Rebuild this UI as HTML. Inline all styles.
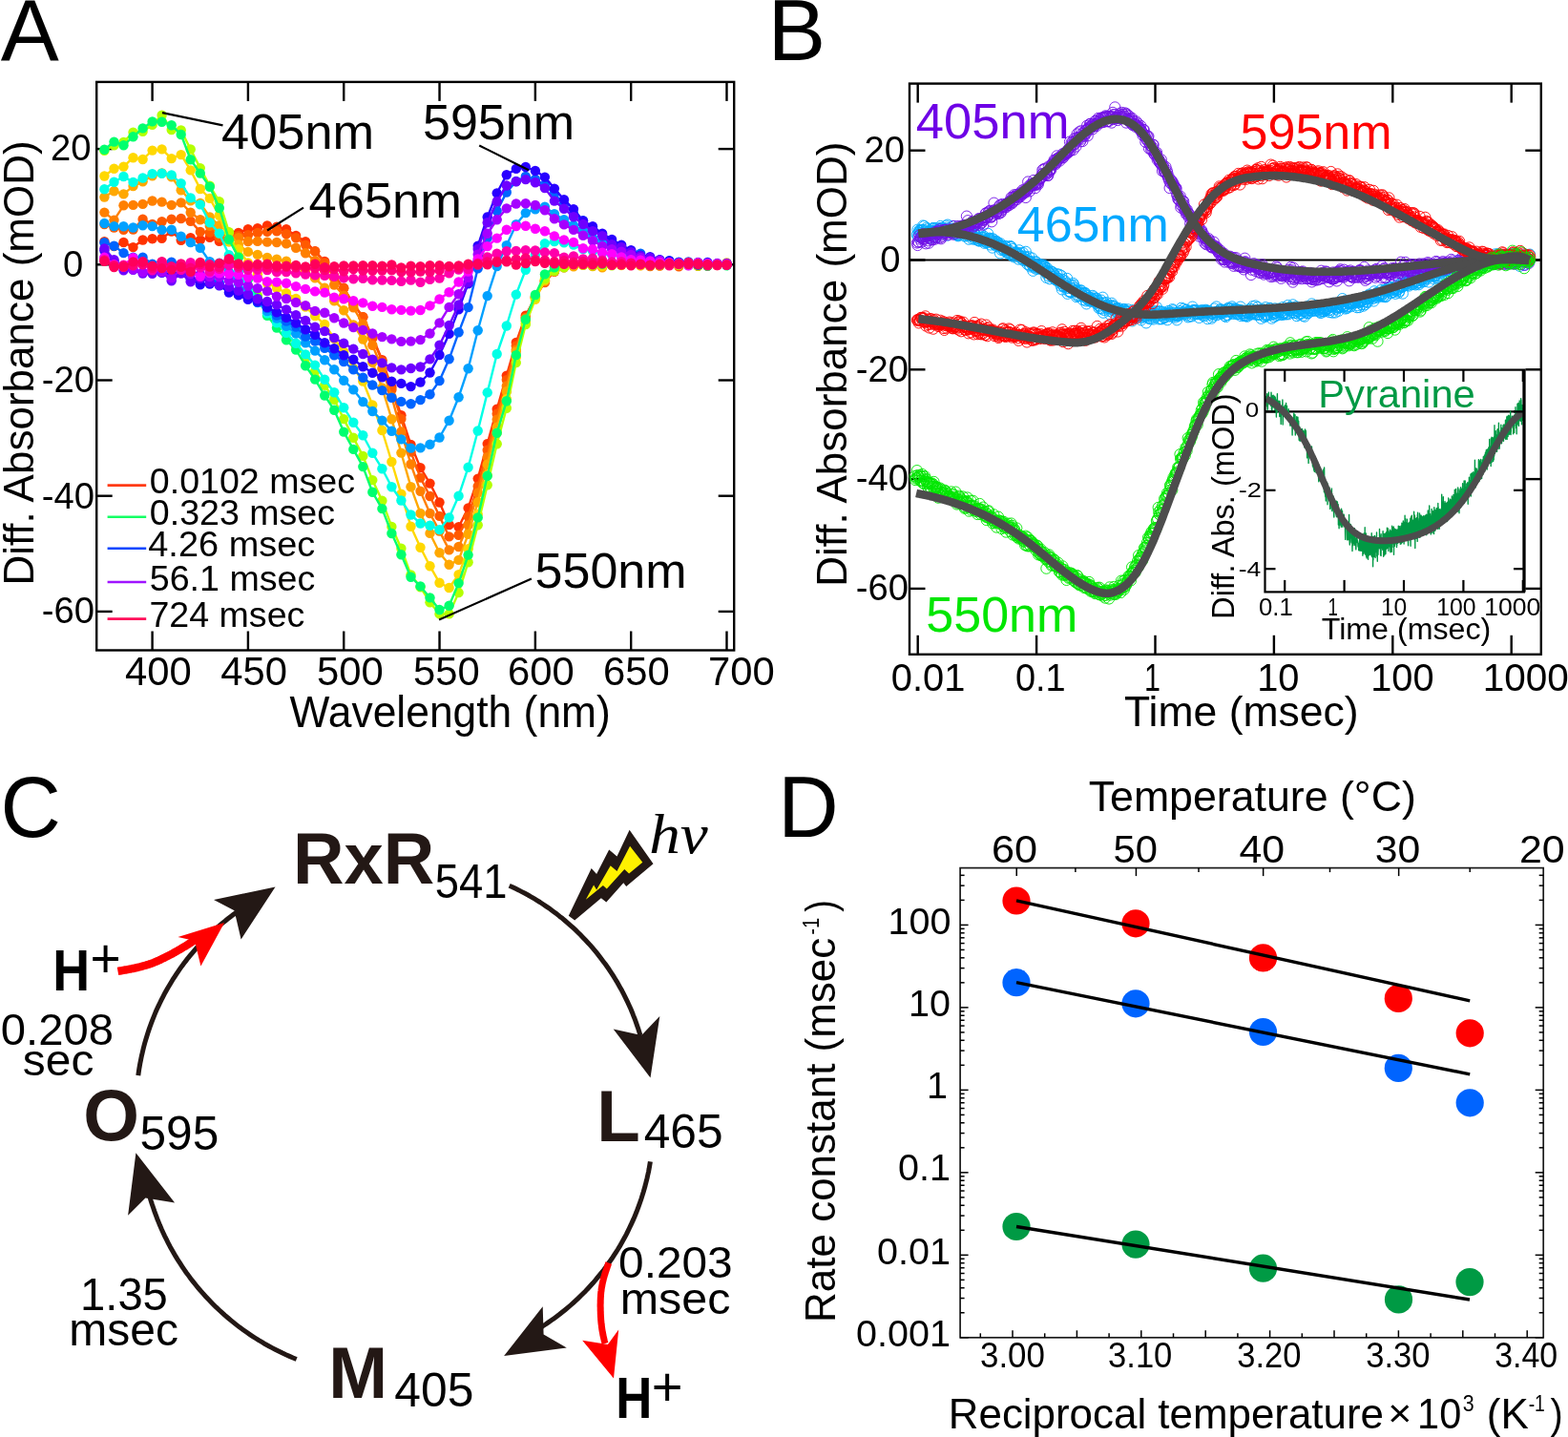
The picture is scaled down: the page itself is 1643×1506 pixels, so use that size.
<!DOCTYPE html>
<html><head><meta charset="utf-8"><title>Figure</title>
<style>html,body{margin:0;padding:0;background:#fff;} svg{display:block;}</style></head>
<body><svg width="1643" height="1506" viewBox="0 0 1643 1506">
<rect width="1643" height="1506" fill="#fff"/>
<rect x="101.2" y="85.9" width="668.0" height="595.6" fill="none" stroke="#000" stroke-width="2.4"/>
<line x1="159.60" y1="85.90" x2="159.60" y2="105.90" stroke="#000" stroke-width="2.4" stroke-linecap="butt"/>
<line x1="159.60" y1="681.50" x2="159.60" y2="661.50" stroke="#000" stroke-width="2.4" stroke-linecap="butt"/>
<line x1="259.91" y1="85.90" x2="259.91" y2="105.90" stroke="#000" stroke-width="2.4" stroke-linecap="butt"/>
<line x1="259.91" y1="681.50" x2="259.91" y2="661.50" stroke="#000" stroke-width="2.4" stroke-linecap="butt"/>
<line x1="360.23" y1="85.90" x2="360.23" y2="105.90" stroke="#000" stroke-width="2.4" stroke-linecap="butt"/>
<line x1="360.23" y1="681.50" x2="360.23" y2="661.50" stroke="#000" stroke-width="2.4" stroke-linecap="butt"/>
<line x1="460.54" y1="85.90" x2="460.54" y2="105.90" stroke="#000" stroke-width="2.4" stroke-linecap="butt"/>
<line x1="460.54" y1="681.50" x2="460.54" y2="661.50" stroke="#000" stroke-width="2.4" stroke-linecap="butt"/>
<line x1="560.86" y1="85.90" x2="560.86" y2="105.90" stroke="#000" stroke-width="2.4" stroke-linecap="butt"/>
<line x1="560.86" y1="681.50" x2="560.86" y2="661.50" stroke="#000" stroke-width="2.4" stroke-linecap="butt"/>
<line x1="661.17" y1="85.90" x2="661.17" y2="105.90" stroke="#000" stroke-width="2.4" stroke-linecap="butt"/>
<line x1="661.17" y1="681.50" x2="661.17" y2="661.50" stroke="#000" stroke-width="2.4" stroke-linecap="butt"/>
<line x1="761.49" y1="85.90" x2="761.49" y2="105.90" stroke="#000" stroke-width="2.4" stroke-linecap="butt"/>
<line x1="761.49" y1="681.50" x2="761.49" y2="661.50" stroke="#000" stroke-width="2.4" stroke-linecap="butt"/>
<line x1="101.20" y1="156.10" x2="117.70" y2="156.10" stroke="#000" stroke-width="2.4" stroke-linecap="butt"/>
<line x1="769.20" y1="156.10" x2="752.70" y2="156.10" stroke="#000" stroke-width="2.4" stroke-linecap="butt"/>
<line x1="101.20" y1="277.30" x2="117.70" y2="277.30" stroke="#000" stroke-width="2.4" stroke-linecap="butt"/>
<line x1="769.20" y1="277.30" x2="752.70" y2="277.30" stroke="#000" stroke-width="2.4" stroke-linecap="butt"/>
<line x1="101.20" y1="398.50" x2="117.70" y2="398.50" stroke="#000" stroke-width="2.4" stroke-linecap="butt"/>
<line x1="769.20" y1="398.50" x2="752.70" y2="398.50" stroke="#000" stroke-width="2.4" stroke-linecap="butt"/>
<line x1="101.20" y1="519.70" x2="117.70" y2="519.70" stroke="#000" stroke-width="2.4" stroke-linecap="butt"/>
<line x1="769.20" y1="519.70" x2="752.70" y2="519.70" stroke="#000" stroke-width="2.4" stroke-linecap="butt"/>
<line x1="101.20" y1="640.90" x2="117.70" y2="640.90" stroke="#000" stroke-width="2.4" stroke-linecap="butt"/>
<line x1="769.20" y1="640.90" x2="752.70" y2="640.90" stroke="#000" stroke-width="2.4" stroke-linecap="butt"/>
<g>
<polyline points="109.4,253.1 119.5,258.1 129.5,254.0 139.5,259.1 149.6,251.5 159.6,250.3 169.6,249.8 179.7,242.5 189.7,251.7 199.7,249.1 209.8,251.4 219.8,248.8 229.8,252.7 239.9,253.1 249.9,244.0 259.9,240.3 269.9,239.1 280.0,236.5 290.0,237.8 300.0,240.3 310.1,246.9 320.1,253.3 330.1,263.3 340.2,274.0 350.2,289.3 360.2,301.7 370.3,319.0 380.3,332.3 390.3,353.1 400.4,377.2 410.4,406.0 420.4,435.3 430.5,466.0 440.5,490.1 450.5,506.6 460.5,526.5 470.6,550.0 480.6,552.2 490.6,532.4 500.7,501.6 510.7,465.1 520.7,428.7 530.8,393.6 540.8,359.0 550.8,330.6 560.9,312.0 570.9,294.7 580.9,284.5 591.0,280.3 601.0,275.5 611.0,276.6 621.0,278.4 631.1,277.2 641.1,276.8 651.1,277.5 661.2,276.7 671.2,277.4 681.2,276.7 691.3,276.0 701.3,277.9 711.3,277.1 721.4,277.7 731.4,277.2 741.4,278.4 751.5,277.8 761.5,277.5" fill="none" stroke="#ff3300" stroke-width="2.4" stroke-linejoin="round" />
<g fill="#ff3300"><circle cx="109.4" cy="253.1" r="5.2"/><circle cx="119.5" cy="258.1" r="5.2"/><circle cx="129.5" cy="254.0" r="5.2"/><circle cx="139.5" cy="259.1" r="5.2"/><circle cx="149.6" cy="251.5" r="5.2"/><circle cx="159.6" cy="250.3" r="5.2"/><circle cx="169.6" cy="249.8" r="5.2"/><circle cx="179.7" cy="242.5" r="5.2"/><circle cx="189.7" cy="251.7" r="5.2"/><circle cx="199.7" cy="249.1" r="5.2"/><circle cx="209.8" cy="251.4" r="5.2"/><circle cx="219.8" cy="248.8" r="5.2"/><circle cx="229.8" cy="252.7" r="5.2"/><circle cx="239.9" cy="253.1" r="5.2"/><circle cx="249.9" cy="244.0" r="5.2"/><circle cx="259.9" cy="240.3" r="5.2"/><circle cx="269.9" cy="239.1" r="5.2"/><circle cx="280.0" cy="236.5" r="5.2"/><circle cx="290.0" cy="237.8" r="5.2"/><circle cx="300.0" cy="240.3" r="5.2"/><circle cx="310.1" cy="246.9" r="5.2"/><circle cx="320.1" cy="253.3" r="5.2"/><circle cx="330.1" cy="263.3" r="5.2"/><circle cx="340.2" cy="274.0" r="5.2"/><circle cx="350.2" cy="289.3" r="5.2"/><circle cx="360.2" cy="301.7" r="5.2"/><circle cx="370.3" cy="319.0" r="5.2"/><circle cx="380.3" cy="332.3" r="5.2"/><circle cx="390.3" cy="353.1" r="5.2"/><circle cx="400.4" cy="377.2" r="5.2"/><circle cx="410.4" cy="406.0" r="5.2"/><circle cx="420.4" cy="435.3" r="5.2"/><circle cx="430.5" cy="466.0" r="5.2"/><circle cx="440.5" cy="490.1" r="5.2"/><circle cx="450.5" cy="506.6" r="5.2"/><circle cx="460.5" cy="526.5" r="5.2"/><circle cx="470.6" cy="550.0" r="5.2"/><circle cx="480.6" cy="552.2" r="5.2"/><circle cx="490.6" cy="532.4" r="5.2"/><circle cx="500.7" cy="501.6" r="5.2"/><circle cx="510.7" cy="465.1" r="5.2"/><circle cx="520.7" cy="428.7" r="5.2"/><circle cx="530.8" cy="393.6" r="5.2"/><circle cx="540.8" cy="359.0" r="5.2"/><circle cx="550.8" cy="330.6" r="5.2"/><circle cx="560.9" cy="312.0" r="5.2"/><circle cx="570.9" cy="294.7" r="5.2"/><circle cx="580.9" cy="284.5" r="5.2"/><circle cx="591.0" cy="280.3" r="5.2"/><circle cx="601.0" cy="275.5" r="5.2"/><circle cx="611.0" cy="276.6" r="5.2"/><circle cx="621.0" cy="278.4" r="5.2"/><circle cx="631.1" cy="277.2" r="5.2"/><circle cx="641.1" cy="276.8" r="5.2"/><circle cx="651.1" cy="277.5" r="5.2"/><circle cx="661.2" cy="276.7" r="5.2"/><circle cx="671.2" cy="277.4" r="5.2"/><circle cx="681.2" cy="276.7" r="5.2"/><circle cx="691.3" cy="276.0" r="5.2"/><circle cx="701.3" cy="277.9" r="5.2"/><circle cx="711.3" cy="277.1" r="5.2"/><circle cx="721.4" cy="277.7" r="5.2"/><circle cx="731.4" cy="277.2" r="5.2"/><circle cx="741.4" cy="278.4" r="5.2"/><circle cx="751.5" cy="277.8" r="5.2"/><circle cx="761.5" cy="277.5" r="5.2"/></g>
<polyline points="109.4,235.1 119.5,238.5 129.5,240.7 139.5,240.6 149.6,229.7 159.6,235.0 169.6,232.2 179.7,229.7 189.7,229.0 199.7,231.8 209.8,242.9 219.8,243.6 229.8,249.0 239.9,244.0 249.9,247.2 259.9,246.3 269.9,244.0 280.0,242.9 290.0,242.3 300.0,245.2 310.1,249.2 320.1,256.6 330.1,263.5 340.2,275.5 350.2,290.9 360.2,302.2 370.3,318.2 380.3,332.1 390.3,354.4 400.4,378.6 410.4,408.6 420.4,439.0 430.5,473.6 440.5,500.6 450.5,520.0 460.5,540.9 470.6,562.4 480.6,560.8 490.6,541.4 500.7,509.7 510.7,471.7 520.7,433.8 530.8,398.1 540.8,362.5 550.8,332.6 560.9,310.6 570.9,296.0 580.9,284.5 591.0,279.6 601.0,278.3 611.0,277.1 621.0,278.1 631.1,276.4 641.1,277.1 651.1,277.2 661.2,277.8 671.2,277.4 681.2,279.1 691.3,278.3 701.3,277.0 711.3,279.2 721.4,276.5 731.4,278.9 741.4,276.6 751.5,278.1 761.5,276.6" fill="none" stroke="#ff5a00" stroke-width="2.4" stroke-linejoin="round" />
<g fill="#ff5a00"><circle cx="109.4" cy="235.1" r="5.2"/><circle cx="119.5" cy="238.5" r="5.2"/><circle cx="129.5" cy="240.7" r="5.2"/><circle cx="139.5" cy="240.6" r="5.2"/><circle cx="149.6" cy="229.7" r="5.2"/><circle cx="159.6" cy="235.0" r="5.2"/><circle cx="169.6" cy="232.2" r="5.2"/><circle cx="179.7" cy="229.7" r="5.2"/><circle cx="189.7" cy="229.0" r="5.2"/><circle cx="199.7" cy="231.8" r="5.2"/><circle cx="209.8" cy="242.9" r="5.2"/><circle cx="219.8" cy="243.6" r="5.2"/><circle cx="229.8" cy="249.0" r="5.2"/><circle cx="239.9" cy="244.0" r="5.2"/><circle cx="249.9" cy="247.2" r="5.2"/><circle cx="259.9" cy="246.3" r="5.2"/><circle cx="269.9" cy="244.0" r="5.2"/><circle cx="280.0" cy="242.9" r="5.2"/><circle cx="290.0" cy="242.3" r="5.2"/><circle cx="300.0" cy="245.2" r="5.2"/><circle cx="310.1" cy="249.2" r="5.2"/><circle cx="320.1" cy="256.6" r="5.2"/><circle cx="330.1" cy="263.5" r="5.2"/><circle cx="340.2" cy="275.5" r="5.2"/><circle cx="350.2" cy="290.9" r="5.2"/><circle cx="360.2" cy="302.2" r="5.2"/><circle cx="370.3" cy="318.2" r="5.2"/><circle cx="380.3" cy="332.1" r="5.2"/><circle cx="390.3" cy="354.4" r="5.2"/><circle cx="400.4" cy="378.6" r="5.2"/><circle cx="410.4" cy="408.6" r="5.2"/><circle cx="420.4" cy="439.0" r="5.2"/><circle cx="430.5" cy="473.6" r="5.2"/><circle cx="440.5" cy="500.6" r="5.2"/><circle cx="450.5" cy="520.0" r="5.2"/><circle cx="460.5" cy="540.9" r="5.2"/><circle cx="470.6" cy="562.4" r="5.2"/><circle cx="480.6" cy="560.8" r="5.2"/><circle cx="490.6" cy="541.4" r="5.2"/><circle cx="500.7" cy="509.7" r="5.2"/><circle cx="510.7" cy="471.7" r="5.2"/><circle cx="520.7" cy="433.8" r="5.2"/><circle cx="530.8" cy="398.1" r="5.2"/><circle cx="540.8" cy="362.5" r="5.2"/><circle cx="550.8" cy="332.6" r="5.2"/><circle cx="560.9" cy="310.6" r="5.2"/><circle cx="570.9" cy="296.0" r="5.2"/><circle cx="580.9" cy="284.5" r="5.2"/><circle cx="591.0" cy="279.6" r="5.2"/><circle cx="601.0" cy="278.3" r="5.2"/><circle cx="611.0" cy="277.1" r="5.2"/><circle cx="621.0" cy="278.1" r="5.2"/><circle cx="631.1" cy="276.4" r="5.2"/><circle cx="641.1" cy="277.1" r="5.2"/><circle cx="651.1" cy="277.2" r="5.2"/><circle cx="661.2" cy="277.8" r="5.2"/><circle cx="671.2" cy="277.4" r="5.2"/><circle cx="681.2" cy="279.1" r="5.2"/><circle cx="691.3" cy="278.3" r="5.2"/><circle cx="701.3" cy="277.0" r="5.2"/><circle cx="711.3" cy="279.2" r="5.2"/><circle cx="721.4" cy="276.5" r="5.2"/><circle cx="731.4" cy="278.9" r="5.2"/><circle cx="741.4" cy="276.6" r="5.2"/><circle cx="751.5" cy="278.1" r="5.2"/><circle cx="761.5" cy="276.6" r="5.2"/></g>
<polyline points="109.4,222.6 119.5,230.6 129.5,215.3 139.5,214.9 149.6,213.9 159.6,210.5 169.6,211.6 179.7,214.9 189.7,212.4 199.7,222.7 209.8,230.2 219.8,236.8 229.8,245.0 239.9,252.2 249.9,249.2 259.9,253.0 269.9,252.9 280.0,253.6 290.0,254.0 300.0,255.3 310.1,259.8 320.1,265.3 330.1,273.2 340.2,283.6 350.2,298.5 360.2,309.7 370.3,322.3 380.3,339.5 390.3,361.8 400.4,386.3 410.4,415.7 420.4,452.4 430.5,486.5 440.5,514.7 450.5,538.0 460.5,556.6 470.6,576.4 480.6,573.0 490.6,550.4 500.7,516.4 510.7,479.1 520.7,439.8 530.8,404.4 540.8,366.6 550.8,333.4 560.9,312.0 570.9,294.3 580.9,284.2 591.0,279.9 601.0,277.8 611.0,276.7 621.0,277.6 631.1,277.4 641.1,277.3 651.1,276.2 661.2,276.7 671.2,277.0 681.2,277.8 691.3,278.6 701.3,276.4 711.3,276.4 721.4,277.4 731.4,276.8 741.4,276.6 751.5,276.5 761.5,276.5" fill="none" stroke="#ff8000" stroke-width="2.4" stroke-linejoin="round" />
<g fill="#ff8000"><circle cx="109.4" cy="222.6" r="5.2"/><circle cx="119.5" cy="230.6" r="5.2"/><circle cx="129.5" cy="215.3" r="5.2"/><circle cx="139.5" cy="214.9" r="5.2"/><circle cx="149.6" cy="213.9" r="5.2"/><circle cx="159.6" cy="210.5" r="5.2"/><circle cx="169.6" cy="211.6" r="5.2"/><circle cx="179.7" cy="214.9" r="5.2"/><circle cx="189.7" cy="212.4" r="5.2"/><circle cx="199.7" cy="222.7" r="5.2"/><circle cx="209.8" cy="230.2" r="5.2"/><circle cx="219.8" cy="236.8" r="5.2"/><circle cx="229.8" cy="245.0" r="5.2"/><circle cx="239.9" cy="252.2" r="5.2"/><circle cx="249.9" cy="249.2" r="5.2"/><circle cx="259.9" cy="253.0" r="5.2"/><circle cx="269.9" cy="252.9" r="5.2"/><circle cx="280.0" cy="253.6" r="5.2"/><circle cx="290.0" cy="254.0" r="5.2"/><circle cx="300.0" cy="255.3" r="5.2"/><circle cx="310.1" cy="259.8" r="5.2"/><circle cx="320.1" cy="265.3" r="5.2"/><circle cx="330.1" cy="273.2" r="5.2"/><circle cx="340.2" cy="283.6" r="5.2"/><circle cx="350.2" cy="298.5" r="5.2"/><circle cx="360.2" cy="309.7" r="5.2"/><circle cx="370.3" cy="322.3" r="5.2"/><circle cx="380.3" cy="339.5" r="5.2"/><circle cx="390.3" cy="361.8" r="5.2"/><circle cx="400.4" cy="386.3" r="5.2"/><circle cx="410.4" cy="415.7" r="5.2"/><circle cx="420.4" cy="452.4" r="5.2"/><circle cx="430.5" cy="486.5" r="5.2"/><circle cx="440.5" cy="514.7" r="5.2"/><circle cx="450.5" cy="538.0" r="5.2"/><circle cx="460.5" cy="556.6" r="5.2"/><circle cx="470.6" cy="576.4" r="5.2"/><circle cx="480.6" cy="573.0" r="5.2"/><circle cx="490.6" cy="550.4" r="5.2"/><circle cx="500.7" cy="516.4" r="5.2"/><circle cx="510.7" cy="479.1" r="5.2"/><circle cx="520.7" cy="439.8" r="5.2"/><circle cx="530.8" cy="404.4" r="5.2"/><circle cx="540.8" cy="366.6" r="5.2"/><circle cx="550.8" cy="333.4" r="5.2"/><circle cx="560.9" cy="312.0" r="5.2"/><circle cx="570.9" cy="294.3" r="5.2"/><circle cx="580.9" cy="284.2" r="5.2"/><circle cx="591.0" cy="279.9" r="5.2"/><circle cx="601.0" cy="277.8" r="5.2"/><circle cx="611.0" cy="276.7" r="5.2"/><circle cx="621.0" cy="277.6" r="5.2"/><circle cx="631.1" cy="277.4" r="5.2"/><circle cx="641.1" cy="277.3" r="5.2"/><circle cx="651.1" cy="276.2" r="5.2"/><circle cx="661.2" cy="276.7" r="5.2"/><circle cx="671.2" cy="277.0" r="5.2"/><circle cx="681.2" cy="277.8" r="5.2"/><circle cx="691.3" cy="278.6" r="5.2"/><circle cx="701.3" cy="276.4" r="5.2"/><circle cx="711.3" cy="276.4" r="5.2"/><circle cx="721.4" cy="277.4" r="5.2"/><circle cx="731.4" cy="276.8" r="5.2"/><circle cx="741.4" cy="276.6" r="5.2"/><circle cx="751.5" cy="276.5" r="5.2"/><circle cx="761.5" cy="276.5" r="5.2"/></g>
<polyline points="109.4,206.6 119.5,200.3 129.5,203.4 139.5,195.1 149.6,190.3 159.6,184.3 169.6,181.4 179.7,185.3 189.7,199.3 199.7,210.4 209.8,213.0 219.8,227.5 229.8,236.2 239.9,243.7 249.9,256.4 259.9,263.9 269.9,266.9 280.0,269.9 290.0,271.7 300.0,273.7 310.1,279.0 320.1,285.4 330.1,291.4 340.2,301.7 350.2,315.3 360.2,325.2 370.3,340.5 380.3,355.6 390.3,379.8 400.4,406.4 410.4,439.2 420.4,474.6 430.5,510.2 440.5,537.9 450.5,558.9 460.5,579.2 470.6,591.8 480.6,586.9 490.6,559.8 500.7,526.2 510.7,486.7 520.7,447.6 530.8,410.3 540.8,368.6 550.8,336.3 560.9,312.0 570.9,294.3 580.9,282.9 591.0,279.5 601.0,279.3 611.0,277.9 621.0,279.1 631.1,280.3 641.1,277.8 651.1,276.1 661.2,277.3 671.2,278.4 681.2,278.2 691.3,276.3 701.3,277.2 711.3,277.3 721.4,277.3 731.4,277.3 741.4,276.6 751.5,276.8 761.5,277.1" fill="none" stroke="#ffa800" stroke-width="2.4" stroke-linejoin="round" />
<g fill="#ffa800"><circle cx="109.4" cy="206.6" r="5.2"/><circle cx="119.5" cy="200.3" r="5.2"/><circle cx="129.5" cy="203.4" r="5.2"/><circle cx="139.5" cy="195.1" r="5.2"/><circle cx="149.6" cy="190.3" r="5.2"/><circle cx="159.6" cy="184.3" r="5.2"/><circle cx="169.6" cy="181.4" r="5.2"/><circle cx="179.7" cy="185.3" r="5.2"/><circle cx="189.7" cy="199.3" r="5.2"/><circle cx="199.7" cy="210.4" r="5.2"/><circle cx="209.8" cy="213.0" r="5.2"/><circle cx="219.8" cy="227.5" r="5.2"/><circle cx="229.8" cy="236.2" r="5.2"/><circle cx="239.9" cy="243.7" r="5.2"/><circle cx="249.9" cy="256.4" r="5.2"/><circle cx="259.9" cy="263.9" r="5.2"/><circle cx="269.9" cy="266.9" r="5.2"/><circle cx="280.0" cy="269.9" r="5.2"/><circle cx="290.0" cy="271.7" r="5.2"/><circle cx="300.0" cy="273.7" r="5.2"/><circle cx="310.1" cy="279.0" r="5.2"/><circle cx="320.1" cy="285.4" r="5.2"/><circle cx="330.1" cy="291.4" r="5.2"/><circle cx="340.2" cy="301.7" r="5.2"/><circle cx="350.2" cy="315.3" r="5.2"/><circle cx="360.2" cy="325.2" r="5.2"/><circle cx="370.3" cy="340.5" r="5.2"/><circle cx="380.3" cy="355.6" r="5.2"/><circle cx="390.3" cy="379.8" r="5.2"/><circle cx="400.4" cy="406.4" r="5.2"/><circle cx="410.4" cy="439.2" r="5.2"/><circle cx="420.4" cy="474.6" r="5.2"/><circle cx="430.5" cy="510.2" r="5.2"/><circle cx="440.5" cy="537.9" r="5.2"/><circle cx="450.5" cy="558.9" r="5.2"/><circle cx="460.5" cy="579.2" r="5.2"/><circle cx="470.6" cy="591.8" r="5.2"/><circle cx="480.6" cy="586.9" r="5.2"/><circle cx="490.6" cy="559.8" r="5.2"/><circle cx="500.7" cy="526.2" r="5.2"/><circle cx="510.7" cy="486.7" r="5.2"/><circle cx="520.7" cy="447.6" r="5.2"/><circle cx="530.8" cy="410.3" r="5.2"/><circle cx="540.8" cy="368.6" r="5.2"/><circle cx="550.8" cy="336.3" r="5.2"/><circle cx="560.9" cy="312.0" r="5.2"/><circle cx="570.9" cy="294.3" r="5.2"/><circle cx="580.9" cy="282.9" r="5.2"/><circle cx="591.0" cy="279.5" r="5.2"/><circle cx="601.0" cy="279.3" r="5.2"/><circle cx="611.0" cy="277.9" r="5.2"/><circle cx="621.0" cy="279.1" r="5.2"/><circle cx="631.1" cy="280.3" r="5.2"/><circle cx="641.1" cy="277.8" r="5.2"/><circle cx="651.1" cy="276.1" r="5.2"/><circle cx="661.2" cy="277.3" r="5.2"/><circle cx="671.2" cy="278.4" r="5.2"/><circle cx="681.2" cy="278.2" r="5.2"/><circle cx="691.3" cy="276.3" r="5.2"/><circle cx="701.3" cy="277.2" r="5.2"/><circle cx="711.3" cy="277.3" r="5.2"/><circle cx="721.4" cy="277.3" r="5.2"/><circle cx="731.4" cy="277.3" r="5.2"/><circle cx="741.4" cy="276.6" r="5.2"/><circle cx="751.5" cy="276.8" r="5.2"/><circle cx="761.5" cy="277.1" r="5.2"/></g>
<polyline points="109.4,184.5 119.5,176.7 129.5,174.6 139.5,165.2 149.6,167.0 159.6,157.6 169.6,156.4 179.7,166.1 189.7,162.1 199.7,178.4 209.8,198.0 219.8,207.9 229.8,225.8 239.9,253.3 249.9,261.2 259.9,275.5 269.9,287.3 280.0,296.8 290.0,301.8 300.0,307.1 310.1,313.0 320.1,321.6 330.1,331.1 340.2,339.9 350.2,354.7 360.2,368.8 370.3,385.9 380.3,399.5 390.3,424.5 400.4,451.0 410.4,484.0 420.4,517.6 430.5,551.7 440.5,573.8 450.5,593.2 460.5,610.8 470.6,616.0 480.6,602.1 490.6,575.3 500.7,539.1 510.7,498.0 520.7,453.5 530.8,418.2 540.8,374.3 550.8,338.7 560.9,313.8 570.9,293.4 580.9,282.9 591.0,279.6 601.0,277.5 611.0,277.5 621.0,277.2 631.1,278.7 641.1,277.5 651.1,278.1 661.2,276.5 671.2,278.0 681.2,276.8 691.3,275.9 701.3,277.6 711.3,277.8 721.4,277.1 731.4,277.3 741.4,278.2 751.5,276.9 761.5,275.5" fill="none" stroke="#ffd800" stroke-width="2.4" stroke-linejoin="round" />
<g fill="#ffd800"><circle cx="109.4" cy="184.5" r="5.2"/><circle cx="119.5" cy="176.7" r="5.2"/><circle cx="129.5" cy="174.6" r="5.2"/><circle cx="139.5" cy="165.2" r="5.2"/><circle cx="149.6" cy="167.0" r="5.2"/><circle cx="159.6" cy="157.6" r="5.2"/><circle cx="169.6" cy="156.4" r="5.2"/><circle cx="179.7" cy="166.1" r="5.2"/><circle cx="189.7" cy="162.1" r="5.2"/><circle cx="199.7" cy="178.4" r="5.2"/><circle cx="209.8" cy="198.0" r="5.2"/><circle cx="219.8" cy="207.9" r="5.2"/><circle cx="229.8" cy="225.8" r="5.2"/><circle cx="239.9" cy="253.3" r="5.2"/><circle cx="249.9" cy="261.2" r="5.2"/><circle cx="259.9" cy="275.5" r="5.2"/><circle cx="269.9" cy="287.3" r="5.2"/><circle cx="280.0" cy="296.8" r="5.2"/><circle cx="290.0" cy="301.8" r="5.2"/><circle cx="300.0" cy="307.1" r="5.2"/><circle cx="310.1" cy="313.0" r="5.2"/><circle cx="320.1" cy="321.6" r="5.2"/><circle cx="330.1" cy="331.1" r="5.2"/><circle cx="340.2" cy="339.9" r="5.2"/><circle cx="350.2" cy="354.7" r="5.2"/><circle cx="360.2" cy="368.8" r="5.2"/><circle cx="370.3" cy="385.9" r="5.2"/><circle cx="380.3" cy="399.5" r="5.2"/><circle cx="390.3" cy="424.5" r="5.2"/><circle cx="400.4" cy="451.0" r="5.2"/><circle cx="410.4" cy="484.0" r="5.2"/><circle cx="420.4" cy="517.6" r="5.2"/><circle cx="430.5" cy="551.7" r="5.2"/><circle cx="440.5" cy="573.8" r="5.2"/><circle cx="450.5" cy="593.2" r="5.2"/><circle cx="460.5" cy="610.8" r="5.2"/><circle cx="470.6" cy="616.0" r="5.2"/><circle cx="480.6" cy="602.1" r="5.2"/><circle cx="490.6" cy="575.3" r="5.2"/><circle cx="500.7" cy="539.1" r="5.2"/><circle cx="510.7" cy="498.0" r="5.2"/><circle cx="520.7" cy="453.5" r="5.2"/><circle cx="530.8" cy="418.2" r="5.2"/><circle cx="540.8" cy="374.3" r="5.2"/><circle cx="550.8" cy="338.7" r="5.2"/><circle cx="560.9" cy="313.8" r="5.2"/><circle cx="570.9" cy="293.4" r="5.2"/><circle cx="580.9" cy="282.9" r="5.2"/><circle cx="591.0" cy="279.6" r="5.2"/><circle cx="601.0" cy="277.5" r="5.2"/><circle cx="611.0" cy="277.5" r="5.2"/><circle cx="621.0" cy="277.2" r="5.2"/><circle cx="631.1" cy="278.7" r="5.2"/><circle cx="641.1" cy="277.5" r="5.2"/><circle cx="651.1" cy="278.1" r="5.2"/><circle cx="661.2" cy="276.5" r="5.2"/><circle cx="671.2" cy="278.0" r="5.2"/><circle cx="681.2" cy="276.8" r="5.2"/><circle cx="691.3" cy="275.9" r="5.2"/><circle cx="701.3" cy="277.6" r="5.2"/><circle cx="711.3" cy="277.8" r="5.2"/><circle cx="721.4" cy="277.1" r="5.2"/><circle cx="731.4" cy="277.3" r="5.2"/><circle cx="741.4" cy="278.2" r="5.2"/><circle cx="751.5" cy="276.9" r="5.2"/><circle cx="761.5" cy="275.5" r="5.2"/></g>
<polyline points="109.4,157.9 119.5,152.2 129.5,148.9 139.5,138.7 149.6,137.8 159.6,130.9 169.6,120.7 179.7,136.0 189.7,136.5 199.7,156.5 209.8,176.1 219.8,194.8 229.8,211.2 239.9,243.2 249.9,268.8 259.9,291.2 269.9,309.7 280.0,324.0 290.0,336.6 300.0,349.3 310.1,361.9 320.1,374.9 330.1,389.1 340.2,403.7 350.2,418.8 360.2,439.1 370.3,458.8 380.3,477.9 390.3,503.1 400.4,524.8 410.4,551.9 420.4,574.7 430.5,602.5 440.5,615.3 450.5,631.2 460.5,643.4 470.6,643.4 480.6,621.1 490.6,589.2 500.7,550.3 510.7,508.3 520.7,465.3 530.8,427.7 540.8,380.1 550.8,340.0 560.9,311.5 570.9,292.4 580.9,284.1 591.0,280.2 601.0,277.4 611.0,277.5 621.0,278.3 631.1,277.2 641.1,278.3 651.1,276.3 661.2,276.3 671.2,276.3 681.2,277.7 691.3,276.8 701.3,277.4 711.3,277.7 721.4,277.6 731.4,278.5 741.4,278.6 751.5,276.6 761.5,277.5" fill="none" stroke="#b4ff00" stroke-width="2.4" stroke-linejoin="round" />
<g fill="#b4ff00"><circle cx="109.4" cy="157.9" r="5.2"/><circle cx="119.5" cy="152.2" r="5.2"/><circle cx="129.5" cy="148.9" r="5.2"/><circle cx="139.5" cy="138.7" r="5.2"/><circle cx="149.6" cy="137.8" r="5.2"/><circle cx="159.6" cy="130.9" r="5.2"/><circle cx="169.6" cy="120.7" r="5.2"/><circle cx="179.7" cy="136.0" r="5.2"/><circle cx="189.7" cy="136.5" r="5.2"/><circle cx="199.7" cy="156.5" r="5.2"/><circle cx="209.8" cy="176.1" r="5.2"/><circle cx="219.8" cy="194.8" r="5.2"/><circle cx="229.8" cy="211.2" r="5.2"/><circle cx="239.9" cy="243.2" r="5.2"/><circle cx="249.9" cy="268.8" r="5.2"/><circle cx="259.9" cy="291.2" r="5.2"/><circle cx="269.9" cy="309.7" r="5.2"/><circle cx="280.0" cy="324.0" r="5.2"/><circle cx="290.0" cy="336.6" r="5.2"/><circle cx="300.0" cy="349.3" r="5.2"/><circle cx="310.1" cy="361.9" r="5.2"/><circle cx="320.1" cy="374.9" r="5.2"/><circle cx="330.1" cy="389.1" r="5.2"/><circle cx="340.2" cy="403.7" r="5.2"/><circle cx="350.2" cy="418.8" r="5.2"/><circle cx="360.2" cy="439.1" r="5.2"/><circle cx="370.3" cy="458.8" r="5.2"/><circle cx="380.3" cy="477.9" r="5.2"/><circle cx="390.3" cy="503.1" r="5.2"/><circle cx="400.4" cy="524.8" r="5.2"/><circle cx="410.4" cy="551.9" r="5.2"/><circle cx="420.4" cy="574.7" r="5.2"/><circle cx="430.5" cy="602.5" r="5.2"/><circle cx="440.5" cy="615.3" r="5.2"/><circle cx="450.5" cy="631.2" r="5.2"/><circle cx="460.5" cy="643.4" r="5.2"/><circle cx="470.6" cy="643.4" r="5.2"/><circle cx="480.6" cy="621.1" r="5.2"/><circle cx="490.6" cy="589.2" r="5.2"/><circle cx="500.7" cy="550.3" r="5.2"/><circle cx="510.7" cy="508.3" r="5.2"/><circle cx="520.7" cy="465.3" r="5.2"/><circle cx="530.8" cy="427.7" r="5.2"/><circle cx="540.8" cy="380.1" r="5.2"/><circle cx="550.8" cy="340.0" r="5.2"/><circle cx="560.9" cy="311.5" r="5.2"/><circle cx="570.9" cy="292.4" r="5.2"/><circle cx="580.9" cy="284.1" r="5.2"/><circle cx="591.0" cy="280.2" r="5.2"/><circle cx="601.0" cy="277.4" r="5.2"/><circle cx="611.0" cy="277.5" r="5.2"/><circle cx="621.0" cy="278.3" r="5.2"/><circle cx="631.1" cy="277.2" r="5.2"/><circle cx="641.1" cy="278.3" r="5.2"/><circle cx="651.1" cy="276.3" r="5.2"/><circle cx="661.2" cy="276.3" r="5.2"/><circle cx="671.2" cy="276.3" r="5.2"/><circle cx="681.2" cy="277.7" r="5.2"/><circle cx="691.3" cy="276.8" r="5.2"/><circle cx="701.3" cy="277.4" r="5.2"/><circle cx="711.3" cy="277.7" r="5.2"/><circle cx="721.4" cy="277.6" r="5.2"/><circle cx="731.4" cy="278.5" r="5.2"/><circle cx="741.4" cy="278.6" r="5.2"/><circle cx="751.5" cy="276.6" r="5.2"/><circle cx="761.5" cy="277.5" r="5.2"/></g>
<polyline points="109.4,156.8 119.5,148.6 129.5,152.2 139.5,143.3 149.6,134.4 159.6,127.4 169.6,127.7 179.7,131.2 189.7,141.0 199.7,167.3 209.8,181.6 219.8,195.8 229.8,218.0 239.9,251.0 249.9,269.8 259.9,292.8 269.9,312.6 280.0,330.7 290.0,343.6 300.0,356.3 310.1,366.5 320.1,383.2 330.1,397.6 340.2,414.5 350.2,429.7 360.2,452.6 370.3,470.9 380.3,489.1 390.3,515.8 400.4,533.1 410.4,559.0 420.4,581.3 430.5,604.7 440.5,614.4 450.5,626.4 460.5,639.0 470.6,634.8 480.6,611.1 490.6,581.6 500.7,542.4 510.7,498.7 520.7,453.7 530.8,420.3 540.8,372.1 550.8,334.8 560.9,309.0 570.9,287.4 580.9,280.4 591.0,274.9 601.0,275.6 611.0,275.0 621.0,275.9 631.1,276.6 641.1,275.7 651.1,276.6 661.2,276.1 671.2,276.9 681.2,278.0 691.3,277.2 701.3,277.1 711.3,276.3 721.4,278.0 731.4,277.3 741.4,278.8 751.5,276.7 761.5,278.3" fill="none" stroke="#00ff6e" stroke-width="2.4" stroke-linejoin="round" />
<g fill="#00ff6e"><circle cx="109.4" cy="156.8" r="5.2"/><circle cx="119.5" cy="148.6" r="5.2"/><circle cx="129.5" cy="152.2" r="5.2"/><circle cx="139.5" cy="143.3" r="5.2"/><circle cx="149.6" cy="134.4" r="5.2"/><circle cx="159.6" cy="127.4" r="5.2"/><circle cx="169.6" cy="127.7" r="5.2"/><circle cx="179.7" cy="131.2" r="5.2"/><circle cx="189.7" cy="141.0" r="5.2"/><circle cx="199.7" cy="167.3" r="5.2"/><circle cx="209.8" cy="181.6" r="5.2"/><circle cx="219.8" cy="195.8" r="5.2"/><circle cx="229.8" cy="218.0" r="5.2"/><circle cx="239.9" cy="251.0" r="5.2"/><circle cx="249.9" cy="269.8" r="5.2"/><circle cx="259.9" cy="292.8" r="5.2"/><circle cx="269.9" cy="312.6" r="5.2"/><circle cx="280.0" cy="330.7" r="5.2"/><circle cx="290.0" cy="343.6" r="5.2"/><circle cx="300.0" cy="356.3" r="5.2"/><circle cx="310.1" cy="366.5" r="5.2"/><circle cx="320.1" cy="383.2" r="5.2"/><circle cx="330.1" cy="397.6" r="5.2"/><circle cx="340.2" cy="414.5" r="5.2"/><circle cx="350.2" cy="429.7" r="5.2"/><circle cx="360.2" cy="452.6" r="5.2"/><circle cx="370.3" cy="470.9" r="5.2"/><circle cx="380.3" cy="489.1" r="5.2"/><circle cx="390.3" cy="515.8" r="5.2"/><circle cx="400.4" cy="533.1" r="5.2"/><circle cx="410.4" cy="559.0" r="5.2"/><circle cx="420.4" cy="581.3" r="5.2"/><circle cx="430.5" cy="604.7" r="5.2"/><circle cx="440.5" cy="614.4" r="5.2"/><circle cx="450.5" cy="626.4" r="5.2"/><circle cx="460.5" cy="639.0" r="5.2"/><circle cx="470.6" cy="634.8" r="5.2"/><circle cx="480.6" cy="611.1" r="5.2"/><circle cx="490.6" cy="581.6" r="5.2"/><circle cx="500.7" cy="542.4" r="5.2"/><circle cx="510.7" cy="498.7" r="5.2"/><circle cx="520.7" cy="453.7" r="5.2"/><circle cx="530.8" cy="420.3" r="5.2"/><circle cx="540.8" cy="372.1" r="5.2"/><circle cx="550.8" cy="334.8" r="5.2"/><circle cx="560.9" cy="309.0" r="5.2"/><circle cx="570.9" cy="287.4" r="5.2"/><circle cx="580.9" cy="280.4" r="5.2"/><circle cx="591.0" cy="274.9" r="5.2"/><circle cx="601.0" cy="275.6" r="5.2"/><circle cx="611.0" cy="275.0" r="5.2"/><circle cx="621.0" cy="275.9" r="5.2"/><circle cx="631.1" cy="276.6" r="5.2"/><circle cx="641.1" cy="275.7" r="5.2"/><circle cx="651.1" cy="276.6" r="5.2"/><circle cx="661.2" cy="276.1" r="5.2"/><circle cx="671.2" cy="276.9" r="5.2"/><circle cx="681.2" cy="278.0" r="5.2"/><circle cx="691.3" cy="277.2" r="5.2"/><circle cx="701.3" cy="277.1" r="5.2"/><circle cx="711.3" cy="276.3" r="5.2"/><circle cx="721.4" cy="278.0" r="5.2"/><circle cx="731.4" cy="277.3" r="5.2"/><circle cx="741.4" cy="278.8" r="5.2"/><circle cx="751.5" cy="276.7" r="5.2"/><circle cx="761.5" cy="278.3" r="5.2"/></g>
<polyline points="109.4,198.3 119.5,190.7 129.5,185.0 139.5,190.9 149.6,186.5 159.6,182.1 169.6,181.8 179.7,183.4 189.7,192.1 199.7,207.4 209.8,214.4 219.8,233.3 229.8,244.6 239.9,267.2 249.9,284.3 259.9,301.5 269.9,313.5 280.0,328.2 290.0,338.4 300.0,348.7 310.1,359.7 320.1,371.4 330.1,382.6 340.2,397.7 350.2,411.2 360.2,427.2 370.3,442.8 380.3,456.2 390.3,474.8 400.4,491.2 410.4,510.2 420.4,524.5 430.5,539.5 440.5,548.5 450.5,550.7 460.5,555.1 470.6,542.4 480.6,519.8 490.6,489.8 500.7,451.5 510.7,411.4 520.7,371.0 530.8,341.5 540.8,308.6 550.8,282.8 560.9,267.0 570.9,255.1 580.9,253.1 591.0,254.2 601.0,256.6 611.0,261.1 621.0,263.1 631.1,265.5 641.1,266.8 651.1,268.4 661.2,271.9 671.2,274.0 681.2,274.6 691.3,275.7 701.3,276.5 711.3,276.3 721.4,277.4 731.4,276.1 741.4,277.0 751.5,276.9 761.5,277.5" fill="none" stroke="#00ffe6" stroke-width="2.4" stroke-linejoin="round" />
<g fill="#00ffe6"><circle cx="109.4" cy="198.3" r="5.2"/><circle cx="119.5" cy="190.7" r="5.2"/><circle cx="129.5" cy="185.0" r="5.2"/><circle cx="139.5" cy="190.9" r="5.2"/><circle cx="149.6" cy="186.5" r="5.2"/><circle cx="159.6" cy="182.1" r="5.2"/><circle cx="169.6" cy="181.8" r="5.2"/><circle cx="179.7" cy="183.4" r="5.2"/><circle cx="189.7" cy="192.1" r="5.2"/><circle cx="199.7" cy="207.4" r="5.2"/><circle cx="209.8" cy="214.4" r="5.2"/><circle cx="219.8" cy="233.3" r="5.2"/><circle cx="229.8" cy="244.6" r="5.2"/><circle cx="239.9" cy="267.2" r="5.2"/><circle cx="249.9" cy="284.3" r="5.2"/><circle cx="259.9" cy="301.5" r="5.2"/><circle cx="269.9" cy="313.5" r="5.2"/><circle cx="280.0" cy="328.2" r="5.2"/><circle cx="290.0" cy="338.4" r="5.2"/><circle cx="300.0" cy="348.7" r="5.2"/><circle cx="310.1" cy="359.7" r="5.2"/><circle cx="320.1" cy="371.4" r="5.2"/><circle cx="330.1" cy="382.6" r="5.2"/><circle cx="340.2" cy="397.7" r="5.2"/><circle cx="350.2" cy="411.2" r="5.2"/><circle cx="360.2" cy="427.2" r="5.2"/><circle cx="370.3" cy="442.8" r="5.2"/><circle cx="380.3" cy="456.2" r="5.2"/><circle cx="390.3" cy="474.8" r="5.2"/><circle cx="400.4" cy="491.2" r="5.2"/><circle cx="410.4" cy="510.2" r="5.2"/><circle cx="420.4" cy="524.5" r="5.2"/><circle cx="430.5" cy="539.5" r="5.2"/><circle cx="440.5" cy="548.5" r="5.2"/><circle cx="450.5" cy="550.7" r="5.2"/><circle cx="460.5" cy="555.1" r="5.2"/><circle cx="470.6" cy="542.4" r="5.2"/><circle cx="480.6" cy="519.8" r="5.2"/><circle cx="490.6" cy="489.8" r="5.2"/><circle cx="500.7" cy="451.5" r="5.2"/><circle cx="510.7" cy="411.4" r="5.2"/><circle cx="520.7" cy="371.0" r="5.2"/><circle cx="530.8" cy="341.5" r="5.2"/><circle cx="540.8" cy="308.6" r="5.2"/><circle cx="550.8" cy="282.8" r="5.2"/><circle cx="560.9" cy="267.0" r="5.2"/><circle cx="570.9" cy="255.1" r="5.2"/><circle cx="580.9" cy="253.1" r="5.2"/><circle cx="591.0" cy="254.2" r="5.2"/><circle cx="601.0" cy="256.6" r="5.2"/><circle cx="611.0" cy="261.1" r="5.2"/><circle cx="621.0" cy="263.1" r="5.2"/><circle cx="631.1" cy="265.5" r="5.2"/><circle cx="641.1" cy="266.8" r="5.2"/><circle cx="651.1" cy="268.4" r="5.2"/><circle cx="661.2" cy="271.9" r="5.2"/><circle cx="671.2" cy="274.0" r="5.2"/><circle cx="681.2" cy="274.6" r="5.2"/><circle cx="691.3" cy="275.7" r="5.2"/><circle cx="701.3" cy="276.5" r="5.2"/><circle cx="711.3" cy="276.3" r="5.2"/><circle cx="721.4" cy="277.4" r="5.2"/><circle cx="731.4" cy="276.1" r="5.2"/><circle cx="741.4" cy="277.0" r="5.2"/><circle cx="751.5" cy="276.9" r="5.2"/><circle cx="761.5" cy="277.5" r="5.2"/></g>
<polyline points="109.4,234.0 119.5,237.1 129.5,237.2 139.5,238.5 149.6,236.2 159.6,237.1 169.6,240.9 179.7,240.8 189.7,247.7 199.7,254.1 209.8,259.9 219.8,274.2 229.8,275.6 239.9,285.3 249.9,297.1 259.9,307.7 269.9,317.0 280.0,326.0 290.0,333.6 300.0,341.7 310.1,349.6 320.1,359.4 330.1,367.6 340.2,377.3 350.2,387.2 360.2,398.7 370.3,408.4 380.3,421.1 390.3,431.0 400.4,440.6 410.4,451.8 420.4,460.4 430.5,469.6 440.5,469.4 450.5,465.8 460.5,458.5 470.6,440.7 480.6,416.2 490.6,386.2 500.7,346.2 510.7,310.1 520.7,279.1 530.8,257.1 540.8,235.2 550.8,223.1 560.9,219.2 570.9,216.6 580.9,224.1 591.0,230.2 601.0,236.3 611.0,241.8 621.0,249.2 631.1,253.3 641.1,257.0 651.1,261.4 661.2,266.4 671.2,269.5 681.2,272.9 691.3,273.7 701.3,273.9 711.3,274.8 721.4,275.5 731.4,275.1 741.4,277.2 751.5,276.9 761.5,276.6" fill="none" stroke="#00a0ff" stroke-width="2.4" stroke-linejoin="round" />
<g fill="#00a0ff"><circle cx="109.4" cy="234.0" r="5.2"/><circle cx="119.5" cy="237.1" r="5.2"/><circle cx="129.5" cy="237.2" r="5.2"/><circle cx="139.5" cy="238.5" r="5.2"/><circle cx="149.6" cy="236.2" r="5.2"/><circle cx="159.6" cy="237.1" r="5.2"/><circle cx="169.6" cy="240.9" r="5.2"/><circle cx="179.7" cy="240.8" r="5.2"/><circle cx="189.7" cy="247.7" r="5.2"/><circle cx="199.7" cy="254.1" r="5.2"/><circle cx="209.8" cy="259.9" r="5.2"/><circle cx="219.8" cy="274.2" r="5.2"/><circle cx="229.8" cy="275.6" r="5.2"/><circle cx="239.9" cy="285.3" r="5.2"/><circle cx="249.9" cy="297.1" r="5.2"/><circle cx="259.9" cy="307.7" r="5.2"/><circle cx="269.9" cy="317.0" r="5.2"/><circle cx="280.0" cy="326.0" r="5.2"/><circle cx="290.0" cy="333.6" r="5.2"/><circle cx="300.0" cy="341.7" r="5.2"/><circle cx="310.1" cy="349.6" r="5.2"/><circle cx="320.1" cy="359.4" r="5.2"/><circle cx="330.1" cy="367.6" r="5.2"/><circle cx="340.2" cy="377.3" r="5.2"/><circle cx="350.2" cy="387.2" r="5.2"/><circle cx="360.2" cy="398.7" r="5.2"/><circle cx="370.3" cy="408.4" r="5.2"/><circle cx="380.3" cy="421.1" r="5.2"/><circle cx="390.3" cy="431.0" r="5.2"/><circle cx="400.4" cy="440.6" r="5.2"/><circle cx="410.4" cy="451.8" r="5.2"/><circle cx="420.4" cy="460.4" r="5.2"/><circle cx="430.5" cy="469.6" r="5.2"/><circle cx="440.5" cy="469.4" r="5.2"/><circle cx="450.5" cy="465.8" r="5.2"/><circle cx="460.5" cy="458.5" r="5.2"/><circle cx="470.6" cy="440.7" r="5.2"/><circle cx="480.6" cy="416.2" r="5.2"/><circle cx="490.6" cy="386.2" r="5.2"/><circle cx="500.7" cy="346.2" r="5.2"/><circle cx="510.7" cy="310.1" r="5.2"/><circle cx="520.7" cy="279.1" r="5.2"/><circle cx="530.8" cy="257.1" r="5.2"/><circle cx="540.8" cy="235.2" r="5.2"/><circle cx="550.8" cy="223.1" r="5.2"/><circle cx="560.9" cy="219.2" r="5.2"/><circle cx="570.9" cy="216.6" r="5.2"/><circle cx="580.9" cy="224.1" r="5.2"/><circle cx="591.0" cy="230.2" r="5.2"/><circle cx="601.0" cy="236.3" r="5.2"/><circle cx="611.0" cy="241.8" r="5.2"/><circle cx="621.0" cy="249.2" r="5.2"/><circle cx="631.1" cy="253.3" r="5.2"/><circle cx="641.1" cy="257.0" r="5.2"/><circle cx="651.1" cy="261.4" r="5.2"/><circle cx="661.2" cy="266.4" r="5.2"/><circle cx="671.2" cy="269.5" r="5.2"/><circle cx="681.2" cy="272.9" r="5.2"/><circle cx="691.3" cy="273.7" r="5.2"/><circle cx="701.3" cy="273.9" r="5.2"/><circle cx="711.3" cy="274.8" r="5.2"/><circle cx="721.4" cy="275.5" r="5.2"/><circle cx="731.4" cy="275.1" r="5.2"/><circle cx="741.4" cy="277.2" r="5.2"/><circle cx="751.5" cy="276.9" r="5.2"/><circle cx="761.5" cy="276.6" r="5.2"/></g>
<polyline points="109.4,254.3 119.5,257.7 129.5,265.1 139.5,269.7 149.6,269.8 159.6,276.6 169.6,278.5 179.7,274.6 189.7,277.3 199.7,280.7 209.8,291.4 219.8,291.4 229.8,296.7 239.9,302.5 249.9,307.7 259.9,312.3 269.9,316.7 280.0,323.0 290.0,330.6 300.0,336.6 310.1,342.6 320.1,352.5 330.1,357.6 340.2,364.8 350.2,372.2 360.2,379.1 370.3,387.4 380.3,395.8 390.3,403.5 400.4,409.1 410.4,416.8 420.4,420.9 430.5,423.2 440.5,419.1 450.5,413.2 460.5,399.1 470.6,376.3 480.6,348.3 490.6,322.1 500.7,281.3 510.7,249.4 520.7,221.1 530.8,201.5 540.8,190.0 550.8,185.0 560.9,187.9 570.9,194.0 580.9,203.3 591.0,213.9 601.0,224.0 611.0,231.2 621.0,239.5 631.1,245.6 641.1,253.2 651.1,257.4 661.2,263.0 671.2,265.7 681.2,270.9 691.3,272.5 701.3,273.2 711.3,275.2 721.4,274.5 731.4,275.4 741.4,277.0 751.5,276.7 761.5,277.6" fill="none" stroke="#0064ff" stroke-width="2.4" stroke-linejoin="round" />
<g fill="#0064ff"><circle cx="109.4" cy="254.3" r="5.2"/><circle cx="119.5" cy="257.7" r="5.2"/><circle cx="129.5" cy="265.1" r="5.2"/><circle cx="139.5" cy="269.7" r="5.2"/><circle cx="149.6" cy="269.8" r="5.2"/><circle cx="159.6" cy="276.6" r="5.2"/><circle cx="169.6" cy="278.5" r="5.2"/><circle cx="179.7" cy="274.6" r="5.2"/><circle cx="189.7" cy="277.3" r="5.2"/><circle cx="199.7" cy="280.7" r="5.2"/><circle cx="209.8" cy="291.4" r="5.2"/><circle cx="219.8" cy="291.4" r="5.2"/><circle cx="229.8" cy="296.7" r="5.2"/><circle cx="239.9" cy="302.5" r="5.2"/><circle cx="249.9" cy="307.7" r="5.2"/><circle cx="259.9" cy="312.3" r="5.2"/><circle cx="269.9" cy="316.7" r="5.2"/><circle cx="280.0" cy="323.0" r="5.2"/><circle cx="290.0" cy="330.6" r="5.2"/><circle cx="300.0" cy="336.6" r="5.2"/><circle cx="310.1" cy="342.6" r="5.2"/><circle cx="320.1" cy="352.5" r="5.2"/><circle cx="330.1" cy="357.6" r="5.2"/><circle cx="340.2" cy="364.8" r="5.2"/><circle cx="350.2" cy="372.2" r="5.2"/><circle cx="360.2" cy="379.1" r="5.2"/><circle cx="370.3" cy="387.4" r="5.2"/><circle cx="380.3" cy="395.8" r="5.2"/><circle cx="390.3" cy="403.5" r="5.2"/><circle cx="400.4" cy="409.1" r="5.2"/><circle cx="410.4" cy="416.8" r="5.2"/><circle cx="420.4" cy="420.9" r="5.2"/><circle cx="430.5" cy="423.2" r="5.2"/><circle cx="440.5" cy="419.1" r="5.2"/><circle cx="450.5" cy="413.2" r="5.2"/><circle cx="460.5" cy="399.1" r="5.2"/><circle cx="470.6" cy="376.3" r="5.2"/><circle cx="480.6" cy="348.3" r="5.2"/><circle cx="490.6" cy="322.1" r="5.2"/><circle cx="500.7" cy="281.3" r="5.2"/><circle cx="510.7" cy="249.4" r="5.2"/><circle cx="520.7" cy="221.1" r="5.2"/><circle cx="530.8" cy="201.5" r="5.2"/><circle cx="540.8" cy="190.0" r="5.2"/><circle cx="550.8" cy="185.0" r="5.2"/><circle cx="560.9" cy="187.9" r="5.2"/><circle cx="570.9" cy="194.0" r="5.2"/><circle cx="580.9" cy="203.3" r="5.2"/><circle cx="591.0" cy="213.9" r="5.2"/><circle cx="601.0" cy="224.0" r="5.2"/><circle cx="611.0" cy="231.2" r="5.2"/><circle cx="621.0" cy="239.5" r="5.2"/><circle cx="631.1" cy="245.6" r="5.2"/><circle cx="641.1" cy="253.2" r="5.2"/><circle cx="651.1" cy="257.4" r="5.2"/><circle cx="661.2" cy="263.0" r="5.2"/><circle cx="671.2" cy="265.7" r="5.2"/><circle cx="681.2" cy="270.9" r="5.2"/><circle cx="691.3" cy="272.5" r="5.2"/><circle cx="701.3" cy="273.2" r="5.2"/><circle cx="711.3" cy="275.2" r="5.2"/><circle cx="721.4" cy="274.5" r="5.2"/><circle cx="731.4" cy="275.4" r="5.2"/><circle cx="741.4" cy="277.0" r="5.2"/><circle cx="751.5" cy="276.7" r="5.2"/><circle cx="761.5" cy="277.6" r="5.2"/></g>
<polyline points="109.4,262.5 119.5,273.5 129.5,278.8 139.5,276.2 149.6,275.7 159.6,279.5 169.6,285.9 179.7,288.3 189.7,283.9 199.7,292.4 209.8,298.2 219.8,297.5 229.8,299.3 239.9,306.5 249.9,309.4 259.9,313.9 269.9,316.1 280.0,322.1 290.0,327.4 300.0,332.9 310.1,338.5 320.1,345.2 330.1,350.9 340.2,359.2 350.2,365.2 360.2,372.3 370.3,376.8 380.3,384.3 390.3,390.8 400.4,395.2 410.4,399.8 420.4,401.9 430.5,405.1 440.5,400.5 450.5,390.5 460.5,372.0 470.6,349.9 480.6,324.4 490.6,297.2 500.7,257.8 510.7,227.5 520.7,202.4 530.8,183.3 540.8,176.9 550.8,175.0 560.9,179.0 570.9,185.6 580.9,197.6 591.0,209.2 601.0,219.1 611.0,231.5 621.0,237.3 631.1,244.6 641.1,251.0 651.1,256.7 661.2,262.3 671.2,267.7 681.2,269.3 691.3,272.1 701.3,273.5 711.3,274.9 721.4,275.3 731.4,277.6 741.4,275.0 751.5,276.5 761.5,276.3" fill="none" stroke="#2800ff" stroke-width="2.4" stroke-linejoin="round" />
<g fill="#2800ff"><circle cx="109.4" cy="262.5" r="5.2"/><circle cx="119.5" cy="273.5" r="5.2"/><circle cx="129.5" cy="278.8" r="5.2"/><circle cx="139.5" cy="276.2" r="5.2"/><circle cx="149.6" cy="275.7" r="5.2"/><circle cx="159.6" cy="279.5" r="5.2"/><circle cx="169.6" cy="285.9" r="5.2"/><circle cx="179.7" cy="288.3" r="5.2"/><circle cx="189.7" cy="283.9" r="5.2"/><circle cx="199.7" cy="292.4" r="5.2"/><circle cx="209.8" cy="298.2" r="5.2"/><circle cx="219.8" cy="297.5" r="5.2"/><circle cx="229.8" cy="299.3" r="5.2"/><circle cx="239.9" cy="306.5" r="5.2"/><circle cx="249.9" cy="309.4" r="5.2"/><circle cx="259.9" cy="313.9" r="5.2"/><circle cx="269.9" cy="316.1" r="5.2"/><circle cx="280.0" cy="322.1" r="5.2"/><circle cx="290.0" cy="327.4" r="5.2"/><circle cx="300.0" cy="332.9" r="5.2"/><circle cx="310.1" cy="338.5" r="5.2"/><circle cx="320.1" cy="345.2" r="5.2"/><circle cx="330.1" cy="350.9" r="5.2"/><circle cx="340.2" cy="359.2" r="5.2"/><circle cx="350.2" cy="365.2" r="5.2"/><circle cx="360.2" cy="372.3" r="5.2"/><circle cx="370.3" cy="376.8" r="5.2"/><circle cx="380.3" cy="384.3" r="5.2"/><circle cx="390.3" cy="390.8" r="5.2"/><circle cx="400.4" cy="395.2" r="5.2"/><circle cx="410.4" cy="399.8" r="5.2"/><circle cx="420.4" cy="401.9" r="5.2"/><circle cx="430.5" cy="405.1" r="5.2"/><circle cx="440.5" cy="400.5" r="5.2"/><circle cx="450.5" cy="390.5" r="5.2"/><circle cx="460.5" cy="372.0" r="5.2"/><circle cx="470.6" cy="349.9" r="5.2"/><circle cx="480.6" cy="324.4" r="5.2"/><circle cx="490.6" cy="297.2" r="5.2"/><circle cx="500.7" cy="257.8" r="5.2"/><circle cx="510.7" cy="227.5" r="5.2"/><circle cx="520.7" cy="202.4" r="5.2"/><circle cx="530.8" cy="183.3" r="5.2"/><circle cx="540.8" cy="176.9" r="5.2"/><circle cx="550.8" cy="175.0" r="5.2"/><circle cx="560.9" cy="179.0" r="5.2"/><circle cx="570.9" cy="185.6" r="5.2"/><circle cx="580.9" cy="197.6" r="5.2"/><circle cx="591.0" cy="209.2" r="5.2"/><circle cx="601.0" cy="219.1" r="5.2"/><circle cx="611.0" cy="231.5" r="5.2"/><circle cx="621.0" cy="237.3" r="5.2"/><circle cx="631.1" cy="244.6" r="5.2"/><circle cx="641.1" cy="251.0" r="5.2"/><circle cx="651.1" cy="256.7" r="5.2"/><circle cx="661.2" cy="262.3" r="5.2"/><circle cx="671.2" cy="267.7" r="5.2"/><circle cx="681.2" cy="269.3" r="5.2"/><circle cx="691.3" cy="272.1" r="5.2"/><circle cx="701.3" cy="273.5" r="5.2"/><circle cx="711.3" cy="274.9" r="5.2"/><circle cx="721.4" cy="275.3" r="5.2"/><circle cx="731.4" cy="277.6" r="5.2"/><circle cx="741.4" cy="275.0" r="5.2"/><circle cx="751.5" cy="276.5" r="5.2"/><circle cx="761.5" cy="276.3" r="5.2"/></g>
<polyline points="109.4,260.4 119.5,272.1 129.5,283.3 139.5,282.9 149.6,286.5 159.6,286.7 169.6,284.8 179.7,294.3 189.7,286.5 199.7,295.2 209.8,291.8 219.8,295.7 229.8,298.9 239.9,300.7 249.9,304.6 259.9,308.8 269.9,313.3 280.0,316.0 290.0,319.4 300.0,324.4 310.1,330.2 320.1,335.9 330.1,342.8 340.2,347.1 350.2,354.1 360.2,359.8 370.3,365.6 380.3,371.0 390.3,376.6 400.4,380.4 410.4,385.4 420.4,387.4 430.5,386.0 440.5,384.5 450.5,376.4 460.5,361.8 470.6,341.0 480.6,319.5 490.6,295.5 500.7,261.0 510.7,233.3 520.7,211.3 530.8,194.5 540.8,190.3 550.8,188.1 560.9,191.2 570.9,197.1 580.9,210.6 591.0,218.7 601.0,227.3 611.0,235.0 621.0,242.2 631.1,247.2 641.1,256.1 651.1,259.1 661.2,264.2 671.2,268.1 681.2,270.1 691.3,273.0 701.3,275.6 711.3,275.1 721.4,276.6 731.4,276.3 741.4,275.9 751.5,276.5 761.5,275.9" fill="none" stroke="#6e00ff" stroke-width="2.4" stroke-linejoin="round" />
<g fill="#6e00ff"><circle cx="109.4" cy="260.4" r="5.2"/><circle cx="119.5" cy="272.1" r="5.2"/><circle cx="129.5" cy="283.3" r="5.2"/><circle cx="139.5" cy="282.9" r="5.2"/><circle cx="149.6" cy="286.5" r="5.2"/><circle cx="159.6" cy="286.7" r="5.2"/><circle cx="169.6" cy="284.8" r="5.2"/><circle cx="179.7" cy="294.3" r="5.2"/><circle cx="189.7" cy="286.5" r="5.2"/><circle cx="199.7" cy="295.2" r="5.2"/><circle cx="209.8" cy="291.8" r="5.2"/><circle cx="219.8" cy="295.7" r="5.2"/><circle cx="229.8" cy="298.9" r="5.2"/><circle cx="239.9" cy="300.7" r="5.2"/><circle cx="249.9" cy="304.6" r="5.2"/><circle cx="259.9" cy="308.8" r="5.2"/><circle cx="269.9" cy="313.3" r="5.2"/><circle cx="280.0" cy="316.0" r="5.2"/><circle cx="290.0" cy="319.4" r="5.2"/><circle cx="300.0" cy="324.4" r="5.2"/><circle cx="310.1" cy="330.2" r="5.2"/><circle cx="320.1" cy="335.9" r="5.2"/><circle cx="330.1" cy="342.8" r="5.2"/><circle cx="340.2" cy="347.1" r="5.2"/><circle cx="350.2" cy="354.1" r="5.2"/><circle cx="360.2" cy="359.8" r="5.2"/><circle cx="370.3" cy="365.6" r="5.2"/><circle cx="380.3" cy="371.0" r="5.2"/><circle cx="390.3" cy="376.6" r="5.2"/><circle cx="400.4" cy="380.4" r="5.2"/><circle cx="410.4" cy="385.4" r="5.2"/><circle cx="420.4" cy="387.4" r="5.2"/><circle cx="430.5" cy="386.0" r="5.2"/><circle cx="440.5" cy="384.5" r="5.2"/><circle cx="450.5" cy="376.4" r="5.2"/><circle cx="460.5" cy="361.8" r="5.2"/><circle cx="470.6" cy="341.0" r="5.2"/><circle cx="480.6" cy="319.5" r="5.2"/><circle cx="490.6" cy="295.5" r="5.2"/><circle cx="500.7" cy="261.0" r="5.2"/><circle cx="510.7" cy="233.3" r="5.2"/><circle cx="520.7" cy="211.3" r="5.2"/><circle cx="530.8" cy="194.5" r="5.2"/><circle cx="540.8" cy="190.3" r="5.2"/><circle cx="550.8" cy="188.1" r="5.2"/><circle cx="560.9" cy="191.2" r="5.2"/><circle cx="570.9" cy="197.1" r="5.2"/><circle cx="580.9" cy="210.6" r="5.2"/><circle cx="591.0" cy="218.7" r="5.2"/><circle cx="601.0" cy="227.3" r="5.2"/><circle cx="611.0" cy="235.0" r="5.2"/><circle cx="621.0" cy="242.2" r="5.2"/><circle cx="631.1" cy="247.2" r="5.2"/><circle cx="641.1" cy="256.1" r="5.2"/><circle cx="651.1" cy="259.1" r="5.2"/><circle cx="661.2" cy="264.2" r="5.2"/><circle cx="671.2" cy="268.1" r="5.2"/><circle cx="681.2" cy="270.1" r="5.2"/><circle cx="691.3" cy="273.0" r="5.2"/><circle cx="701.3" cy="275.6" r="5.2"/><circle cx="711.3" cy="275.1" r="5.2"/><circle cx="721.4" cy="276.6" r="5.2"/><circle cx="731.4" cy="276.3" r="5.2"/><circle cx="741.4" cy="275.9" r="5.2"/><circle cx="751.5" cy="276.5" r="5.2"/><circle cx="761.5" cy="275.9" r="5.2"/></g>
<polyline points="109.4,270.5 119.5,278.7 129.5,279.8 139.5,282.2 149.6,285.1 159.6,281.5 169.6,285.1 179.7,291.4 189.7,282.5 199.7,287.1 209.8,287.4 219.8,290.1 229.8,290.2 239.9,294.1 249.9,295.7 259.9,299.5 269.9,302.1 280.0,305.1 290.0,310.6 300.0,313.1 310.1,317.0 320.1,320.3 330.1,325.9 340.2,327.7 350.2,333.2 360.2,338.5 370.3,343.1 380.3,345.9 390.3,349.5 400.4,353.1 410.4,355.4 420.4,357.9 430.5,357.6 440.5,356.1 450.5,349.5 460.5,338.4 470.6,321.9 480.6,308.3 490.6,290.9 500.7,266.8 510.7,244.7 520.7,230.3 530.8,218.4 540.8,213.5 550.8,213.2 560.9,215.0 570.9,220.2 580.9,229.2 591.0,235.4 601.0,240.9 611.0,246.7 621.0,252.3 631.1,257.9 641.1,261.2 651.1,263.8 661.2,267.0 671.2,270.2 681.2,273.2 691.3,273.0 701.3,275.2 711.3,276.5 721.4,276.5 731.4,274.9 741.4,276.3 751.5,275.9 761.5,277.7" fill="none" stroke="#a500ff" stroke-width="2.4" stroke-linejoin="round" />
<g fill="#a500ff"><circle cx="109.4" cy="270.5" r="5.2"/><circle cx="119.5" cy="278.7" r="5.2"/><circle cx="129.5" cy="279.8" r="5.2"/><circle cx="139.5" cy="282.2" r="5.2"/><circle cx="149.6" cy="285.1" r="5.2"/><circle cx="159.6" cy="281.5" r="5.2"/><circle cx="169.6" cy="285.1" r="5.2"/><circle cx="179.7" cy="291.4" r="5.2"/><circle cx="189.7" cy="282.5" r="5.2"/><circle cx="199.7" cy="287.1" r="5.2"/><circle cx="209.8" cy="287.4" r="5.2"/><circle cx="219.8" cy="290.1" r="5.2"/><circle cx="229.8" cy="290.2" r="5.2"/><circle cx="239.9" cy="294.1" r="5.2"/><circle cx="249.9" cy="295.7" r="5.2"/><circle cx="259.9" cy="299.5" r="5.2"/><circle cx="269.9" cy="302.1" r="5.2"/><circle cx="280.0" cy="305.1" r="5.2"/><circle cx="290.0" cy="310.6" r="5.2"/><circle cx="300.0" cy="313.1" r="5.2"/><circle cx="310.1" cy="317.0" r="5.2"/><circle cx="320.1" cy="320.3" r="5.2"/><circle cx="330.1" cy="325.9" r="5.2"/><circle cx="340.2" cy="327.7" r="5.2"/><circle cx="350.2" cy="333.2" r="5.2"/><circle cx="360.2" cy="338.5" r="5.2"/><circle cx="370.3" cy="343.1" r="5.2"/><circle cx="380.3" cy="345.9" r="5.2"/><circle cx="390.3" cy="349.5" r="5.2"/><circle cx="400.4" cy="353.1" r="5.2"/><circle cx="410.4" cy="355.4" r="5.2"/><circle cx="420.4" cy="357.9" r="5.2"/><circle cx="430.5" cy="357.6" r="5.2"/><circle cx="440.5" cy="356.1" r="5.2"/><circle cx="450.5" cy="349.5" r="5.2"/><circle cx="460.5" cy="338.4" r="5.2"/><circle cx="470.6" cy="321.9" r="5.2"/><circle cx="480.6" cy="308.3" r="5.2"/><circle cx="490.6" cy="290.9" r="5.2"/><circle cx="500.7" cy="266.8" r="5.2"/><circle cx="510.7" cy="244.7" r="5.2"/><circle cx="520.7" cy="230.3" r="5.2"/><circle cx="530.8" cy="218.4" r="5.2"/><circle cx="540.8" cy="213.5" r="5.2"/><circle cx="550.8" cy="213.2" r="5.2"/><circle cx="560.9" cy="215.0" r="5.2"/><circle cx="570.9" cy="220.2" r="5.2"/><circle cx="580.9" cy="229.2" r="5.2"/><circle cx="591.0" cy="235.4" r="5.2"/><circle cx="601.0" cy="240.9" r="5.2"/><circle cx="611.0" cy="246.7" r="5.2"/><circle cx="621.0" cy="252.3" r="5.2"/><circle cx="631.1" cy="257.9" r="5.2"/><circle cx="641.1" cy="261.2" r="5.2"/><circle cx="651.1" cy="263.8" r="5.2"/><circle cx="661.2" cy="267.0" r="5.2"/><circle cx="671.2" cy="270.2" r="5.2"/><circle cx="681.2" cy="273.2" r="5.2"/><circle cx="691.3" cy="273.0" r="5.2"/><circle cx="701.3" cy="275.2" r="5.2"/><circle cx="711.3" cy="276.5" r="5.2"/><circle cx="721.4" cy="276.5" r="5.2"/><circle cx="731.4" cy="274.9" r="5.2"/><circle cx="741.4" cy="276.3" r="5.2"/><circle cx="751.5" cy="275.9" r="5.2"/><circle cx="761.5" cy="277.7" r="5.2"/></g>
<polyline points="109.4,269.7 119.5,277.1 129.5,277.8 139.5,270.1 149.6,277.0 159.6,282.3 169.6,280.9 179.7,280.7 189.7,277.7 199.7,284.5 209.8,289.8 219.8,286.1 229.8,286.2 239.9,287.0 249.9,287.8 259.9,290.5 269.9,291.6 280.0,295.1 290.0,295.6 300.0,296.7 310.1,300.1 320.1,302.9 330.1,305.4 340.2,306.6 350.2,311.6 360.2,313.3 370.3,315.2 380.3,317.4 390.3,320.7 400.4,321.9 410.4,324.2 420.4,324.9 430.5,325.6 440.5,325.0 450.5,320.4 460.5,313.5 470.6,306.2 480.6,295.5 490.6,284.5 500.7,271.5 510.7,258.1 520.7,249.6 530.8,240.8 540.8,237.1 550.8,236.7 560.9,239.8 570.9,242.3 580.9,247.4 591.0,251.4 601.0,253.9 611.0,260.3 621.0,261.3 631.1,264.8 641.1,266.2 651.1,269.5 661.2,272.1 671.2,272.8 681.2,273.7 691.3,275.0 701.3,275.3 711.3,276.7 721.4,278.3 731.4,275.8 741.4,276.2 751.5,276.9 761.5,277.2" fill="none" stroke="#ff00ff" stroke-width="2.4" stroke-linejoin="round" />
<g fill="#ff00ff"><circle cx="109.4" cy="269.7" r="5.2"/><circle cx="119.5" cy="277.1" r="5.2"/><circle cx="129.5" cy="277.8" r="5.2"/><circle cx="139.5" cy="270.1" r="5.2"/><circle cx="149.6" cy="277.0" r="5.2"/><circle cx="159.6" cy="282.3" r="5.2"/><circle cx="169.6" cy="280.9" r="5.2"/><circle cx="179.7" cy="280.7" r="5.2"/><circle cx="189.7" cy="277.7" r="5.2"/><circle cx="199.7" cy="284.5" r="5.2"/><circle cx="209.8" cy="289.8" r="5.2"/><circle cx="219.8" cy="286.1" r="5.2"/><circle cx="229.8" cy="286.2" r="5.2"/><circle cx="239.9" cy="287.0" r="5.2"/><circle cx="249.9" cy="287.8" r="5.2"/><circle cx="259.9" cy="290.5" r="5.2"/><circle cx="269.9" cy="291.6" r="5.2"/><circle cx="280.0" cy="295.1" r="5.2"/><circle cx="290.0" cy="295.6" r="5.2"/><circle cx="300.0" cy="296.7" r="5.2"/><circle cx="310.1" cy="300.1" r="5.2"/><circle cx="320.1" cy="302.9" r="5.2"/><circle cx="330.1" cy="305.4" r="5.2"/><circle cx="340.2" cy="306.6" r="5.2"/><circle cx="350.2" cy="311.6" r="5.2"/><circle cx="360.2" cy="313.3" r="5.2"/><circle cx="370.3" cy="315.2" r="5.2"/><circle cx="380.3" cy="317.4" r="5.2"/><circle cx="390.3" cy="320.7" r="5.2"/><circle cx="400.4" cy="321.9" r="5.2"/><circle cx="410.4" cy="324.2" r="5.2"/><circle cx="420.4" cy="324.9" r="5.2"/><circle cx="430.5" cy="325.6" r="5.2"/><circle cx="440.5" cy="325.0" r="5.2"/><circle cx="450.5" cy="320.4" r="5.2"/><circle cx="460.5" cy="313.5" r="5.2"/><circle cx="470.6" cy="306.2" r="5.2"/><circle cx="480.6" cy="295.5" r="5.2"/><circle cx="490.6" cy="284.5" r="5.2"/><circle cx="500.7" cy="271.5" r="5.2"/><circle cx="510.7" cy="258.1" r="5.2"/><circle cx="520.7" cy="249.6" r="5.2"/><circle cx="530.8" cy="240.8" r="5.2"/><circle cx="540.8" cy="237.1" r="5.2"/><circle cx="550.8" cy="236.7" r="5.2"/><circle cx="560.9" cy="239.8" r="5.2"/><circle cx="570.9" cy="242.3" r="5.2"/><circle cx="580.9" cy="247.4" r="5.2"/><circle cx="591.0" cy="251.4" r="5.2"/><circle cx="601.0" cy="253.9" r="5.2"/><circle cx="611.0" cy="260.3" r="5.2"/><circle cx="621.0" cy="261.3" r="5.2"/><circle cx="631.1" cy="264.8" r="5.2"/><circle cx="641.1" cy="266.2" r="5.2"/><circle cx="651.1" cy="269.5" r="5.2"/><circle cx="661.2" cy="272.1" r="5.2"/><circle cx="671.2" cy="272.8" r="5.2"/><circle cx="681.2" cy="273.7" r="5.2"/><circle cx="691.3" cy="275.0" r="5.2"/><circle cx="701.3" cy="275.3" r="5.2"/><circle cx="711.3" cy="276.7" r="5.2"/><circle cx="721.4" cy="278.3" r="5.2"/><circle cx="731.4" cy="275.8" r="5.2"/><circle cx="741.4" cy="276.2" r="5.2"/><circle cx="751.5" cy="276.9" r="5.2"/><circle cx="761.5" cy="277.2" r="5.2"/></g>
<polyline points="109.4,272.1 119.5,278.0 129.5,279.7 139.5,278.4 149.6,274.2 159.6,283.2 169.6,274.6 179.7,281.1 189.7,282.7 199.7,275.2 209.8,280.2 219.8,284.6 229.8,281.9 239.9,278.0 249.9,280.6 259.9,282.8 269.9,282.6 280.0,283.0 290.0,285.1 300.0,285.0 310.1,286.2 320.1,287.5 330.1,288.4 340.2,288.9 350.2,289.9 360.2,291.4 370.3,292.2 380.3,291.7 390.3,293.4 400.4,293.5 410.4,293.9 420.4,294.8 430.5,293.5 440.5,295.7 450.5,292.9 460.5,291.6 470.6,286.2 480.6,282.5 490.6,282.0 500.7,275.6 510.7,269.5 520.7,265.7 530.8,263.2 540.8,262.9 550.8,262.2 560.9,262.5 570.9,264.4 580.9,265.1 591.0,269.6 601.0,268.4 611.0,271.4 621.0,270.7 631.1,272.8 641.1,274.4 651.1,274.1 661.2,275.9 671.2,276.5 681.2,277.6 691.3,276.5 701.3,276.3 711.3,275.9 721.4,277.1 731.4,276.1 741.4,277.1 751.5,277.3 761.5,276.8" fill="none" stroke="#ff00aa" stroke-width="2.4" stroke-linejoin="round" />
<g fill="#ff00aa"><circle cx="109.4" cy="272.1" r="5.2"/><circle cx="119.5" cy="278.0" r="5.2"/><circle cx="129.5" cy="279.7" r="5.2"/><circle cx="139.5" cy="278.4" r="5.2"/><circle cx="149.6" cy="274.2" r="5.2"/><circle cx="159.6" cy="283.2" r="5.2"/><circle cx="169.6" cy="274.6" r="5.2"/><circle cx="179.7" cy="281.1" r="5.2"/><circle cx="189.7" cy="282.7" r="5.2"/><circle cx="199.7" cy="275.2" r="5.2"/><circle cx="209.8" cy="280.2" r="5.2"/><circle cx="219.8" cy="284.6" r="5.2"/><circle cx="229.8" cy="281.9" r="5.2"/><circle cx="239.9" cy="278.0" r="5.2"/><circle cx="249.9" cy="280.6" r="5.2"/><circle cx="259.9" cy="282.8" r="5.2"/><circle cx="269.9" cy="282.6" r="5.2"/><circle cx="280.0" cy="283.0" r="5.2"/><circle cx="290.0" cy="285.1" r="5.2"/><circle cx="300.0" cy="285.0" r="5.2"/><circle cx="310.1" cy="286.2" r="5.2"/><circle cx="320.1" cy="287.5" r="5.2"/><circle cx="330.1" cy="288.4" r="5.2"/><circle cx="340.2" cy="288.9" r="5.2"/><circle cx="350.2" cy="289.9" r="5.2"/><circle cx="360.2" cy="291.4" r="5.2"/><circle cx="370.3" cy="292.2" r="5.2"/><circle cx="380.3" cy="291.7" r="5.2"/><circle cx="390.3" cy="293.4" r="5.2"/><circle cx="400.4" cy="293.5" r="5.2"/><circle cx="410.4" cy="293.9" r="5.2"/><circle cx="420.4" cy="294.8" r="5.2"/><circle cx="430.5" cy="293.5" r="5.2"/><circle cx="440.5" cy="295.7" r="5.2"/><circle cx="450.5" cy="292.9" r="5.2"/><circle cx="460.5" cy="291.6" r="5.2"/><circle cx="470.6" cy="286.2" r="5.2"/><circle cx="480.6" cy="282.5" r="5.2"/><circle cx="490.6" cy="282.0" r="5.2"/><circle cx="500.7" cy="275.6" r="5.2"/><circle cx="510.7" cy="269.5" r="5.2"/><circle cx="520.7" cy="265.7" r="5.2"/><circle cx="530.8" cy="263.2" r="5.2"/><circle cx="540.8" cy="262.9" r="5.2"/><circle cx="550.8" cy="262.2" r="5.2"/><circle cx="560.9" cy="262.5" r="5.2"/><circle cx="570.9" cy="264.4" r="5.2"/><circle cx="580.9" cy="265.1" r="5.2"/><circle cx="591.0" cy="269.6" r="5.2"/><circle cx="601.0" cy="268.4" r="5.2"/><circle cx="611.0" cy="271.4" r="5.2"/><circle cx="621.0" cy="270.7" r="5.2"/><circle cx="631.1" cy="272.8" r="5.2"/><circle cx="641.1" cy="274.4" r="5.2"/><circle cx="651.1" cy="274.1" r="5.2"/><circle cx="661.2" cy="275.9" r="5.2"/><circle cx="671.2" cy="276.5" r="5.2"/><circle cx="681.2" cy="277.6" r="5.2"/><circle cx="691.3" cy="276.5" r="5.2"/><circle cx="701.3" cy="276.3" r="5.2"/><circle cx="711.3" cy="275.9" r="5.2"/><circle cx="721.4" cy="277.1" r="5.2"/><circle cx="731.4" cy="276.1" r="5.2"/><circle cx="741.4" cy="277.1" r="5.2"/><circle cx="751.5" cy="277.3" r="5.2"/><circle cx="761.5" cy="276.8" r="5.2"/></g>
<polyline points="109.4,273.2 119.5,278.1 129.5,278.1 139.5,278.0 149.6,277.3 159.6,280.8 169.6,274.3 179.7,279.2 189.7,276.4 199.7,280.8 209.8,277.0 219.8,277.1 229.8,279.9 239.9,271.9 249.9,278.5 259.9,277.5 269.9,278.5 280.0,280.2 290.0,280.2 300.0,279.8 310.1,280.4 320.1,280.7 330.1,281.4 340.2,283.1 350.2,282.0 360.2,284.2 370.3,282.1 380.3,283.5 390.3,283.8 400.4,283.6 410.4,283.4 420.4,285.1 430.5,285.4 440.5,284.6 450.5,285.0 460.5,283.2 470.6,279.6 480.6,280.7 490.6,277.8 500.7,277.6 510.7,274.5 520.7,273.7 530.8,272.6 540.8,271.6 550.8,270.5 560.9,272.0 570.9,272.6 580.9,274.2 591.0,273.3 601.0,274.6 611.0,274.1 621.0,275.3 631.1,274.0 641.1,277.8 651.1,276.5 661.2,275.7 671.2,277.0 681.2,277.6 691.3,277.2 701.3,278.3 711.3,277.0 721.4,275.0 731.4,276.2 741.4,278.2 751.5,278.1 761.5,277.7" fill="none" stroke="#ff0078" stroke-width="2.4" stroke-linejoin="round" />
<g fill="#ff0078"><circle cx="109.4" cy="273.2" r="5.2"/><circle cx="119.5" cy="278.1" r="5.2"/><circle cx="129.5" cy="278.1" r="5.2"/><circle cx="139.5" cy="278.0" r="5.2"/><circle cx="149.6" cy="277.3" r="5.2"/><circle cx="159.6" cy="280.8" r="5.2"/><circle cx="169.6" cy="274.3" r="5.2"/><circle cx="179.7" cy="279.2" r="5.2"/><circle cx="189.7" cy="276.4" r="5.2"/><circle cx="199.7" cy="280.8" r="5.2"/><circle cx="209.8" cy="277.0" r="5.2"/><circle cx="219.8" cy="277.1" r="5.2"/><circle cx="229.8" cy="279.9" r="5.2"/><circle cx="239.9" cy="271.9" r="5.2"/><circle cx="249.9" cy="278.5" r="5.2"/><circle cx="259.9" cy="277.5" r="5.2"/><circle cx="269.9" cy="278.5" r="5.2"/><circle cx="280.0" cy="280.2" r="5.2"/><circle cx="290.0" cy="280.2" r="5.2"/><circle cx="300.0" cy="279.8" r="5.2"/><circle cx="310.1" cy="280.4" r="5.2"/><circle cx="320.1" cy="280.7" r="5.2"/><circle cx="330.1" cy="281.4" r="5.2"/><circle cx="340.2" cy="283.1" r="5.2"/><circle cx="350.2" cy="282.0" r="5.2"/><circle cx="360.2" cy="284.2" r="5.2"/><circle cx="370.3" cy="282.1" r="5.2"/><circle cx="380.3" cy="283.5" r="5.2"/><circle cx="390.3" cy="283.8" r="5.2"/><circle cx="400.4" cy="283.6" r="5.2"/><circle cx="410.4" cy="283.4" r="5.2"/><circle cx="420.4" cy="285.1" r="5.2"/><circle cx="430.5" cy="285.4" r="5.2"/><circle cx="440.5" cy="284.6" r="5.2"/><circle cx="450.5" cy="285.0" r="5.2"/><circle cx="460.5" cy="283.2" r="5.2"/><circle cx="470.6" cy="279.6" r="5.2"/><circle cx="480.6" cy="280.7" r="5.2"/><circle cx="490.6" cy="277.8" r="5.2"/><circle cx="500.7" cy="277.6" r="5.2"/><circle cx="510.7" cy="274.5" r="5.2"/><circle cx="520.7" cy="273.7" r="5.2"/><circle cx="530.8" cy="272.6" r="5.2"/><circle cx="540.8" cy="271.6" r="5.2"/><circle cx="550.8" cy="270.5" r="5.2"/><circle cx="560.9" cy="272.0" r="5.2"/><circle cx="570.9" cy="272.6" r="5.2"/><circle cx="580.9" cy="274.2" r="5.2"/><circle cx="591.0" cy="273.3" r="5.2"/><circle cx="601.0" cy="274.6" r="5.2"/><circle cx="611.0" cy="274.1" r="5.2"/><circle cx="621.0" cy="275.3" r="5.2"/><circle cx="631.1" cy="274.0" r="5.2"/><circle cx="641.1" cy="277.8" r="5.2"/><circle cx="651.1" cy="276.5" r="5.2"/><circle cx="661.2" cy="275.7" r="5.2"/><circle cx="671.2" cy="277.0" r="5.2"/><circle cx="681.2" cy="277.6" r="5.2"/><circle cx="691.3" cy="277.2" r="5.2"/><circle cx="701.3" cy="278.3" r="5.2"/><circle cx="711.3" cy="277.0" r="5.2"/><circle cx="721.4" cy="275.0" r="5.2"/><circle cx="731.4" cy="276.2" r="5.2"/><circle cx="741.4" cy="278.2" r="5.2"/><circle cx="751.5" cy="278.1" r="5.2"/><circle cx="761.5" cy="277.7" r="5.2"/></g>
<polyline points="109.4,273.8 119.5,280.0 129.5,279.6 139.5,274.4 149.6,274.5 159.6,278.6 169.6,281.1 179.7,282.6 189.7,279.8 199.7,284.9 209.8,275.0 219.8,279.6 229.8,275.9 239.9,271.3 249.9,276.5 259.9,278.7 269.9,276.9 280.0,276.7 290.0,278.5 300.0,278.7 310.1,278.0 320.1,279.5 330.1,276.7 340.2,280.3 350.2,279.2 360.2,278.5 370.3,278.5 380.3,278.3 390.3,278.2 400.4,278.7 410.4,277.5 420.4,280.5 430.5,278.6 440.5,279.2 450.5,278.3 460.5,278.1 470.6,278.9 480.6,278.4 490.6,276.8 500.7,276.8 510.7,277.4 520.7,274.7 530.8,274.2 540.8,277.6 550.8,276.0 560.9,274.0 570.9,275.7 580.9,276.3 591.0,276.8 601.0,277.2 611.0,277.0 621.0,277.4 631.1,276.3 641.1,277.4 651.1,277.5 661.2,278.2 671.2,277.2 681.2,278.0 691.3,277.4 701.3,276.3 711.3,276.9 721.4,276.8 731.4,277.0 741.4,277.2 751.5,277.4 761.5,277.6" fill="none" stroke="#ff005a" stroke-width="2.4" stroke-linejoin="round" />
<g fill="#ff005a"><circle cx="109.4" cy="273.8" r="5.2"/><circle cx="119.5" cy="280.0" r="5.2"/><circle cx="129.5" cy="279.6" r="5.2"/><circle cx="139.5" cy="274.4" r="5.2"/><circle cx="149.6" cy="274.5" r="5.2"/><circle cx="159.6" cy="278.6" r="5.2"/><circle cx="169.6" cy="281.1" r="5.2"/><circle cx="179.7" cy="282.6" r="5.2"/><circle cx="189.7" cy="279.8" r="5.2"/><circle cx="199.7" cy="284.9" r="5.2"/><circle cx="209.8" cy="275.0" r="5.2"/><circle cx="219.8" cy="279.6" r="5.2"/><circle cx="229.8" cy="275.9" r="5.2"/><circle cx="239.9" cy="271.3" r="5.2"/><circle cx="249.9" cy="276.5" r="5.2"/><circle cx="259.9" cy="278.7" r="5.2"/><circle cx="269.9" cy="276.9" r="5.2"/><circle cx="280.0" cy="276.7" r="5.2"/><circle cx="290.0" cy="278.5" r="5.2"/><circle cx="300.0" cy="278.7" r="5.2"/><circle cx="310.1" cy="278.0" r="5.2"/><circle cx="320.1" cy="279.5" r="5.2"/><circle cx="330.1" cy="276.7" r="5.2"/><circle cx="340.2" cy="280.3" r="5.2"/><circle cx="350.2" cy="279.2" r="5.2"/><circle cx="360.2" cy="278.5" r="5.2"/><circle cx="370.3" cy="278.5" r="5.2"/><circle cx="380.3" cy="278.3" r="5.2"/><circle cx="390.3" cy="278.2" r="5.2"/><circle cx="400.4" cy="278.7" r="5.2"/><circle cx="410.4" cy="277.5" r="5.2"/><circle cx="420.4" cy="280.5" r="5.2"/><circle cx="430.5" cy="278.6" r="5.2"/><circle cx="440.5" cy="279.2" r="5.2"/><circle cx="450.5" cy="278.3" r="5.2"/><circle cx="460.5" cy="278.1" r="5.2"/><circle cx="470.6" cy="278.9" r="5.2"/><circle cx="480.6" cy="278.4" r="5.2"/><circle cx="490.6" cy="276.8" r="5.2"/><circle cx="500.7" cy="276.8" r="5.2"/><circle cx="510.7" cy="277.4" r="5.2"/><circle cx="520.7" cy="274.7" r="5.2"/><circle cx="530.8" cy="274.2" r="5.2"/><circle cx="540.8" cy="277.6" r="5.2"/><circle cx="550.8" cy="276.0" r="5.2"/><circle cx="560.9" cy="274.0" r="5.2"/><circle cx="570.9" cy="275.7" r="5.2"/><circle cx="580.9" cy="276.3" r="5.2"/><circle cx="591.0" cy="276.8" r="5.2"/><circle cx="601.0" cy="277.2" r="5.2"/><circle cx="611.0" cy="277.0" r="5.2"/><circle cx="621.0" cy="277.4" r="5.2"/><circle cx="631.1" cy="276.3" r="5.2"/><circle cx="641.1" cy="277.4" r="5.2"/><circle cx="651.1" cy="277.5" r="5.2"/><circle cx="661.2" cy="278.2" r="5.2"/><circle cx="671.2" cy="277.2" r="5.2"/><circle cx="681.2" cy="278.0" r="5.2"/><circle cx="691.3" cy="277.4" r="5.2"/><circle cx="701.3" cy="276.3" r="5.2"/><circle cx="711.3" cy="276.9" r="5.2"/><circle cx="721.4" cy="276.8" r="5.2"/><circle cx="731.4" cy="277.0" r="5.2"/><circle cx="741.4" cy="277.2" r="5.2"/><circle cx="751.5" cy="277.4" r="5.2"/><circle cx="761.5" cy="277.6" r="5.2"/></g>
</g>
<text x="0.77" y="63.00" font-size="91.50" font-family='"Liberation Sans", Arial, Helvetica, sans-serif'>A</text>
<text x="130.96" y="718.00" font-size="41.80" font-family='"Liberation Sans", Arial, Helvetica, sans-serif'>400</text>
<text x="231.36" y="718.00" font-size="41.80" font-family='"Liberation Sans", Arial, Helvetica, sans-serif'>450</text>
<text x="331.93" y="718.00" font-size="41.80" font-family='"Liberation Sans", Arial, Helvetica, sans-serif'>500</text>
<text x="432.93" y="718.00" font-size="41.80" font-family='"Liberation Sans", Arial, Helvetica, sans-serif'>550</text>
<text x="532.11" y="718.00" font-size="41.80" font-family='"Liberation Sans", Arial, Helvetica, sans-serif'>600</text>
<text x="632.01" y="718.00" font-size="41.80" font-family='"Liberation Sans", Arial, Helvetica, sans-serif'>650</text>
<text x="742.11" y="718.00" font-size="41.80" font-family='"Liberation Sans", Arial, Helvetica, sans-serif'>700</text>
<text x="303.58" y="761.60" font-size="45.50" textLength="336.26" lengthAdjust="spacingAndGlyphs" font-family='"Liberation Sans", Arial, Helvetica, sans-serif'>Wavelength (nm)</text>
<text x="53.03" y="168.00" font-size="38.20" font-family='"Liberation Sans", Arial, Helvetica, sans-serif'>20</text>
<text x="65.93" y="289.50" font-size="38.20" font-family='"Liberation Sans", Arial, Helvetica, sans-serif'>0</text>
<text x="43.83" y="410.70" font-size="38.20" font-family='"Liberation Sans", Arial, Helvetica, sans-serif'>-20</text>
<text x="43.83" y="532.50" font-size="38.20" font-family='"Liberation Sans", Arial, Helvetica, sans-serif'>-40</text>
<text x="43.83" y="653.30" font-size="38.20" font-family='"Liberation Sans", Arial, Helvetica, sans-serif'>-60</text>
<text x="-613.62" y="34.80" font-size="44.00" font-family='"Liberation Sans", Arial, Helvetica, sans-serif' transform="rotate(-90)">Diff. Absorbance (mOD)</text>
<text x="232.12" y="155.90" font-size="52.00" textLength="159.99" lengthAdjust="spacingAndGlyphs" font-family='"Liberation Sans", Arial, Helvetica, sans-serif'>405nm</text>
<text x="323.62" y="227.80" font-size="52.00" textLength="160.19" lengthAdjust="spacingAndGlyphs" font-family='"Liberation Sans", Arial, Helvetica, sans-serif'>465nm</text>
<text x="443.01" y="146.30" font-size="52.00" font-family='"Liberation Sans", Arial, Helvetica, sans-serif'>595nm</text>
<text x="560.61" y="615.70" font-size="52.00" font-family='"Liberation Sans", Arial, Helvetica, sans-serif'>550nm</text>
<line x1="170.00" y1="118.20" x2="233.50" y2="131.30" stroke="#000" stroke-width="2.2" stroke-linecap="butt"/>
<line x1="280.00" y1="241.50" x2="318.00" y2="217.60" stroke="#000" stroke-width="2.2" stroke-linecap="butt"/>
<line x1="502.20" y1="152.50" x2="554.00" y2="178.20" stroke="#000" stroke-width="2.2" stroke-linecap="butt"/>
<line x1="460.10" y1="649.50" x2="556.90" y2="606.60" stroke="#000" stroke-width="2.2" stroke-linecap="butt"/>
<line x1="112.60" y1="508.60" x2="153.20" y2="508.60" stroke="#ff3a14" stroke-width="2.6" stroke-linecap="butt"/>
<text x="156.80" y="517.30" font-size="36.50" textLength="215.16" lengthAdjust="spacingAndGlyphs" font-family='"Liberation Sans", Arial, Helvetica, sans-serif'>0.0102 msec</text>
<line x1="112.60" y1="541.70" x2="153.20" y2="541.70" stroke="#14ff64" stroke-width="2.6" stroke-linecap="butt"/>
<text x="156.80" y="550.40" font-size="36.50" textLength="194.22" lengthAdjust="spacingAndGlyphs" font-family='"Liberation Sans", Arial, Helvetica, sans-serif'>0.323 msec</text>
<line x1="112.60" y1="574.80" x2="153.20" y2="574.80" stroke="#0a46ff" stroke-width="2.6" stroke-linecap="butt"/>
<text x="155.25" y="583.00" font-size="36.50" textLength="175.03" lengthAdjust="spacingAndGlyphs" font-family='"Liberation Sans", Arial, Helvetica, sans-serif'>4.26 msec</text>
<line x1="112.60" y1="610.00" x2="153.20" y2="610.00" stroke="#a014ff" stroke-width="2.6" stroke-linecap="butt"/>
<text x="156.80" y="619.00" font-size="36.50" textLength="173.47" lengthAdjust="spacingAndGlyphs" font-family='"Liberation Sans", Arial, Helvetica, sans-serif'>56.1 msec</text>
<line x1="112.60" y1="648.60" x2="153.20" y2="648.60" stroke="#ff0a5a" stroke-width="2.6" stroke-linecap="butt"/>
<text x="156.42" y="657.30" font-size="36.50" textLength="162.93" lengthAdjust="spacingAndGlyphs" font-family='"Liberation Sans", Arial, Helvetica, sans-serif'>724 msec</text>
<rect x="953.0" y="87.6" width="661.8" height="598.1999999999999" fill="none" stroke="#000" stroke-width="2.4"/>
<line x1="961.70" y1="87.60" x2="961.70" y2="107.60" stroke="#000" stroke-width="2.4" stroke-linecap="butt"/>
<line x1="961.70" y1="685.80" x2="961.70" y2="665.80" stroke="#000" stroke-width="2.4" stroke-linecap="butt"/>
<line x1="1086.10" y1="87.60" x2="1086.10" y2="107.60" stroke="#000" stroke-width="2.4" stroke-linecap="butt"/>
<line x1="1086.10" y1="685.80" x2="1086.10" y2="665.80" stroke="#000" stroke-width="2.4" stroke-linecap="butt"/>
<line x1="1210.50" y1="87.60" x2="1210.50" y2="107.60" stroke="#000" stroke-width="2.4" stroke-linecap="butt"/>
<line x1="1210.50" y1="685.80" x2="1210.50" y2="665.80" stroke="#000" stroke-width="2.4" stroke-linecap="butt"/>
<line x1="1334.90" y1="87.60" x2="1334.90" y2="107.60" stroke="#000" stroke-width="2.4" stroke-linecap="butt"/>
<line x1="1334.90" y1="685.80" x2="1334.90" y2="665.80" stroke="#000" stroke-width="2.4" stroke-linecap="butt"/>
<line x1="1459.30" y1="87.60" x2="1459.30" y2="107.60" stroke="#000" stroke-width="2.4" stroke-linecap="butt"/>
<line x1="1459.30" y1="685.80" x2="1459.30" y2="665.80" stroke="#000" stroke-width="2.4" stroke-linecap="butt"/>
<line x1="1583.70" y1="87.60" x2="1583.70" y2="107.60" stroke="#000" stroke-width="2.4" stroke-linecap="butt"/>
<line x1="1583.70" y1="685.80" x2="1583.70" y2="665.80" stroke="#000" stroke-width="2.4" stroke-linecap="butt"/>
<line x1="953.00" y1="157.70" x2="969.50" y2="157.70" stroke="#000" stroke-width="2.4" stroke-linecap="butt"/>
<line x1="1614.80" y1="157.70" x2="1598.30" y2="157.70" stroke="#000" stroke-width="2.4" stroke-linecap="butt"/>
<line x1="953.00" y1="272.50" x2="969.50" y2="272.50" stroke="#000" stroke-width="2.4" stroke-linecap="butt"/>
<line x1="1614.80" y1="272.50" x2="1598.30" y2="272.50" stroke="#000" stroke-width="2.4" stroke-linecap="butt"/>
<line x1="953.00" y1="387.30" x2="969.50" y2="387.30" stroke="#000" stroke-width="2.4" stroke-linecap="butt"/>
<line x1="1614.80" y1="387.30" x2="1598.30" y2="387.30" stroke="#000" stroke-width="2.4" stroke-linecap="butt"/>
<line x1="953.00" y1="502.10" x2="969.50" y2="502.10" stroke="#000" stroke-width="2.4" stroke-linecap="butt"/>
<line x1="1614.80" y1="502.10" x2="1598.30" y2="502.10" stroke="#000" stroke-width="2.4" stroke-linecap="butt"/>
<line x1="953.00" y1="616.90" x2="969.50" y2="616.90" stroke="#000" stroke-width="2.4" stroke-linecap="butt"/>
<line x1="1614.80" y1="616.90" x2="1598.30" y2="616.90" stroke="#000" stroke-width="2.4" stroke-linecap="butt"/>
<line x1="953.00" y1="272.50" x2="1614.80" y2="272.50" stroke="#000" stroke-width="2.2" stroke-linecap="butt"/>
<g fill="none" stroke="#00aaff" stroke-width="0.9"><circle cx="960.9" cy="246.1" r="5.6"/><circle cx="961.5" cy="240.7" r="5.6"/><circle cx="962.1" cy="247.8" r="5.6"/><circle cx="962.7" cy="243.9" r="5.6"/><circle cx="963.2" cy="241.5" r="5.6"/><circle cx="963.8" cy="242.2" r="5.6"/><circle cx="964.4" cy="241.5" r="5.6"/><circle cx="965.0" cy="243.9" r="5.6"/><circle cx="965.6" cy="241.2" r="5.6"/><circle cx="966.2" cy="246.5" r="5.6"/><circle cx="966.7" cy="240.9" r="5.6"/><circle cx="967.3" cy="236.5" r="5.6"/><circle cx="967.9" cy="240.9" r="5.6"/><circle cx="968.5" cy="237.1" r="5.6"/><circle cx="969.1" cy="242.7" r="5.6"/><circle cx="969.7" cy="245.8" r="5.6"/><circle cx="970.2" cy="244.5" r="5.6"/><circle cx="970.8" cy="238.7" r="5.6"/><circle cx="971.4" cy="240.3" r="5.6"/><circle cx="972.0" cy="247.6" r="5.6"/><circle cx="972.6" cy="243.3" r="5.6"/><circle cx="973.2" cy="242.3" r="5.6"/><circle cx="973.8" cy="245.3" r="5.6"/><circle cx="974.3" cy="249.3" r="5.6"/><circle cx="974.9" cy="245.9" r="5.6"/><circle cx="975.5" cy="242.5" r="5.6"/><circle cx="976.1" cy="243.1" r="5.6"/><circle cx="976.7" cy="243.8" r="5.6"/><circle cx="977.3" cy="240.2" r="5.6"/><circle cx="977.8" cy="238.9" r="5.6"/><circle cx="978.4" cy="242.1" r="5.6"/><circle cx="979.0" cy="239.1" r="5.6"/><circle cx="979.6" cy="241.7" r="5.6"/><circle cx="980.2" cy="242.1" r="5.6"/><circle cx="980.8" cy="248.6" r="5.6"/><circle cx="981.3" cy="239.3" r="5.6"/><circle cx="981.9" cy="241.4" r="5.6"/><circle cx="982.5" cy="241.3" r="5.6"/><circle cx="983.1" cy="243.0" r="5.6"/><circle cx="983.7" cy="244.8" r="5.6"/><circle cx="984.3" cy="240.3" r="5.6"/><circle cx="984.9" cy="239.4" r="5.6"/><circle cx="985.4" cy="237.0" r="5.6"/><circle cx="986.0" cy="239.0" r="5.6"/><circle cx="986.6" cy="243.3" r="5.6"/><circle cx="987.2" cy="241.9" r="5.6"/><circle cx="987.8" cy="238.8" r="5.6"/><circle cx="988.4" cy="240.7" r="5.6"/><circle cx="988.9" cy="241.9" r="5.6"/><circle cx="989.5" cy="243.3" r="5.6"/><circle cx="990.1" cy="240.1" r="5.6"/><circle cx="990.7" cy="241.1" r="5.6"/><circle cx="991.3" cy="236.6" r="5.6"/><circle cx="991.9" cy="238.6" r="5.6"/><circle cx="992.4" cy="246.6" r="5.6"/><circle cx="993.0" cy="235.6" r="5.6"/><circle cx="993.6" cy="241.1" r="5.6"/><circle cx="994.2" cy="242.7" r="5.6"/><circle cx="994.8" cy="241.0" r="5.6"/><circle cx="995.4" cy="239.8" r="5.6"/><circle cx="996.0" cy="242.1" r="5.6"/><circle cx="996.5" cy="242.3" r="5.6"/><circle cx="997.1" cy="242.1" r="5.6"/><circle cx="997.7" cy="237.0" r="5.6"/><circle cx="998.3" cy="242.0" r="5.6"/><circle cx="998.9" cy="240.1" r="5.6"/><circle cx="999.5" cy="241.0" r="5.6"/><circle cx="1000.0" cy="243.3" r="5.6"/><circle cx="1000.6" cy="244.6" r="5.6"/><circle cx="1001.2" cy="245.4" r="5.6"/><circle cx="1001.8" cy="241.5" r="5.6"/><circle cx="1002.4" cy="245.7" r="5.6"/><circle cx="1003.0" cy="246.5" r="5.6"/><circle cx="1003.6" cy="246.5" r="5.6"/><circle cx="1004.1" cy="247.3" r="5.6"/><circle cx="1004.7" cy="242.9" r="5.6"/><circle cx="1005.3" cy="243.0" r="5.6"/><circle cx="1005.9" cy="246.0" r="5.6"/><circle cx="1006.5" cy="239.7" r="5.6"/><circle cx="1007.1" cy="244.4" r="5.6"/><circle cx="1007.6" cy="242.4" r="5.6"/><circle cx="1008.2" cy="242.9" r="5.6"/><circle cx="1008.8" cy="239.1" r="5.6"/><circle cx="1009.4" cy="241.7" r="5.6"/><circle cx="1010.0" cy="244.3" r="5.6"/><circle cx="1010.6" cy="247.1" r="5.6"/><circle cx="1011.1" cy="247.5" r="5.6"/><circle cx="1011.7" cy="244.5" r="5.6"/><circle cx="1012.3" cy="244.3" r="5.6"/><circle cx="1012.9" cy="242.6" r="5.6"/><circle cx="1013.5" cy="246.3" r="5.6"/><circle cx="1014.1" cy="244.6" r="5.6"/><circle cx="1014.7" cy="247.2" r="5.6"/><circle cx="1015.2" cy="250.7" r="5.6"/><circle cx="1015.8" cy="245.6" r="5.6"/><circle cx="1016.4" cy="241.5" r="5.6"/><circle cx="1017.0" cy="243.5" r="5.6"/><circle cx="1017.6" cy="241.9" r="5.6"/><circle cx="1018.2" cy="242.9" r="5.6"/><circle cx="1018.7" cy="250.3" r="5.6"/><circle cx="1019.3" cy="247.3" r="5.6"/><circle cx="1019.9" cy="242.4" r="5.6"/><circle cx="1020.5" cy="248.9" r="5.6"/><circle cx="1021.1" cy="250.8" r="5.6"/><circle cx="1021.7" cy="246.3" r="5.6"/><circle cx="1022.2" cy="245.5" r="5.6"/><circle cx="1022.8" cy="246.7" r="5.6"/><circle cx="1023.4" cy="248.7" r="5.6"/><circle cx="1024.0" cy="249.9" r="5.6"/><circle cx="1024.6" cy="251.7" r="5.6"/><circle cx="1025.2" cy="251.9" r="5.6"/><circle cx="1025.8" cy="252.0" r="5.6"/><circle cx="1026.3" cy="252.7" r="5.6"/><circle cx="1026.9" cy="250.9" r="5.6"/><circle cx="1027.5" cy="244.7" r="5.6"/><circle cx="1028.1" cy="249.0" r="5.6"/><circle cx="1028.7" cy="250.5" r="5.6"/><circle cx="1029.3" cy="248.7" r="5.6"/><circle cx="1029.8" cy="252.6" r="5.6"/><circle cx="1030.4" cy="249.1" r="5.6"/><circle cx="1031.0" cy="247.7" r="5.6"/><circle cx="1031.6" cy="254.8" r="5.6"/><circle cx="1032.2" cy="252.7" r="5.6"/><circle cx="1032.8" cy="251.7" r="5.6"/><circle cx="1033.3" cy="253.9" r="5.6"/><circle cx="1033.9" cy="254.5" r="5.6"/><circle cx="1034.5" cy="252.7" r="5.6"/><circle cx="1035.1" cy="244.8" r="5.6"/><circle cx="1035.7" cy="250.2" r="5.6"/><circle cx="1036.3" cy="251.0" r="5.6"/><circle cx="1036.9" cy="249.7" r="5.6"/><circle cx="1037.4" cy="253.4" r="5.6"/><circle cx="1038.0" cy="256.5" r="5.6"/><circle cx="1038.6" cy="251.9" r="5.6"/><circle cx="1039.2" cy="250.2" r="5.6"/><circle cx="1039.8" cy="259.6" r="5.6"/><circle cx="1040.4" cy="252.7" r="5.6"/><circle cx="1040.9" cy="250.6" r="5.6"/><circle cx="1041.5" cy="255.1" r="5.6"/><circle cx="1042.1" cy="255.9" r="5.6"/><circle cx="1042.7" cy="252.9" r="5.6"/><circle cx="1043.3" cy="257.5" r="5.6"/><circle cx="1043.9" cy="254.0" r="5.6"/><circle cx="1044.4" cy="253.0" r="5.6"/><circle cx="1045.0" cy="256.5" r="5.6"/><circle cx="1045.6" cy="258.4" r="5.6"/><circle cx="1046.2" cy="254.6" r="5.6"/><circle cx="1046.8" cy="257.7" r="5.6"/><circle cx="1047.4" cy="256.7" r="5.6"/><circle cx="1048.0" cy="265.4" r="5.6"/><circle cx="1048.5" cy="255.4" r="5.6"/><circle cx="1049.1" cy="261.8" r="5.6"/><circle cx="1049.7" cy="257.9" r="5.6"/><circle cx="1050.3" cy="257.9" r="5.6"/><circle cx="1050.9" cy="260.7" r="5.6"/><circle cx="1051.5" cy="261.4" r="5.6"/><circle cx="1052.0" cy="262.8" r="5.6"/><circle cx="1052.6" cy="260.4" r="5.6"/><circle cx="1053.2" cy="257.9" r="5.6"/><circle cx="1053.8" cy="258.4" r="5.6"/><circle cx="1054.4" cy="261.7" r="5.6"/><circle cx="1055.0" cy="262.2" r="5.6"/><circle cx="1055.5" cy="264.9" r="5.6"/><circle cx="1056.1" cy="262.3" r="5.6"/><circle cx="1056.7" cy="264.5" r="5.6"/><circle cx="1057.3" cy="266.1" r="5.6"/><circle cx="1057.9" cy="262.5" r="5.6"/><circle cx="1058.5" cy="258.0" r="5.6"/><circle cx="1059.1" cy="259.1" r="5.6"/><circle cx="1059.6" cy="258.7" r="5.6"/><circle cx="1060.2" cy="267.8" r="5.6"/><circle cx="1060.8" cy="261.0" r="5.6"/><circle cx="1061.4" cy="267.3" r="5.6"/><circle cx="1062.0" cy="265.8" r="5.6"/><circle cx="1062.6" cy="269.4" r="5.6"/><circle cx="1063.1" cy="267.6" r="5.6"/><circle cx="1063.7" cy="264.7" r="5.6"/><circle cx="1064.3" cy="264.7" r="5.6"/><circle cx="1064.9" cy="265.9" r="5.6"/><circle cx="1065.5" cy="266.5" r="5.6"/><circle cx="1066.1" cy="264.7" r="5.6"/><circle cx="1066.7" cy="266.5" r="5.6"/><circle cx="1067.2" cy="271.6" r="5.6"/><circle cx="1067.8" cy="262.3" r="5.6"/><circle cx="1068.4" cy="268.3" r="5.6"/><circle cx="1069.0" cy="265.3" r="5.6"/><circle cx="1069.6" cy="268.8" r="5.6"/><circle cx="1070.2" cy="271.0" r="5.6"/><circle cx="1070.7" cy="268.7" r="5.6"/><circle cx="1071.3" cy="271.5" r="5.6"/><circle cx="1071.9" cy="265.0" r="5.6"/><circle cx="1072.5" cy="273.1" r="5.6"/><circle cx="1073.1" cy="268.5" r="5.6"/><circle cx="1073.7" cy="272.4" r="5.6"/><circle cx="1074.2" cy="271.5" r="5.6"/><circle cx="1074.8" cy="263.8" r="5.6"/><circle cx="1075.4" cy="269.5" r="5.6"/><circle cx="1076.0" cy="272.6" r="5.6"/><circle cx="1076.6" cy="276.9" r="5.6"/><circle cx="1077.2" cy="273.5" r="5.6"/><circle cx="1077.8" cy="273.8" r="5.6"/><circle cx="1078.3" cy="269.3" r="5.6"/><circle cx="1078.9" cy="277.9" r="5.6"/><circle cx="1079.5" cy="279.4" r="5.6"/><circle cx="1080.1" cy="274.6" r="5.6"/><circle cx="1080.7" cy="274.2" r="5.6"/><circle cx="1081.3" cy="270.5" r="5.6"/><circle cx="1081.8" cy="278.1" r="5.6"/><circle cx="1082.4" cy="283.8" r="5.6"/><circle cx="1083.0" cy="278.4" r="5.6"/><circle cx="1083.6" cy="280.3" r="5.6"/><circle cx="1084.2" cy="278.6" r="5.6"/><circle cx="1084.8" cy="274.5" r="5.6"/><circle cx="1085.3" cy="281.7" r="5.6"/><circle cx="1085.9" cy="274.6" r="5.6"/><circle cx="1086.5" cy="277.9" r="5.6"/><circle cx="1087.1" cy="279.7" r="5.6"/><circle cx="1087.7" cy="281.8" r="5.6"/><circle cx="1088.3" cy="280.8" r="5.6"/><circle cx="1088.9" cy="281.1" r="5.6"/><circle cx="1089.4" cy="278.2" r="5.6"/><circle cx="1090.0" cy="277.0" r="5.6"/><circle cx="1090.6" cy="281.3" r="5.6"/><circle cx="1091.2" cy="279.5" r="5.6"/><circle cx="1091.8" cy="278.1" r="5.6"/><circle cx="1092.4" cy="278.6" r="5.6"/><circle cx="1092.9" cy="281.3" r="5.6"/><circle cx="1093.5" cy="277.7" r="5.6"/><circle cx="1094.1" cy="279.5" r="5.6"/><circle cx="1094.7" cy="279.1" r="5.6"/><circle cx="1095.3" cy="284.7" r="5.6"/><circle cx="1095.9" cy="285.8" r="5.6"/><circle cx="1096.4" cy="290.8" r="5.6"/><circle cx="1097.0" cy="281.0" r="5.6"/><circle cx="1097.6" cy="283.8" r="5.6"/><circle cx="1098.2" cy="288.8" r="5.6"/><circle cx="1098.8" cy="285.9" r="5.6"/><circle cx="1099.4" cy="286.0" r="5.6"/><circle cx="1100.0" cy="292.3" r="5.6"/><circle cx="1100.5" cy="286.7" r="5.6"/><circle cx="1101.1" cy="284.7" r="5.6"/><circle cx="1101.7" cy="284.6" r="5.6"/><circle cx="1102.3" cy="289.8" r="5.6"/><circle cx="1102.9" cy="290.1" r="5.6"/><circle cx="1103.5" cy="285.6" r="5.6"/><circle cx="1104.0" cy="287.2" r="5.6"/><circle cx="1104.6" cy="292.0" r="5.6"/><circle cx="1105.2" cy="292.5" r="5.6"/><circle cx="1105.8" cy="289.3" r="5.6"/><circle cx="1106.4" cy="293.4" r="5.6"/><circle cx="1107.0" cy="293.6" r="5.6"/><circle cx="1107.5" cy="287.2" r="5.6"/><circle cx="1108.1" cy="291.8" r="5.6"/><circle cx="1108.7" cy="294.3" r="5.6"/><circle cx="1109.3" cy="291.8" r="5.6"/><circle cx="1109.9" cy="287.7" r="5.6"/><circle cx="1110.5" cy="293.5" r="5.6"/><circle cx="1111.1" cy="296.8" r="5.6"/><circle cx="1111.6" cy="299.6" r="5.6"/><circle cx="1112.2" cy="289.1" r="5.6"/><circle cx="1112.8" cy="303.4" r="5.6"/><circle cx="1113.4" cy="292.9" r="5.6"/><circle cx="1114.0" cy="299.4" r="5.6"/><circle cx="1114.6" cy="300.5" r="5.6"/><circle cx="1115.1" cy="300.2" r="5.6"/><circle cx="1115.7" cy="298.2" r="5.6"/><circle cx="1116.3" cy="294.7" r="5.6"/><circle cx="1116.9" cy="300.3" r="5.6"/><circle cx="1117.5" cy="296.8" r="5.6"/><circle cx="1118.1" cy="291.9" r="5.6"/><circle cx="1118.6" cy="307.8" r="5.6"/><circle cx="1119.2" cy="302.0" r="5.6"/><circle cx="1119.8" cy="305.6" r="5.6"/><circle cx="1120.4" cy="298.1" r="5.6"/><circle cx="1121.0" cy="305.4" r="5.6"/><circle cx="1121.6" cy="306.1" r="5.6"/><circle cx="1122.2" cy="306.4" r="5.6"/><circle cx="1122.7" cy="302.2" r="5.6"/><circle cx="1123.3" cy="299.1" r="5.6"/><circle cx="1123.9" cy="302.4" r="5.6"/><circle cx="1124.5" cy="296.9" r="5.6"/><circle cx="1125.1" cy="298.7" r="5.6"/><circle cx="1125.7" cy="304.3" r="5.6"/><circle cx="1126.2" cy="301.5" r="5.6"/><circle cx="1126.8" cy="304.3" r="5.6"/><circle cx="1127.4" cy="304.8" r="5.6"/><circle cx="1128.0" cy="311.1" r="5.6"/><circle cx="1128.6" cy="309.6" r="5.6"/><circle cx="1129.2" cy="306.0" r="5.6"/><circle cx="1129.8" cy="310.0" r="5.6"/><circle cx="1130.3" cy="304.6" r="5.6"/><circle cx="1130.9" cy="306.2" r="5.6"/><circle cx="1131.5" cy="310.2" r="5.6"/><circle cx="1132.1" cy="304.3" r="5.6"/><circle cx="1132.7" cy="307.4" r="5.6"/><circle cx="1133.3" cy="304.7" r="5.6"/><circle cx="1133.8" cy="309.3" r="5.6"/><circle cx="1134.4" cy="314.0" r="5.6"/><circle cx="1135.0" cy="307.4" r="5.6"/><circle cx="1135.6" cy="310.6" r="5.6"/><circle cx="1136.2" cy="307.6" r="5.6"/><circle cx="1136.8" cy="307.2" r="5.6"/><circle cx="1137.3" cy="307.3" r="5.6"/><circle cx="1137.9" cy="315.4" r="5.6"/><circle cx="1138.5" cy="318.4" r="5.6"/><circle cx="1139.1" cy="313.2" r="5.6"/><circle cx="1139.7" cy="310.1" r="5.6"/><circle cx="1140.3" cy="314.5" r="5.6"/><circle cx="1140.9" cy="311.8" r="5.6"/><circle cx="1141.4" cy="315.4" r="5.6"/><circle cx="1142.0" cy="314.3" r="5.6"/><circle cx="1142.6" cy="314.5" r="5.6"/><circle cx="1143.2" cy="315.8" r="5.6"/><circle cx="1143.8" cy="312.6" r="5.6"/><circle cx="1144.4" cy="313.4" r="5.6"/><circle cx="1144.9" cy="309.9" r="5.6"/><circle cx="1145.5" cy="313.9" r="5.6"/><circle cx="1146.1" cy="311.4" r="5.6"/><circle cx="1146.7" cy="315.4" r="5.6"/><circle cx="1147.3" cy="313.3" r="5.6"/><circle cx="1147.9" cy="316.6" r="5.6"/><circle cx="1148.4" cy="317.9" r="5.6"/><circle cx="1149.0" cy="312.8" r="5.6"/><circle cx="1149.6" cy="314.8" r="5.6"/><circle cx="1150.2" cy="314.7" r="5.6"/><circle cx="1150.8" cy="319.9" r="5.6"/><circle cx="1151.4" cy="322.9" r="5.6"/><circle cx="1152.0" cy="320.7" r="5.6"/><circle cx="1152.5" cy="317.5" r="5.6"/><circle cx="1153.1" cy="323.0" r="5.6"/><circle cx="1153.7" cy="314.6" r="5.6"/><circle cx="1154.3" cy="323.6" r="5.6"/><circle cx="1154.9" cy="317.6" r="5.6"/><circle cx="1155.5" cy="311.7" r="5.6"/><circle cx="1156.0" cy="327.7" r="5.6"/><circle cx="1156.6" cy="324.9" r="5.6"/><circle cx="1157.2" cy="317.5" r="5.6"/><circle cx="1157.8" cy="321.3" r="5.6"/><circle cx="1158.4" cy="320.4" r="5.6"/><circle cx="1159.0" cy="321.5" r="5.6"/><circle cx="1159.5" cy="317.2" r="5.6"/><circle cx="1160.1" cy="319.7" r="5.6"/><circle cx="1160.7" cy="323.3" r="5.6"/><circle cx="1161.3" cy="322.8" r="5.6"/><circle cx="1161.9" cy="325.8" r="5.6"/><circle cx="1162.5" cy="322.8" r="5.6"/><circle cx="1163.1" cy="329.6" r="5.6"/><circle cx="1163.6" cy="320.9" r="5.6"/><circle cx="1164.2" cy="323.9" r="5.6"/><circle cx="1164.8" cy="317.8" r="5.6"/><circle cx="1165.4" cy="320.0" r="5.6"/><circle cx="1166.0" cy="327.6" r="5.6"/><circle cx="1166.6" cy="321.2" r="5.6"/><circle cx="1167.1" cy="325.7" r="5.6"/><circle cx="1167.7" cy="324.2" r="5.6"/><circle cx="1168.3" cy="321.5" r="5.6"/><circle cx="1168.9" cy="323.7" r="5.6"/><circle cx="1169.5" cy="323.4" r="5.6"/><circle cx="1170.1" cy="323.6" r="5.6"/><circle cx="1170.6" cy="327.4" r="5.6"/><circle cx="1171.2" cy="327.3" r="5.6"/><circle cx="1171.8" cy="323.9" r="5.6"/><circle cx="1172.4" cy="323.1" r="5.6"/><circle cx="1173.0" cy="326.7" r="5.6"/><circle cx="1173.6" cy="325.7" r="5.6"/><circle cx="1174.2" cy="329.2" r="5.6"/><circle cx="1174.7" cy="334.0" r="5.6"/><circle cx="1175.3" cy="328.9" r="5.6"/><circle cx="1175.9" cy="326.5" r="5.6"/><circle cx="1176.5" cy="326.3" r="5.6"/><circle cx="1177.1" cy="324.4" r="5.6"/><circle cx="1177.7" cy="324.4" r="5.6"/><circle cx="1178.2" cy="324.2" r="5.6"/><circle cx="1178.8" cy="326.1" r="5.6"/><circle cx="1179.4" cy="326.1" r="5.6"/><circle cx="1180.0" cy="329.7" r="5.6"/><circle cx="1180.6" cy="326.5" r="5.6"/><circle cx="1181.2" cy="327.1" r="5.6"/><circle cx="1181.7" cy="324.3" r="5.6"/><circle cx="1182.3" cy="332.7" r="5.6"/><circle cx="1182.9" cy="329.5" r="5.6"/><circle cx="1183.5" cy="333.3" r="5.6"/><circle cx="1184.1" cy="330.5" r="5.6"/><circle cx="1184.7" cy="332.6" r="5.6"/><circle cx="1185.3" cy="327.7" r="5.6"/><circle cx="1185.8" cy="330.6" r="5.6"/><circle cx="1186.4" cy="336.4" r="5.6"/><circle cx="1187.0" cy="325.1" r="5.6"/><circle cx="1187.6" cy="332.1" r="5.6"/><circle cx="1188.2" cy="333.7" r="5.6"/><circle cx="1188.8" cy="330.1" r="5.6"/><circle cx="1189.3" cy="331.1" r="5.6"/><circle cx="1189.9" cy="332.7" r="5.6"/><circle cx="1190.5" cy="327.1" r="5.6"/><circle cx="1191.1" cy="330.3" r="5.6"/><circle cx="1191.7" cy="326.6" r="5.6"/><circle cx="1192.3" cy="327.2" r="5.6"/><circle cx="1192.9" cy="327.4" r="5.6"/><circle cx="1193.4" cy="328.9" r="5.6"/><circle cx="1194.0" cy="329.8" r="5.6"/><circle cx="1194.6" cy="330.8" r="5.6"/><circle cx="1195.2" cy="325.3" r="5.6"/><circle cx="1195.8" cy="335.4" r="5.6"/><circle cx="1196.4" cy="333.0" r="5.6"/><circle cx="1196.9" cy="331.7" r="5.6"/><circle cx="1197.5" cy="328.5" r="5.6"/><circle cx="1198.1" cy="329.4" r="5.6"/><circle cx="1198.7" cy="331.3" r="5.6"/><circle cx="1199.3" cy="330.9" r="5.6"/><circle cx="1199.9" cy="324.7" r="5.6"/><circle cx="1200.4" cy="331.9" r="5.6"/><circle cx="1201.0" cy="338.4" r="5.6"/><circle cx="1201.6" cy="324.3" r="5.6"/><circle cx="1202.2" cy="332.8" r="5.6"/><circle cx="1202.8" cy="330.9" r="5.6"/><circle cx="1203.4" cy="329.5" r="5.6"/><circle cx="1204.0" cy="333.9" r="5.6"/><circle cx="1204.5" cy="326.3" r="5.6"/><circle cx="1205.1" cy="330.3" r="5.6"/><circle cx="1205.7" cy="334.2" r="5.6"/><circle cx="1206.3" cy="329.3" r="5.6"/><circle cx="1206.9" cy="328.6" r="5.6"/><circle cx="1207.5" cy="330.2" r="5.6"/><circle cx="1208.0" cy="328.5" r="5.6"/><circle cx="1208.6" cy="334.5" r="5.6"/><circle cx="1209.2" cy="327.2" r="5.6"/><circle cx="1209.8" cy="332.5" r="5.6"/><circle cx="1210.4" cy="326.1" r="5.6"/><circle cx="1211.0" cy="331.8" r="5.6"/><circle cx="1211.5" cy="329.5" r="5.6"/><circle cx="1212.1" cy="322.1" r="5.6"/><circle cx="1212.7" cy="329.8" r="5.6"/><circle cx="1213.3" cy="326.6" r="5.6"/><circle cx="1213.9" cy="328.5" r="5.6"/><circle cx="1214.5" cy="334.4" r="5.6"/><circle cx="1215.1" cy="326.4" r="5.6"/><circle cx="1215.6" cy="326.6" r="5.6"/><circle cx="1216.2" cy="334.0" r="5.6"/><circle cx="1216.8" cy="330.1" r="5.6"/><circle cx="1217.4" cy="334.3" r="5.6"/><circle cx="1218.0" cy="330.6" r="5.6"/><circle cx="1218.6" cy="327.0" r="5.6"/><circle cx="1219.1" cy="329.4" r="5.6"/><circle cx="1219.7" cy="333.3" r="5.6"/><circle cx="1220.3" cy="332.4" r="5.6"/><circle cx="1220.9" cy="329.6" r="5.6"/><circle cx="1221.5" cy="329.7" r="5.6"/><circle cx="1222.1" cy="329.2" r="5.6"/><circle cx="1222.6" cy="327.7" r="5.6"/><circle cx="1223.2" cy="335.2" r="5.6"/><circle cx="1223.8" cy="329.4" r="5.6"/><circle cx="1224.4" cy="326.0" r="5.6"/><circle cx="1225.0" cy="327.9" r="5.6"/><circle cx="1225.6" cy="331.5" r="5.6"/><circle cx="1226.2" cy="331.2" r="5.6"/><circle cx="1226.7" cy="328.9" r="5.6"/><circle cx="1227.3" cy="327.3" r="5.6"/><circle cx="1227.9" cy="329.3" r="5.6"/><circle cx="1228.5" cy="324.2" r="5.6"/><circle cx="1229.1" cy="325.3" r="5.6"/><circle cx="1229.7" cy="331.5" r="5.6"/><circle cx="1230.2" cy="327.7" r="5.6"/><circle cx="1230.8" cy="330.2" r="5.6"/><circle cx="1231.4" cy="332.7" r="5.6"/><circle cx="1232.0" cy="330.9" r="5.6"/><circle cx="1232.6" cy="329.0" r="5.6"/><circle cx="1233.2" cy="335.3" r="5.6"/><circle cx="1233.7" cy="330.9" r="5.6"/><circle cx="1234.3" cy="327.8" r="5.6"/><circle cx="1234.9" cy="331.0" r="5.6"/><circle cx="1235.5" cy="330.0" r="5.6"/><circle cx="1236.1" cy="326.2" r="5.6"/><circle cx="1236.7" cy="329.0" r="5.6"/><circle cx="1237.3" cy="328.2" r="5.6"/><circle cx="1237.8" cy="322.8" r="5.6"/><circle cx="1238.4" cy="328.2" r="5.6"/><circle cx="1239.0" cy="327.8" r="5.6"/><circle cx="1239.6" cy="327.3" r="5.6"/><circle cx="1240.2" cy="323.7" r="5.6"/><circle cx="1240.8" cy="327.5" r="5.6"/><circle cx="1241.3" cy="328.4" r="5.6"/><circle cx="1241.9" cy="328.8" r="5.6"/><circle cx="1242.5" cy="325.1" r="5.6"/><circle cx="1243.1" cy="330.3" r="5.6"/><circle cx="1243.7" cy="324.8" r="5.6"/><circle cx="1244.3" cy="327.7" r="5.6"/><circle cx="1244.8" cy="332.3" r="5.6"/><circle cx="1245.4" cy="326.3" r="5.6"/><circle cx="1246.0" cy="326.8" r="5.6"/><circle cx="1246.6" cy="331.5" r="5.6"/><circle cx="1247.2" cy="327.1" r="5.6"/><circle cx="1247.8" cy="327.4" r="5.6"/><circle cx="1248.4" cy="328.9" r="5.6"/><circle cx="1248.9" cy="331.4" r="5.6"/><circle cx="1249.5" cy="321.6" r="5.6"/><circle cx="1250.1" cy="325.7" r="5.6"/><circle cx="1250.7" cy="325.2" r="5.6"/><circle cx="1251.3" cy="324.9" r="5.6"/><circle cx="1251.9" cy="325.6" r="5.6"/><circle cx="1252.4" cy="325.6" r="5.6"/><circle cx="1253.0" cy="329.0" r="5.6"/><circle cx="1253.6" cy="325.4" r="5.6"/><circle cx="1254.2" cy="328.4" r="5.6"/><circle cx="1254.8" cy="329.2" r="5.6"/><circle cx="1255.4" cy="325.9" r="5.6"/><circle cx="1256.0" cy="328.4" r="5.6"/><circle cx="1256.5" cy="332.9" r="5.6"/><circle cx="1257.1" cy="328.9" r="5.6"/><circle cx="1257.7" cy="326.1" r="5.6"/><circle cx="1258.3" cy="327.8" r="5.6"/><circle cx="1258.9" cy="325.2" r="5.6"/><circle cx="1259.5" cy="328.7" r="5.6"/><circle cx="1260.0" cy="330.5" r="5.6"/><circle cx="1260.6" cy="325.5" r="5.6"/><circle cx="1261.2" cy="327.3" r="5.6"/><circle cx="1261.8" cy="331.2" r="5.6"/><circle cx="1262.4" cy="326.4" r="5.6"/><circle cx="1263.0" cy="328.4" r="5.6"/><circle cx="1263.5" cy="324.8" r="5.6"/><circle cx="1264.1" cy="325.4" r="5.6"/><circle cx="1264.7" cy="326.3" r="5.6"/><circle cx="1265.3" cy="334.1" r="5.6"/><circle cx="1265.9" cy="326.6" r="5.6"/><circle cx="1266.5" cy="326.3" r="5.6"/><circle cx="1267.1" cy="326.2" r="5.6"/><circle cx="1267.6" cy="327.3" r="5.6"/><circle cx="1268.2" cy="329.7" r="5.6"/><circle cx="1268.8" cy="328.3" r="5.6"/><circle cx="1269.4" cy="333.7" r="5.6"/><circle cx="1270.0" cy="328.4" r="5.6"/><circle cx="1270.6" cy="331.9" r="5.6"/><circle cx="1271.1" cy="328.5" r="5.6"/><circle cx="1271.7" cy="329.5" r="5.6"/><circle cx="1272.3" cy="323.5" r="5.6"/><circle cx="1272.9" cy="327.3" r="5.6"/><circle cx="1273.5" cy="327.5" r="5.6"/><circle cx="1274.1" cy="327.0" r="5.6"/><circle cx="1274.6" cy="321.5" r="5.6"/><circle cx="1275.2" cy="330.2" r="5.6"/><circle cx="1275.8" cy="326.6" r="5.6"/><circle cx="1276.4" cy="326.4" r="5.6"/><circle cx="1277.0" cy="326.9" r="5.6"/><circle cx="1277.6" cy="327.0" r="5.6"/><circle cx="1278.2" cy="328.8" r="5.6"/><circle cx="1278.7" cy="324.0" r="5.6"/><circle cx="1279.3" cy="325.0" r="5.6"/><circle cx="1279.9" cy="328.5" r="5.6"/><circle cx="1280.5" cy="328.1" r="5.6"/><circle cx="1281.1" cy="326.6" r="5.6"/><circle cx="1281.7" cy="326.0" r="5.6"/><circle cx="1282.2" cy="325.2" r="5.6"/><circle cx="1282.8" cy="327.5" r="5.6"/><circle cx="1283.4" cy="331.1" r="5.6"/><circle cx="1284.0" cy="324.6" r="5.6"/><circle cx="1284.6" cy="332.0" r="5.6"/><circle cx="1285.2" cy="330.1" r="5.6"/><circle cx="1285.7" cy="326.3" r="5.6"/><circle cx="1286.3" cy="329.9" r="5.6"/><circle cx="1286.9" cy="323.4" r="5.6"/><circle cx="1287.5" cy="322.6" r="5.6"/><circle cx="1288.1" cy="323.9" r="5.6"/><circle cx="1288.7" cy="326.4" r="5.6"/><circle cx="1289.3" cy="326.7" r="5.6"/><circle cx="1289.8" cy="326.1" r="5.6"/><circle cx="1290.4" cy="327.9" r="5.6"/><circle cx="1291.0" cy="321.4" r="5.6"/><circle cx="1291.6" cy="329.0" r="5.6"/><circle cx="1292.2" cy="323.5" r="5.6"/><circle cx="1292.8" cy="325.7" r="5.6"/><circle cx="1293.3" cy="326.4" r="5.6"/><circle cx="1293.9" cy="324.2" r="5.6"/><circle cx="1294.5" cy="323.6" r="5.6"/><circle cx="1295.1" cy="324.7" r="5.6"/><circle cx="1295.7" cy="327.5" r="5.6"/><circle cx="1296.3" cy="329.3" r="5.6"/><circle cx="1296.8" cy="329.2" r="5.6"/><circle cx="1297.4" cy="324.7" r="5.6"/><circle cx="1298.0" cy="325.3" r="5.6"/><circle cx="1298.6" cy="324.9" r="5.6"/><circle cx="1299.2" cy="328.9" r="5.6"/><circle cx="1299.8" cy="321.6" r="5.6"/><circle cx="1300.4" cy="331.1" r="5.6"/><circle cx="1300.9" cy="326.1" r="5.6"/><circle cx="1301.5" cy="325.3" r="5.6"/><circle cx="1302.1" cy="328.5" r="5.6"/><circle cx="1302.7" cy="330.5" r="5.6"/><circle cx="1303.3" cy="328.5" r="5.6"/><circle cx="1303.9" cy="330.6" r="5.6"/><circle cx="1304.4" cy="327.9" r="5.6"/><circle cx="1305.0" cy="331.1" r="5.6"/><circle cx="1305.6" cy="331.1" r="5.6"/><circle cx="1306.2" cy="327.2" r="5.6"/><circle cx="1306.8" cy="331.7" r="5.6"/><circle cx="1307.4" cy="328.0" r="5.6"/><circle cx="1307.9" cy="327.8" r="5.6"/><circle cx="1308.5" cy="324.8" r="5.6"/><circle cx="1309.1" cy="326.7" r="5.6"/><circle cx="1309.7" cy="329.7" r="5.6"/><circle cx="1310.3" cy="323.7" r="5.6"/><circle cx="1310.9" cy="329.4" r="5.6"/><circle cx="1311.5" cy="328.5" r="5.6"/><circle cx="1312.0" cy="328.3" r="5.6"/><circle cx="1312.6" cy="321.1" r="5.6"/><circle cx="1313.2" cy="327.1" r="5.6"/><circle cx="1313.8" cy="329.3" r="5.6"/><circle cx="1314.4" cy="325.2" r="5.6"/><circle cx="1315.0" cy="327.7" r="5.6"/><circle cx="1315.5" cy="320.5" r="5.6"/><circle cx="1316.1" cy="329.4" r="5.6"/><circle cx="1316.7" cy="325.5" r="5.6"/><circle cx="1317.3" cy="329.9" r="5.6"/><circle cx="1317.9" cy="322.0" r="5.6"/><circle cx="1318.5" cy="329.4" r="5.6"/><circle cx="1319.1" cy="326.7" r="5.6"/><circle cx="1319.6" cy="329.7" r="5.6"/><circle cx="1320.2" cy="324.7" r="5.6"/><circle cx="1320.8" cy="325.5" r="5.6"/><circle cx="1321.4" cy="333.8" r="5.6"/><circle cx="1322.0" cy="324.9" r="5.6"/><circle cx="1322.6" cy="325.2" r="5.6"/><circle cx="1323.1" cy="326.5" r="5.6"/><circle cx="1323.7" cy="324.3" r="5.6"/><circle cx="1324.3" cy="330.7" r="5.6"/><circle cx="1324.9" cy="332.2" r="5.6"/><circle cx="1325.5" cy="325.2" r="5.6"/><circle cx="1326.1" cy="322.2" r="5.6"/><circle cx="1326.6" cy="330.6" r="5.6"/><circle cx="1327.2" cy="330.4" r="5.6"/><circle cx="1327.8" cy="329.6" r="5.6"/><circle cx="1328.4" cy="330.5" r="5.6"/><circle cx="1329.0" cy="324.6" r="5.6"/><circle cx="1329.6" cy="326.6" r="5.6"/><circle cx="1330.2" cy="323.1" r="5.6"/><circle cx="1330.7" cy="323.0" r="5.6"/><circle cx="1331.3" cy="329.9" r="5.6"/><circle cx="1331.9" cy="325.1" r="5.6"/><circle cx="1332.5" cy="333.7" r="5.6"/><circle cx="1333.1" cy="327.2" r="5.6"/><circle cx="1333.7" cy="325.1" r="5.6"/><circle cx="1334.2" cy="329.3" r="5.6"/><circle cx="1334.8" cy="332.2" r="5.6"/><circle cx="1335.4" cy="328.4" r="5.6"/><circle cx="1336.0" cy="323.4" r="5.6"/><circle cx="1336.6" cy="328.0" r="5.6"/><circle cx="1337.2" cy="330.9" r="5.6"/><circle cx="1337.7" cy="325.4" r="5.6"/><circle cx="1338.3" cy="324.6" r="5.6"/><circle cx="1338.9" cy="329.8" r="5.6"/><circle cx="1339.5" cy="327.2" r="5.6"/><circle cx="1340.1" cy="323.6" r="5.6"/><circle cx="1340.7" cy="325.6" r="5.6"/><circle cx="1341.3" cy="324.5" r="5.6"/><circle cx="1341.8" cy="327.6" r="5.6"/><circle cx="1342.4" cy="327.0" r="5.6"/><circle cx="1343.0" cy="330.0" r="5.6"/><circle cx="1343.6" cy="328.7" r="5.6"/><circle cx="1344.2" cy="322.1" r="5.6"/><circle cx="1344.8" cy="327.7" r="5.6"/><circle cx="1345.3" cy="329.1" r="5.6"/><circle cx="1345.9" cy="327.8" r="5.6"/><circle cx="1346.5" cy="329.5" r="5.6"/><circle cx="1347.1" cy="324.9" r="5.6"/><circle cx="1347.7" cy="323.7" r="5.6"/><circle cx="1348.3" cy="329.1" r="5.6"/><circle cx="1348.8" cy="323.3" r="5.6"/><circle cx="1349.4" cy="320.1" r="5.6"/><circle cx="1350.0" cy="329.3" r="5.6"/><circle cx="1350.6" cy="324.2" r="5.6"/><circle cx="1351.2" cy="325.4" r="5.6"/><circle cx="1351.8" cy="322.2" r="5.6"/><circle cx="1352.4" cy="322.3" r="5.6"/><circle cx="1352.9" cy="322.8" r="5.6"/><circle cx="1353.5" cy="325.1" r="5.6"/><circle cx="1354.1" cy="327.1" r="5.6"/><circle cx="1354.7" cy="319.4" r="5.6"/><circle cx="1355.3" cy="328.2" r="5.6"/><circle cx="1355.9" cy="322.5" r="5.6"/><circle cx="1356.4" cy="322.8" r="5.6"/><circle cx="1357.0" cy="327.9" r="5.6"/><circle cx="1357.6" cy="325.6" r="5.6"/><circle cx="1358.2" cy="321.4" r="5.6"/><circle cx="1358.8" cy="331.1" r="5.6"/><circle cx="1359.4" cy="323.2" r="5.6"/><circle cx="1359.9" cy="326.4" r="5.6"/><circle cx="1360.5" cy="326.2" r="5.6"/><circle cx="1361.1" cy="329.7" r="5.6"/><circle cx="1361.7" cy="324.2" r="5.6"/><circle cx="1362.3" cy="328.4" r="5.6"/><circle cx="1362.9" cy="323.3" r="5.6"/><circle cx="1363.5" cy="328.7" r="5.6"/><circle cx="1364.0" cy="323.2" r="5.6"/><circle cx="1364.6" cy="324.3" r="5.6"/><circle cx="1365.2" cy="330.8" r="5.6"/><circle cx="1365.8" cy="326.2" r="5.6"/><circle cx="1366.4" cy="325.5" r="5.6"/><circle cx="1367.0" cy="331.7" r="5.6"/><circle cx="1367.5" cy="326.2" r="5.6"/><circle cx="1368.1" cy="322.7" r="5.6"/><circle cx="1368.7" cy="327.1" r="5.6"/><circle cx="1369.3" cy="321.5" r="5.6"/><circle cx="1369.9" cy="328.2" r="5.6"/><circle cx="1370.5" cy="328.4" r="5.6"/><circle cx="1371.0" cy="323.1" r="5.6"/><circle cx="1371.6" cy="322.9" r="5.6"/><circle cx="1372.2" cy="325.2" r="5.6"/><circle cx="1372.8" cy="324.7" r="5.6"/><circle cx="1373.4" cy="321.7" r="5.6"/><circle cx="1374.0" cy="326.2" r="5.6"/><circle cx="1374.6" cy="318.5" r="5.6"/><circle cx="1375.1" cy="323.2" r="5.6"/><circle cx="1375.7" cy="323.2" r="5.6"/><circle cx="1376.3" cy="323.5" r="5.6"/><circle cx="1376.9" cy="325.1" r="5.6"/><circle cx="1377.5" cy="320.6" r="5.6"/><circle cx="1378.1" cy="325.8" r="5.6"/><circle cx="1378.6" cy="323.5" r="5.6"/><circle cx="1379.2" cy="322.1" r="5.6"/><circle cx="1379.8" cy="320.0" r="5.6"/><circle cx="1380.4" cy="320.4" r="5.6"/><circle cx="1381.0" cy="324.8" r="5.6"/><circle cx="1381.6" cy="320.9" r="5.6"/><circle cx="1382.2" cy="323.8" r="5.6"/><circle cx="1382.7" cy="326.7" r="5.6"/><circle cx="1383.3" cy="326.5" r="5.6"/><circle cx="1383.9" cy="328.0" r="5.6"/><circle cx="1384.5" cy="322.5" r="5.6"/><circle cx="1385.1" cy="320.2" r="5.6"/><circle cx="1385.7" cy="326.2" r="5.6"/><circle cx="1386.2" cy="324.0" r="5.6"/><circle cx="1386.8" cy="326.3" r="5.6"/><circle cx="1387.4" cy="323.0" r="5.6"/><circle cx="1388.0" cy="326.4" r="5.6"/><circle cx="1388.6" cy="325.3" r="5.6"/><circle cx="1389.2" cy="324.8" r="5.6"/><circle cx="1389.7" cy="324.1" r="5.6"/><circle cx="1390.3" cy="323.8" r="5.6"/><circle cx="1390.9" cy="323.2" r="5.6"/><circle cx="1391.5" cy="323.1" r="5.6"/><circle cx="1392.1" cy="325.2" r="5.6"/><circle cx="1392.7" cy="320.8" r="5.6"/><circle cx="1393.3" cy="327.2" r="5.6"/><circle cx="1393.8" cy="321.8" r="5.6"/><circle cx="1394.4" cy="324.9" r="5.6"/><circle cx="1395.0" cy="321.6" r="5.6"/><circle cx="1395.6" cy="321.1" r="5.6"/><circle cx="1396.2" cy="327.6" r="5.6"/><circle cx="1396.8" cy="320.7" r="5.6"/><circle cx="1397.3" cy="317.8" r="5.6"/><circle cx="1397.9" cy="319.4" r="5.6"/><circle cx="1398.5" cy="320.4" r="5.6"/><circle cx="1399.1" cy="327.5" r="5.6"/><circle cx="1399.7" cy="321.7" r="5.6"/><circle cx="1400.3" cy="323.8" r="5.6"/><circle cx="1400.8" cy="318.0" r="5.6"/><circle cx="1401.4" cy="321.9" r="5.6"/><circle cx="1402.0" cy="322.7" r="5.6"/><circle cx="1402.6" cy="325.8" r="5.6"/><circle cx="1403.2" cy="318.5" r="5.6"/><circle cx="1403.8" cy="322.2" r="5.6"/><circle cx="1404.4" cy="321.2" r="5.6"/><circle cx="1404.9" cy="317.2" r="5.6"/><circle cx="1405.5" cy="320.0" r="5.6"/><circle cx="1406.1" cy="319.2" r="5.6"/><circle cx="1406.7" cy="313.1" r="5.6"/><circle cx="1407.3" cy="321.5" r="5.6"/><circle cx="1407.9" cy="321.2" r="5.6"/><circle cx="1408.4" cy="318.2" r="5.6"/><circle cx="1409.0" cy="315.5" r="5.6"/><circle cx="1409.6" cy="323.5" r="5.6"/><circle cx="1410.2" cy="319.9" r="5.6"/><circle cx="1410.8" cy="321.9" r="5.6"/><circle cx="1411.4" cy="323.0" r="5.6"/><circle cx="1411.9" cy="317.2" r="5.6"/><circle cx="1412.5" cy="321.0" r="5.6"/><circle cx="1413.1" cy="317.8" r="5.6"/><circle cx="1413.7" cy="318.2" r="5.6"/><circle cx="1414.3" cy="318.0" r="5.6"/><circle cx="1414.9" cy="318.1" r="5.6"/><circle cx="1415.5" cy="321.2" r="5.6"/><circle cx="1416.0" cy="318.2" r="5.6"/><circle cx="1416.6" cy="317.2" r="5.6"/><circle cx="1417.2" cy="316.7" r="5.6"/><circle cx="1417.8" cy="318.4" r="5.6"/><circle cx="1418.4" cy="314.6" r="5.6"/><circle cx="1419.0" cy="315.6" r="5.6"/><circle cx="1419.5" cy="316.8" r="5.6"/><circle cx="1420.1" cy="315.2" r="5.6"/><circle cx="1420.7" cy="316.3" r="5.6"/><circle cx="1421.3" cy="314.7" r="5.6"/><circle cx="1421.9" cy="322.2" r="5.6"/><circle cx="1422.5" cy="320.0" r="5.6"/><circle cx="1423.0" cy="317.3" r="5.6"/><circle cx="1423.6" cy="315.7" r="5.6"/><circle cx="1424.2" cy="322.1" r="5.6"/><circle cx="1424.8" cy="316.5" r="5.6"/><circle cx="1425.4" cy="315.1" r="5.6"/><circle cx="1426.0" cy="316.1" r="5.6"/><circle cx="1426.6" cy="316.0" r="5.6"/><circle cx="1427.1" cy="319.0" r="5.6"/><circle cx="1427.7" cy="314.7" r="5.6"/><circle cx="1428.3" cy="320.7" r="5.6"/><circle cx="1428.9" cy="311.8" r="5.6"/><circle cx="1429.5" cy="316.2" r="5.6"/><circle cx="1430.1" cy="311.1" r="5.6"/><circle cx="1430.6" cy="319.1" r="5.6"/><circle cx="1431.2" cy="312.7" r="5.6"/><circle cx="1431.8" cy="313.4" r="5.6"/><circle cx="1432.4" cy="316.0" r="5.6"/><circle cx="1433.0" cy="316.8" r="5.6"/><circle cx="1433.6" cy="309.8" r="5.6"/><circle cx="1434.1" cy="311.8" r="5.6"/><circle cx="1434.7" cy="308.6" r="5.6"/><circle cx="1435.3" cy="312.8" r="5.6"/><circle cx="1435.9" cy="312.0" r="5.6"/><circle cx="1436.5" cy="311.0" r="5.6"/><circle cx="1437.1" cy="309.9" r="5.6"/><circle cx="1437.7" cy="310.6" r="5.6"/><circle cx="1438.2" cy="309.3" r="5.6"/><circle cx="1438.8" cy="312.8" r="5.6"/><circle cx="1439.4" cy="315.5" r="5.6"/><circle cx="1440.0" cy="305.3" r="5.6"/><circle cx="1440.6" cy="310.4" r="5.6"/><circle cx="1441.2" cy="309.3" r="5.6"/><circle cx="1441.7" cy="311.7" r="5.6"/><circle cx="1442.3" cy="307.3" r="5.6"/><circle cx="1442.9" cy="309.5" r="5.6"/><circle cx="1443.5" cy="306.7" r="5.6"/><circle cx="1444.1" cy="311.5" r="5.6"/><circle cx="1444.7" cy="309.6" r="5.6"/><circle cx="1445.3" cy="308.6" r="5.6"/><circle cx="1445.8" cy="310.0" r="5.6"/><circle cx="1446.4" cy="308.0" r="5.6"/><circle cx="1447.0" cy="304.0" r="5.6"/><circle cx="1447.6" cy="310.0" r="5.6"/><circle cx="1448.2" cy="308.9" r="5.6"/><circle cx="1448.8" cy="307.4" r="5.6"/><circle cx="1449.3" cy="310.5" r="5.6"/><circle cx="1449.9" cy="310.9" r="5.6"/><circle cx="1450.5" cy="304.0" r="5.6"/><circle cx="1451.1" cy="304.7" r="5.6"/><circle cx="1451.7" cy="311.2" r="5.6"/><circle cx="1452.3" cy="310.6" r="5.6"/><circle cx="1452.8" cy="304.2" r="5.6"/><circle cx="1453.4" cy="302.7" r="5.6"/><circle cx="1454.0" cy="304.0" r="5.6"/><circle cx="1454.6" cy="304.2" r="5.6"/><circle cx="1455.2" cy="300.8" r="5.6"/><circle cx="1455.8" cy="305.3" r="5.6"/><circle cx="1456.4" cy="301.3" r="5.6"/><circle cx="1456.9" cy="301.3" r="5.6"/><circle cx="1457.5" cy="307.2" r="5.6"/><circle cx="1458.1" cy="302.3" r="5.6"/><circle cx="1458.7" cy="303.9" r="5.6"/><circle cx="1459.3" cy="305.7" r="5.6"/><circle cx="1459.9" cy="306.0" r="5.6"/><circle cx="1460.4" cy="302.4" r="5.6"/><circle cx="1461.0" cy="303.3" r="5.6"/><circle cx="1461.6" cy="300.6" r="5.6"/><circle cx="1462.2" cy="307.8" r="5.6"/><circle cx="1462.8" cy="304.4" r="5.6"/><circle cx="1463.4" cy="299.1" r="5.6"/><circle cx="1463.9" cy="302.1" r="5.6"/><circle cx="1464.5" cy="303.9" r="5.6"/><circle cx="1465.1" cy="303.0" r="5.6"/><circle cx="1465.7" cy="306.7" r="5.6"/><circle cx="1466.3" cy="305.1" r="5.6"/><circle cx="1466.9" cy="299.4" r="5.6"/><circle cx="1467.5" cy="300.4" r="5.6"/><circle cx="1468.0" cy="296.8" r="5.6"/><circle cx="1468.6" cy="301.0" r="5.6"/><circle cx="1469.2" cy="300.5" r="5.6"/><circle cx="1469.8" cy="307.6" r="5.6"/><circle cx="1470.4" cy="299.8" r="5.6"/><circle cx="1471.0" cy="293.3" r="5.6"/><circle cx="1471.5" cy="297.2" r="5.6"/><circle cx="1472.1" cy="299.2" r="5.6"/><circle cx="1472.7" cy="295.0" r="5.6"/><circle cx="1473.3" cy="295.9" r="5.6"/><circle cx="1473.9" cy="297.1" r="5.6"/><circle cx="1474.5" cy="299.0" r="5.6"/><circle cx="1475.0" cy="297.3" r="5.6"/><circle cx="1475.6" cy="294.9" r="5.6"/><circle cx="1476.2" cy="299.6" r="5.6"/><circle cx="1476.8" cy="295.5" r="5.6"/><circle cx="1477.4" cy="295.4" r="5.6"/><circle cx="1478.0" cy="292.6" r="5.6"/><circle cx="1478.6" cy="294.1" r="5.6"/><circle cx="1479.1" cy="298.0" r="5.6"/><circle cx="1479.7" cy="291.2" r="5.6"/><circle cx="1480.3" cy="295.5" r="5.6"/><circle cx="1480.9" cy="297.5" r="5.6"/><circle cx="1481.5" cy="294.1" r="5.6"/><circle cx="1482.1" cy="295.7" r="5.6"/><circle cx="1482.6" cy="291.6" r="5.6"/><circle cx="1483.2" cy="298.4" r="5.6"/><circle cx="1483.8" cy="297.5" r="5.6"/><circle cx="1484.4" cy="294.8" r="5.6"/><circle cx="1485.0" cy="288.8" r="5.6"/><circle cx="1485.6" cy="290.6" r="5.6"/><circle cx="1486.1" cy="296.3" r="5.6"/><circle cx="1486.7" cy="298.2" r="5.6"/><circle cx="1487.3" cy="293.9" r="5.6"/><circle cx="1487.9" cy="296.4" r="5.6"/><circle cx="1488.5" cy="290.8" r="5.6"/><circle cx="1489.1" cy="291.8" r="5.6"/><circle cx="1489.7" cy="292.1" r="5.6"/><circle cx="1490.2" cy="293.1" r="5.6"/><circle cx="1490.8" cy="287.3" r="5.6"/><circle cx="1491.4" cy="294.2" r="5.6"/><circle cx="1492.0" cy="295.1" r="5.6"/><circle cx="1492.6" cy="287.7" r="5.6"/><circle cx="1493.2" cy="286.9" r="5.6"/><circle cx="1493.7" cy="291.6" r="5.6"/><circle cx="1494.3" cy="288.5" r="5.6"/><circle cx="1494.9" cy="283.3" r="5.6"/><circle cx="1495.5" cy="292.3" r="5.6"/><circle cx="1496.1" cy="290.2" r="5.6"/><circle cx="1496.7" cy="288.2" r="5.6"/><circle cx="1497.2" cy="295.5" r="5.6"/><circle cx="1497.8" cy="289.5" r="5.6"/><circle cx="1498.4" cy="286.7" r="5.6"/><circle cx="1499.0" cy="289.0" r="5.6"/><circle cx="1499.6" cy="285.5" r="5.6"/><circle cx="1500.2" cy="286.1" r="5.6"/><circle cx="1500.8" cy="289.2" r="5.6"/><circle cx="1501.3" cy="286.3" r="5.6"/><circle cx="1501.9" cy="286.4" r="5.6"/><circle cx="1502.5" cy="292.3" r="5.6"/><circle cx="1503.1" cy="289.8" r="5.6"/><circle cx="1503.7" cy="289.4" r="5.6"/><circle cx="1504.3" cy="288.4" r="5.6"/><circle cx="1504.8" cy="288.1" r="5.6"/><circle cx="1505.4" cy="290.7" r="5.6"/><circle cx="1506.0" cy="286.2" r="5.6"/><circle cx="1506.6" cy="291.4" r="5.6"/><circle cx="1507.2" cy="283.1" r="5.6"/><circle cx="1507.8" cy="284.9" r="5.6"/><circle cx="1508.4" cy="281.5" r="5.6"/><circle cx="1508.9" cy="284.3" r="5.6"/><circle cx="1509.5" cy="286.6" r="5.6"/><circle cx="1510.1" cy="289.1" r="5.6"/><circle cx="1510.7" cy="282.8" r="5.6"/><circle cx="1511.3" cy="284.5" r="5.6"/><circle cx="1511.9" cy="283.3" r="5.6"/><circle cx="1512.4" cy="282.0" r="5.6"/><circle cx="1513.0" cy="280.5" r="5.6"/><circle cx="1513.6" cy="283.9" r="5.6"/><circle cx="1514.2" cy="278.5" r="5.6"/><circle cx="1514.8" cy="283.7" r="5.6"/><circle cx="1515.4" cy="283.3" r="5.6"/><circle cx="1515.9" cy="281.1" r="5.6"/><circle cx="1516.5" cy="279.9" r="5.6"/><circle cx="1517.1" cy="278.6" r="5.6"/><circle cx="1517.7" cy="287.9" r="5.6"/><circle cx="1518.3" cy="278.4" r="5.6"/><circle cx="1518.9" cy="286.6" r="5.6"/><circle cx="1519.5" cy="283.7" r="5.6"/><circle cx="1520.0" cy="280.7" r="5.6"/><circle cx="1520.6" cy="278.2" r="5.6"/><circle cx="1521.2" cy="284.4" r="5.6"/><circle cx="1521.8" cy="286.2" r="5.6"/><circle cx="1522.4" cy="278.3" r="5.6"/><circle cx="1523.0" cy="280.0" r="5.6"/><circle cx="1523.5" cy="283.8" r="5.6"/><circle cx="1524.1" cy="281.5" r="5.6"/><circle cx="1524.7" cy="286.2" r="5.6"/><circle cx="1525.3" cy="278.5" r="5.6"/><circle cx="1525.9" cy="281.6" r="5.6"/><circle cx="1526.5" cy="276.2" r="5.6"/><circle cx="1527.0" cy="285.8" r="5.6"/><circle cx="1527.6" cy="277.4" r="5.6"/><circle cx="1528.2" cy="273.0" r="5.6"/><circle cx="1528.8" cy="278.9" r="5.6"/><circle cx="1529.4" cy="278.7" r="5.6"/><circle cx="1530.0" cy="284.5" r="5.6"/><circle cx="1530.6" cy="277.8" r="5.6"/><circle cx="1531.1" cy="278.6" r="5.6"/><circle cx="1531.7" cy="280.2" r="5.6"/><circle cx="1532.3" cy="282.9" r="5.6"/><circle cx="1532.9" cy="277.9" r="5.6"/><circle cx="1533.5" cy="281.0" r="5.6"/><circle cx="1534.1" cy="279.3" r="5.6"/><circle cx="1534.6" cy="276.8" r="5.6"/><circle cx="1535.2" cy="277.8" r="5.6"/><circle cx="1535.8" cy="277.5" r="5.6"/><circle cx="1536.4" cy="274.6" r="5.6"/><circle cx="1537.0" cy="280.6" r="5.6"/><circle cx="1537.6" cy="272.9" r="5.6"/><circle cx="1538.1" cy="280.2" r="5.6"/><circle cx="1538.7" cy="279.5" r="5.6"/><circle cx="1539.3" cy="276.3" r="5.6"/><circle cx="1539.9" cy="274.2" r="5.6"/><circle cx="1540.5" cy="275.6" r="5.6"/><circle cx="1541.1" cy="277.5" r="5.6"/><circle cx="1541.7" cy="278.2" r="5.6"/><circle cx="1542.2" cy="276.7" r="5.6"/><circle cx="1542.8" cy="278.6" r="5.6"/><circle cx="1543.4" cy="274.0" r="5.6"/><circle cx="1544.0" cy="276.2" r="5.6"/><circle cx="1544.6" cy="270.8" r="5.6"/><circle cx="1545.2" cy="277.5" r="5.6"/><circle cx="1545.7" cy="275.6" r="5.6"/><circle cx="1546.3" cy="273.8" r="5.6"/><circle cx="1546.9" cy="278.3" r="5.6"/><circle cx="1547.5" cy="276.8" r="5.6"/><circle cx="1548.1" cy="266.5" r="5.6"/><circle cx="1548.7" cy="274.7" r="5.6"/><circle cx="1549.2" cy="270.2" r="5.6"/><circle cx="1549.8" cy="277.4" r="5.6"/><circle cx="1550.4" cy="281.4" r="5.6"/><circle cx="1551.0" cy="272.6" r="5.6"/><circle cx="1551.6" cy="274.2" r="5.6"/><circle cx="1552.2" cy="273.2" r="5.6"/><circle cx="1552.8" cy="274.8" r="5.6"/><circle cx="1553.3" cy="275.6" r="5.6"/><circle cx="1553.9" cy="277.3" r="5.6"/><circle cx="1554.5" cy="270.6" r="5.6"/><circle cx="1555.1" cy="278.0" r="5.6"/><circle cx="1555.7" cy="270.6" r="5.6"/><circle cx="1556.3" cy="274.0" r="5.6"/><circle cx="1556.8" cy="276.5" r="5.6"/><circle cx="1557.4" cy="275.1" r="5.6"/><circle cx="1558.0" cy="270.2" r="5.6"/><circle cx="1558.6" cy="270.8" r="5.6"/><circle cx="1559.2" cy="271.4" r="5.6"/><circle cx="1559.8" cy="272.6" r="5.6"/><circle cx="1560.3" cy="276.0" r="5.6"/><circle cx="1560.9" cy="268.8" r="5.6"/><circle cx="1561.5" cy="273.8" r="5.6"/><circle cx="1562.1" cy="274.2" r="5.6"/><circle cx="1562.7" cy="273.9" r="5.6"/><circle cx="1563.3" cy="273.6" r="5.6"/><circle cx="1563.9" cy="276.6" r="5.6"/><circle cx="1564.4" cy="273.5" r="5.6"/><circle cx="1565.0" cy="274.5" r="5.6"/><circle cx="1565.6" cy="273.6" r="5.6"/><circle cx="1566.2" cy="277.1" r="5.6"/><circle cx="1566.8" cy="266.4" r="5.6"/><circle cx="1567.4" cy="275.5" r="5.6"/><circle cx="1567.9" cy="271.0" r="5.6"/><circle cx="1568.5" cy="270.9" r="5.6"/><circle cx="1569.1" cy="268.8" r="5.6"/><circle cx="1569.7" cy="266.2" r="5.6"/><circle cx="1570.3" cy="270.5" r="5.6"/><circle cx="1570.9" cy="269.5" r="5.6"/><circle cx="1571.5" cy="272.9" r="5.6"/><circle cx="1572.0" cy="267.2" r="5.6"/><circle cx="1572.6" cy="275.6" r="5.6"/><circle cx="1573.2" cy="272.2" r="5.6"/><circle cx="1573.8" cy="270.6" r="5.6"/><circle cx="1574.4" cy="269.2" r="5.6"/><circle cx="1575.0" cy="269.0" r="5.6"/><circle cx="1575.5" cy="268.0" r="5.6"/><circle cx="1576.1" cy="269.6" r="5.6"/><circle cx="1576.7" cy="271.2" r="5.6"/><circle cx="1577.3" cy="270.7" r="5.6"/><circle cx="1577.9" cy="267.0" r="5.6"/><circle cx="1578.5" cy="270.4" r="5.6"/><circle cx="1579.0" cy="268.5" r="5.6"/><circle cx="1579.6" cy="271.6" r="5.6"/><circle cx="1580.2" cy="276.5" r="5.6"/><circle cx="1580.8" cy="272.9" r="5.6"/><circle cx="1581.4" cy="270.2" r="5.6"/><circle cx="1582.0" cy="266.4" r="5.6"/><circle cx="1582.6" cy="267.0" r="5.6"/><circle cx="1583.1" cy="266.2" r="5.6"/><circle cx="1583.7" cy="273.2" r="5.6"/><circle cx="1584.3" cy="268.9" r="5.6"/><circle cx="1584.9" cy="271.3" r="5.6"/><circle cx="1585.5" cy="269.3" r="5.6"/><circle cx="1586.1" cy="271.4" r="5.6"/><circle cx="1586.6" cy="275.2" r="5.6"/><circle cx="1587.2" cy="269.2" r="5.6"/><circle cx="1587.8" cy="270.2" r="5.6"/><circle cx="1588.4" cy="268.9" r="5.6"/><circle cx="1589.0" cy="273.8" r="5.6"/><circle cx="1589.6" cy="268.3" r="5.6"/><circle cx="1590.1" cy="268.0" r="5.6"/><circle cx="1590.7" cy="267.3" r="5.6"/><circle cx="1591.3" cy="267.3" r="5.6"/><circle cx="1591.9" cy="272.8" r="5.6"/><circle cx="1592.5" cy="278.9" r="5.6"/><circle cx="1593.1" cy="268.6" r="5.6"/><circle cx="1593.7" cy="274.3" r="5.6"/><circle cx="1594.2" cy="272.3" r="5.6"/><circle cx="1594.8" cy="268.4" r="5.6"/><circle cx="1595.4" cy="270.9" r="5.6"/><circle cx="1596.0" cy="271.1" r="5.6"/><circle cx="1596.6" cy="269.8" r="5.6"/><circle cx="1597.2" cy="277.5" r="5.6"/><circle cx="1597.7" cy="266.4" r="5.6"/><circle cx="1598.3" cy="273.1" r="5.6"/><circle cx="1598.9" cy="273.0" r="5.6"/><circle cx="1599.5" cy="270.4" r="5.6"/><circle cx="1600.1" cy="272.6" r="5.6"/><circle cx="1600.7" cy="274.8" r="5.6"/><circle cx="1601.2" cy="272.8" r="5.6"/><circle cx="1601.8" cy="273.7" r="5.6"/><circle cx="1602.4" cy="274.5" r="5.6"/><circle cx="1603.0" cy="266.6" r="5.6"/></g>
<g fill="none" stroke="#7010e6" stroke-width="0.9"><circle cx="960.9" cy="254.5" r="5.6"/><circle cx="961.5" cy="257.0" r="5.6"/><circle cx="962.1" cy="253.4" r="5.6"/><circle cx="962.7" cy="253.6" r="5.6"/><circle cx="963.2" cy="246.7" r="5.6"/><circle cx="963.8" cy="250.5" r="5.6"/><circle cx="964.4" cy="248.5" r="5.6"/><circle cx="965.0" cy="249.2" r="5.6"/><circle cx="965.6" cy="253.7" r="5.6"/><circle cx="966.2" cy="248.5" r="5.6"/><circle cx="966.7" cy="250.3" r="5.6"/><circle cx="967.3" cy="245.1" r="5.6"/><circle cx="967.9" cy="250.0" r="5.6"/><circle cx="968.5" cy="250.6" r="5.6"/><circle cx="969.1" cy="248.1" r="5.6"/><circle cx="969.7" cy="247.9" r="5.6"/><circle cx="970.2" cy="255.3" r="5.6"/><circle cx="970.8" cy="246.1" r="5.6"/><circle cx="971.4" cy="246.3" r="5.6"/><circle cx="972.0" cy="246.8" r="5.6"/><circle cx="972.6" cy="252.3" r="5.6"/><circle cx="973.2" cy="254.7" r="5.6"/><circle cx="973.8" cy="249.3" r="5.6"/><circle cx="974.3" cy="246.0" r="5.6"/><circle cx="974.9" cy="246.6" r="5.6"/><circle cx="975.5" cy="250.7" r="5.6"/><circle cx="976.1" cy="244.7" r="5.6"/><circle cx="976.7" cy="251.4" r="5.6"/><circle cx="977.3" cy="251.0" r="5.6"/><circle cx="977.8" cy="246.9" r="5.6"/><circle cx="978.4" cy="248.4" r="5.6"/><circle cx="979.0" cy="248.5" r="5.6"/><circle cx="979.6" cy="250.7" r="5.6"/><circle cx="980.2" cy="242.9" r="5.6"/><circle cx="980.8" cy="249.2" r="5.6"/><circle cx="981.3" cy="244.6" r="5.6"/><circle cx="981.9" cy="243.3" r="5.6"/><circle cx="982.5" cy="245.7" r="5.6"/><circle cx="983.1" cy="244.6" r="5.6"/><circle cx="983.7" cy="242.3" r="5.6"/><circle cx="984.3" cy="240.4" r="5.6"/><circle cx="984.9" cy="242.1" r="5.6"/><circle cx="985.4" cy="249.0" r="5.6"/><circle cx="986.0" cy="250.3" r="5.6"/><circle cx="986.6" cy="246.4" r="5.6"/><circle cx="987.2" cy="247.9" r="5.6"/><circle cx="987.8" cy="242.8" r="5.6"/><circle cx="988.4" cy="244.0" r="5.6"/><circle cx="988.9" cy="244.9" r="5.6"/><circle cx="989.5" cy="240.9" r="5.6"/><circle cx="990.1" cy="241.0" r="5.6"/><circle cx="990.7" cy="244.1" r="5.6"/><circle cx="991.3" cy="242.7" r="5.6"/><circle cx="991.9" cy="240.5" r="5.6"/><circle cx="992.4" cy="244.6" r="5.6"/><circle cx="993.0" cy="242.6" r="5.6"/><circle cx="993.6" cy="246.2" r="5.6"/><circle cx="994.2" cy="243.1" r="5.6"/><circle cx="994.8" cy="242.1" r="5.6"/><circle cx="995.4" cy="243.2" r="5.6"/><circle cx="996.0" cy="242.2" r="5.6"/><circle cx="996.5" cy="240.6" r="5.6"/><circle cx="997.1" cy="241.2" r="5.6"/><circle cx="997.7" cy="244.4" r="5.6"/><circle cx="998.3" cy="244.0" r="5.6"/><circle cx="998.9" cy="245.7" r="5.6"/><circle cx="999.5" cy="236.9" r="5.6"/><circle cx="1000.0" cy="240.5" r="5.6"/><circle cx="1000.6" cy="240.3" r="5.6"/><circle cx="1001.2" cy="241.8" r="5.6"/><circle cx="1001.8" cy="239.8" r="5.6"/><circle cx="1002.4" cy="239.5" r="5.6"/><circle cx="1003.0" cy="243.1" r="5.6"/><circle cx="1003.6" cy="241.1" r="5.6"/><circle cx="1004.1" cy="237.0" r="5.6"/><circle cx="1004.7" cy="244.1" r="5.6"/><circle cx="1005.3" cy="242.9" r="5.6"/><circle cx="1005.9" cy="238.2" r="5.6"/><circle cx="1006.5" cy="242.1" r="5.6"/><circle cx="1007.1" cy="237.3" r="5.6"/><circle cx="1007.6" cy="242.5" r="5.6"/><circle cx="1008.2" cy="238.4" r="5.6"/><circle cx="1008.8" cy="236.5" r="5.6"/><circle cx="1009.4" cy="237.5" r="5.6"/><circle cx="1010.0" cy="236.2" r="5.6"/><circle cx="1010.6" cy="238.7" r="5.6"/><circle cx="1011.1" cy="238.4" r="5.6"/><circle cx="1011.7" cy="237.8" r="5.6"/><circle cx="1012.3" cy="235.8" r="5.6"/><circle cx="1012.9" cy="226.6" r="5.6"/><circle cx="1013.5" cy="237.3" r="5.6"/><circle cx="1014.1" cy="231.2" r="5.6"/><circle cx="1014.7" cy="237.2" r="5.6"/><circle cx="1015.2" cy="239.5" r="5.6"/><circle cx="1015.8" cy="236.8" r="5.6"/><circle cx="1016.4" cy="234.6" r="5.6"/><circle cx="1017.0" cy="235.0" r="5.6"/><circle cx="1017.6" cy="234.8" r="5.6"/><circle cx="1018.2" cy="233.4" r="5.6"/><circle cx="1018.7" cy="233.0" r="5.6"/><circle cx="1019.3" cy="231.8" r="5.6"/><circle cx="1019.9" cy="237.6" r="5.6"/><circle cx="1020.5" cy="233.8" r="5.6"/><circle cx="1021.1" cy="236.4" r="5.6"/><circle cx="1021.7" cy="232.6" r="5.6"/><circle cx="1022.2" cy="233.3" r="5.6"/><circle cx="1022.8" cy="232.3" r="5.6"/><circle cx="1023.4" cy="233.8" r="5.6"/><circle cx="1024.0" cy="234.6" r="5.6"/><circle cx="1024.6" cy="232.6" r="5.6"/><circle cx="1025.2" cy="229.7" r="5.6"/><circle cx="1025.8" cy="229.1" r="5.6"/><circle cx="1026.3" cy="235.8" r="5.6"/><circle cx="1026.9" cy="229.9" r="5.6"/><circle cx="1027.5" cy="229.6" r="5.6"/><circle cx="1028.1" cy="234.4" r="5.6"/><circle cx="1028.7" cy="233.0" r="5.6"/><circle cx="1029.3" cy="231.1" r="5.6"/><circle cx="1029.8" cy="228.1" r="5.6"/><circle cx="1030.4" cy="235.7" r="5.6"/><circle cx="1031.0" cy="229.7" r="5.6"/><circle cx="1031.6" cy="229.9" r="5.6"/><circle cx="1032.2" cy="227.5" r="5.6"/><circle cx="1032.8" cy="223.6" r="5.6"/><circle cx="1033.3" cy="223.5" r="5.6"/><circle cx="1033.9" cy="228.2" r="5.6"/><circle cx="1034.5" cy="227.8" r="5.6"/><circle cx="1035.1" cy="225.7" r="5.6"/><circle cx="1035.7" cy="222.6" r="5.6"/><circle cx="1036.3" cy="221.5" r="5.6"/><circle cx="1036.9" cy="224.4" r="5.6"/><circle cx="1037.4" cy="220.8" r="5.6"/><circle cx="1038.0" cy="227.3" r="5.6"/><circle cx="1038.6" cy="227.7" r="5.6"/><circle cx="1039.2" cy="232.3" r="5.6"/><circle cx="1039.8" cy="226.3" r="5.6"/><circle cx="1040.4" cy="221.7" r="5.6"/><circle cx="1040.9" cy="220.5" r="5.6"/><circle cx="1041.5" cy="212.7" r="5.6"/><circle cx="1042.1" cy="220.6" r="5.6"/><circle cx="1042.7" cy="221.5" r="5.6"/><circle cx="1043.3" cy="224.5" r="5.6"/><circle cx="1043.9" cy="223.1" r="5.6"/><circle cx="1044.4" cy="222.7" r="5.6"/><circle cx="1045.0" cy="221.2" r="5.6"/><circle cx="1045.6" cy="222.2" r="5.6"/><circle cx="1046.2" cy="224.1" r="5.6"/><circle cx="1046.8" cy="216.4" r="5.6"/><circle cx="1047.4" cy="217.9" r="5.6"/><circle cx="1048.0" cy="214.8" r="5.6"/><circle cx="1048.5" cy="223.1" r="5.6"/><circle cx="1049.1" cy="221.8" r="5.6"/><circle cx="1049.7" cy="219.9" r="5.6"/><circle cx="1050.3" cy="213.9" r="5.6"/><circle cx="1050.9" cy="217.5" r="5.6"/><circle cx="1051.5" cy="215.9" r="5.6"/><circle cx="1052.0" cy="216.5" r="5.6"/><circle cx="1052.6" cy="215.3" r="5.6"/><circle cx="1053.2" cy="217.0" r="5.6"/><circle cx="1053.8" cy="213.9" r="5.6"/><circle cx="1054.4" cy="217.2" r="5.6"/><circle cx="1055.0" cy="215.0" r="5.6"/><circle cx="1055.5" cy="213.1" r="5.6"/><circle cx="1056.1" cy="213.2" r="5.6"/><circle cx="1056.7" cy="211.9" r="5.6"/><circle cx="1057.3" cy="215.1" r="5.6"/><circle cx="1057.9" cy="211.6" r="5.6"/><circle cx="1058.5" cy="212.8" r="5.6"/><circle cx="1059.1" cy="210.4" r="5.6"/><circle cx="1059.6" cy="206.9" r="5.6"/><circle cx="1060.2" cy="213.4" r="5.6"/><circle cx="1060.8" cy="207.3" r="5.6"/><circle cx="1061.4" cy="211.9" r="5.6"/><circle cx="1062.0" cy="210.7" r="5.6"/><circle cx="1062.6" cy="204.3" r="5.6"/><circle cx="1063.1" cy="206.0" r="5.6"/><circle cx="1063.7" cy="206.8" r="5.6"/><circle cx="1064.3" cy="205.5" r="5.6"/><circle cx="1064.9" cy="204.0" r="5.6"/><circle cx="1065.5" cy="209.1" r="5.6"/><circle cx="1066.1" cy="205.9" r="5.6"/><circle cx="1066.7" cy="207.3" r="5.6"/><circle cx="1067.2" cy="204.5" r="5.6"/><circle cx="1067.8" cy="206.2" r="5.6"/><circle cx="1068.4" cy="202.6" r="5.6"/><circle cx="1069.0" cy="204.3" r="5.6"/><circle cx="1069.6" cy="205.6" r="5.6"/><circle cx="1070.2" cy="203.6" r="5.6"/><circle cx="1070.7" cy="201.7" r="5.6"/><circle cx="1071.3" cy="199.4" r="5.6"/><circle cx="1071.9" cy="202.6" r="5.6"/><circle cx="1072.5" cy="202.7" r="5.6"/><circle cx="1073.1" cy="200.5" r="5.6"/><circle cx="1073.7" cy="198.5" r="5.6"/><circle cx="1074.2" cy="201.8" r="5.6"/><circle cx="1074.8" cy="207.0" r="5.6"/><circle cx="1075.4" cy="198.5" r="5.6"/><circle cx="1076.0" cy="199.8" r="5.6"/><circle cx="1076.6" cy="199.5" r="5.6"/><circle cx="1077.2" cy="190.5" r="5.6"/><circle cx="1077.8" cy="197.8" r="5.6"/><circle cx="1078.3" cy="194.9" r="5.6"/><circle cx="1078.9" cy="200.4" r="5.6"/><circle cx="1079.5" cy="195.2" r="5.6"/><circle cx="1080.1" cy="193.2" r="5.6"/><circle cx="1080.7" cy="194.3" r="5.6"/><circle cx="1081.3" cy="194.9" r="5.6"/><circle cx="1081.8" cy="192.3" r="5.6"/><circle cx="1082.4" cy="193.3" r="5.6"/><circle cx="1083.0" cy="189.0" r="5.6"/><circle cx="1083.6" cy="191.7" r="5.6"/><circle cx="1084.2" cy="194.1" r="5.6"/><circle cx="1084.8" cy="197.1" r="5.6"/><circle cx="1085.3" cy="192.9" r="5.6"/><circle cx="1085.9" cy="191.1" r="5.6"/><circle cx="1086.5" cy="193.2" r="5.6"/><circle cx="1087.1" cy="192.2" r="5.6"/><circle cx="1087.7" cy="193.5" r="5.6"/><circle cx="1088.3" cy="191.3" r="5.6"/><circle cx="1088.9" cy="187.3" r="5.6"/><circle cx="1089.4" cy="187.8" r="5.6"/><circle cx="1090.0" cy="187.1" r="5.6"/><circle cx="1090.6" cy="186.9" r="5.6"/><circle cx="1091.2" cy="186.0" r="5.6"/><circle cx="1091.8" cy="182.6" r="5.6"/><circle cx="1092.4" cy="178.2" r="5.6"/><circle cx="1092.9" cy="181.8" r="5.6"/><circle cx="1093.5" cy="177.3" r="5.6"/><circle cx="1094.1" cy="182.8" r="5.6"/><circle cx="1094.7" cy="182.1" r="5.6"/><circle cx="1095.3" cy="176.6" r="5.6"/><circle cx="1095.9" cy="182.9" r="5.6"/><circle cx="1096.4" cy="182.8" r="5.6"/><circle cx="1097.0" cy="180.0" r="5.6"/><circle cx="1097.6" cy="184.0" r="5.6"/><circle cx="1098.2" cy="184.0" r="5.6"/><circle cx="1098.8" cy="174.5" r="5.6"/><circle cx="1099.4" cy="180.4" r="5.6"/><circle cx="1100.0" cy="178.0" r="5.6"/><circle cx="1100.5" cy="177.4" r="5.6"/><circle cx="1101.1" cy="178.3" r="5.6"/><circle cx="1101.7" cy="172.9" r="5.6"/><circle cx="1102.3" cy="172.6" r="5.6"/><circle cx="1102.9" cy="171.4" r="5.6"/><circle cx="1103.5" cy="171.0" r="5.6"/><circle cx="1104.0" cy="172.2" r="5.6"/><circle cx="1104.6" cy="167.7" r="5.6"/><circle cx="1105.2" cy="168.3" r="5.6"/><circle cx="1105.8" cy="172.4" r="5.6"/><circle cx="1106.4" cy="169.9" r="5.6"/><circle cx="1107.0" cy="170.6" r="5.6"/><circle cx="1107.5" cy="163.4" r="5.6"/><circle cx="1108.1" cy="166.0" r="5.6"/><circle cx="1108.7" cy="166.0" r="5.6"/><circle cx="1109.3" cy="167.1" r="5.6"/><circle cx="1109.9" cy="164.7" r="5.6"/><circle cx="1110.5" cy="168.5" r="5.6"/><circle cx="1111.1" cy="165.0" r="5.6"/><circle cx="1111.6" cy="164.6" r="5.6"/><circle cx="1112.2" cy="163.9" r="5.6"/><circle cx="1112.8" cy="165.3" r="5.6"/><circle cx="1113.4" cy="161.3" r="5.6"/><circle cx="1114.0" cy="165.3" r="5.6"/><circle cx="1114.6" cy="162.7" r="5.6"/><circle cx="1115.1" cy="161.2" r="5.6"/><circle cx="1115.7" cy="160.3" r="5.6"/><circle cx="1116.3" cy="161.1" r="5.6"/><circle cx="1116.9" cy="161.9" r="5.6"/><circle cx="1117.5" cy="161.1" r="5.6"/><circle cx="1118.1" cy="158.8" r="5.6"/><circle cx="1118.6" cy="159.6" r="5.6"/><circle cx="1119.2" cy="156.8" r="5.6"/><circle cx="1119.8" cy="159.5" r="5.6"/><circle cx="1120.4" cy="155.2" r="5.6"/><circle cx="1121.0" cy="148.6" r="5.6"/><circle cx="1121.6" cy="157.9" r="5.6"/><circle cx="1122.2" cy="153.7" r="5.6"/><circle cx="1122.7" cy="149.4" r="5.6"/><circle cx="1123.3" cy="151.6" r="5.6"/><circle cx="1123.9" cy="149.1" r="5.6"/><circle cx="1124.5" cy="157.1" r="5.6"/><circle cx="1125.1" cy="151.9" r="5.6"/><circle cx="1125.7" cy="145.3" r="5.6"/><circle cx="1126.2" cy="150.8" r="5.6"/><circle cx="1126.8" cy="147.5" r="5.6"/><circle cx="1127.4" cy="153.6" r="5.6"/><circle cx="1128.0" cy="144.4" r="5.6"/><circle cx="1128.6" cy="140.4" r="5.6"/><circle cx="1129.2" cy="146.5" r="5.6"/><circle cx="1129.8" cy="144.7" r="5.6"/><circle cx="1130.3" cy="143.9" r="5.6"/><circle cx="1130.9" cy="138.3" r="5.6"/><circle cx="1131.5" cy="145.2" r="5.6"/><circle cx="1132.1" cy="148.3" r="5.6"/><circle cx="1132.7" cy="137.3" r="5.6"/><circle cx="1133.3" cy="145.7" r="5.6"/><circle cx="1133.8" cy="140.1" r="5.6"/><circle cx="1134.4" cy="148.0" r="5.6"/><circle cx="1135.0" cy="141.9" r="5.6"/><circle cx="1135.6" cy="139.5" r="5.6"/><circle cx="1136.2" cy="142.8" r="5.6"/><circle cx="1136.8" cy="140.5" r="5.6"/><circle cx="1137.3" cy="136.8" r="5.6"/><circle cx="1137.9" cy="140.0" r="5.6"/><circle cx="1138.5" cy="135.9" r="5.6"/><circle cx="1139.1" cy="131.7" r="5.6"/><circle cx="1139.7" cy="142.3" r="5.6"/><circle cx="1140.3" cy="134.9" r="5.6"/><circle cx="1140.9" cy="133.6" r="5.6"/><circle cx="1141.4" cy="135.9" r="5.6"/><circle cx="1142.0" cy="129.9" r="5.6"/><circle cx="1142.6" cy="130.0" r="5.6"/><circle cx="1143.2" cy="132.0" r="5.6"/><circle cx="1143.8" cy="131.4" r="5.6"/><circle cx="1144.4" cy="132.7" r="5.6"/><circle cx="1144.9" cy="135.3" r="5.6"/><circle cx="1145.5" cy="130.2" r="5.6"/><circle cx="1146.1" cy="132.5" r="5.6"/><circle cx="1146.7" cy="132.4" r="5.6"/><circle cx="1147.3" cy="127.1" r="5.6"/><circle cx="1147.9" cy="130.5" r="5.6"/><circle cx="1148.4" cy="126.6" r="5.6"/><circle cx="1149.0" cy="132.0" r="5.6"/><circle cx="1149.6" cy="129.9" r="5.6"/><circle cx="1150.2" cy="128.2" r="5.6"/><circle cx="1150.8" cy="123.9" r="5.6"/><circle cx="1151.4" cy="127.7" r="5.6"/><circle cx="1152.0" cy="124.8" r="5.6"/><circle cx="1152.5" cy="128.7" r="5.6"/><circle cx="1153.1" cy="126.0" r="5.6"/><circle cx="1153.7" cy="123.6" r="5.6"/><circle cx="1154.3" cy="128.3" r="5.6"/><circle cx="1154.9" cy="127.4" r="5.6"/><circle cx="1155.5" cy="123.3" r="5.6"/><circle cx="1156.0" cy="128.1" r="5.6"/><circle cx="1156.6" cy="123.5" r="5.6"/><circle cx="1157.2" cy="123.2" r="5.6"/><circle cx="1157.8" cy="124.2" r="5.6"/><circle cx="1158.4" cy="121.4" r="5.6"/><circle cx="1159.0" cy="122.1" r="5.6"/><circle cx="1159.5" cy="122.7" r="5.6"/><circle cx="1160.1" cy="127.3" r="5.6"/><circle cx="1160.7" cy="127.0" r="5.6"/><circle cx="1161.3" cy="121.7" r="5.6"/><circle cx="1161.9" cy="127.0" r="5.6"/><circle cx="1162.5" cy="122.0" r="5.6"/><circle cx="1163.1" cy="123.1" r="5.6"/><circle cx="1163.6" cy="124.4" r="5.6"/><circle cx="1164.2" cy="122.5" r="5.6"/><circle cx="1164.8" cy="128.6" r="5.6"/><circle cx="1165.4" cy="122.2" r="5.6"/><circle cx="1166.0" cy="117.9" r="5.6"/><circle cx="1166.6" cy="125.1" r="5.6"/><circle cx="1167.1" cy="120.0" r="5.6"/><circle cx="1167.7" cy="120.3" r="5.6"/><circle cx="1168.3" cy="112.4" r="5.6"/><circle cx="1168.9" cy="124.0" r="5.6"/><circle cx="1169.5" cy="123.5" r="5.6"/><circle cx="1170.1" cy="123.4" r="5.6"/><circle cx="1170.6" cy="123.9" r="5.6"/><circle cx="1171.2" cy="126.0" r="5.6"/><circle cx="1171.8" cy="121.1" r="5.6"/><circle cx="1172.4" cy="124.0" r="5.6"/><circle cx="1173.0" cy="119.2" r="5.6"/><circle cx="1173.6" cy="120.4" r="5.6"/><circle cx="1174.2" cy="124.6" r="5.6"/><circle cx="1174.7" cy="122.8" r="5.6"/><circle cx="1175.3" cy="117.9" r="5.6"/><circle cx="1175.9" cy="123.0" r="5.6"/><circle cx="1176.5" cy="121.6" r="5.6"/><circle cx="1177.1" cy="119.9" r="5.6"/><circle cx="1177.7" cy="123.8" r="5.6"/><circle cx="1178.2" cy="121.6" r="5.6"/><circle cx="1178.8" cy="118.4" r="5.6"/><circle cx="1179.4" cy="120.0" r="5.6"/><circle cx="1180.0" cy="128.6" r="5.6"/><circle cx="1180.6" cy="119.4" r="5.6"/><circle cx="1181.2" cy="124.7" r="5.6"/><circle cx="1181.7" cy="126.1" r="5.6"/><circle cx="1182.3" cy="126.6" r="5.6"/><circle cx="1182.9" cy="121.5" r="5.6"/><circle cx="1183.5" cy="124.5" r="5.6"/><circle cx="1184.1" cy="126.2" r="5.6"/><circle cx="1184.7" cy="128.5" r="5.6"/><circle cx="1185.3" cy="124.7" r="5.6"/><circle cx="1185.8" cy="123.6" r="5.6"/><circle cx="1186.4" cy="130.3" r="5.6"/><circle cx="1187.0" cy="131.1" r="5.6"/><circle cx="1187.6" cy="129.4" r="5.6"/><circle cx="1188.2" cy="127.1" r="5.6"/><circle cx="1188.8" cy="130.5" r="5.6"/><circle cx="1189.3" cy="130.2" r="5.6"/><circle cx="1189.9" cy="132.8" r="5.6"/><circle cx="1190.5" cy="127.3" r="5.6"/><circle cx="1191.1" cy="131.9" r="5.6"/><circle cx="1191.7" cy="131.6" r="5.6"/><circle cx="1192.3" cy="129.5" r="5.6"/><circle cx="1192.9" cy="133.9" r="5.6"/><circle cx="1193.4" cy="134.1" r="5.6"/><circle cx="1194.0" cy="133.4" r="5.6"/><circle cx="1194.6" cy="136.4" r="5.6"/><circle cx="1195.2" cy="131.8" r="5.6"/><circle cx="1195.8" cy="136.5" r="5.6"/><circle cx="1196.4" cy="138.6" r="5.6"/><circle cx="1196.9" cy="138.9" r="5.6"/><circle cx="1197.5" cy="141.9" r="5.6"/><circle cx="1198.1" cy="136.1" r="5.6"/><circle cx="1198.7" cy="136.0" r="5.6"/><circle cx="1199.3" cy="141.8" r="5.6"/><circle cx="1199.9" cy="143.3" r="5.6"/><circle cx="1200.4" cy="148.9" r="5.6"/><circle cx="1201.0" cy="145.4" r="5.6"/><circle cx="1201.6" cy="141.9" r="5.6"/><circle cx="1202.2" cy="147.7" r="5.6"/><circle cx="1202.8" cy="143.8" r="5.6"/><circle cx="1203.4" cy="142.8" r="5.6"/><circle cx="1204.0" cy="155.6" r="5.6"/><circle cx="1204.5" cy="149.9" r="5.6"/><circle cx="1205.1" cy="152.0" r="5.6"/><circle cx="1205.7" cy="152.5" r="5.6"/><circle cx="1206.3" cy="157.0" r="5.6"/><circle cx="1206.9" cy="153.6" r="5.6"/><circle cx="1207.5" cy="157.3" r="5.6"/><circle cx="1208.0" cy="151.8" r="5.6"/><circle cx="1208.6" cy="151.7" r="5.6"/><circle cx="1209.2" cy="160.9" r="5.6"/><circle cx="1209.8" cy="162.0" r="5.6"/><circle cx="1210.4" cy="160.3" r="5.6"/><circle cx="1211.0" cy="160.5" r="5.6"/><circle cx="1211.5" cy="161.4" r="5.6"/><circle cx="1212.1" cy="159.9" r="5.6"/><circle cx="1212.7" cy="167.5" r="5.6"/><circle cx="1213.3" cy="166.0" r="5.6"/><circle cx="1213.9" cy="166.6" r="5.6"/><circle cx="1214.5" cy="167.3" r="5.6"/><circle cx="1215.1" cy="170.4" r="5.6"/><circle cx="1215.6" cy="169.9" r="5.6"/><circle cx="1216.2" cy="171.7" r="5.6"/><circle cx="1216.8" cy="167.3" r="5.6"/><circle cx="1217.4" cy="173.3" r="5.6"/><circle cx="1218.0" cy="179.2" r="5.6"/><circle cx="1218.6" cy="172.5" r="5.6"/><circle cx="1219.1" cy="174.8" r="5.6"/><circle cx="1219.7" cy="178.9" r="5.6"/><circle cx="1220.3" cy="180.2" r="5.6"/><circle cx="1220.9" cy="180.4" r="5.6"/><circle cx="1221.5" cy="175.0" r="5.6"/><circle cx="1222.1" cy="182.3" r="5.6"/><circle cx="1222.6" cy="178.6" r="5.6"/><circle cx="1223.2" cy="180.8" r="5.6"/><circle cx="1223.8" cy="185.9" r="5.6"/><circle cx="1224.4" cy="184.6" r="5.6"/><circle cx="1225.0" cy="189.0" r="5.6"/><circle cx="1225.6" cy="197.0" r="5.6"/><circle cx="1226.2" cy="191.2" r="5.6"/><circle cx="1226.7" cy="192.3" r="5.6"/><circle cx="1227.3" cy="188.7" r="5.6"/><circle cx="1227.9" cy="190.6" r="5.6"/><circle cx="1228.5" cy="190.6" r="5.6"/><circle cx="1229.1" cy="193.3" r="5.6"/><circle cx="1229.7" cy="192.8" r="5.6"/><circle cx="1230.2" cy="195.2" r="5.6"/><circle cx="1230.8" cy="197.7" r="5.6"/><circle cx="1231.4" cy="196.6" r="5.6"/><circle cx="1232.0" cy="196.5" r="5.6"/><circle cx="1232.6" cy="197.8" r="5.6"/><circle cx="1233.2" cy="204.2" r="5.6"/><circle cx="1233.7" cy="204.2" r="5.6"/><circle cx="1234.3" cy="208.2" r="5.6"/><circle cx="1234.9" cy="209.4" r="5.6"/><circle cx="1235.5" cy="206.5" r="5.6"/><circle cx="1236.1" cy="210.6" r="5.6"/><circle cx="1236.7" cy="205.6" r="5.6"/><circle cx="1237.3" cy="217.5" r="5.6"/><circle cx="1237.8" cy="215.4" r="5.6"/><circle cx="1238.4" cy="212.5" r="5.6"/><circle cx="1239.0" cy="210.8" r="5.6"/><circle cx="1239.6" cy="216.4" r="5.6"/><circle cx="1240.2" cy="211.0" r="5.6"/><circle cx="1240.8" cy="215.2" r="5.6"/><circle cx="1241.3" cy="220.7" r="5.6"/><circle cx="1241.9" cy="219.8" r="5.6"/><circle cx="1242.5" cy="219.2" r="5.6"/><circle cx="1243.1" cy="224.5" r="5.6"/><circle cx="1243.7" cy="219.7" r="5.6"/><circle cx="1244.3" cy="224.6" r="5.6"/><circle cx="1244.8" cy="223.4" r="5.6"/><circle cx="1245.4" cy="223.4" r="5.6"/><circle cx="1246.0" cy="228.2" r="5.6"/><circle cx="1246.6" cy="225.0" r="5.6"/><circle cx="1247.2" cy="234.3" r="5.6"/><circle cx="1247.8" cy="228.1" r="5.6"/><circle cx="1248.4" cy="236.5" r="5.6"/><circle cx="1248.9" cy="228.5" r="5.6"/><circle cx="1249.5" cy="234.4" r="5.6"/><circle cx="1250.1" cy="230.1" r="5.6"/><circle cx="1250.7" cy="230.6" r="5.6"/><circle cx="1251.3" cy="235.8" r="5.6"/><circle cx="1251.9" cy="238.2" r="5.6"/><circle cx="1252.4" cy="233.5" r="5.6"/><circle cx="1253.0" cy="241.4" r="5.6"/><circle cx="1253.6" cy="236.6" r="5.6"/><circle cx="1254.2" cy="240.1" r="5.6"/><circle cx="1254.8" cy="241.6" r="5.6"/><circle cx="1255.4" cy="243.1" r="5.6"/><circle cx="1256.0" cy="236.9" r="5.6"/><circle cx="1256.5" cy="247.6" r="5.6"/><circle cx="1257.1" cy="245.4" r="5.6"/><circle cx="1257.7" cy="243.3" r="5.6"/><circle cx="1258.3" cy="242.3" r="5.6"/><circle cx="1258.9" cy="241.1" r="5.6"/><circle cx="1259.5" cy="242.8" r="5.6"/><circle cx="1260.0" cy="249.0" r="5.6"/><circle cx="1260.6" cy="247.2" r="5.6"/><circle cx="1261.2" cy="245.6" r="5.6"/><circle cx="1261.8" cy="248.0" r="5.6"/><circle cx="1262.4" cy="254.8" r="5.6"/><circle cx="1263.0" cy="250.0" r="5.6"/><circle cx="1263.5" cy="249.9" r="5.6"/><circle cx="1264.1" cy="256.2" r="5.6"/><circle cx="1264.7" cy="254.2" r="5.6"/><circle cx="1265.3" cy="253.6" r="5.6"/><circle cx="1265.9" cy="252.4" r="5.6"/><circle cx="1266.5" cy="250.2" r="5.6"/><circle cx="1267.1" cy="251.9" r="5.6"/><circle cx="1267.6" cy="254.5" r="5.6"/><circle cx="1268.2" cy="255.9" r="5.6"/><circle cx="1268.8" cy="258.1" r="5.6"/><circle cx="1269.4" cy="259.3" r="5.6"/><circle cx="1270.0" cy="258.9" r="5.6"/><circle cx="1270.6" cy="259.4" r="5.6"/><circle cx="1271.1" cy="256.4" r="5.6"/><circle cx="1271.7" cy="253.6" r="5.6"/><circle cx="1272.3" cy="258.8" r="5.6"/><circle cx="1272.9" cy="258.1" r="5.6"/><circle cx="1273.5" cy="259.4" r="5.6"/><circle cx="1274.1" cy="261.0" r="5.6"/><circle cx="1274.6" cy="258.7" r="5.6"/><circle cx="1275.2" cy="259.6" r="5.6"/><circle cx="1275.8" cy="263.0" r="5.6"/><circle cx="1276.4" cy="264.1" r="5.6"/><circle cx="1277.0" cy="262.3" r="5.6"/><circle cx="1277.6" cy="266.1" r="5.6"/><circle cx="1278.2" cy="264.4" r="5.6"/><circle cx="1278.7" cy="262.5" r="5.6"/><circle cx="1279.3" cy="266.0" r="5.6"/><circle cx="1279.9" cy="271.8" r="5.6"/><circle cx="1280.5" cy="264.8" r="5.6"/><circle cx="1281.1" cy="270.5" r="5.6"/><circle cx="1281.7" cy="271.5" r="5.6"/><circle cx="1282.2" cy="272.2" r="5.6"/><circle cx="1282.8" cy="265.9" r="5.6"/><circle cx="1283.4" cy="274.5" r="5.6"/><circle cx="1284.0" cy="269.3" r="5.6"/><circle cx="1284.6" cy="268.6" r="5.6"/><circle cx="1285.2" cy="269.0" r="5.6"/><circle cx="1285.7" cy="271.8" r="5.6"/><circle cx="1286.3" cy="270.5" r="5.6"/><circle cx="1286.9" cy="270.2" r="5.6"/><circle cx="1287.5" cy="274.8" r="5.6"/><circle cx="1288.1" cy="269.3" r="5.6"/><circle cx="1288.7" cy="268.7" r="5.6"/><circle cx="1289.3" cy="274.3" r="5.6"/><circle cx="1289.8" cy="274.3" r="5.6"/><circle cx="1290.4" cy="275.8" r="5.6"/><circle cx="1291.0" cy="269.8" r="5.6"/><circle cx="1291.6" cy="276.3" r="5.6"/><circle cx="1292.2" cy="274.8" r="5.6"/><circle cx="1292.8" cy="278.8" r="5.6"/><circle cx="1293.3" cy="270.4" r="5.6"/><circle cx="1293.9" cy="274.9" r="5.6"/><circle cx="1294.5" cy="273.7" r="5.6"/><circle cx="1295.1" cy="270.2" r="5.6"/><circle cx="1295.7" cy="272.9" r="5.6"/><circle cx="1296.3" cy="278.5" r="5.6"/><circle cx="1296.8" cy="274.1" r="5.6"/><circle cx="1297.4" cy="273.6" r="5.6"/><circle cx="1298.0" cy="278.5" r="5.6"/><circle cx="1298.6" cy="279.1" r="5.6"/><circle cx="1299.2" cy="279.3" r="5.6"/><circle cx="1299.8" cy="274.3" r="5.6"/><circle cx="1300.4" cy="276.7" r="5.6"/><circle cx="1300.9" cy="280.1" r="5.6"/><circle cx="1301.5" cy="275.4" r="5.6"/><circle cx="1302.1" cy="275.3" r="5.6"/><circle cx="1302.7" cy="280.1" r="5.6"/><circle cx="1303.3" cy="282.4" r="5.6"/><circle cx="1303.9" cy="274.7" r="5.6"/><circle cx="1304.4" cy="270.7" r="5.6"/><circle cx="1305.0" cy="274.3" r="5.6"/><circle cx="1305.6" cy="275.7" r="5.6"/><circle cx="1306.2" cy="278.4" r="5.6"/><circle cx="1306.8" cy="280.8" r="5.6"/><circle cx="1307.4" cy="278.8" r="5.6"/><circle cx="1307.9" cy="277.3" r="5.6"/><circle cx="1308.5" cy="280.0" r="5.6"/><circle cx="1309.1" cy="276.9" r="5.6"/><circle cx="1309.7" cy="279.7" r="5.6"/><circle cx="1310.3" cy="278.2" r="5.6"/><circle cx="1310.9" cy="288.0" r="5.6"/><circle cx="1311.5" cy="282.7" r="5.6"/><circle cx="1312.0" cy="278.1" r="5.6"/><circle cx="1312.6" cy="277.8" r="5.6"/><circle cx="1313.2" cy="279.6" r="5.6"/><circle cx="1313.8" cy="276.2" r="5.6"/><circle cx="1314.4" cy="279.0" r="5.6"/><circle cx="1315.0" cy="279.2" r="5.6"/><circle cx="1315.5" cy="284.0" r="5.6"/><circle cx="1316.1" cy="280.4" r="5.6"/><circle cx="1316.7" cy="279.4" r="5.6"/><circle cx="1317.3" cy="278.0" r="5.6"/><circle cx="1317.9" cy="278.6" r="5.6"/><circle cx="1318.5" cy="282.0" r="5.6"/><circle cx="1319.1" cy="281.7" r="5.6"/><circle cx="1319.6" cy="285.7" r="5.6"/><circle cx="1320.2" cy="280.8" r="5.6"/><circle cx="1320.8" cy="285.8" r="5.6"/><circle cx="1321.4" cy="283.6" r="5.6"/><circle cx="1322.0" cy="283.0" r="5.6"/><circle cx="1322.6" cy="277.3" r="5.6"/><circle cx="1323.1" cy="279.5" r="5.6"/><circle cx="1323.7" cy="285.5" r="5.6"/><circle cx="1324.3" cy="287.6" r="5.6"/><circle cx="1324.9" cy="284.2" r="5.6"/><circle cx="1325.5" cy="286.0" r="5.6"/><circle cx="1326.1" cy="282.7" r="5.6"/><circle cx="1326.6" cy="282.9" r="5.6"/><circle cx="1327.2" cy="282.2" r="5.6"/><circle cx="1327.8" cy="287.1" r="5.6"/><circle cx="1328.4" cy="285.3" r="5.6"/><circle cx="1329.0" cy="283.8" r="5.6"/><circle cx="1329.6" cy="283.6" r="5.6"/><circle cx="1330.2" cy="286.3" r="5.6"/><circle cx="1330.7" cy="285.7" r="5.6"/><circle cx="1331.3" cy="282.5" r="5.6"/><circle cx="1331.9" cy="290.0" r="5.6"/><circle cx="1332.5" cy="285.9" r="5.6"/><circle cx="1333.1" cy="285.3" r="5.6"/><circle cx="1333.7" cy="289.6" r="5.6"/><circle cx="1334.2" cy="288.4" r="5.6"/><circle cx="1334.8" cy="285.3" r="5.6"/><circle cx="1335.4" cy="287.2" r="5.6"/><circle cx="1336.0" cy="282.6" r="5.6"/><circle cx="1336.6" cy="284.0" r="5.6"/><circle cx="1337.2" cy="279.4" r="5.6"/><circle cx="1337.7" cy="289.5" r="5.6"/><circle cx="1338.3" cy="280.6" r="5.6"/><circle cx="1338.9" cy="288.2" r="5.6"/><circle cx="1339.5" cy="283.9" r="5.6"/><circle cx="1340.1" cy="283.5" r="5.6"/><circle cx="1340.7" cy="285.9" r="5.6"/><circle cx="1341.3" cy="287.3" r="5.6"/><circle cx="1341.8" cy="288.4" r="5.6"/><circle cx="1342.4" cy="291.8" r="5.6"/><circle cx="1343.0" cy="287.8" r="5.6"/><circle cx="1343.6" cy="289.4" r="5.6"/><circle cx="1344.2" cy="285.2" r="5.6"/><circle cx="1344.8" cy="289.1" r="5.6"/><circle cx="1345.3" cy="287.5" r="5.6"/><circle cx="1345.9" cy="285.8" r="5.6"/><circle cx="1346.5" cy="287.0" r="5.6"/><circle cx="1347.1" cy="287.1" r="5.6"/><circle cx="1347.7" cy="287.9" r="5.6"/><circle cx="1348.3" cy="288.6" r="5.6"/><circle cx="1348.8" cy="286.0" r="5.6"/><circle cx="1349.4" cy="285.4" r="5.6"/><circle cx="1350.0" cy="289.8" r="5.6"/><circle cx="1350.6" cy="282.8" r="5.6"/><circle cx="1351.2" cy="286.0" r="5.6"/><circle cx="1351.8" cy="292.3" r="5.6"/><circle cx="1352.4" cy="280.0" r="5.6"/><circle cx="1352.9" cy="285.9" r="5.6"/><circle cx="1353.5" cy="290.0" r="5.6"/><circle cx="1354.1" cy="283.3" r="5.6"/><circle cx="1354.7" cy="295.6" r="5.6"/><circle cx="1355.3" cy="280.7" r="5.6"/><circle cx="1355.9" cy="292.4" r="5.6"/><circle cx="1356.4" cy="292.8" r="5.6"/><circle cx="1357.0" cy="291.0" r="5.6"/><circle cx="1357.6" cy="287.7" r="5.6"/><circle cx="1358.2" cy="289.4" r="5.6"/><circle cx="1358.8" cy="285.9" r="5.6"/><circle cx="1359.4" cy="290.8" r="5.6"/><circle cx="1359.9" cy="285.3" r="5.6"/><circle cx="1360.5" cy="287.8" r="5.6"/><circle cx="1361.1" cy="291.5" r="5.6"/><circle cx="1361.7" cy="285.4" r="5.6"/><circle cx="1362.3" cy="287.6" r="5.6"/><circle cx="1362.9" cy="289.2" r="5.6"/><circle cx="1363.5" cy="284.9" r="5.6"/><circle cx="1364.0" cy="292.2" r="5.6"/><circle cx="1364.6" cy="289.8" r="5.6"/><circle cx="1365.2" cy="284.5" r="5.6"/><circle cx="1365.8" cy="288.8" r="5.6"/><circle cx="1366.4" cy="286.7" r="5.6"/><circle cx="1367.0" cy="287.1" r="5.6"/><circle cx="1367.5" cy="289.2" r="5.6"/><circle cx="1368.1" cy="287.0" r="5.6"/><circle cx="1368.7" cy="291.9" r="5.6"/><circle cx="1369.3" cy="287.0" r="5.6"/><circle cx="1369.9" cy="292.0" r="5.6"/><circle cx="1370.5" cy="289.0" r="5.6"/><circle cx="1371.0" cy="291.6" r="5.6"/><circle cx="1371.6" cy="287.6" r="5.6"/><circle cx="1372.2" cy="287.7" r="5.6"/><circle cx="1372.8" cy="285.9" r="5.6"/><circle cx="1373.4" cy="290.9" r="5.6"/><circle cx="1374.0" cy="292.0" r="5.6"/><circle cx="1374.6" cy="295.4" r="5.6"/><circle cx="1375.1" cy="293.0" r="5.6"/><circle cx="1375.7" cy="290.0" r="5.6"/><circle cx="1376.3" cy="288.7" r="5.6"/><circle cx="1376.9" cy="290.5" r="5.6"/><circle cx="1377.5" cy="289.3" r="5.6"/><circle cx="1378.1" cy="293.6" r="5.6"/><circle cx="1378.6" cy="292.1" r="5.6"/><circle cx="1379.2" cy="286.9" r="5.6"/><circle cx="1379.8" cy="287.4" r="5.6"/><circle cx="1380.4" cy="293.4" r="5.6"/><circle cx="1381.0" cy="290.3" r="5.6"/><circle cx="1381.6" cy="288.7" r="5.6"/><circle cx="1382.2" cy="292.8" r="5.6"/><circle cx="1382.7" cy="288.3" r="5.6"/><circle cx="1383.3" cy="288.6" r="5.6"/><circle cx="1383.9" cy="288.1" r="5.6"/><circle cx="1384.5" cy="283.7" r="5.6"/><circle cx="1385.1" cy="291.9" r="5.6"/><circle cx="1385.7" cy="285.9" r="5.6"/><circle cx="1386.2" cy="287.8" r="5.6"/><circle cx="1386.8" cy="287.3" r="5.6"/><circle cx="1387.4" cy="291.5" r="5.6"/><circle cx="1388.0" cy="289.2" r="5.6"/><circle cx="1388.6" cy="289.4" r="5.6"/><circle cx="1389.2" cy="284.5" r="5.6"/><circle cx="1389.7" cy="289.1" r="5.6"/><circle cx="1390.3" cy="285.1" r="5.6"/><circle cx="1390.9" cy="290.3" r="5.6"/><circle cx="1391.5" cy="290.4" r="5.6"/><circle cx="1392.1" cy="289.3" r="5.6"/><circle cx="1392.7" cy="295.3" r="5.6"/><circle cx="1393.3" cy="290.9" r="5.6"/><circle cx="1393.8" cy="291.1" r="5.6"/><circle cx="1394.4" cy="289.7" r="5.6"/><circle cx="1395.0" cy="288.7" r="5.6"/><circle cx="1395.6" cy="292.1" r="5.6"/><circle cx="1396.2" cy="292.5" r="5.6"/><circle cx="1396.8" cy="285.5" r="5.6"/><circle cx="1397.3" cy="292.3" r="5.6"/><circle cx="1397.9" cy="290.7" r="5.6"/><circle cx="1398.5" cy="292.0" r="5.6"/><circle cx="1399.1" cy="290.5" r="5.6"/><circle cx="1399.7" cy="285.6" r="5.6"/><circle cx="1400.3" cy="285.7" r="5.6"/><circle cx="1400.8" cy="294.4" r="5.6"/><circle cx="1401.4" cy="289.8" r="5.6"/><circle cx="1402.0" cy="285.0" r="5.6"/><circle cx="1402.6" cy="290.1" r="5.6"/><circle cx="1403.2" cy="288.0" r="5.6"/><circle cx="1403.8" cy="283.7" r="5.6"/><circle cx="1404.4" cy="282.3" r="5.6"/><circle cx="1404.9" cy="284.3" r="5.6"/><circle cx="1405.5" cy="289.7" r="5.6"/><circle cx="1406.1" cy="288.8" r="5.6"/><circle cx="1406.7" cy="288.1" r="5.6"/><circle cx="1407.3" cy="289.7" r="5.6"/><circle cx="1407.9" cy="290.6" r="5.6"/><circle cx="1408.4" cy="282.7" r="5.6"/><circle cx="1409.0" cy="287.9" r="5.6"/><circle cx="1409.6" cy="286.3" r="5.6"/><circle cx="1410.2" cy="285.1" r="5.6"/><circle cx="1410.8" cy="287.1" r="5.6"/><circle cx="1411.4" cy="288.3" r="5.6"/><circle cx="1411.9" cy="287.8" r="5.6"/><circle cx="1412.5" cy="284.3" r="5.6"/><circle cx="1413.1" cy="287.1" r="5.6"/><circle cx="1413.7" cy="294.3" r="5.6"/><circle cx="1414.3" cy="285.4" r="5.6"/><circle cx="1414.9" cy="283.5" r="5.6"/><circle cx="1415.5" cy="289.2" r="5.6"/><circle cx="1416.0" cy="290.1" r="5.6"/><circle cx="1416.6" cy="289.6" r="5.6"/><circle cx="1417.2" cy="285.0" r="5.6"/><circle cx="1417.8" cy="291.1" r="5.6"/><circle cx="1418.4" cy="285.9" r="5.6"/><circle cx="1419.0" cy="284.8" r="5.6"/><circle cx="1419.5" cy="286.3" r="5.6"/><circle cx="1420.1" cy="287.7" r="5.6"/><circle cx="1420.7" cy="290.1" r="5.6"/><circle cx="1421.3" cy="289.8" r="5.6"/><circle cx="1421.9" cy="287.9" r="5.6"/><circle cx="1422.5" cy="290.6" r="5.6"/><circle cx="1423.0" cy="288.1" r="5.6"/><circle cx="1423.6" cy="290.4" r="5.6"/><circle cx="1424.2" cy="283.7" r="5.6"/><circle cx="1424.8" cy="283.1" r="5.6"/><circle cx="1425.4" cy="289.9" r="5.6"/><circle cx="1426.0" cy="283.6" r="5.6"/><circle cx="1426.6" cy="286.7" r="5.6"/><circle cx="1427.1" cy="287.2" r="5.6"/><circle cx="1427.7" cy="286.0" r="5.6"/><circle cx="1428.3" cy="286.1" r="5.6"/><circle cx="1428.9" cy="291.4" r="5.6"/><circle cx="1429.5" cy="280.0" r="5.6"/><circle cx="1430.1" cy="289.8" r="5.6"/><circle cx="1430.6" cy="293.8" r="5.6"/><circle cx="1431.2" cy="287.2" r="5.6"/><circle cx="1431.8" cy="287.0" r="5.6"/><circle cx="1432.4" cy="289.1" r="5.6"/><circle cx="1433.0" cy="292.3" r="5.6"/><circle cx="1433.6" cy="283.5" r="5.6"/><circle cx="1434.1" cy="287.1" r="5.6"/><circle cx="1434.7" cy="286.3" r="5.6"/><circle cx="1435.3" cy="288.4" r="5.6"/><circle cx="1435.9" cy="287.2" r="5.6"/><circle cx="1436.5" cy="288.5" r="5.6"/><circle cx="1437.1" cy="285.4" r="5.6"/><circle cx="1437.7" cy="286.7" r="5.6"/><circle cx="1438.2" cy="284.5" r="5.6"/><circle cx="1438.8" cy="284.5" r="5.6"/><circle cx="1439.4" cy="285.9" r="5.6"/><circle cx="1440.0" cy="285.9" r="5.6"/><circle cx="1440.6" cy="282.8" r="5.6"/><circle cx="1441.2" cy="290.7" r="5.6"/><circle cx="1441.7" cy="285.7" r="5.6"/><circle cx="1442.3" cy="282.0" r="5.6"/><circle cx="1442.9" cy="289.2" r="5.6"/><circle cx="1443.5" cy="283.7" r="5.6"/><circle cx="1444.1" cy="287.3" r="5.6"/><circle cx="1444.7" cy="285.7" r="5.6"/><circle cx="1445.3" cy="286.4" r="5.6"/><circle cx="1445.8" cy="286.1" r="5.6"/><circle cx="1446.4" cy="283.9" r="5.6"/><circle cx="1447.0" cy="285.6" r="5.6"/><circle cx="1447.6" cy="291.3" r="5.6"/><circle cx="1448.2" cy="278.9" r="5.6"/><circle cx="1448.8" cy="285.5" r="5.6"/><circle cx="1449.3" cy="286.5" r="5.6"/><circle cx="1449.9" cy="282.1" r="5.6"/><circle cx="1450.5" cy="281.1" r="5.6"/><circle cx="1451.1" cy="291.3" r="5.6"/><circle cx="1451.7" cy="283.9" r="5.6"/><circle cx="1452.3" cy="290.9" r="5.6"/><circle cx="1452.8" cy="286.4" r="5.6"/><circle cx="1453.4" cy="285.0" r="5.6"/><circle cx="1454.0" cy="286.1" r="5.6"/><circle cx="1454.6" cy="286.5" r="5.6"/><circle cx="1455.2" cy="288.0" r="5.6"/><circle cx="1455.8" cy="285.7" r="5.6"/><circle cx="1456.4" cy="284.8" r="5.6"/><circle cx="1456.9" cy="284.9" r="5.6"/><circle cx="1457.5" cy="288.2" r="5.6"/><circle cx="1458.1" cy="286.6" r="5.6"/><circle cx="1458.7" cy="281.2" r="5.6"/><circle cx="1459.3" cy="282.2" r="5.6"/><circle cx="1459.9" cy="284.9" r="5.6"/><circle cx="1460.4" cy="282.1" r="5.6"/><circle cx="1461.0" cy="282.7" r="5.6"/><circle cx="1461.6" cy="281.0" r="5.6"/><circle cx="1462.2" cy="282.9" r="5.6"/><circle cx="1462.8" cy="284.8" r="5.6"/><circle cx="1463.4" cy="286.4" r="5.6"/><circle cx="1463.9" cy="283.5" r="5.6"/><circle cx="1464.5" cy="289.4" r="5.6"/><circle cx="1465.1" cy="283.1" r="5.6"/><circle cx="1465.7" cy="292.5" r="5.6"/><circle cx="1466.3" cy="286.1" r="5.6"/><circle cx="1466.9" cy="284.5" r="5.6"/><circle cx="1467.5" cy="281.5" r="5.6"/><circle cx="1468.0" cy="274.7" r="5.6"/><circle cx="1468.6" cy="282.4" r="5.6"/><circle cx="1469.2" cy="283.3" r="5.6"/><circle cx="1469.8" cy="288.3" r="5.6"/><circle cx="1470.4" cy="278.6" r="5.6"/><circle cx="1471.0" cy="288.1" r="5.6"/><circle cx="1471.5" cy="281.7" r="5.6"/><circle cx="1472.1" cy="284.5" r="5.6"/><circle cx="1472.7" cy="274.9" r="5.6"/><circle cx="1473.3" cy="282.6" r="5.6"/><circle cx="1473.9" cy="281.1" r="5.6"/><circle cx="1474.5" cy="284.0" r="5.6"/><circle cx="1475.0" cy="282.2" r="5.6"/><circle cx="1475.6" cy="278.6" r="5.6"/><circle cx="1476.2" cy="284.6" r="5.6"/><circle cx="1476.8" cy="283.8" r="5.6"/><circle cx="1477.4" cy="283.4" r="5.6"/><circle cx="1478.0" cy="284.5" r="5.6"/><circle cx="1478.6" cy="284.7" r="5.6"/><circle cx="1479.1" cy="281.4" r="5.6"/><circle cx="1479.7" cy="277.4" r="5.6"/><circle cx="1480.3" cy="277.2" r="5.6"/><circle cx="1480.9" cy="285.1" r="5.6"/><circle cx="1481.5" cy="283.2" r="5.6"/><circle cx="1482.1" cy="281.3" r="5.6"/><circle cx="1482.6" cy="279.7" r="5.6"/><circle cx="1483.2" cy="281.0" r="5.6"/><circle cx="1483.8" cy="280.9" r="5.6"/><circle cx="1484.4" cy="279.7" r="5.6"/><circle cx="1485.0" cy="278.6" r="5.6"/><circle cx="1485.6" cy="286.8" r="5.6"/><circle cx="1486.1" cy="281.1" r="5.6"/><circle cx="1486.7" cy="278.6" r="5.6"/><circle cx="1487.3" cy="276.5" r="5.6"/><circle cx="1487.9" cy="278.1" r="5.6"/><circle cx="1488.5" cy="282.2" r="5.6"/><circle cx="1489.1" cy="282.3" r="5.6"/><circle cx="1489.7" cy="279.4" r="5.6"/><circle cx="1490.2" cy="280.1" r="5.6"/><circle cx="1490.8" cy="278.9" r="5.6"/><circle cx="1491.4" cy="276.5" r="5.6"/><circle cx="1492.0" cy="283.4" r="5.6"/><circle cx="1492.6" cy="280.7" r="5.6"/><circle cx="1493.2" cy="286.7" r="5.6"/><circle cx="1493.7" cy="277.2" r="5.6"/><circle cx="1494.3" cy="279.0" r="5.6"/><circle cx="1494.9" cy="281.8" r="5.6"/><circle cx="1495.5" cy="278.5" r="5.6"/><circle cx="1496.1" cy="275.1" r="5.6"/><circle cx="1496.7" cy="276.3" r="5.6"/><circle cx="1497.2" cy="279.3" r="5.6"/><circle cx="1497.8" cy="279.9" r="5.6"/><circle cx="1498.4" cy="278.5" r="5.6"/><circle cx="1499.0" cy="281.6" r="5.6"/><circle cx="1499.6" cy="281.5" r="5.6"/><circle cx="1500.2" cy="279.5" r="5.6"/><circle cx="1500.8" cy="278.6" r="5.6"/><circle cx="1501.3" cy="277.7" r="5.6"/><circle cx="1501.9" cy="279.9" r="5.6"/><circle cx="1502.5" cy="280.9" r="5.6"/><circle cx="1503.1" cy="278.4" r="5.6"/><circle cx="1503.7" cy="279.4" r="5.6"/><circle cx="1504.3" cy="277.1" r="5.6"/><circle cx="1504.8" cy="273.9" r="5.6"/><circle cx="1505.4" cy="275.0" r="5.6"/><circle cx="1506.0" cy="280.0" r="5.6"/><circle cx="1506.6" cy="279.0" r="5.6"/><circle cx="1507.2" cy="282.3" r="5.6"/><circle cx="1507.8" cy="277.7" r="5.6"/><circle cx="1508.4" cy="280.0" r="5.6"/><circle cx="1508.9" cy="281.3" r="5.6"/><circle cx="1509.5" cy="280.2" r="5.6"/><circle cx="1510.1" cy="275.5" r="5.6"/><circle cx="1510.7" cy="276.7" r="5.6"/><circle cx="1511.3" cy="277.5" r="5.6"/><circle cx="1511.9" cy="274.2" r="5.6"/><circle cx="1512.4" cy="278.4" r="5.6"/><circle cx="1513.0" cy="279.9" r="5.6"/><circle cx="1513.6" cy="275.5" r="5.6"/><circle cx="1514.2" cy="282.5" r="5.6"/><circle cx="1514.8" cy="275.9" r="5.6"/><circle cx="1515.4" cy="276.1" r="5.6"/><circle cx="1515.9" cy="275.9" r="5.6"/><circle cx="1516.5" cy="274.5" r="5.6"/><circle cx="1517.1" cy="277.6" r="5.6"/><circle cx="1517.7" cy="276.4" r="5.6"/><circle cx="1518.3" cy="281.1" r="5.6"/><circle cx="1518.9" cy="278.0" r="5.6"/><circle cx="1519.5" cy="277.7" r="5.6"/><circle cx="1520.0" cy="275.5" r="5.6"/><circle cx="1520.6" cy="271.9" r="5.6"/><circle cx="1521.2" cy="275.7" r="5.6"/><circle cx="1521.8" cy="273.4" r="5.6"/><circle cx="1522.4" cy="278.6" r="5.6"/><circle cx="1523.0" cy="275.7" r="5.6"/><circle cx="1523.5" cy="280.5" r="5.6"/><circle cx="1524.1" cy="277.8" r="5.6"/><circle cx="1524.7" cy="278.0" r="5.6"/><circle cx="1525.3" cy="276.2" r="5.6"/><circle cx="1525.9" cy="276.1" r="5.6"/><circle cx="1526.5" cy="277.3" r="5.6"/><circle cx="1527.0" cy="278.0" r="5.6"/><circle cx="1527.6" cy="273.2" r="5.6"/><circle cx="1528.2" cy="276.6" r="5.6"/><circle cx="1528.8" cy="282.7" r="5.6"/><circle cx="1529.4" cy="274.8" r="5.6"/><circle cx="1530.0" cy="274.3" r="5.6"/><circle cx="1530.6" cy="273.0" r="5.6"/><circle cx="1531.1" cy="270.7" r="5.6"/><circle cx="1531.7" cy="278.3" r="5.6"/><circle cx="1532.3" cy="275.0" r="5.6"/><circle cx="1532.9" cy="275.6" r="5.6"/><circle cx="1533.5" cy="280.0" r="5.6"/><circle cx="1534.1" cy="281.9" r="5.6"/><circle cx="1534.6" cy="272.0" r="5.6"/><circle cx="1535.2" cy="277.6" r="5.6"/><circle cx="1535.8" cy="276.3" r="5.6"/><circle cx="1536.4" cy="275.6" r="5.6"/><circle cx="1537.0" cy="275.7" r="5.6"/><circle cx="1537.6" cy="274.2" r="5.6"/><circle cx="1538.1" cy="278.9" r="5.6"/><circle cx="1538.7" cy="276.0" r="5.6"/><circle cx="1539.3" cy="275.2" r="5.6"/><circle cx="1539.9" cy="277.7" r="5.6"/><circle cx="1540.5" cy="276.7" r="5.6"/><circle cx="1541.1" cy="275.3" r="5.6"/><circle cx="1541.7" cy="274.9" r="5.6"/><circle cx="1542.2" cy="279.0" r="5.6"/><circle cx="1542.8" cy="275.3" r="5.6"/><circle cx="1543.4" cy="273.6" r="5.6"/><circle cx="1544.0" cy="271.3" r="5.6"/><circle cx="1544.6" cy="272.7" r="5.6"/><circle cx="1545.2" cy="270.6" r="5.6"/><circle cx="1545.7" cy="274.0" r="5.6"/><circle cx="1546.3" cy="274.4" r="5.6"/><circle cx="1546.9" cy="267.6" r="5.6"/><circle cx="1547.5" cy="273.6" r="5.6"/><circle cx="1548.1" cy="275.4" r="5.6"/><circle cx="1548.7" cy="273.9" r="5.6"/><circle cx="1549.2" cy="270.6" r="5.6"/><circle cx="1549.8" cy="277.0" r="5.6"/><circle cx="1550.4" cy="271.3" r="5.6"/><circle cx="1551.0" cy="269.7" r="5.6"/><circle cx="1551.6" cy="270.1" r="5.6"/><circle cx="1552.2" cy="273.2" r="5.6"/><circle cx="1552.8" cy="276.0" r="5.6"/><circle cx="1553.3" cy="276.5" r="5.6"/><circle cx="1553.9" cy="273.7" r="5.6"/><circle cx="1554.5" cy="269.6" r="5.6"/><circle cx="1555.1" cy="271.1" r="5.6"/><circle cx="1555.7" cy="270.4" r="5.6"/><circle cx="1556.3" cy="272.5" r="5.6"/><circle cx="1556.8" cy="267.8" r="5.6"/><circle cx="1557.4" cy="273.2" r="5.6"/><circle cx="1558.0" cy="274.8" r="5.6"/><circle cx="1558.6" cy="272.4" r="5.6"/><circle cx="1559.2" cy="274.2" r="5.6"/><circle cx="1559.8" cy="270.1" r="5.6"/><circle cx="1560.3" cy="268.6" r="5.6"/><circle cx="1560.9" cy="270.9" r="5.6"/><circle cx="1561.5" cy="276.1" r="5.6"/><circle cx="1562.1" cy="275.7" r="5.6"/><circle cx="1562.7" cy="271.4" r="5.6"/><circle cx="1563.3" cy="276.2" r="5.6"/><circle cx="1563.9" cy="271.7" r="5.6"/><circle cx="1564.4" cy="277.0" r="5.6"/><circle cx="1565.0" cy="274.0" r="5.6"/><circle cx="1565.6" cy="271.3" r="5.6"/><circle cx="1566.2" cy="274.9" r="5.6"/><circle cx="1566.8" cy="270.3" r="5.6"/><circle cx="1567.4" cy="269.8" r="5.6"/><circle cx="1567.9" cy="268.3" r="5.6"/><circle cx="1568.5" cy="273.2" r="5.6"/><circle cx="1569.1" cy="272.3" r="5.6"/><circle cx="1569.7" cy="272.2" r="5.6"/><circle cx="1570.3" cy="271.3" r="5.6"/><circle cx="1570.9" cy="276.6" r="5.6"/><circle cx="1571.5" cy="271.2" r="5.6"/><circle cx="1572.0" cy="270.3" r="5.6"/><circle cx="1572.6" cy="276.0" r="5.6"/><circle cx="1573.2" cy="276.5" r="5.6"/><circle cx="1573.8" cy="273.4" r="5.6"/><circle cx="1574.4" cy="267.3" r="5.6"/><circle cx="1575.0" cy="270.6" r="5.6"/><circle cx="1575.5" cy="274.2" r="5.6"/><circle cx="1576.1" cy="272.4" r="5.6"/><circle cx="1576.7" cy="276.9" r="5.6"/><circle cx="1577.3" cy="268.4" r="5.6"/><circle cx="1577.9" cy="274.3" r="5.6"/><circle cx="1578.5" cy="270.5" r="5.6"/><circle cx="1579.0" cy="276.2" r="5.6"/><circle cx="1579.6" cy="272.1" r="5.6"/><circle cx="1580.2" cy="275.4" r="5.6"/><circle cx="1580.8" cy="270.5" r="5.6"/><circle cx="1581.4" cy="268.3" r="5.6"/><circle cx="1582.0" cy="269.2" r="5.6"/><circle cx="1582.6" cy="270.6" r="5.6"/><circle cx="1583.1" cy="269.4" r="5.6"/><circle cx="1583.7" cy="275.9" r="5.6"/><circle cx="1584.3" cy="276.3" r="5.6"/><circle cx="1584.9" cy="273.2" r="5.6"/><circle cx="1585.5" cy="269.4" r="5.6"/><circle cx="1586.1" cy="272.1" r="5.6"/><circle cx="1586.6" cy="270.5" r="5.6"/><circle cx="1587.2" cy="276.7" r="5.6"/><circle cx="1587.8" cy="273.4" r="5.6"/><circle cx="1588.4" cy="273.9" r="5.6"/><circle cx="1589.0" cy="271.3" r="5.6"/><circle cx="1589.6" cy="266.7" r="5.6"/><circle cx="1590.1" cy="270.3" r="5.6"/><circle cx="1590.7" cy="269.3" r="5.6"/><circle cx="1591.3" cy="273.6" r="5.6"/><circle cx="1591.9" cy="272.9" r="5.6"/><circle cx="1592.5" cy="270.3" r="5.6"/><circle cx="1593.1" cy="271.5" r="5.6"/><circle cx="1593.7" cy="277.2" r="5.6"/><circle cx="1594.2" cy="269.9" r="5.6"/><circle cx="1594.8" cy="270.0" r="5.6"/><circle cx="1595.4" cy="272.1" r="5.6"/><circle cx="1596.0" cy="270.7" r="5.6"/><circle cx="1596.6" cy="271.5" r="5.6"/><circle cx="1597.2" cy="274.4" r="5.6"/><circle cx="1597.7" cy="277.9" r="5.6"/><circle cx="1598.3" cy="267.7" r="5.6"/><circle cx="1598.9" cy="272.9" r="5.6"/><circle cx="1599.5" cy="273.1" r="5.6"/><circle cx="1600.1" cy="272.7" r="5.6"/><circle cx="1600.7" cy="272.5" r="5.6"/><circle cx="1601.2" cy="272.1" r="5.6"/><circle cx="1601.8" cy="276.0" r="5.6"/><circle cx="1602.4" cy="271.7" r="5.6"/><circle cx="1603.0" cy="272.7" r="5.6"/></g>
<g fill="none" stroke="#ff0000" stroke-width="0.9"><circle cx="960.9" cy="335.4" r="5.6"/><circle cx="961.5" cy="335.8" r="5.6"/><circle cx="962.1" cy="335.0" r="5.6"/><circle cx="962.7" cy="338.4" r="5.6"/><circle cx="963.2" cy="335.6" r="5.6"/><circle cx="963.8" cy="336.2" r="5.6"/><circle cx="964.4" cy="335.6" r="5.6"/><circle cx="965.0" cy="332.9" r="5.6"/><circle cx="965.6" cy="333.5" r="5.6"/><circle cx="966.2" cy="333.0" r="5.6"/><circle cx="966.7" cy="336.6" r="5.6"/><circle cx="967.3" cy="334.1" r="5.6"/><circle cx="967.9" cy="333.2" r="5.6"/><circle cx="968.5" cy="337.0" r="5.6"/><circle cx="969.1" cy="337.9" r="5.6"/><circle cx="969.7" cy="331.4" r="5.6"/><circle cx="970.3" cy="341.5" r="5.6"/><circle cx="970.8" cy="336.8" r="5.6"/><circle cx="971.4" cy="336.5" r="5.6"/><circle cx="972.0" cy="339.9" r="5.6"/><circle cx="972.6" cy="337.1" r="5.6"/><circle cx="973.2" cy="335.3" r="5.6"/><circle cx="973.8" cy="343.5" r="5.6"/><circle cx="974.3" cy="334.1" r="5.6"/><circle cx="974.9" cy="337.0" r="5.6"/><circle cx="975.5" cy="339.8" r="5.6"/><circle cx="976.1" cy="334.4" r="5.6"/><circle cx="976.7" cy="337.3" r="5.6"/><circle cx="977.3" cy="338.8" r="5.6"/><circle cx="977.9" cy="344.7" r="5.6"/><circle cx="978.4" cy="335.3" r="5.6"/><circle cx="979.0" cy="337.8" r="5.6"/><circle cx="979.6" cy="339.9" r="5.6"/><circle cx="980.2" cy="338.4" r="5.6"/><circle cx="980.8" cy="334.7" r="5.6"/><circle cx="981.4" cy="339.5" r="5.6"/><circle cx="981.9" cy="338.7" r="5.6"/><circle cx="982.5" cy="339.8" r="5.6"/><circle cx="983.1" cy="341.9" r="5.6"/><circle cx="983.7" cy="341.6" r="5.6"/><circle cx="984.3" cy="340.0" r="5.6"/><circle cx="984.9" cy="339.8" r="5.6"/><circle cx="985.5" cy="335.8" r="5.6"/><circle cx="986.0" cy="338.7" r="5.6"/><circle cx="986.6" cy="339.8" r="5.6"/><circle cx="987.2" cy="338.1" r="5.6"/><circle cx="987.8" cy="339.6" r="5.6"/><circle cx="988.4" cy="337.1" r="5.6"/><circle cx="989.0" cy="344.0" r="5.6"/><circle cx="989.5" cy="345.9" r="5.6"/><circle cx="990.1" cy="338.6" r="5.6"/><circle cx="990.7" cy="341.0" r="5.6"/><circle cx="991.3" cy="339.3" r="5.6"/><circle cx="991.9" cy="343.7" r="5.6"/><circle cx="992.5" cy="341.4" r="5.6"/><circle cx="993.0" cy="340.5" r="5.6"/><circle cx="993.6" cy="339.7" r="5.6"/><circle cx="994.2" cy="340.8" r="5.6"/><circle cx="994.8" cy="337.6" r="5.6"/><circle cx="995.4" cy="342.6" r="5.6"/><circle cx="996.0" cy="338.6" r="5.6"/><circle cx="996.6" cy="342.4" r="5.6"/><circle cx="997.1" cy="341.3" r="5.6"/><circle cx="997.7" cy="344.2" r="5.6"/><circle cx="998.3" cy="341.1" r="5.6"/><circle cx="998.9" cy="344.2" r="5.6"/><circle cx="999.5" cy="338.6" r="5.6"/><circle cx="1000.1" cy="343.2" r="5.6"/><circle cx="1000.6" cy="340.8" r="5.6"/><circle cx="1001.2" cy="342.2" r="5.6"/><circle cx="1001.8" cy="341.9" r="5.6"/><circle cx="1002.4" cy="344.5" r="5.6"/><circle cx="1003.0" cy="336.0" r="5.6"/><circle cx="1003.6" cy="342.9" r="5.6"/><circle cx="1004.2" cy="337.7" r="5.6"/><circle cx="1004.7" cy="345.7" r="5.6"/><circle cx="1005.3" cy="336.6" r="5.6"/><circle cx="1005.9" cy="339.5" r="5.6"/><circle cx="1006.5" cy="337.6" r="5.6"/><circle cx="1007.1" cy="347.3" r="5.6"/><circle cx="1007.7" cy="338.9" r="5.6"/><circle cx="1008.2" cy="343.1" r="5.6"/><circle cx="1008.8" cy="341.3" r="5.6"/><circle cx="1009.4" cy="337.7" r="5.6"/><circle cx="1010.0" cy="342.1" r="5.6"/><circle cx="1010.6" cy="345.1" r="5.6"/><circle cx="1011.2" cy="342.7" r="5.6"/><circle cx="1011.8" cy="346.1" r="5.6"/><circle cx="1012.3" cy="342.4" r="5.6"/><circle cx="1012.9" cy="343.5" r="5.6"/><circle cx="1013.5" cy="342.5" r="5.6"/><circle cx="1014.1" cy="344.7" r="5.6"/><circle cx="1014.7" cy="349.3" r="5.6"/><circle cx="1015.3" cy="345.0" r="5.6"/><circle cx="1015.8" cy="344.6" r="5.6"/><circle cx="1016.4" cy="342.3" r="5.6"/><circle cx="1017.0" cy="342.0" r="5.6"/><circle cx="1017.6" cy="348.5" r="5.6"/><circle cx="1018.2" cy="341.2" r="5.6"/><circle cx="1018.8" cy="341.8" r="5.6"/><circle cx="1019.4" cy="344.3" r="5.6"/><circle cx="1019.9" cy="343.4" r="5.6"/><circle cx="1020.5" cy="350.4" r="5.6"/><circle cx="1021.1" cy="338.0" r="5.6"/><circle cx="1021.7" cy="346.0" r="5.6"/><circle cx="1022.3" cy="347.1" r="5.6"/><circle cx="1022.9" cy="341.9" r="5.6"/><circle cx="1023.4" cy="343.4" r="5.6"/><circle cx="1024.0" cy="346.6" r="5.6"/><circle cx="1024.6" cy="350.2" r="5.6"/><circle cx="1025.2" cy="342.8" r="5.6"/><circle cx="1025.8" cy="341.0" r="5.6"/><circle cx="1026.4" cy="348.5" r="5.6"/><circle cx="1027.0" cy="350.2" r="5.6"/><circle cx="1027.5" cy="344.9" r="5.6"/><circle cx="1028.1" cy="339.6" r="5.6"/><circle cx="1028.7" cy="350.3" r="5.6"/><circle cx="1029.3" cy="345.6" r="5.6"/><circle cx="1029.9" cy="349.5" r="5.6"/><circle cx="1030.5" cy="346.2" r="5.6"/><circle cx="1031.0" cy="345.4" r="5.6"/><circle cx="1031.6" cy="345.2" r="5.6"/><circle cx="1032.2" cy="350.9" r="5.6"/><circle cx="1032.8" cy="350.9" r="5.6"/><circle cx="1033.4" cy="340.6" r="5.6"/><circle cx="1034.0" cy="344.2" r="5.6"/><circle cx="1034.6" cy="352.2" r="5.6"/><circle cx="1035.1" cy="346.0" r="5.6"/><circle cx="1035.7" cy="343.2" r="5.6"/><circle cx="1036.3" cy="347.3" r="5.6"/><circle cx="1036.9" cy="347.1" r="5.6"/><circle cx="1037.5" cy="347.2" r="5.6"/><circle cx="1038.1" cy="346.2" r="5.6"/><circle cx="1038.6" cy="346.8" r="5.6"/><circle cx="1039.2" cy="346.4" r="5.6"/><circle cx="1039.8" cy="348.8" r="5.6"/><circle cx="1040.4" cy="345.6" r="5.6"/><circle cx="1041.0" cy="347.2" r="5.6"/><circle cx="1041.6" cy="347.7" r="5.6"/><circle cx="1042.1" cy="352.0" r="5.6"/><circle cx="1042.7" cy="349.4" r="5.6"/><circle cx="1043.3" cy="348.1" r="5.6"/><circle cx="1043.9" cy="350.0" r="5.6"/><circle cx="1044.5" cy="349.8" r="5.6"/><circle cx="1045.1" cy="351.8" r="5.6"/><circle cx="1045.7" cy="350.2" r="5.6"/><circle cx="1046.2" cy="354.0" r="5.6"/><circle cx="1046.8" cy="352.8" r="5.6"/><circle cx="1047.4" cy="348.9" r="5.6"/><circle cx="1048.0" cy="347.9" r="5.6"/><circle cx="1048.6" cy="351.8" r="5.6"/><circle cx="1049.2" cy="350.8" r="5.6"/><circle cx="1049.7" cy="349.1" r="5.6"/><circle cx="1050.3" cy="345.2" r="5.6"/><circle cx="1050.9" cy="344.3" r="5.6"/><circle cx="1051.5" cy="350.7" r="5.6"/><circle cx="1052.1" cy="352.0" r="5.6"/><circle cx="1052.7" cy="352.2" r="5.6"/><circle cx="1053.3" cy="346.2" r="5.6"/><circle cx="1053.8" cy="353.0" r="5.6"/><circle cx="1054.4" cy="348.6" r="5.6"/><circle cx="1055.0" cy="351.3" r="5.6"/><circle cx="1055.6" cy="351.5" r="5.6"/><circle cx="1056.2" cy="348.0" r="5.6"/><circle cx="1056.8" cy="348.7" r="5.6"/><circle cx="1057.3" cy="344.5" r="5.6"/><circle cx="1057.9" cy="348.0" r="5.6"/><circle cx="1058.5" cy="345.5" r="5.6"/><circle cx="1059.1" cy="352.1" r="5.6"/><circle cx="1059.7" cy="351.1" r="5.6"/><circle cx="1060.3" cy="353.6" r="5.6"/><circle cx="1060.9" cy="352.1" r="5.6"/><circle cx="1061.4" cy="349.3" r="5.6"/><circle cx="1062.0" cy="352.2" r="5.6"/><circle cx="1062.6" cy="350.2" r="5.6"/><circle cx="1063.2" cy="353.1" r="5.6"/><circle cx="1063.8" cy="352.4" r="5.6"/><circle cx="1064.4" cy="348.7" r="5.6"/><circle cx="1064.9" cy="351.6" r="5.6"/><circle cx="1065.5" cy="351.8" r="5.6"/><circle cx="1066.1" cy="350.9" r="5.6"/><circle cx="1066.7" cy="354.4" r="5.6"/><circle cx="1067.3" cy="356.9" r="5.6"/><circle cx="1067.9" cy="350.9" r="5.6"/><circle cx="1068.5" cy="351.0" r="5.6"/><circle cx="1069.0" cy="345.6" r="5.6"/><circle cx="1069.6" cy="351.8" r="5.6"/><circle cx="1070.2" cy="351.0" r="5.6"/><circle cx="1070.8" cy="346.0" r="5.6"/><circle cx="1071.4" cy="353.2" r="5.6"/><circle cx="1072.0" cy="354.1" r="5.6"/><circle cx="1072.5" cy="350.4" r="5.6"/><circle cx="1073.1" cy="351.5" r="5.6"/><circle cx="1073.7" cy="349.8" r="5.6"/><circle cx="1074.3" cy="354.9" r="5.6"/><circle cx="1074.9" cy="348.3" r="5.6"/><circle cx="1075.5" cy="351.9" r="5.6"/><circle cx="1076.1" cy="358.5" r="5.6"/><circle cx="1076.6" cy="353.0" r="5.6"/><circle cx="1077.2" cy="354.3" r="5.6"/><circle cx="1077.8" cy="352.5" r="5.6"/><circle cx="1078.4" cy="349.6" r="5.6"/><circle cx="1079.0" cy="352.9" r="5.6"/><circle cx="1079.6" cy="354.2" r="5.6"/><circle cx="1080.1" cy="350.1" r="5.6"/><circle cx="1080.7" cy="354.1" r="5.6"/><circle cx="1081.3" cy="356.8" r="5.6"/><circle cx="1081.9" cy="356.3" r="5.6"/><circle cx="1082.5" cy="348.6" r="5.6"/><circle cx="1083.1" cy="350.4" r="5.6"/><circle cx="1083.7" cy="348.6" r="5.6"/><circle cx="1084.2" cy="356.4" r="5.6"/><circle cx="1084.8" cy="355.0" r="5.6"/><circle cx="1085.4" cy="355.3" r="5.6"/><circle cx="1086.0" cy="350.7" r="5.6"/><circle cx="1086.6" cy="349.9" r="5.6"/><circle cx="1087.2" cy="353.5" r="5.6"/><circle cx="1087.7" cy="353.6" r="5.6"/><circle cx="1088.3" cy="350.8" r="5.6"/><circle cx="1088.9" cy="353.7" r="5.6"/><circle cx="1089.5" cy="355.1" r="5.6"/><circle cx="1090.1" cy="353.9" r="5.6"/><circle cx="1090.7" cy="350.2" r="5.6"/><circle cx="1091.3" cy="347.1" r="5.6"/><circle cx="1091.8" cy="352.4" r="5.6"/><circle cx="1092.4" cy="353.6" r="5.6"/><circle cx="1093.0" cy="352.4" r="5.6"/><circle cx="1093.6" cy="351.9" r="5.6"/><circle cx="1094.2" cy="351.1" r="5.6"/><circle cx="1094.8" cy="355.1" r="5.6"/><circle cx="1095.3" cy="352.8" r="5.6"/><circle cx="1095.9" cy="353.3" r="5.6"/><circle cx="1096.5" cy="350.1" r="5.6"/><circle cx="1097.1" cy="351.1" r="5.6"/><circle cx="1097.7" cy="353.3" r="5.6"/><circle cx="1098.3" cy="349.9" r="5.6"/><circle cx="1098.8" cy="349.1" r="5.6"/><circle cx="1099.4" cy="351.7" r="5.6"/><circle cx="1100.0" cy="356.1" r="5.6"/><circle cx="1100.6" cy="353.1" r="5.6"/><circle cx="1101.2" cy="356.7" r="5.6"/><circle cx="1101.8" cy="352.1" r="5.6"/><circle cx="1102.4" cy="351.5" r="5.6"/><circle cx="1102.9" cy="348.3" r="5.6"/><circle cx="1103.5" cy="350.6" r="5.6"/><circle cx="1104.1" cy="356.4" r="5.6"/><circle cx="1104.7" cy="353.1" r="5.6"/><circle cx="1105.3" cy="354.2" r="5.6"/><circle cx="1105.9" cy="354.1" r="5.6"/><circle cx="1106.4" cy="351.9" r="5.6"/><circle cx="1107.0" cy="351.3" r="5.6"/><circle cx="1107.6" cy="352.2" r="5.6"/><circle cx="1108.2" cy="353.7" r="5.6"/><circle cx="1108.8" cy="353.0" r="5.6"/><circle cx="1109.4" cy="353.1" r="5.6"/><circle cx="1110.0" cy="352.1" r="5.6"/><circle cx="1110.5" cy="349.3" r="5.6"/><circle cx="1111.1" cy="350.7" r="5.6"/><circle cx="1111.7" cy="348.7" r="5.6"/><circle cx="1112.3" cy="354.3" r="5.6"/><circle cx="1112.9" cy="345.3" r="5.6"/><circle cx="1113.5" cy="350.7" r="5.6"/><circle cx="1114.0" cy="358.2" r="5.6"/><circle cx="1114.6" cy="350.3" r="5.6"/><circle cx="1115.2" cy="347.9" r="5.6"/><circle cx="1115.8" cy="351.1" r="5.6"/><circle cx="1116.4" cy="354.9" r="5.6"/><circle cx="1117.0" cy="350.7" r="5.6"/><circle cx="1117.6" cy="352.9" r="5.6"/><circle cx="1118.1" cy="351.4" r="5.6"/><circle cx="1118.7" cy="350.0" r="5.6"/><circle cx="1119.3" cy="360.2" r="5.6"/><circle cx="1119.9" cy="351.3" r="5.6"/><circle cx="1120.5" cy="349.5" r="5.6"/><circle cx="1121.1" cy="349.6" r="5.6"/><circle cx="1121.6" cy="352.2" r="5.6"/><circle cx="1122.2" cy="352.3" r="5.6"/><circle cx="1122.8" cy="353.3" r="5.6"/><circle cx="1123.4" cy="351.5" r="5.6"/><circle cx="1124.0" cy="346.9" r="5.6"/><circle cx="1124.6" cy="352.6" r="5.6"/><circle cx="1125.2" cy="350.2" r="5.6"/><circle cx="1125.7" cy="350.3" r="5.6"/><circle cx="1126.3" cy="346.8" r="5.6"/><circle cx="1126.9" cy="349.5" r="5.6"/><circle cx="1127.5" cy="349.1" r="5.6"/><circle cx="1128.1" cy="351.1" r="5.6"/><circle cx="1128.7" cy="347.0" r="5.6"/><circle cx="1129.2" cy="351.4" r="5.6"/><circle cx="1129.8" cy="351.6" r="5.6"/><circle cx="1130.4" cy="348.0" r="5.6"/><circle cx="1131.0" cy="349.4" r="5.6"/><circle cx="1131.6" cy="348.8" r="5.6"/><circle cx="1132.2" cy="353.9" r="5.6"/><circle cx="1132.8" cy="343.9" r="5.6"/><circle cx="1133.3" cy="350.3" r="5.6"/><circle cx="1133.9" cy="346.5" r="5.6"/><circle cx="1134.5" cy="350.0" r="5.6"/><circle cx="1135.1" cy="353.7" r="5.6"/><circle cx="1135.7" cy="349.4" r="5.6"/><circle cx="1136.3" cy="351.6" r="5.6"/><circle cx="1136.8" cy="348.8" r="5.6"/><circle cx="1137.4" cy="356.8" r="5.6"/><circle cx="1138.0" cy="353.8" r="5.6"/><circle cx="1138.6" cy="354.4" r="5.6"/><circle cx="1139.2" cy="347.3" r="5.6"/><circle cx="1139.8" cy="347.9" r="5.6"/><circle cx="1140.4" cy="354.2" r="5.6"/><circle cx="1140.9" cy="350.5" r="5.6"/><circle cx="1141.5" cy="350.2" r="5.6"/><circle cx="1142.1" cy="351.9" r="5.6"/><circle cx="1142.7" cy="347.2" r="5.6"/><circle cx="1143.3" cy="353.0" r="5.6"/><circle cx="1143.9" cy="350.8" r="5.6"/><circle cx="1144.4" cy="352.0" r="5.6"/><circle cx="1145.0" cy="348.6" r="5.6"/><circle cx="1145.6" cy="352.0" r="5.6"/><circle cx="1146.2" cy="348.4" r="5.6"/><circle cx="1146.8" cy="353.1" r="5.6"/><circle cx="1147.4" cy="353.5" r="5.6"/><circle cx="1148.0" cy="352.7" r="5.6"/><circle cx="1148.5" cy="351.5" r="5.6"/><circle cx="1149.1" cy="351.7" r="5.6"/><circle cx="1149.7" cy="341.9" r="5.6"/><circle cx="1150.3" cy="352.0" r="5.6"/><circle cx="1150.9" cy="348.7" r="5.6"/><circle cx="1151.5" cy="349.6" r="5.6"/><circle cx="1152.0" cy="348.3" r="5.6"/><circle cx="1152.6" cy="344.9" r="5.6"/><circle cx="1153.2" cy="347.2" r="5.6"/><circle cx="1153.8" cy="350.5" r="5.6"/><circle cx="1154.4" cy="352.5" r="5.6"/><circle cx="1155.0" cy="346.4" r="5.6"/><circle cx="1155.5" cy="345.4" r="5.6"/><circle cx="1156.1" cy="352.0" r="5.6"/><circle cx="1156.7" cy="345.1" r="5.6"/><circle cx="1157.3" cy="353.4" r="5.6"/><circle cx="1157.9" cy="347.3" r="5.6"/><circle cx="1158.5" cy="344.4" r="5.6"/><circle cx="1159.1" cy="349.5" r="5.6"/><circle cx="1159.6" cy="351.3" r="5.6"/><circle cx="1160.2" cy="342.0" r="5.6"/><circle cx="1160.8" cy="350.4" r="5.6"/><circle cx="1161.4" cy="344.8" r="5.6"/><circle cx="1162.0" cy="349.6" r="5.6"/><circle cx="1162.6" cy="343.9" r="5.6"/><circle cx="1163.1" cy="340.2" r="5.6"/><circle cx="1163.7" cy="345.9" r="5.6"/><circle cx="1164.3" cy="346.8" r="5.6"/><circle cx="1164.9" cy="349.9" r="5.6"/><circle cx="1165.5" cy="348.5" r="5.6"/><circle cx="1166.1" cy="345.2" r="5.6"/><circle cx="1166.7" cy="342.2" r="5.6"/><circle cx="1167.2" cy="341.0" r="5.6"/><circle cx="1167.8" cy="341.3" r="5.6"/><circle cx="1168.4" cy="339.4" r="5.6"/><circle cx="1169.0" cy="340.7" r="5.6"/><circle cx="1169.6" cy="333.8" r="5.6"/><circle cx="1170.2" cy="341.3" r="5.6"/><circle cx="1170.7" cy="340.4" r="5.6"/><circle cx="1171.3" cy="347.5" r="5.6"/><circle cx="1171.9" cy="341.9" r="5.6"/><circle cx="1172.5" cy="338.0" r="5.6"/><circle cx="1173.1" cy="340.6" r="5.6"/><circle cx="1173.7" cy="335.1" r="5.6"/><circle cx="1174.3" cy="336.5" r="5.6"/><circle cx="1174.8" cy="332.4" r="5.6"/><circle cx="1175.4" cy="341.6" r="5.6"/><circle cx="1176.0" cy="338.8" r="5.6"/><circle cx="1176.6" cy="333.3" r="5.6"/><circle cx="1177.2" cy="336.1" r="5.6"/><circle cx="1177.8" cy="338.7" r="5.6"/><circle cx="1178.3" cy="337.0" r="5.6"/><circle cx="1178.9" cy="336.2" r="5.6"/><circle cx="1179.5" cy="332.3" r="5.6"/><circle cx="1180.1" cy="332.5" r="5.6"/><circle cx="1180.7" cy="334.2" r="5.6"/><circle cx="1181.3" cy="336.2" r="5.6"/><circle cx="1181.9" cy="330.7" r="5.6"/><circle cx="1182.4" cy="329.5" r="5.6"/><circle cx="1183.0" cy="335.6" r="5.6"/><circle cx="1183.6" cy="329.2" r="5.6"/><circle cx="1184.2" cy="334.6" r="5.6"/><circle cx="1184.8" cy="331.7" r="5.6"/><circle cx="1185.4" cy="333.2" r="5.6"/><circle cx="1185.9" cy="335.2" r="5.6"/><circle cx="1186.5" cy="331.8" r="5.6"/><circle cx="1187.1" cy="331.6" r="5.6"/><circle cx="1187.7" cy="326.2" r="5.6"/><circle cx="1188.3" cy="326.4" r="5.6"/><circle cx="1188.9" cy="329.9" r="5.6"/><circle cx="1189.5" cy="332.0" r="5.6"/><circle cx="1190.0" cy="331.2" r="5.6"/><circle cx="1190.6" cy="333.4" r="5.6"/><circle cx="1191.2" cy="327.1" r="5.6"/><circle cx="1191.8" cy="326.3" r="5.6"/><circle cx="1192.4" cy="328.2" r="5.6"/><circle cx="1193.0" cy="324.9" r="5.6"/><circle cx="1193.5" cy="324.2" r="5.6"/><circle cx="1194.1" cy="320.8" r="5.6"/><circle cx="1194.7" cy="326.3" r="5.6"/><circle cx="1195.3" cy="319.8" r="5.6"/><circle cx="1195.9" cy="323.9" r="5.6"/><circle cx="1196.5" cy="317.8" r="5.6"/><circle cx="1197.1" cy="324.6" r="5.6"/><circle cx="1197.6" cy="317.9" r="5.6"/><circle cx="1198.2" cy="322.9" r="5.6"/><circle cx="1198.8" cy="315.3" r="5.6"/><circle cx="1199.4" cy="318.1" r="5.6"/><circle cx="1200.0" cy="322.3" r="5.6"/><circle cx="1200.6" cy="316.0" r="5.6"/><circle cx="1201.1" cy="318.0" r="5.6"/><circle cx="1201.7" cy="315.9" r="5.6"/><circle cx="1202.3" cy="310.0" r="5.6"/><circle cx="1202.9" cy="317.0" r="5.6"/><circle cx="1203.5" cy="316.8" r="5.6"/><circle cx="1204.1" cy="311.8" r="5.6"/><circle cx="1204.6" cy="316.1" r="5.6"/><circle cx="1205.2" cy="311.5" r="5.6"/><circle cx="1205.8" cy="310.3" r="5.6"/><circle cx="1206.4" cy="312.6" r="5.6"/><circle cx="1207.0" cy="310.0" r="5.6"/><circle cx="1207.6" cy="318.0" r="5.6"/><circle cx="1208.2" cy="306.2" r="5.6"/><circle cx="1208.7" cy="312.2" r="5.6"/><circle cx="1209.3" cy="312.2" r="5.6"/><circle cx="1209.9" cy="302.9" r="5.6"/><circle cx="1210.5" cy="303.0" r="5.6"/><circle cx="1211.1" cy="308.9" r="5.6"/><circle cx="1211.7" cy="305.2" r="5.6"/><circle cx="1212.2" cy="307.0" r="5.6"/><circle cx="1212.8" cy="308.4" r="5.6"/><circle cx="1213.4" cy="303.3" r="5.6"/><circle cx="1214.0" cy="300.5" r="5.6"/><circle cx="1214.6" cy="294.9" r="5.6"/><circle cx="1215.2" cy="302.6" r="5.6"/><circle cx="1215.8" cy="298.5" r="5.6"/><circle cx="1216.3" cy="301.3" r="5.6"/><circle cx="1216.9" cy="300.2" r="5.6"/><circle cx="1217.5" cy="294.7" r="5.6"/><circle cx="1218.1" cy="302.8" r="5.6"/><circle cx="1218.7" cy="300.1" r="5.6"/><circle cx="1219.3" cy="298.5" r="5.6"/><circle cx="1219.8" cy="291.7" r="5.6"/><circle cx="1220.4" cy="293.1" r="5.6"/><circle cx="1221.0" cy="291.8" r="5.6"/><circle cx="1221.6" cy="291.2" r="5.6"/><circle cx="1222.2" cy="288.2" r="5.6"/><circle cx="1222.8" cy="291.8" r="5.6"/><circle cx="1223.4" cy="290.2" r="5.6"/><circle cx="1223.9" cy="289.7" r="5.6"/><circle cx="1224.5" cy="286.2" r="5.6"/><circle cx="1225.1" cy="290.4" r="5.6"/><circle cx="1225.7" cy="286.2" r="5.6"/><circle cx="1226.3" cy="276.7" r="5.6"/><circle cx="1226.9" cy="281.8" r="5.6"/><circle cx="1227.4" cy="282.5" r="5.6"/><circle cx="1228.0" cy="284.5" r="5.6"/><circle cx="1228.6" cy="279.8" r="5.6"/><circle cx="1229.2" cy="278.9" r="5.6"/><circle cx="1229.8" cy="276.6" r="5.6"/><circle cx="1230.4" cy="279.4" r="5.6"/><circle cx="1231.0" cy="275.2" r="5.6"/><circle cx="1231.5" cy="273.7" r="5.6"/><circle cx="1232.1" cy="272.2" r="5.6"/><circle cx="1232.7" cy="274.9" r="5.6"/><circle cx="1233.3" cy="270.6" r="5.6"/><circle cx="1233.9" cy="266.2" r="5.6"/><circle cx="1234.5" cy="271.8" r="5.6"/><circle cx="1235.0" cy="266.9" r="5.6"/><circle cx="1235.6" cy="268.8" r="5.6"/><circle cx="1236.2" cy="267.8" r="5.6"/><circle cx="1236.8" cy="269.1" r="5.6"/><circle cx="1237.4" cy="267.5" r="5.6"/><circle cx="1238.0" cy="261.7" r="5.6"/><circle cx="1238.6" cy="261.7" r="5.6"/><circle cx="1239.1" cy="257.4" r="5.6"/><circle cx="1239.7" cy="264.8" r="5.6"/><circle cx="1240.3" cy="260.1" r="5.6"/><circle cx="1240.9" cy="261.7" r="5.6"/><circle cx="1241.5" cy="255.6" r="5.6"/><circle cx="1242.1" cy="249.5" r="5.6"/><circle cx="1242.6" cy="258.7" r="5.6"/><circle cx="1243.2" cy="253.4" r="5.6"/><circle cx="1243.8" cy="252.4" r="5.6"/><circle cx="1244.4" cy="251.0" r="5.6"/><circle cx="1245.0" cy="251.6" r="5.6"/><circle cx="1245.6" cy="250.1" r="5.6"/><circle cx="1246.2" cy="242.9" r="5.6"/><circle cx="1246.7" cy="249.5" r="5.6"/><circle cx="1247.3" cy="243.7" r="5.6"/><circle cx="1247.9" cy="242.7" r="5.6"/><circle cx="1248.5" cy="248.0" r="5.6"/><circle cx="1249.1" cy="244.5" r="5.6"/><circle cx="1249.7" cy="239.8" r="5.6"/><circle cx="1250.2" cy="234.3" r="5.6"/><circle cx="1250.8" cy="239.0" r="5.6"/><circle cx="1251.4" cy="239.0" r="5.6"/><circle cx="1252.0" cy="236.1" r="5.6"/><circle cx="1252.6" cy="231.7" r="5.6"/><circle cx="1253.2" cy="231.9" r="5.6"/><circle cx="1253.8" cy="229.5" r="5.6"/><circle cx="1254.3" cy="232.7" r="5.6"/><circle cx="1254.9" cy="233.4" r="5.6"/><circle cx="1255.5" cy="233.0" r="5.6"/><circle cx="1256.1" cy="226.9" r="5.6"/><circle cx="1256.7" cy="228.7" r="5.6"/><circle cx="1257.3" cy="228.6" r="5.6"/><circle cx="1257.8" cy="224.5" r="5.6"/><circle cx="1258.4" cy="224.6" r="5.6"/><circle cx="1259.0" cy="230.2" r="5.6"/><circle cx="1259.6" cy="223.7" r="5.6"/><circle cx="1260.2" cy="224.7" r="5.6"/><circle cx="1260.8" cy="219.9" r="5.6"/><circle cx="1261.3" cy="220.4" r="5.6"/><circle cx="1261.9" cy="214.4" r="5.6"/><circle cx="1262.5" cy="218.4" r="5.6"/><circle cx="1263.1" cy="221.0" r="5.6"/><circle cx="1263.7" cy="222.8" r="5.6"/><circle cx="1264.3" cy="219.3" r="5.6"/><circle cx="1264.9" cy="217.0" r="5.6"/><circle cx="1265.4" cy="214.3" r="5.6"/><circle cx="1266.0" cy="211.6" r="5.6"/><circle cx="1266.6" cy="212.0" r="5.6"/><circle cx="1267.2" cy="213.5" r="5.6"/><circle cx="1267.8" cy="208.6" r="5.6"/><circle cx="1268.4" cy="212.9" r="5.6"/><circle cx="1268.9" cy="206.5" r="5.6"/><circle cx="1269.5" cy="203.5" r="5.6"/><circle cx="1270.1" cy="205.0" r="5.6"/><circle cx="1270.7" cy="202.4" r="5.6"/><circle cx="1271.3" cy="202.5" r="5.6"/><circle cx="1271.9" cy="209.1" r="5.6"/><circle cx="1272.5" cy="204.5" r="5.6"/><circle cx="1273.0" cy="205.1" r="5.6"/><circle cx="1273.6" cy="207.1" r="5.6"/><circle cx="1274.2" cy="206.8" r="5.6"/><circle cx="1274.8" cy="201.0" r="5.6"/><circle cx="1275.4" cy="205.7" r="5.6"/><circle cx="1276.0" cy="202.4" r="5.6"/><circle cx="1276.5" cy="200.7" r="5.6"/><circle cx="1277.1" cy="201.4" r="5.6"/><circle cx="1277.7" cy="195.4" r="5.6"/><circle cx="1278.3" cy="196.7" r="5.6"/><circle cx="1278.9" cy="198.1" r="5.6"/><circle cx="1279.5" cy="199.6" r="5.6"/><circle cx="1280.1" cy="196.3" r="5.6"/><circle cx="1280.6" cy="196.5" r="5.6"/><circle cx="1281.2" cy="199.1" r="5.6"/><circle cx="1281.8" cy="199.9" r="5.6"/><circle cx="1282.4" cy="197.6" r="5.6"/><circle cx="1283.0" cy="198.6" r="5.6"/><circle cx="1283.6" cy="193.3" r="5.6"/><circle cx="1284.1" cy="193.1" r="5.6"/><circle cx="1284.7" cy="194.5" r="5.6"/><circle cx="1285.3" cy="192.3" r="5.6"/><circle cx="1285.9" cy="191.3" r="5.6"/><circle cx="1286.5" cy="197.2" r="5.6"/><circle cx="1287.1" cy="191.4" r="5.6"/><circle cx="1287.7" cy="188.8" r="5.6"/><circle cx="1288.2" cy="192.7" r="5.6"/><circle cx="1288.8" cy="196.2" r="5.6"/><circle cx="1289.4" cy="190.8" r="5.6"/><circle cx="1290.0" cy="193.8" r="5.6"/><circle cx="1290.6" cy="188.6" r="5.6"/><circle cx="1291.2" cy="188.2" r="5.6"/><circle cx="1291.7" cy="187.3" r="5.6"/><circle cx="1292.3" cy="188.6" r="5.6"/><circle cx="1292.9" cy="194.0" r="5.6"/><circle cx="1293.5" cy="185.1" r="5.6"/><circle cx="1294.1" cy="192.9" r="5.6"/><circle cx="1294.7" cy="185.0" r="5.6"/><circle cx="1295.3" cy="186.9" r="5.6"/><circle cx="1295.8" cy="189.8" r="5.6"/><circle cx="1296.4" cy="189.0" r="5.6"/><circle cx="1297.0" cy="187.7" r="5.6"/><circle cx="1297.6" cy="181.9" r="5.6"/><circle cx="1298.2" cy="187.5" r="5.6"/><circle cx="1298.8" cy="183.3" r="5.6"/><circle cx="1299.3" cy="193.5" r="5.6"/><circle cx="1299.9" cy="185.2" r="5.6"/><circle cx="1300.5" cy="186.2" r="5.6"/><circle cx="1301.1" cy="182.1" r="5.6"/><circle cx="1301.7" cy="183.9" r="5.6"/><circle cx="1302.3" cy="181.3" r="5.6"/><circle cx="1302.9" cy="187.8" r="5.6"/><circle cx="1303.4" cy="184.0" r="5.6"/><circle cx="1304.0" cy="186.2" r="5.6"/><circle cx="1304.6" cy="182.4" r="5.6"/><circle cx="1305.2" cy="182.8" r="5.6"/><circle cx="1305.8" cy="187.8" r="5.6"/><circle cx="1306.4" cy="181.1" r="5.6"/><circle cx="1306.9" cy="178.6" r="5.6"/><circle cx="1307.5" cy="184.8" r="5.6"/><circle cx="1308.1" cy="180.2" r="5.6"/><circle cx="1308.7" cy="182.1" r="5.6"/><circle cx="1309.3" cy="185.9" r="5.6"/><circle cx="1309.9" cy="180.8" r="5.6"/><circle cx="1310.4" cy="185.5" r="5.6"/><circle cx="1311.0" cy="180.9" r="5.6"/><circle cx="1311.6" cy="187.1" r="5.6"/><circle cx="1312.2" cy="186.5" r="5.6"/><circle cx="1312.8" cy="181.1" r="5.6"/><circle cx="1313.4" cy="181.8" r="5.6"/><circle cx="1314.0" cy="179.9" r="5.6"/><circle cx="1314.5" cy="182.8" r="5.6"/><circle cx="1315.1" cy="185.4" r="5.6"/><circle cx="1315.7" cy="177.8" r="5.6"/><circle cx="1316.3" cy="184.5" r="5.6"/><circle cx="1316.9" cy="177.9" r="5.6"/><circle cx="1317.5" cy="179.1" r="5.6"/><circle cx="1318.0" cy="176.3" r="5.6"/><circle cx="1318.6" cy="187.5" r="5.6"/><circle cx="1319.2" cy="181.5" r="5.6"/><circle cx="1319.8" cy="181.9" r="5.6"/><circle cx="1320.4" cy="179.2" r="5.6"/><circle cx="1321.0" cy="184.1" r="5.6"/><circle cx="1321.6" cy="174.9" r="5.6"/><circle cx="1322.1" cy="180.9" r="5.6"/><circle cx="1322.7" cy="187.2" r="5.6"/><circle cx="1323.3" cy="179.6" r="5.6"/><circle cx="1323.9" cy="180.7" r="5.6"/><circle cx="1324.5" cy="182.5" r="5.6"/><circle cx="1325.1" cy="178.1" r="5.6"/><circle cx="1325.6" cy="180.4" r="5.6"/><circle cx="1326.2" cy="183.1" r="5.6"/><circle cx="1326.8" cy="180.8" r="5.6"/><circle cx="1327.4" cy="181.2" r="5.6"/><circle cx="1328.0" cy="179.0" r="5.6"/><circle cx="1328.6" cy="180.9" r="5.6"/><circle cx="1329.2" cy="180.1" r="5.6"/><circle cx="1329.7" cy="184.1" r="5.6"/><circle cx="1330.3" cy="181.9" r="5.6"/><circle cx="1330.9" cy="179.0" r="5.6"/><circle cx="1331.5" cy="172.6" r="5.6"/><circle cx="1332.1" cy="181.7" r="5.6"/><circle cx="1332.7" cy="181.7" r="5.6"/><circle cx="1333.2" cy="176.8" r="5.6"/><circle cx="1333.8" cy="173.6" r="5.6"/><circle cx="1334.4" cy="176.1" r="5.6"/><circle cx="1335.0" cy="182.0" r="5.6"/><circle cx="1335.6" cy="176.2" r="5.6"/><circle cx="1336.2" cy="177.9" r="5.6"/><circle cx="1336.8" cy="179.8" r="5.6"/><circle cx="1337.3" cy="182.7" r="5.6"/><circle cx="1337.9" cy="179.1" r="5.6"/><circle cx="1338.5" cy="178.8" r="5.6"/><circle cx="1339.1" cy="177.5" r="5.6"/><circle cx="1339.7" cy="183.7" r="5.6"/><circle cx="1340.3" cy="182.1" r="5.6"/><circle cx="1340.8" cy="178.7" r="5.6"/><circle cx="1341.4" cy="174.9" r="5.6"/><circle cx="1342.0" cy="176.6" r="5.6"/><circle cx="1342.6" cy="180.6" r="5.6"/><circle cx="1343.2" cy="176.8" r="5.6"/><circle cx="1343.8" cy="181.4" r="5.6"/><circle cx="1344.4" cy="179.9" r="5.6"/><circle cx="1344.9" cy="179.7" r="5.6"/><circle cx="1345.5" cy="180.7" r="5.6"/><circle cx="1346.1" cy="180.2" r="5.6"/><circle cx="1346.7" cy="176.3" r="5.6"/><circle cx="1347.3" cy="177.8" r="5.6"/><circle cx="1347.9" cy="185.5" r="5.6"/><circle cx="1348.4" cy="175.3" r="5.6"/><circle cx="1349.0" cy="177.4" r="5.6"/><circle cx="1349.6" cy="181.8" r="5.6"/><circle cx="1350.2" cy="178.3" r="5.6"/><circle cx="1350.8" cy="176.4" r="5.6"/><circle cx="1351.4" cy="174.9" r="5.6"/><circle cx="1352.0" cy="180.3" r="5.6"/><circle cx="1352.5" cy="181.8" r="5.6"/><circle cx="1353.1" cy="182.9" r="5.6"/><circle cx="1353.7" cy="179.0" r="5.6"/><circle cx="1354.3" cy="181.9" r="5.6"/><circle cx="1354.9" cy="175.9" r="5.6"/><circle cx="1355.5" cy="179.4" r="5.6"/><circle cx="1356.0" cy="177.0" r="5.6"/><circle cx="1356.6" cy="179.5" r="5.6"/><circle cx="1357.2" cy="181.2" r="5.6"/><circle cx="1357.8" cy="182.1" r="5.6"/><circle cx="1358.4" cy="176.2" r="5.6"/><circle cx="1359.0" cy="182.8" r="5.6"/><circle cx="1359.6" cy="177.8" r="5.6"/><circle cx="1360.1" cy="176.2" r="5.6"/><circle cx="1360.7" cy="178.7" r="5.6"/><circle cx="1361.3" cy="175.0" r="5.6"/><circle cx="1361.9" cy="179.3" r="5.6"/><circle cx="1362.5" cy="180.2" r="5.6"/><circle cx="1363.1" cy="178.8" r="5.6"/><circle cx="1363.6" cy="181.0" r="5.6"/><circle cx="1364.2" cy="178.6" r="5.6"/><circle cx="1364.8" cy="179.6" r="5.6"/><circle cx="1365.4" cy="175.5" r="5.6"/><circle cx="1366.0" cy="179.9" r="5.6"/><circle cx="1366.6" cy="177.3" r="5.6"/><circle cx="1367.1" cy="178.6" r="5.6"/><circle cx="1367.7" cy="179.7" r="5.6"/><circle cx="1368.3" cy="180.6" r="5.6"/><circle cx="1368.9" cy="175.3" r="5.6"/><circle cx="1369.5" cy="175.6" r="5.6"/><circle cx="1370.1" cy="179.4" r="5.6"/><circle cx="1370.7" cy="181.7" r="5.6"/><circle cx="1371.2" cy="181.5" r="5.6"/><circle cx="1371.8" cy="183.1" r="5.6"/><circle cx="1372.4" cy="184.4" r="5.6"/><circle cx="1373.0" cy="182.2" r="5.6"/><circle cx="1373.6" cy="180.8" r="5.6"/><circle cx="1374.2" cy="177.9" r="5.6"/><circle cx="1374.7" cy="178.3" r="5.6"/><circle cx="1375.3" cy="179.8" r="5.6"/><circle cx="1375.9" cy="182.0" r="5.6"/><circle cx="1376.5" cy="182.0" r="5.6"/><circle cx="1377.1" cy="181.5" r="5.6"/><circle cx="1377.7" cy="181.1" r="5.6"/><circle cx="1378.3" cy="183.5" r="5.6"/><circle cx="1378.8" cy="182.4" r="5.6"/><circle cx="1379.4" cy="182.8" r="5.6"/><circle cx="1380.0" cy="182.9" r="5.6"/><circle cx="1380.6" cy="180.6" r="5.6"/><circle cx="1381.2" cy="179.3" r="5.6"/><circle cx="1381.8" cy="183.9" r="5.6"/><circle cx="1382.3" cy="183.8" r="5.6"/><circle cx="1382.9" cy="182.1" r="5.6"/><circle cx="1383.5" cy="181.6" r="5.6"/><circle cx="1384.1" cy="189.6" r="5.6"/><circle cx="1384.7" cy="180.9" r="5.6"/><circle cx="1385.3" cy="182.6" r="5.6"/><circle cx="1385.9" cy="184.2" r="5.6"/><circle cx="1386.4" cy="180.2" r="5.6"/><circle cx="1387.0" cy="184.1" r="5.6"/><circle cx="1387.6" cy="189.1" r="5.6"/><circle cx="1388.2" cy="186.7" r="5.6"/><circle cx="1388.8" cy="186.0" r="5.6"/><circle cx="1389.4" cy="186.1" r="5.6"/><circle cx="1389.9" cy="184.8" r="5.6"/><circle cx="1390.5" cy="187.5" r="5.6"/><circle cx="1391.1" cy="184.4" r="5.6"/><circle cx="1391.7" cy="183.8" r="5.6"/><circle cx="1392.3" cy="185.5" r="5.6"/><circle cx="1392.9" cy="188.0" r="5.6"/><circle cx="1393.5" cy="186.5" r="5.6"/><circle cx="1394.0" cy="187.7" r="5.6"/><circle cx="1394.6" cy="180.0" r="5.6"/><circle cx="1395.2" cy="189.6" r="5.6"/><circle cx="1395.8" cy="193.1" r="5.6"/><circle cx="1396.4" cy="190.3" r="5.6"/><circle cx="1397.0" cy="185.7" r="5.6"/><circle cx="1397.5" cy="184.4" r="5.6"/><circle cx="1398.1" cy="187.9" r="5.6"/><circle cx="1398.7" cy="184.4" r="5.6"/><circle cx="1399.3" cy="189.5" r="5.6"/><circle cx="1399.9" cy="186.1" r="5.6"/><circle cx="1400.5" cy="190.6" r="5.6"/><circle cx="1401.1" cy="192.0" r="5.6"/><circle cx="1401.6" cy="182.4" r="5.6"/><circle cx="1402.2" cy="189.3" r="5.6"/><circle cx="1402.8" cy="186.7" r="5.6"/><circle cx="1403.4" cy="184.8" r="5.6"/><circle cx="1404.0" cy="187.3" r="5.6"/><circle cx="1404.6" cy="188.7" r="5.6"/><circle cx="1405.1" cy="192.5" r="5.6"/><circle cx="1405.7" cy="185.4" r="5.6"/><circle cx="1406.3" cy="193.0" r="5.6"/><circle cx="1406.9" cy="196.1" r="5.6"/><circle cx="1407.5" cy="192.2" r="5.6"/><circle cx="1408.1" cy="192.3" r="5.6"/><circle cx="1408.7" cy="190.9" r="5.6"/><circle cx="1409.2" cy="187.7" r="5.6"/><circle cx="1409.8" cy="192.9" r="5.6"/><circle cx="1410.4" cy="192.7" r="5.6"/><circle cx="1411.0" cy="194.0" r="5.6"/><circle cx="1411.6" cy="199.5" r="5.6"/><circle cx="1412.2" cy="194.5" r="5.6"/><circle cx="1412.7" cy="193.8" r="5.6"/><circle cx="1413.3" cy="197.4" r="5.6"/><circle cx="1413.9" cy="189.2" r="5.6"/><circle cx="1414.5" cy="190.0" r="5.6"/><circle cx="1415.1" cy="192.5" r="5.6"/><circle cx="1415.7" cy="191.9" r="5.6"/><circle cx="1416.2" cy="196.1" r="5.6"/><circle cx="1416.8" cy="193.4" r="5.6"/><circle cx="1417.4" cy="199.6" r="5.6"/><circle cx="1418.0" cy="199.3" r="5.6"/><circle cx="1418.6" cy="197.4" r="5.6"/><circle cx="1419.2" cy="194.3" r="5.6"/><circle cx="1419.8" cy="197.4" r="5.6"/><circle cx="1420.3" cy="198.3" r="5.6"/><circle cx="1420.9" cy="193.1" r="5.6"/><circle cx="1421.5" cy="197.5" r="5.6"/><circle cx="1422.1" cy="198.8" r="5.6"/><circle cx="1422.7" cy="197.6" r="5.6"/><circle cx="1423.3" cy="201.8" r="5.6"/><circle cx="1423.8" cy="201.1" r="5.6"/><circle cx="1424.4" cy="195.4" r="5.6"/><circle cx="1425.0" cy="198.5" r="5.6"/><circle cx="1425.6" cy="196.0" r="5.6"/><circle cx="1426.2" cy="200.4" r="5.6"/><circle cx="1426.8" cy="196.4" r="5.6"/><circle cx="1427.4" cy="201.9" r="5.6"/><circle cx="1427.9" cy="200.7" r="5.6"/><circle cx="1428.5" cy="202.6" r="5.6"/><circle cx="1429.1" cy="199.7" r="5.6"/><circle cx="1429.7" cy="196.2" r="5.6"/><circle cx="1430.3" cy="205.8" r="5.6"/><circle cx="1430.9" cy="200.5" r="5.6"/><circle cx="1431.4" cy="205.3" r="5.6"/><circle cx="1432.0" cy="202.8" r="5.6"/><circle cx="1432.6" cy="203.8" r="5.6"/><circle cx="1433.2" cy="207.5" r="5.6"/><circle cx="1433.8" cy="203.4" r="5.6"/><circle cx="1434.4" cy="206.8" r="5.6"/><circle cx="1435.0" cy="198.8" r="5.6"/><circle cx="1435.5" cy="205.9" r="5.6"/><circle cx="1436.1" cy="203.0" r="5.6"/><circle cx="1436.7" cy="203.6" r="5.6"/><circle cx="1437.3" cy="204.3" r="5.6"/><circle cx="1437.9" cy="205.6" r="5.6"/><circle cx="1438.5" cy="209.7" r="5.6"/><circle cx="1439.0" cy="199.8" r="5.6"/><circle cx="1439.6" cy="205.6" r="5.6"/><circle cx="1440.2" cy="203.7" r="5.6"/><circle cx="1440.8" cy="209.5" r="5.6"/><circle cx="1441.4" cy="205.2" r="5.6"/><circle cx="1442.0" cy="208.1" r="5.6"/><circle cx="1442.6" cy="205.9" r="5.6"/><circle cx="1443.1" cy="209.3" r="5.6"/><circle cx="1443.7" cy="210.7" r="5.6"/><circle cx="1444.3" cy="206.9" r="5.6"/><circle cx="1444.9" cy="208.5" r="5.6"/><circle cx="1445.5" cy="204.5" r="5.6"/><circle cx="1446.1" cy="209.9" r="5.6"/><circle cx="1446.6" cy="211.8" r="5.6"/><circle cx="1447.2" cy="208.0" r="5.6"/><circle cx="1447.8" cy="213.2" r="5.6"/><circle cx="1448.4" cy="204.3" r="5.6"/><circle cx="1449.0" cy="205.2" r="5.6"/><circle cx="1449.6" cy="206.9" r="5.6"/><circle cx="1450.2" cy="209.8" r="5.6"/><circle cx="1450.7" cy="211.6" r="5.6"/><circle cx="1451.3" cy="211.7" r="5.6"/><circle cx="1451.9" cy="212.0" r="5.6"/><circle cx="1452.5" cy="214.7" r="5.6"/><circle cx="1453.1" cy="211.5" r="5.6"/><circle cx="1453.7" cy="209.6" r="5.6"/><circle cx="1454.2" cy="209.9" r="5.6"/><circle cx="1454.8" cy="220.0" r="5.6"/><circle cx="1455.4" cy="207.4" r="5.6"/><circle cx="1456.0" cy="214.0" r="5.6"/><circle cx="1456.6" cy="219.1" r="5.6"/><circle cx="1457.2" cy="216.6" r="5.6"/><circle cx="1457.8" cy="213.1" r="5.6"/><circle cx="1458.3" cy="215.9" r="5.6"/><circle cx="1458.9" cy="218.7" r="5.6"/><circle cx="1459.5" cy="220.1" r="5.6"/><circle cx="1460.1" cy="214.3" r="5.6"/><circle cx="1460.7" cy="219.4" r="5.6"/><circle cx="1461.3" cy="218.3" r="5.6"/><circle cx="1461.8" cy="221.1" r="5.6"/><circle cx="1462.4" cy="222.3" r="5.6"/><circle cx="1463.0" cy="217.6" r="5.6"/><circle cx="1463.6" cy="214.7" r="5.6"/><circle cx="1464.2" cy="220.4" r="5.6"/><circle cx="1464.8" cy="224.8" r="5.6"/><circle cx="1465.4" cy="221.9" r="5.6"/><circle cx="1465.9" cy="221.0" r="5.6"/><circle cx="1466.5" cy="227.6" r="5.6"/><circle cx="1467.1" cy="218.0" r="5.6"/><circle cx="1467.7" cy="224.0" r="5.6"/><circle cx="1468.3" cy="220.0" r="5.6"/><circle cx="1468.9" cy="222.2" r="5.6"/><circle cx="1469.4" cy="222.6" r="5.6"/><circle cx="1470.0" cy="227.1" r="5.6"/><circle cx="1470.6" cy="220.3" r="5.6"/><circle cx="1471.2" cy="221.9" r="5.6"/><circle cx="1471.8" cy="219.1" r="5.6"/><circle cx="1472.4" cy="225.5" r="5.6"/><circle cx="1472.9" cy="223.1" r="5.6"/><circle cx="1473.5" cy="226.0" r="5.6"/><circle cx="1474.1" cy="222.0" r="5.6"/><circle cx="1474.7" cy="224.5" r="5.6"/><circle cx="1475.3" cy="228.9" r="5.6"/><circle cx="1475.9" cy="225.7" r="5.6"/><circle cx="1476.5" cy="228.4" r="5.6"/><circle cx="1477.0" cy="228.4" r="5.6"/><circle cx="1477.6" cy="226.2" r="5.6"/><circle cx="1478.2" cy="223.1" r="5.6"/><circle cx="1478.8" cy="230.8" r="5.6"/><circle cx="1479.4" cy="228.8" r="5.6"/><circle cx="1480.0" cy="231.5" r="5.6"/><circle cx="1480.5" cy="223.2" r="5.6"/><circle cx="1481.1" cy="224.6" r="5.6"/><circle cx="1481.7" cy="223.5" r="5.6"/><circle cx="1482.3" cy="227.5" r="5.6"/><circle cx="1482.9" cy="233.4" r="5.6"/><circle cx="1483.5" cy="232.4" r="5.6"/><circle cx="1484.1" cy="231.0" r="5.6"/><circle cx="1484.6" cy="231.9" r="5.6"/><circle cx="1485.2" cy="234.0" r="5.6"/><circle cx="1485.8" cy="231.3" r="5.6"/><circle cx="1486.4" cy="233.7" r="5.6"/><circle cx="1487.0" cy="233.3" r="5.6"/><circle cx="1487.6" cy="226.9" r="5.6"/><circle cx="1488.1" cy="232.5" r="5.6"/><circle cx="1488.7" cy="237.9" r="5.6"/><circle cx="1489.3" cy="233.2" r="5.6"/><circle cx="1489.9" cy="234.2" r="5.6"/><circle cx="1490.5" cy="233.2" r="5.6"/><circle cx="1491.1" cy="234.0" r="5.6"/><circle cx="1491.7" cy="239.0" r="5.6"/><circle cx="1492.2" cy="235.3" r="5.6"/><circle cx="1492.8" cy="233.5" r="5.6"/><circle cx="1493.4" cy="227.8" r="5.6"/><circle cx="1494.0" cy="235.5" r="5.6"/><circle cx="1494.6" cy="231.8" r="5.6"/><circle cx="1495.2" cy="232.6" r="5.6"/><circle cx="1495.7" cy="240.5" r="5.6"/><circle cx="1496.3" cy="240.6" r="5.6"/><circle cx="1496.9" cy="233.3" r="5.6"/><circle cx="1497.5" cy="241.7" r="5.6"/><circle cx="1498.1" cy="240.9" r="5.6"/><circle cx="1498.7" cy="237.7" r="5.6"/><circle cx="1499.3" cy="242.4" r="5.6"/><circle cx="1499.8" cy="235.9" r="5.6"/><circle cx="1500.4" cy="237.5" r="5.6"/><circle cx="1501.0" cy="237.2" r="5.6"/><circle cx="1501.6" cy="238.5" r="5.6"/><circle cx="1502.2" cy="244.6" r="5.6"/><circle cx="1502.8" cy="238.6" r="5.6"/><circle cx="1503.3" cy="239.4" r="5.6"/><circle cx="1503.9" cy="240.4" r="5.6"/><circle cx="1504.5" cy="244.0" r="5.6"/><circle cx="1505.1" cy="242.8" r="5.6"/><circle cx="1505.7" cy="246.7" r="5.6"/><circle cx="1506.3" cy="242.5" r="5.6"/><circle cx="1506.9" cy="241.1" r="5.6"/><circle cx="1507.4" cy="243.8" r="5.6"/><circle cx="1508.0" cy="245.7" r="5.6"/><circle cx="1508.6" cy="243.2" r="5.6"/><circle cx="1509.2" cy="247.1" r="5.6"/><circle cx="1509.8" cy="251.9" r="5.6"/><circle cx="1510.4" cy="245.3" r="5.6"/><circle cx="1510.9" cy="247.4" r="5.6"/><circle cx="1511.5" cy="251.6" r="5.6"/><circle cx="1512.1" cy="246.1" r="5.6"/><circle cx="1512.7" cy="245.9" r="5.6"/><circle cx="1513.3" cy="245.5" r="5.6"/><circle cx="1513.9" cy="250.2" r="5.6"/><circle cx="1514.5" cy="250.8" r="5.6"/><circle cx="1515.0" cy="249.3" r="5.6"/><circle cx="1515.6" cy="250.2" r="5.6"/><circle cx="1516.2" cy="254.1" r="5.6"/><circle cx="1516.8" cy="253.2" r="5.6"/><circle cx="1517.4" cy="247.0" r="5.6"/><circle cx="1518.0" cy="251.4" r="5.6"/><circle cx="1518.5" cy="252.0" r="5.6"/><circle cx="1519.1" cy="254.2" r="5.6"/><circle cx="1519.7" cy="251.8" r="5.6"/><circle cx="1520.3" cy="250.9" r="5.6"/><circle cx="1520.9" cy="251.7" r="5.6"/><circle cx="1521.5" cy="248.2" r="5.6"/><circle cx="1522.1" cy="253.7" r="5.6"/><circle cx="1522.6" cy="252.3" r="5.6"/><circle cx="1523.2" cy="255.8" r="5.6"/><circle cx="1523.8" cy="251.8" r="5.6"/><circle cx="1524.4" cy="253.8" r="5.6"/><circle cx="1525.0" cy="252.6" r="5.6"/><circle cx="1525.6" cy="252.6" r="5.6"/><circle cx="1526.1" cy="258.1" r="5.6"/><circle cx="1526.7" cy="255.0" r="5.6"/><circle cx="1527.3" cy="258.0" r="5.6"/><circle cx="1527.9" cy="253.8" r="5.6"/><circle cx="1528.5" cy="257.6" r="5.6"/><circle cx="1529.1" cy="252.8" r="5.6"/><circle cx="1529.6" cy="256.6" r="5.6"/><circle cx="1530.2" cy="256.9" r="5.6"/><circle cx="1530.8" cy="260.3" r="5.6"/><circle cx="1531.4" cy="259.5" r="5.6"/><circle cx="1532.0" cy="258.8" r="5.6"/><circle cx="1532.6" cy="262.0" r="5.6"/><circle cx="1533.2" cy="260.5" r="5.6"/><circle cx="1533.7" cy="261.8" r="5.6"/><circle cx="1534.3" cy="262.7" r="5.6"/><circle cx="1534.9" cy="260.6" r="5.6"/><circle cx="1535.5" cy="260.3" r="5.6"/><circle cx="1536.1" cy="262.4" r="5.6"/><circle cx="1536.7" cy="260.5" r="5.6"/><circle cx="1537.2" cy="263.1" r="5.6"/><circle cx="1537.8" cy="265.5" r="5.6"/><circle cx="1538.4" cy="265.1" r="5.6"/><circle cx="1539.0" cy="261.8" r="5.6"/><circle cx="1539.6" cy="259.4" r="5.6"/><circle cx="1540.2" cy="263.3" r="5.6"/><circle cx="1540.8" cy="263.3" r="5.6"/><circle cx="1541.3" cy="267.2" r="5.6"/><circle cx="1541.9" cy="263.1" r="5.6"/><circle cx="1542.5" cy="263.9" r="5.6"/><circle cx="1543.1" cy="266.9" r="5.6"/><circle cx="1543.7" cy="263.6" r="5.6"/><circle cx="1544.3" cy="264.8" r="5.6"/><circle cx="1544.8" cy="270.5" r="5.6"/><circle cx="1545.4" cy="270.1" r="5.6"/><circle cx="1546.0" cy="267.8" r="5.6"/><circle cx="1546.6" cy="267.0" r="5.6"/><circle cx="1547.2" cy="263.7" r="5.6"/><circle cx="1547.8" cy="268.3" r="5.6"/><circle cx="1548.4" cy="267.1" r="5.6"/><circle cx="1548.9" cy="267.8" r="5.6"/><circle cx="1549.5" cy="265.8" r="5.6"/><circle cx="1550.1" cy="267.5" r="5.6"/><circle cx="1550.7" cy="267.2" r="5.6"/><circle cx="1551.3" cy="268.8" r="5.6"/><circle cx="1551.9" cy="272.2" r="5.6"/><circle cx="1552.4" cy="269.3" r="5.6"/><circle cx="1553.0" cy="263.7" r="5.6"/><circle cx="1553.6" cy="265.8" r="5.6"/><circle cx="1554.2" cy="264.2" r="5.6"/><circle cx="1554.8" cy="266.6" r="5.6"/><circle cx="1555.4" cy="270.7" r="5.6"/><circle cx="1556.0" cy="270.4" r="5.6"/><circle cx="1556.5" cy="267.6" r="5.6"/><circle cx="1557.1" cy="270.3" r="5.6"/><circle cx="1557.7" cy="267.4" r="5.6"/><circle cx="1558.3" cy="265.6" r="5.6"/><circle cx="1558.9" cy="265.8" r="5.6"/><circle cx="1559.5" cy="267.4" r="5.6"/><circle cx="1560.0" cy="274.1" r="5.6"/><circle cx="1560.6" cy="266.2" r="5.6"/><circle cx="1561.2" cy="273.8" r="5.6"/><circle cx="1561.8" cy="274.1" r="5.6"/><circle cx="1562.4" cy="269.8" r="5.6"/><circle cx="1563.0" cy="270.2" r="5.6"/><circle cx="1563.6" cy="268.7" r="5.6"/><circle cx="1564.1" cy="270.4" r="5.6"/><circle cx="1564.7" cy="272.4" r="5.6"/><circle cx="1565.3" cy="270.6" r="5.6"/><circle cx="1565.9" cy="273.4" r="5.6"/><circle cx="1566.5" cy="274.0" r="5.6"/><circle cx="1567.1" cy="271.5" r="5.6"/><circle cx="1567.6" cy="271.5" r="5.6"/><circle cx="1568.2" cy="270.3" r="5.6"/><circle cx="1568.8" cy="271.5" r="5.6"/><circle cx="1569.4" cy="267.2" r="5.6"/><circle cx="1570.0" cy="271.6" r="5.6"/><circle cx="1570.6" cy="270.9" r="5.6"/><circle cx="1571.2" cy="267.8" r="5.6"/><circle cx="1571.7" cy="276.5" r="5.6"/><circle cx="1572.3" cy="267.3" r="5.6"/><circle cx="1572.9" cy="267.6" r="5.6"/><circle cx="1573.5" cy="270.8" r="5.6"/><circle cx="1574.1" cy="264.3" r="5.6"/><circle cx="1574.7" cy="267.5" r="5.6"/><circle cx="1575.2" cy="265.3" r="5.6"/><circle cx="1575.8" cy="266.9" r="5.6"/><circle cx="1576.4" cy="269.2" r="5.6"/><circle cx="1577.0" cy="270.4" r="5.6"/><circle cx="1577.6" cy="272.6" r="5.6"/><circle cx="1578.2" cy="271.6" r="5.6"/><circle cx="1578.7" cy="272.6" r="5.6"/><circle cx="1579.3" cy="270.8" r="5.6"/><circle cx="1579.9" cy="267.6" r="5.6"/><circle cx="1580.5" cy="272.1" r="5.6"/><circle cx="1581.1" cy="267.4" r="5.6"/><circle cx="1581.7" cy="266.9" r="5.6"/><circle cx="1582.3" cy="273.1" r="5.6"/><circle cx="1582.8" cy="270.8" r="5.6"/><circle cx="1583.4" cy="269.1" r="5.6"/><circle cx="1584.0" cy="270.6" r="5.6"/><circle cx="1584.6" cy="270.9" r="5.6"/><circle cx="1585.2" cy="264.4" r="5.6"/><circle cx="1585.8" cy="268.0" r="5.6"/><circle cx="1586.3" cy="264.8" r="5.6"/><circle cx="1586.9" cy="268.6" r="5.6"/><circle cx="1587.5" cy="266.2" r="5.6"/><circle cx="1588.1" cy="272.1" r="5.6"/><circle cx="1588.7" cy="269.7" r="5.6"/><circle cx="1589.3" cy="265.8" r="5.6"/><circle cx="1589.9" cy="268.1" r="5.6"/><circle cx="1590.4" cy="264.7" r="5.6"/><circle cx="1591.0" cy="268.4" r="5.6"/><circle cx="1591.6" cy="269.9" r="5.6"/><circle cx="1592.2" cy="269.2" r="5.6"/><circle cx="1592.8" cy="262.9" r="5.6"/><circle cx="1593.4" cy="267.6" r="5.6"/><circle cx="1593.9" cy="270.2" r="5.6"/><circle cx="1594.5" cy="269.7" r="5.6"/><circle cx="1595.1" cy="272.3" r="5.6"/><circle cx="1595.7" cy="265.4" r="5.6"/><circle cx="1596.3" cy="270.8" r="5.6"/><circle cx="1596.9" cy="267.6" r="5.6"/><circle cx="1597.5" cy="270.3" r="5.6"/><circle cx="1598.0" cy="271.1" r="5.6"/><circle cx="1598.6" cy="272.2" r="5.6"/><circle cx="1599.2" cy="268.8" r="5.6"/><circle cx="1599.8" cy="271.3" r="5.6"/><circle cx="1600.4" cy="267.7" r="5.6"/><circle cx="1601.0" cy="267.3" r="5.6"/><circle cx="1601.5" cy="273.4" r="5.6"/><circle cx="1602.1" cy="272.0" r="5.6"/><circle cx="1602.7" cy="267.5" r="5.6"/><circle cx="1603.3" cy="269.8" r="5.6"/></g>
<g fill="none" stroke="#00e600" stroke-width="0.9"><circle cx="958.6" cy="499.0" r="5.6"/><circle cx="959.2" cy="503.1" r="5.6"/><circle cx="959.8" cy="501.5" r="5.6"/><circle cx="960.4" cy="500.6" r="5.6"/><circle cx="960.9" cy="493.1" r="5.6"/><circle cx="961.5" cy="498.0" r="5.6"/><circle cx="962.1" cy="499.7" r="5.6"/><circle cx="962.7" cy="499.6" r="5.6"/><circle cx="963.3" cy="499.8" r="5.6"/><circle cx="963.9" cy="498.1" r="5.6"/><circle cx="964.5" cy="504.1" r="5.6"/><circle cx="965.0" cy="503.5" r="5.6"/><circle cx="965.6" cy="499.3" r="5.6"/><circle cx="966.2" cy="497.0" r="5.6"/><circle cx="966.8" cy="506.2" r="5.6"/><circle cx="967.4" cy="499.1" r="5.6"/><circle cx="968.0" cy="504.6" r="5.6"/><circle cx="968.6" cy="507.1" r="5.6"/><circle cx="969.2" cy="499.3" r="5.6"/><circle cx="969.7" cy="503.4" r="5.6"/><circle cx="970.3" cy="502.1" r="5.6"/><circle cx="970.9" cy="505.1" r="5.6"/><circle cx="971.5" cy="505.1" r="5.6"/><circle cx="972.1" cy="510.4" r="5.6"/><circle cx="972.7" cy="507.0" r="5.6"/><circle cx="973.3" cy="505.9" r="5.6"/><circle cx="973.8" cy="509.8" r="5.6"/><circle cx="974.4" cy="506.3" r="5.6"/><circle cx="975.0" cy="506.6" r="5.6"/><circle cx="975.6" cy="514.7" r="5.6"/><circle cx="976.2" cy="506.4" r="5.6"/><circle cx="976.8" cy="508.0" r="5.6"/><circle cx="977.4" cy="510.1" r="5.6"/><circle cx="977.9" cy="507.4" r="5.6"/><circle cx="978.5" cy="504.9" r="5.6"/><circle cx="979.1" cy="514.6" r="5.6"/><circle cx="979.7" cy="509.8" r="5.6"/><circle cx="980.3" cy="511.0" r="5.6"/><circle cx="980.9" cy="511.9" r="5.6"/><circle cx="981.5" cy="510.6" r="5.6"/><circle cx="982.1" cy="510.8" r="5.6"/><circle cx="982.6" cy="514.8" r="5.6"/><circle cx="983.2" cy="521.7" r="5.6"/><circle cx="983.8" cy="517.3" r="5.6"/><circle cx="984.4" cy="517.7" r="5.6"/><circle cx="985.0" cy="511.5" r="5.6"/><circle cx="985.6" cy="516.1" r="5.6"/><circle cx="986.2" cy="513.1" r="5.6"/><circle cx="986.7" cy="519.0" r="5.6"/><circle cx="987.3" cy="516.4" r="5.6"/><circle cx="987.9" cy="517.5" r="5.6"/><circle cx="988.5" cy="517.4" r="5.6"/><circle cx="989.1" cy="516.2" r="5.6"/><circle cx="989.7" cy="513.7" r="5.6"/><circle cx="990.3" cy="520.1" r="5.6"/><circle cx="990.8" cy="514.6" r="5.6"/><circle cx="991.4" cy="515.4" r="5.6"/><circle cx="992.0" cy="518.2" r="5.6"/><circle cx="992.6" cy="517.2" r="5.6"/><circle cx="993.2" cy="520.3" r="5.6"/><circle cx="993.8" cy="522.6" r="5.6"/><circle cx="994.4" cy="520.6" r="5.6"/><circle cx="995.0" cy="520.7" r="5.6"/><circle cx="995.5" cy="520.4" r="5.6"/><circle cx="996.1" cy="523.0" r="5.6"/><circle cx="996.7" cy="515.4" r="5.6"/><circle cx="997.3" cy="522.0" r="5.6"/><circle cx="997.9" cy="518.4" r="5.6"/><circle cx="998.5" cy="517.7" r="5.6"/><circle cx="999.1" cy="521.5" r="5.6"/><circle cx="999.6" cy="520.6" r="5.6"/><circle cx="1000.2" cy="523.6" r="5.6"/><circle cx="1000.8" cy="525.4" r="5.6"/><circle cx="1001.4" cy="515.6" r="5.6"/><circle cx="1002.0" cy="522.4" r="5.6"/><circle cx="1002.6" cy="528.5" r="5.6"/><circle cx="1003.2" cy="525.6" r="5.6"/><circle cx="1003.7" cy="527.5" r="5.6"/><circle cx="1004.3" cy="523.8" r="5.6"/><circle cx="1004.9" cy="519.6" r="5.6"/><circle cx="1005.5" cy="520.8" r="5.6"/><circle cx="1006.1" cy="526.4" r="5.6"/><circle cx="1006.7" cy="527.3" r="5.6"/><circle cx="1007.3" cy="522.7" r="5.6"/><circle cx="1007.9" cy="524.3" r="5.6"/><circle cx="1008.4" cy="526.1" r="5.6"/><circle cx="1009.0" cy="520.5" r="5.6"/><circle cx="1009.6" cy="524.9" r="5.6"/><circle cx="1010.2" cy="530.9" r="5.6"/><circle cx="1010.8" cy="532.8" r="5.6"/><circle cx="1011.4" cy="526.5" r="5.6"/><circle cx="1012.0" cy="532.4" r="5.6"/><circle cx="1012.5" cy="525.8" r="5.6"/><circle cx="1013.1" cy="525.3" r="5.6"/><circle cx="1013.7" cy="521.5" r="5.6"/><circle cx="1014.3" cy="531.1" r="5.6"/><circle cx="1014.9" cy="527.5" r="5.6"/><circle cx="1015.5" cy="535.7" r="5.6"/><circle cx="1016.1" cy="530.2" r="5.6"/><circle cx="1016.6" cy="530.1" r="5.6"/><circle cx="1017.2" cy="524.7" r="5.6"/><circle cx="1017.8" cy="534.6" r="5.6"/><circle cx="1018.4" cy="529.5" r="5.6"/><circle cx="1019.0" cy="530.4" r="5.6"/><circle cx="1019.6" cy="524.8" r="5.6"/><circle cx="1020.2" cy="534.2" r="5.6"/><circle cx="1020.8" cy="534.8" r="5.6"/><circle cx="1021.3" cy="530.5" r="5.6"/><circle cx="1021.9" cy="532.9" r="5.6"/><circle cx="1022.5" cy="534.1" r="5.6"/><circle cx="1023.1" cy="536.1" r="5.6"/><circle cx="1023.7" cy="533.9" r="5.6"/><circle cx="1024.3" cy="539.0" r="5.6"/><circle cx="1024.9" cy="533.6" r="5.6"/><circle cx="1025.4" cy="532.9" r="5.6"/><circle cx="1026.0" cy="533.6" r="5.6"/><circle cx="1026.6" cy="528.0" r="5.6"/><circle cx="1027.2" cy="533.4" r="5.6"/><circle cx="1027.8" cy="539.0" r="5.6"/><circle cx="1028.4" cy="537.2" r="5.6"/><circle cx="1029.0" cy="534.4" r="5.6"/><circle cx="1029.5" cy="538.1" r="5.6"/><circle cx="1030.1" cy="531.6" r="5.6"/><circle cx="1030.7" cy="537.0" r="5.6"/><circle cx="1031.3" cy="539.7" r="5.6"/><circle cx="1031.9" cy="540.5" r="5.6"/><circle cx="1032.5" cy="536.6" r="5.6"/><circle cx="1033.1" cy="541.8" r="5.6"/><circle cx="1033.7" cy="545.0" r="5.6"/><circle cx="1034.2" cy="538.7" r="5.6"/><circle cx="1034.8" cy="542.4" r="5.6"/><circle cx="1035.4" cy="536.1" r="5.6"/><circle cx="1036.0" cy="535.3" r="5.6"/><circle cx="1036.6" cy="543.1" r="5.6"/><circle cx="1037.2" cy="541.8" r="5.6"/><circle cx="1037.8" cy="542.6" r="5.6"/><circle cx="1038.3" cy="540.7" r="5.6"/><circle cx="1038.9" cy="541.9" r="5.6"/><circle cx="1039.5" cy="545.4" r="5.6"/><circle cx="1040.1" cy="548.4" r="5.6"/><circle cx="1040.7" cy="543.1" r="5.6"/><circle cx="1041.3" cy="539.3" r="5.6"/><circle cx="1041.9" cy="548.2" r="5.6"/><circle cx="1042.4" cy="546.6" r="5.6"/><circle cx="1043.0" cy="547.1" r="5.6"/><circle cx="1043.6" cy="546.0" r="5.6"/><circle cx="1044.2" cy="552.6" r="5.6"/><circle cx="1044.8" cy="546.4" r="5.6"/><circle cx="1045.4" cy="548.1" r="5.6"/><circle cx="1046.0" cy="541.6" r="5.6"/><circle cx="1046.6" cy="545.6" r="5.6"/><circle cx="1047.1" cy="545.7" r="5.6"/><circle cx="1047.7" cy="547.9" r="5.6"/><circle cx="1048.3" cy="549.4" r="5.6"/><circle cx="1048.9" cy="546.6" r="5.6"/><circle cx="1049.5" cy="554.1" r="5.6"/><circle cx="1050.1" cy="546.4" r="5.6"/><circle cx="1050.7" cy="548.5" r="5.6"/><circle cx="1051.2" cy="550.9" r="5.6"/><circle cx="1051.8" cy="546.9" r="5.6"/><circle cx="1052.4" cy="552.6" r="5.6"/><circle cx="1053.0" cy="553.1" r="5.6"/><circle cx="1053.6" cy="550.8" r="5.6"/><circle cx="1054.2" cy="557.6" r="5.6"/><circle cx="1054.8" cy="552.6" r="5.6"/><circle cx="1055.3" cy="553.6" r="5.6"/><circle cx="1055.9" cy="550.4" r="5.6"/><circle cx="1056.5" cy="548.7" r="5.6"/><circle cx="1057.1" cy="552.1" r="5.6"/><circle cx="1057.7" cy="553.3" r="5.6"/><circle cx="1058.3" cy="553.3" r="5.6"/><circle cx="1058.9" cy="557.3" r="5.6"/><circle cx="1059.5" cy="548.5" r="5.6"/><circle cx="1060.0" cy="552.5" r="5.6"/><circle cx="1060.6" cy="550.9" r="5.6"/><circle cx="1061.2" cy="560.5" r="5.6"/><circle cx="1061.8" cy="555.3" r="5.6"/><circle cx="1062.4" cy="555.9" r="5.6"/><circle cx="1063.0" cy="554.6" r="5.6"/><circle cx="1063.6" cy="560.8" r="5.6"/><circle cx="1064.1" cy="557.4" r="5.6"/><circle cx="1064.7" cy="559.6" r="5.6"/><circle cx="1065.3" cy="553.5" r="5.6"/><circle cx="1065.9" cy="563.2" r="5.6"/><circle cx="1066.5" cy="561.4" r="5.6"/><circle cx="1067.1" cy="562.2" r="5.6"/><circle cx="1067.7" cy="564.6" r="5.6"/><circle cx="1068.2" cy="560.9" r="5.6"/><circle cx="1068.8" cy="561.4" r="5.6"/><circle cx="1069.4" cy="564.4" r="5.6"/><circle cx="1070.0" cy="563.9" r="5.6"/><circle cx="1070.6" cy="562.4" r="5.6"/><circle cx="1071.2" cy="563.7" r="5.6"/><circle cx="1071.8" cy="562.5" r="5.6"/><circle cx="1072.4" cy="566.5" r="5.6"/><circle cx="1072.9" cy="567.6" r="5.6"/><circle cx="1073.5" cy="565.3" r="5.6"/><circle cx="1074.1" cy="571.2" r="5.6"/><circle cx="1074.7" cy="561.7" r="5.6"/><circle cx="1075.3" cy="565.9" r="5.6"/><circle cx="1075.9" cy="572.0" r="5.6"/><circle cx="1076.5" cy="566.3" r="5.6"/><circle cx="1077.0" cy="563.3" r="5.6"/><circle cx="1077.6" cy="572.5" r="5.6"/><circle cx="1078.2" cy="570.5" r="5.6"/><circle cx="1078.8" cy="565.9" r="5.6"/><circle cx="1079.4" cy="572.0" r="5.6"/><circle cx="1080.0" cy="567.3" r="5.6"/><circle cx="1080.6" cy="566.8" r="5.6"/><circle cx="1081.1" cy="570.7" r="5.6"/><circle cx="1081.7" cy="570.3" r="5.6"/><circle cx="1082.3" cy="568.9" r="5.6"/><circle cx="1082.9" cy="571.5" r="5.6"/><circle cx="1083.5" cy="570.2" r="5.6"/><circle cx="1084.1" cy="573.7" r="5.6"/><circle cx="1084.7" cy="574.0" r="5.6"/><circle cx="1085.3" cy="576.7" r="5.6"/><circle cx="1085.8" cy="573.7" r="5.6"/><circle cx="1086.4" cy="571.6" r="5.6"/><circle cx="1087.0" cy="572.1" r="5.6"/><circle cx="1087.6" cy="575.7" r="5.6"/><circle cx="1088.2" cy="581.4" r="5.6"/><circle cx="1088.8" cy="579.9" r="5.6"/><circle cx="1089.4" cy="576.0" r="5.6"/><circle cx="1089.9" cy="581.1" r="5.6"/><circle cx="1090.5" cy="575.5" r="5.6"/><circle cx="1091.1" cy="582.3" r="5.6"/><circle cx="1091.7" cy="578.7" r="5.6"/><circle cx="1092.3" cy="582.6" r="5.6"/><circle cx="1092.9" cy="582.6" r="5.6"/><circle cx="1093.5" cy="580.5" r="5.6"/><circle cx="1094.0" cy="582.7" r="5.6"/><circle cx="1094.6" cy="579.2" r="5.6"/><circle cx="1095.2" cy="582.6" r="5.6"/><circle cx="1095.8" cy="586.4" r="5.6"/><circle cx="1096.4" cy="595.7" r="5.6"/><circle cx="1097.0" cy="586.3" r="5.6"/><circle cx="1097.6" cy="585.0" r="5.6"/><circle cx="1098.2" cy="582.3" r="5.6"/><circle cx="1098.7" cy="588.8" r="5.6"/><circle cx="1099.3" cy="581.4" r="5.6"/><circle cx="1099.9" cy="584.4" r="5.6"/><circle cx="1100.5" cy="588.2" r="5.6"/><circle cx="1101.1" cy="584.2" r="5.6"/><circle cx="1101.7" cy="592.7" r="5.6"/><circle cx="1102.3" cy="591.9" r="5.6"/><circle cx="1102.8" cy="587.5" r="5.6"/><circle cx="1103.4" cy="588.0" r="5.6"/><circle cx="1104.0" cy="586.3" r="5.6"/><circle cx="1104.6" cy="586.6" r="5.6"/><circle cx="1105.2" cy="592.4" r="5.6"/><circle cx="1105.8" cy="593.4" r="5.6"/><circle cx="1106.4" cy="593.1" r="5.6"/><circle cx="1106.9" cy="593.3" r="5.6"/><circle cx="1107.5" cy="591.4" r="5.6"/><circle cx="1108.1" cy="594.6" r="5.6"/><circle cx="1108.7" cy="589.7" r="5.6"/><circle cx="1109.3" cy="594.5" r="5.6"/><circle cx="1109.9" cy="599.2" r="5.6"/><circle cx="1110.5" cy="599.3" r="5.6"/><circle cx="1111.1" cy="594.6" r="5.6"/><circle cx="1111.6" cy="595.4" r="5.6"/><circle cx="1112.2" cy="600.9" r="5.6"/><circle cx="1112.8" cy="602.5" r="5.6"/><circle cx="1113.4" cy="593.4" r="5.6"/><circle cx="1114.0" cy="597.0" r="5.6"/><circle cx="1114.6" cy="599.4" r="5.6"/><circle cx="1115.2" cy="602.7" r="5.6"/><circle cx="1115.7" cy="597.2" r="5.6"/><circle cx="1116.3" cy="601.9" r="5.6"/><circle cx="1116.9" cy="599.6" r="5.6"/><circle cx="1117.5" cy="607.9" r="5.6"/><circle cx="1118.1" cy="602.7" r="5.6"/><circle cx="1118.7" cy="601.5" r="5.6"/><circle cx="1119.3" cy="601.3" r="5.6"/><circle cx="1119.8" cy="605.8" r="5.6"/><circle cx="1120.4" cy="605.2" r="5.6"/><circle cx="1121.0" cy="600.5" r="5.6"/><circle cx="1121.6" cy="604.7" r="5.6"/><circle cx="1122.2" cy="600.6" r="5.6"/><circle cx="1122.8" cy="602.7" r="5.6"/><circle cx="1123.4" cy="601.5" r="5.6"/><circle cx="1124.0" cy="601.9" r="5.6"/><circle cx="1124.5" cy="604.2" r="5.6"/><circle cx="1125.1" cy="603.7" r="5.6"/><circle cx="1125.7" cy="608.5" r="5.6"/><circle cx="1126.3" cy="609.7" r="5.6"/><circle cx="1126.9" cy="607.1" r="5.6"/><circle cx="1127.5" cy="604.9" r="5.6"/><circle cx="1128.1" cy="610.9" r="5.6"/><circle cx="1128.6" cy="603.1" r="5.6"/><circle cx="1129.2" cy="603.7" r="5.6"/><circle cx="1129.8" cy="611.8" r="5.6"/><circle cx="1130.4" cy="612.0" r="5.6"/><circle cx="1131.0" cy="613.3" r="5.6"/><circle cx="1131.6" cy="610.2" r="5.6"/><circle cx="1132.2" cy="607.5" r="5.6"/><circle cx="1132.7" cy="610.1" r="5.6"/><circle cx="1133.3" cy="613.6" r="5.6"/><circle cx="1133.9" cy="610.0" r="5.6"/><circle cx="1134.5" cy="610.6" r="5.6"/><circle cx="1135.1" cy="608.9" r="5.6"/><circle cx="1135.7" cy="609.9" r="5.6"/><circle cx="1136.3" cy="616.1" r="5.6"/><circle cx="1136.9" cy="615.3" r="5.6"/><circle cx="1137.4" cy="610.9" r="5.6"/><circle cx="1138.0" cy="611.5" r="5.6"/><circle cx="1138.6" cy="613.3" r="5.6"/><circle cx="1139.2" cy="616.8" r="5.6"/><circle cx="1139.8" cy="612.1" r="5.6"/><circle cx="1140.4" cy="615.3" r="5.6"/><circle cx="1141.0" cy="609.9" r="5.6"/><circle cx="1141.5" cy="612.7" r="5.6"/><circle cx="1142.1" cy="617.9" r="5.6"/><circle cx="1142.7" cy="619.6" r="5.6"/><circle cx="1143.3" cy="613.8" r="5.6"/><circle cx="1143.9" cy="615.2" r="5.6"/><circle cx="1144.5" cy="620.1" r="5.6"/><circle cx="1145.1" cy="616.8" r="5.6"/><circle cx="1145.6" cy="616.6" r="5.6"/><circle cx="1146.2" cy="620.0" r="5.6"/><circle cx="1146.8" cy="619.3" r="5.6"/><circle cx="1147.4" cy="622.1" r="5.6"/><circle cx="1148.0" cy="621.4" r="5.6"/><circle cx="1148.6" cy="617.7" r="5.6"/><circle cx="1149.2" cy="619.2" r="5.6"/><circle cx="1149.8" cy="619.5" r="5.6"/><circle cx="1150.3" cy="615.9" r="5.6"/><circle cx="1150.9" cy="617.2" r="5.6"/><circle cx="1151.5" cy="623.0" r="5.6"/><circle cx="1152.1" cy="615.7" r="5.6"/><circle cx="1152.7" cy="623.4" r="5.6"/><circle cx="1153.3" cy="621.5" r="5.6"/><circle cx="1153.9" cy="620.3" r="5.6"/><circle cx="1154.4" cy="622.4" r="5.6"/><circle cx="1155.0" cy="622.3" r="5.6"/><circle cx="1155.6" cy="624.5" r="5.6"/><circle cx="1156.2" cy="619.9" r="5.6"/><circle cx="1156.8" cy="620.5" r="5.6"/><circle cx="1157.4" cy="620.4" r="5.6"/><circle cx="1158.0" cy="626.6" r="5.6"/><circle cx="1158.5" cy="623.9" r="5.6"/><circle cx="1159.1" cy="618.5" r="5.6"/><circle cx="1159.7" cy="620.2" r="5.6"/><circle cx="1160.3" cy="619.0" r="5.6"/><circle cx="1160.9" cy="621.1" r="5.6"/><circle cx="1161.5" cy="621.6" r="5.6"/><circle cx="1162.1" cy="627.5" r="5.6"/><circle cx="1162.7" cy="615.4" r="5.6"/><circle cx="1163.2" cy="623.6" r="5.6"/><circle cx="1163.8" cy="621.8" r="5.6"/><circle cx="1164.4" cy="618.3" r="5.6"/><circle cx="1165.0" cy="619.7" r="5.6"/><circle cx="1165.6" cy="618.5" r="5.6"/><circle cx="1166.2" cy="619.9" r="5.6"/><circle cx="1166.8" cy="622.5" r="5.6"/><circle cx="1167.3" cy="614.9" r="5.6"/><circle cx="1167.9" cy="622.8" r="5.6"/><circle cx="1168.5" cy="617.7" r="5.6"/><circle cx="1169.1" cy="622.8" r="5.6"/><circle cx="1169.7" cy="619.3" r="5.6"/><circle cx="1170.3" cy="621.4" r="5.6"/><circle cx="1170.9" cy="619.1" r="5.6"/><circle cx="1171.4" cy="620.2" r="5.6"/><circle cx="1172.0" cy="616.8" r="5.6"/><circle cx="1172.6" cy="613.8" r="5.6"/><circle cx="1173.2" cy="617.8" r="5.6"/><circle cx="1173.8" cy="617.4" r="5.6"/><circle cx="1174.4" cy="621.0" r="5.6"/><circle cx="1175.0" cy="608.6" r="5.6"/><circle cx="1175.5" cy="613.3" r="5.6"/><circle cx="1176.1" cy="616.5" r="5.6"/><circle cx="1176.7" cy="609.2" r="5.6"/><circle cx="1177.3" cy="611.6" r="5.6"/><circle cx="1177.9" cy="617.8" r="5.6"/><circle cx="1178.5" cy="615.2" r="5.6"/><circle cx="1179.1" cy="607.9" r="5.6"/><circle cx="1179.7" cy="613.9" r="5.6"/><circle cx="1180.2" cy="612.5" r="5.6"/><circle cx="1180.8" cy="610.7" r="5.6"/><circle cx="1181.4" cy="608.8" r="5.6"/><circle cx="1182.0" cy="607.7" r="5.6"/><circle cx="1182.6" cy="603.7" r="5.6"/><circle cx="1183.2" cy="604.0" r="5.6"/><circle cx="1183.8" cy="606.8" r="5.6"/><circle cx="1184.3" cy="604.3" r="5.6"/><circle cx="1184.9" cy="608.4" r="5.6"/><circle cx="1185.5" cy="601.2" r="5.6"/><circle cx="1186.1" cy="594.3" r="5.6"/><circle cx="1186.7" cy="599.4" r="5.6"/><circle cx="1187.3" cy="600.3" r="5.6"/><circle cx="1187.9" cy="599.7" r="5.6"/><circle cx="1188.4" cy="597.8" r="5.6"/><circle cx="1189.0" cy="594.3" r="5.6"/><circle cx="1189.6" cy="600.0" r="5.6"/><circle cx="1190.2" cy="592.7" r="5.6"/><circle cx="1190.8" cy="595.7" r="5.6"/><circle cx="1191.4" cy="591.8" r="5.6"/><circle cx="1192.0" cy="588.1" r="5.6"/><circle cx="1192.6" cy="594.6" r="5.6"/><circle cx="1193.1" cy="582.1" r="5.6"/><circle cx="1193.7" cy="585.8" r="5.6"/><circle cx="1194.3" cy="588.4" r="5.6"/><circle cx="1194.9" cy="584.9" r="5.6"/><circle cx="1195.5" cy="587.0" r="5.6"/><circle cx="1196.1" cy="583.3" r="5.6"/><circle cx="1196.7" cy="581.1" r="5.6"/><circle cx="1197.2" cy="587.4" r="5.6"/><circle cx="1197.8" cy="579.3" r="5.6"/><circle cx="1198.4" cy="578.2" r="5.6"/><circle cx="1199.0" cy="574.3" r="5.6"/><circle cx="1199.6" cy="573.9" r="5.6"/><circle cx="1200.2" cy="576.7" r="5.6"/><circle cx="1200.8" cy="575.1" r="5.6"/><circle cx="1201.3" cy="572.2" r="5.6"/><circle cx="1201.9" cy="568.8" r="5.6"/><circle cx="1202.5" cy="571.5" r="5.6"/><circle cx="1203.1" cy="563.2" r="5.6"/><circle cx="1203.7" cy="565.7" r="5.6"/><circle cx="1204.3" cy="564.6" r="5.6"/><circle cx="1204.9" cy="561.5" r="5.6"/><circle cx="1205.5" cy="563.0" r="5.6"/><circle cx="1206.0" cy="559.2" r="5.6"/><circle cx="1206.6" cy="557.3" r="5.6"/><circle cx="1207.2" cy="563.5" r="5.6"/><circle cx="1207.8" cy="558.9" r="5.6"/><circle cx="1208.4" cy="558.8" r="5.6"/><circle cx="1209.0" cy="554.0" r="5.6"/><circle cx="1209.6" cy="555.2" r="5.6"/><circle cx="1210.1" cy="553.2" r="5.6"/><circle cx="1210.7" cy="553.0" r="5.6"/><circle cx="1211.3" cy="554.9" r="5.6"/><circle cx="1211.9" cy="545.9" r="5.6"/><circle cx="1212.5" cy="545.8" r="5.6"/><circle cx="1213.1" cy="543.4" r="5.6"/><circle cx="1213.7" cy="531.9" r="5.6"/><circle cx="1214.2" cy="536.5" r="5.6"/><circle cx="1214.8" cy="539.1" r="5.6"/><circle cx="1215.4" cy="539.4" r="5.6"/><circle cx="1216.0" cy="534.4" r="5.6"/><circle cx="1216.6" cy="537.9" r="5.6"/><circle cx="1217.2" cy="536.9" r="5.6"/><circle cx="1217.8" cy="530.4" r="5.6"/><circle cx="1218.4" cy="534.3" r="5.6"/><circle cx="1218.9" cy="533.7" r="5.6"/><circle cx="1219.5" cy="528.5" r="5.6"/><circle cx="1220.1" cy="522.8" r="5.6"/><circle cx="1220.7" cy="528.5" r="5.6"/><circle cx="1221.3" cy="522.2" r="5.6"/><circle cx="1221.9" cy="520.1" r="5.6"/><circle cx="1222.5" cy="520.1" r="5.6"/><circle cx="1223.0" cy="516.7" r="5.6"/><circle cx="1223.6" cy="519.9" r="5.6"/><circle cx="1224.2" cy="517.6" r="5.6"/><circle cx="1224.8" cy="517.4" r="5.6"/><circle cx="1225.4" cy="514.1" r="5.6"/><circle cx="1226.0" cy="508.6" r="5.6"/><circle cx="1226.6" cy="509.0" r="5.6"/><circle cx="1227.1" cy="510.6" r="5.6"/><circle cx="1227.7" cy="505.4" r="5.6"/><circle cx="1228.3" cy="513.6" r="5.6"/><circle cx="1228.9" cy="503.0" r="5.6"/><circle cx="1229.5" cy="500.5" r="5.6"/><circle cx="1230.1" cy="504.1" r="5.6"/><circle cx="1230.7" cy="501.5" r="5.6"/><circle cx="1231.3" cy="497.8" r="5.6"/><circle cx="1231.8" cy="495.8" r="5.6"/><circle cx="1232.4" cy="496.3" r="5.6"/><circle cx="1233.0" cy="496.0" r="5.6"/><circle cx="1233.6" cy="494.4" r="5.6"/><circle cx="1234.2" cy="489.8" r="5.6"/><circle cx="1234.8" cy="490.5" r="5.6"/><circle cx="1235.4" cy="490.3" r="5.6"/><circle cx="1235.9" cy="488.7" r="5.6"/><circle cx="1236.5" cy="476.1" r="5.6"/><circle cx="1237.1" cy="481.0" r="5.6"/><circle cx="1237.7" cy="479.9" r="5.6"/><circle cx="1238.3" cy="480.1" r="5.6"/><circle cx="1238.9" cy="479.8" r="5.6"/><circle cx="1239.5" cy="480.6" r="5.6"/><circle cx="1240.0" cy="478.3" r="5.6"/><circle cx="1240.6" cy="474.7" r="5.6"/><circle cx="1241.2" cy="473.7" r="5.6"/><circle cx="1241.8" cy="477.3" r="5.6"/><circle cx="1242.4" cy="469.0" r="5.6"/><circle cx="1243.0" cy="470.3" r="5.6"/><circle cx="1243.6" cy="472.5" r="5.6"/><circle cx="1244.2" cy="467.6" r="5.6"/><circle cx="1244.7" cy="459.2" r="5.6"/><circle cx="1245.3" cy="464.8" r="5.6"/><circle cx="1245.9" cy="461.2" r="5.6"/><circle cx="1246.5" cy="460.6" r="5.6"/><circle cx="1247.1" cy="462.6" r="5.6"/><circle cx="1247.7" cy="459.5" r="5.6"/><circle cx="1248.3" cy="455.9" r="5.6"/><circle cx="1248.8" cy="457.9" r="5.6"/><circle cx="1249.4" cy="455.2" r="5.6"/><circle cx="1250.0" cy="452.8" r="5.6"/><circle cx="1250.6" cy="452.0" r="5.6"/><circle cx="1251.2" cy="450.5" r="5.6"/><circle cx="1251.8" cy="447.3" r="5.6"/><circle cx="1252.4" cy="445.6" r="5.6"/><circle cx="1252.9" cy="445.6" r="5.6"/><circle cx="1253.5" cy="441.4" r="5.6"/><circle cx="1254.1" cy="439.2" r="5.6"/><circle cx="1254.7" cy="445.2" r="5.6"/><circle cx="1255.3" cy="439.4" r="5.6"/><circle cx="1255.9" cy="438.7" r="5.6"/><circle cx="1256.5" cy="437.0" r="5.6"/><circle cx="1257.1" cy="436.2" r="5.6"/><circle cx="1257.6" cy="434.8" r="5.6"/><circle cx="1258.2" cy="433.6" r="5.6"/><circle cx="1258.8" cy="429.8" r="5.6"/><circle cx="1259.4" cy="433.6" r="5.6"/><circle cx="1260.0" cy="427.6" r="5.6"/><circle cx="1260.6" cy="431.3" r="5.6"/><circle cx="1261.2" cy="421.5" r="5.6"/><circle cx="1261.7" cy="422.7" r="5.6"/><circle cx="1262.3" cy="427.4" r="5.6"/><circle cx="1262.9" cy="422.9" r="5.6"/><circle cx="1263.5" cy="420.1" r="5.6"/><circle cx="1264.1" cy="422.0" r="5.6"/><circle cx="1264.7" cy="416.7" r="5.6"/><circle cx="1265.3" cy="418.8" r="5.6"/><circle cx="1265.8" cy="411.0" r="5.6"/><circle cx="1266.4" cy="414.9" r="5.6"/><circle cx="1267.0" cy="413.2" r="5.6"/><circle cx="1267.6" cy="415.6" r="5.6"/><circle cx="1268.2" cy="415.5" r="5.6"/><circle cx="1268.8" cy="409.4" r="5.6"/><circle cx="1269.4" cy="415.5" r="5.6"/><circle cx="1270.0" cy="408.1" r="5.6"/><circle cx="1270.5" cy="402.8" r="5.6"/><circle cx="1271.1" cy="400.9" r="5.6"/><circle cx="1271.7" cy="411.3" r="5.6"/><circle cx="1272.3" cy="405.6" r="5.6"/><circle cx="1272.9" cy="403.1" r="5.6"/><circle cx="1273.5" cy="401.9" r="5.6"/><circle cx="1274.1" cy="400.0" r="5.6"/><circle cx="1274.6" cy="406.2" r="5.6"/><circle cx="1275.2" cy="401.2" r="5.6"/><circle cx="1275.8" cy="405.8" r="5.6"/><circle cx="1276.4" cy="399.2" r="5.6"/><circle cx="1277.0" cy="392.2" r="5.6"/><circle cx="1277.6" cy="400.7" r="5.6"/><circle cx="1278.2" cy="396.4" r="5.6"/><circle cx="1278.7" cy="396.1" r="5.6"/><circle cx="1279.3" cy="400.6" r="5.6"/><circle cx="1279.9" cy="394.6" r="5.6"/><circle cx="1280.5" cy="398.0" r="5.6"/><circle cx="1281.1" cy="394.0" r="5.6"/><circle cx="1281.7" cy="391.2" r="5.6"/><circle cx="1282.3" cy="394.2" r="5.6"/><circle cx="1282.9" cy="390.4" r="5.6"/><circle cx="1283.4" cy="395.1" r="5.6"/><circle cx="1284.0" cy="393.8" r="5.6"/><circle cx="1284.6" cy="390.6" r="5.6"/><circle cx="1285.2" cy="391.6" r="5.6"/><circle cx="1285.8" cy="391.0" r="5.6"/><circle cx="1286.4" cy="388.0" r="5.6"/><circle cx="1287.0" cy="390.9" r="5.6"/><circle cx="1287.5" cy="387.2" r="5.6"/><circle cx="1288.1" cy="389.2" r="5.6"/><circle cx="1288.7" cy="384.2" r="5.6"/><circle cx="1289.3" cy="386.8" r="5.6"/><circle cx="1289.9" cy="387.2" r="5.6"/><circle cx="1290.5" cy="383.3" r="5.6"/><circle cx="1291.1" cy="384.0" r="5.6"/><circle cx="1291.6" cy="383.3" r="5.6"/><circle cx="1292.2" cy="386.5" r="5.6"/><circle cx="1292.8" cy="382.0" r="5.6"/><circle cx="1293.4" cy="385.0" r="5.6"/><circle cx="1294.0" cy="387.8" r="5.6"/><circle cx="1294.6" cy="384.0" r="5.6"/><circle cx="1295.2" cy="378.0" r="5.6"/><circle cx="1295.8" cy="382.7" r="5.6"/><circle cx="1296.3" cy="385.0" r="5.6"/><circle cx="1296.9" cy="380.8" r="5.6"/><circle cx="1297.5" cy="384.6" r="5.6"/><circle cx="1298.1" cy="382.9" r="5.6"/><circle cx="1298.7" cy="382.0" r="5.6"/><circle cx="1299.3" cy="379.7" r="5.6"/><circle cx="1299.9" cy="378.7" r="5.6"/><circle cx="1300.4" cy="379.2" r="5.6"/><circle cx="1301.0" cy="379.8" r="5.6"/><circle cx="1301.6" cy="380.9" r="5.6"/><circle cx="1302.2" cy="380.3" r="5.6"/><circle cx="1302.8" cy="378.0" r="5.6"/><circle cx="1303.4" cy="378.8" r="5.6"/><circle cx="1304.0" cy="379.5" r="5.6"/><circle cx="1304.5" cy="373.4" r="5.6"/><circle cx="1305.1" cy="375.7" r="5.6"/><circle cx="1305.7" cy="375.3" r="5.6"/><circle cx="1306.3" cy="376.8" r="5.6"/><circle cx="1306.9" cy="376.4" r="5.6"/><circle cx="1307.5" cy="376.2" r="5.6"/><circle cx="1308.1" cy="374.2" r="5.6"/><circle cx="1308.7" cy="378.5" r="5.6"/><circle cx="1309.2" cy="377.1" r="5.6"/><circle cx="1309.8" cy="371.4" r="5.6"/><circle cx="1310.4" cy="375.9" r="5.6"/><circle cx="1311.0" cy="372.4" r="5.6"/><circle cx="1311.6" cy="380.4" r="5.6"/><circle cx="1312.2" cy="374.0" r="5.6"/><circle cx="1312.8" cy="373.9" r="5.6"/><circle cx="1313.3" cy="375.1" r="5.6"/><circle cx="1313.9" cy="374.1" r="5.6"/><circle cx="1314.5" cy="374.3" r="5.6"/><circle cx="1315.1" cy="378.8" r="5.6"/><circle cx="1315.7" cy="374.7" r="5.6"/><circle cx="1316.3" cy="376.3" r="5.6"/><circle cx="1316.9" cy="377.0" r="5.6"/><circle cx="1317.4" cy="370.7" r="5.6"/><circle cx="1318.0" cy="378.2" r="5.6"/><circle cx="1318.6" cy="375.1" r="5.6"/><circle cx="1319.2" cy="375.7" r="5.6"/><circle cx="1319.8" cy="370.3" r="5.6"/><circle cx="1320.4" cy="375.0" r="5.6"/><circle cx="1321.0" cy="373.6" r="5.6"/><circle cx="1321.6" cy="370.7" r="5.6"/><circle cx="1322.1" cy="378.7" r="5.6"/><circle cx="1322.7" cy="373.6" r="5.6"/><circle cx="1323.3" cy="371.0" r="5.6"/><circle cx="1323.9" cy="372.1" r="5.6"/><circle cx="1324.5" cy="374.1" r="5.6"/><circle cx="1325.1" cy="374.5" r="5.6"/><circle cx="1325.7" cy="372.8" r="5.6"/><circle cx="1326.2" cy="374.5" r="5.6"/><circle cx="1326.8" cy="375.0" r="5.6"/><circle cx="1327.4" cy="367.0" r="5.6"/><circle cx="1328.0" cy="369.1" r="5.6"/><circle cx="1328.6" cy="367.6" r="5.6"/><circle cx="1329.2" cy="370.5" r="5.6"/><circle cx="1329.8" cy="374.2" r="5.6"/><circle cx="1330.3" cy="371.8" r="5.6"/><circle cx="1330.9" cy="366.7" r="5.6"/><circle cx="1331.5" cy="368.8" r="5.6"/><circle cx="1332.1" cy="372.5" r="5.6"/><circle cx="1332.7" cy="367.8" r="5.6"/><circle cx="1333.3" cy="368.9" r="5.6"/><circle cx="1333.9" cy="370.0" r="5.6"/><circle cx="1334.5" cy="363.7" r="5.6"/><circle cx="1335.0" cy="371.1" r="5.6"/><circle cx="1335.6" cy="369.7" r="5.6"/><circle cx="1336.2" cy="370.2" r="5.6"/><circle cx="1336.8" cy="365.6" r="5.6"/><circle cx="1337.4" cy="366.1" r="5.6"/><circle cx="1338.0" cy="366.5" r="5.6"/><circle cx="1338.6" cy="368.9" r="5.6"/><circle cx="1339.1" cy="368.2" r="5.6"/><circle cx="1339.7" cy="368.3" r="5.6"/><circle cx="1340.3" cy="373.0" r="5.6"/><circle cx="1340.9" cy="371.5" r="5.6"/><circle cx="1341.5" cy="365.5" r="5.6"/><circle cx="1342.1" cy="365.6" r="5.6"/><circle cx="1342.7" cy="372.4" r="5.6"/><circle cx="1343.2" cy="366.4" r="5.6"/><circle cx="1343.8" cy="371.2" r="5.6"/><circle cx="1344.4" cy="371.8" r="5.6"/><circle cx="1345.0" cy="365.5" r="5.6"/><circle cx="1345.6" cy="366.2" r="5.6"/><circle cx="1346.2" cy="367.1" r="5.6"/><circle cx="1346.8" cy="364.3" r="5.6"/><circle cx="1347.4" cy="363.9" r="5.6"/><circle cx="1347.9" cy="365.5" r="5.6"/><circle cx="1348.5" cy="369.0" r="5.6"/><circle cx="1349.1" cy="365.2" r="5.6"/><circle cx="1349.7" cy="365.8" r="5.6"/><circle cx="1350.3" cy="365.0" r="5.6"/><circle cx="1350.9" cy="362.3" r="5.6"/><circle cx="1351.5" cy="370.5" r="5.6"/><circle cx="1352.0" cy="359.3" r="5.6"/><circle cx="1352.6" cy="364.1" r="5.6"/><circle cx="1353.2" cy="367.6" r="5.6"/><circle cx="1353.8" cy="361.8" r="5.6"/><circle cx="1354.4" cy="367.6" r="5.6"/><circle cx="1355.0" cy="369.4" r="5.6"/><circle cx="1355.6" cy="363.2" r="5.6"/><circle cx="1356.1" cy="366.2" r="5.6"/><circle cx="1356.7" cy="362.4" r="5.6"/><circle cx="1357.3" cy="367.0" r="5.6"/><circle cx="1357.9" cy="365.7" r="5.6"/><circle cx="1358.5" cy="366.0" r="5.6"/><circle cx="1359.1" cy="369.3" r="5.6"/><circle cx="1359.7" cy="366.6" r="5.6"/><circle cx="1360.3" cy="369.1" r="5.6"/><circle cx="1360.8" cy="367.0" r="5.6"/><circle cx="1361.4" cy="361.6" r="5.6"/><circle cx="1362.0" cy="365.8" r="5.6"/><circle cx="1362.6" cy="366.4" r="5.6"/><circle cx="1363.2" cy="360.8" r="5.6"/><circle cx="1363.8" cy="368.8" r="5.6"/><circle cx="1364.4" cy="365.0" r="5.6"/><circle cx="1364.9" cy="365.9" r="5.6"/><circle cx="1365.5" cy="362.1" r="5.6"/><circle cx="1366.1" cy="364.9" r="5.6"/><circle cx="1366.7" cy="365.5" r="5.6"/><circle cx="1367.3" cy="363.7" r="5.6"/><circle cx="1367.9" cy="364.8" r="5.6"/><circle cx="1368.5" cy="358.4" r="5.6"/><circle cx="1369.0" cy="368.4" r="5.6"/><circle cx="1369.6" cy="361.2" r="5.6"/><circle cx="1370.2" cy="358.0" r="5.6"/><circle cx="1370.8" cy="361.5" r="5.6"/><circle cx="1371.4" cy="361.8" r="5.6"/><circle cx="1372.0" cy="365.8" r="5.6"/><circle cx="1372.6" cy="361.5" r="5.6"/><circle cx="1373.2" cy="364.9" r="5.6"/><circle cx="1373.7" cy="361.3" r="5.6"/><circle cx="1374.3" cy="370.4" r="5.6"/><circle cx="1374.9" cy="365.6" r="5.6"/><circle cx="1375.5" cy="369.6" r="5.6"/><circle cx="1376.1" cy="360.9" r="5.6"/><circle cx="1376.7" cy="365.8" r="5.6"/><circle cx="1377.3" cy="361.0" r="5.6"/><circle cx="1377.8" cy="365.4" r="5.6"/><circle cx="1378.4" cy="365.7" r="5.6"/><circle cx="1379.0" cy="359.0" r="5.6"/><circle cx="1379.6" cy="360.3" r="5.6"/><circle cx="1380.2" cy="360.2" r="5.6"/><circle cx="1380.8" cy="359.1" r="5.6"/><circle cx="1381.4" cy="361.3" r="5.6"/><circle cx="1381.9" cy="360.6" r="5.6"/><circle cx="1382.5" cy="359.1" r="5.6"/><circle cx="1383.1" cy="363.6" r="5.6"/><circle cx="1383.7" cy="364.8" r="5.6"/><circle cx="1384.3" cy="359.3" r="5.6"/><circle cx="1384.9" cy="361.5" r="5.6"/><circle cx="1385.5" cy="363.1" r="5.6"/><circle cx="1386.1" cy="362.3" r="5.6"/><circle cx="1386.6" cy="360.9" r="5.6"/><circle cx="1387.2" cy="365.2" r="5.6"/><circle cx="1387.8" cy="365.3" r="5.6"/><circle cx="1388.4" cy="364.7" r="5.6"/><circle cx="1389.0" cy="362.1" r="5.6"/><circle cx="1389.6" cy="368.4" r="5.6"/><circle cx="1390.2" cy="367.6" r="5.6"/><circle cx="1390.7" cy="361.3" r="5.6"/><circle cx="1391.3" cy="362.1" r="5.6"/><circle cx="1391.9" cy="365.8" r="5.6"/><circle cx="1392.5" cy="360.0" r="5.6"/><circle cx="1393.1" cy="363.4" r="5.6"/><circle cx="1393.7" cy="362.3" r="5.6"/><circle cx="1394.3" cy="360.0" r="5.6"/><circle cx="1394.8" cy="361.3" r="5.6"/><circle cx="1395.4" cy="357.4" r="5.6"/><circle cx="1396.0" cy="360.3" r="5.6"/><circle cx="1396.6" cy="356.0" r="5.6"/><circle cx="1397.2" cy="368.3" r="5.6"/><circle cx="1397.8" cy="366.0" r="5.6"/><circle cx="1398.4" cy="365.1" r="5.6"/><circle cx="1398.9" cy="362.3" r="5.6"/><circle cx="1399.5" cy="364.3" r="5.6"/><circle cx="1400.1" cy="365.0" r="5.6"/><circle cx="1400.7" cy="364.1" r="5.6"/><circle cx="1401.3" cy="363.8" r="5.6"/><circle cx="1401.9" cy="358.4" r="5.6"/><circle cx="1402.5" cy="362.2" r="5.6"/><circle cx="1403.1" cy="359.3" r="5.6"/><circle cx="1403.6" cy="357.3" r="5.6"/><circle cx="1404.2" cy="357.3" r="5.6"/><circle cx="1404.8" cy="361.8" r="5.6"/><circle cx="1405.4" cy="363.5" r="5.6"/><circle cx="1406.0" cy="356.4" r="5.6"/><circle cx="1406.6" cy="365.3" r="5.6"/><circle cx="1407.2" cy="364.4" r="5.6"/><circle cx="1407.7" cy="358.9" r="5.6"/><circle cx="1408.3" cy="358.5" r="5.6"/><circle cx="1408.9" cy="359.6" r="5.6"/><circle cx="1409.5" cy="362.5" r="5.6"/><circle cx="1410.1" cy="358.4" r="5.6"/><circle cx="1410.7" cy="356.2" r="5.6"/><circle cx="1411.3" cy="360.3" r="5.6"/><circle cx="1411.8" cy="353.2" r="5.6"/><circle cx="1412.4" cy="359.4" r="5.6"/><circle cx="1413.0" cy="362.3" r="5.6"/><circle cx="1413.6" cy="359.7" r="5.6"/><circle cx="1414.2" cy="360.9" r="5.6"/><circle cx="1414.8" cy="359.9" r="5.6"/><circle cx="1415.4" cy="360.5" r="5.6"/><circle cx="1416.0" cy="358.6" r="5.6"/><circle cx="1416.5" cy="355.7" r="5.6"/><circle cx="1417.1" cy="357.3" r="5.6"/><circle cx="1417.7" cy="357.6" r="5.6"/><circle cx="1418.3" cy="361.3" r="5.6"/><circle cx="1418.9" cy="362.2" r="5.6"/><circle cx="1419.5" cy="358.5" r="5.6"/><circle cx="1420.1" cy="355.0" r="5.6"/><circle cx="1420.6" cy="354.9" r="5.6"/><circle cx="1421.2" cy="356.3" r="5.6"/><circle cx="1421.8" cy="360.7" r="5.6"/><circle cx="1422.4" cy="357.5" r="5.6"/><circle cx="1423.0" cy="356.1" r="5.6"/><circle cx="1423.6" cy="353.9" r="5.6"/><circle cx="1424.2" cy="358.5" r="5.6"/><circle cx="1424.7" cy="356.6" r="5.6"/><circle cx="1425.3" cy="355.4" r="5.6"/><circle cx="1425.9" cy="355.7" r="5.6"/><circle cx="1426.5" cy="360.1" r="5.6"/><circle cx="1427.1" cy="354.5" r="5.6"/><circle cx="1427.7" cy="359.7" r="5.6"/><circle cx="1428.3" cy="358.2" r="5.6"/><circle cx="1428.9" cy="354.6" r="5.6"/><circle cx="1429.4" cy="356.8" r="5.6"/><circle cx="1430.0" cy="353.6" r="5.6"/><circle cx="1430.6" cy="351.4" r="5.6"/><circle cx="1431.2" cy="352.8" r="5.6"/><circle cx="1431.8" cy="350.7" r="5.6"/><circle cx="1432.4" cy="354.6" r="5.6"/><circle cx="1433.0" cy="353.0" r="5.6"/><circle cx="1433.5" cy="354.3" r="5.6"/><circle cx="1434.1" cy="354.8" r="5.6"/><circle cx="1434.7" cy="343.2" r="5.6"/><circle cx="1435.3" cy="352.9" r="5.6"/><circle cx="1435.9" cy="346.5" r="5.6"/><circle cx="1436.5" cy="352.0" r="5.6"/><circle cx="1437.1" cy="348.7" r="5.6"/><circle cx="1437.6" cy="351.3" r="5.6"/><circle cx="1438.2" cy="354.7" r="5.6"/><circle cx="1438.8" cy="345.6" r="5.6"/><circle cx="1439.4" cy="350.8" r="5.6"/><circle cx="1440.0" cy="349.8" r="5.6"/><circle cx="1440.6" cy="344.2" r="5.6"/><circle cx="1441.2" cy="351.3" r="5.6"/><circle cx="1441.8" cy="349.3" r="5.6"/><circle cx="1442.3" cy="347.5" r="5.6"/><circle cx="1442.9" cy="346.6" r="5.6"/><circle cx="1443.5" cy="357.7" r="5.6"/><circle cx="1444.1" cy="347.0" r="5.6"/><circle cx="1444.7" cy="342.6" r="5.6"/><circle cx="1445.3" cy="344.9" r="5.6"/><circle cx="1445.9" cy="346.2" r="5.6"/><circle cx="1446.4" cy="345.9" r="5.6"/><circle cx="1447.0" cy="346.5" r="5.6"/><circle cx="1447.6" cy="343.4" r="5.6"/><circle cx="1448.2" cy="347.7" r="5.6"/><circle cx="1448.8" cy="344.4" r="5.6"/><circle cx="1449.4" cy="341.6" r="5.6"/><circle cx="1450.0" cy="342.9" r="5.6"/><circle cx="1450.5" cy="343.8" r="5.6"/><circle cx="1451.1" cy="347.1" r="5.6"/><circle cx="1451.7" cy="345.7" r="5.6"/><circle cx="1452.3" cy="343.0" r="5.6"/><circle cx="1452.9" cy="343.8" r="5.6"/><circle cx="1453.5" cy="344.0" r="5.6"/><circle cx="1454.1" cy="349.0" r="5.6"/><circle cx="1454.7" cy="341.0" r="5.6"/><circle cx="1455.2" cy="343.8" r="5.6"/><circle cx="1455.8" cy="344.2" r="5.6"/><circle cx="1456.4" cy="339.0" r="5.6"/><circle cx="1457.0" cy="342.0" r="5.6"/><circle cx="1457.6" cy="341.6" r="5.6"/><circle cx="1458.2" cy="339.5" r="5.6"/><circle cx="1458.8" cy="342.1" r="5.6"/><circle cx="1459.3" cy="343.1" r="5.6"/><circle cx="1459.9" cy="343.1" r="5.6"/><circle cx="1460.5" cy="338.9" r="5.6"/><circle cx="1461.1" cy="339.7" r="5.6"/><circle cx="1461.7" cy="345.6" r="5.6"/><circle cx="1462.3" cy="335.3" r="5.6"/><circle cx="1462.9" cy="338.8" r="5.6"/><circle cx="1463.4" cy="340.4" r="5.6"/><circle cx="1464.0" cy="337.9" r="5.6"/><circle cx="1464.6" cy="339.0" r="5.6"/><circle cx="1465.2" cy="337.2" r="5.6"/><circle cx="1465.8" cy="338.6" r="5.6"/><circle cx="1466.4" cy="339.8" r="5.6"/><circle cx="1467.0" cy="335.0" r="5.6"/><circle cx="1467.6" cy="335.9" r="5.6"/><circle cx="1468.1" cy="334.8" r="5.6"/><circle cx="1468.7" cy="333.4" r="5.6"/><circle cx="1469.3" cy="334.2" r="5.6"/><circle cx="1469.9" cy="330.6" r="5.6"/><circle cx="1470.5" cy="335.7" r="5.6"/><circle cx="1471.1" cy="338.1" r="5.6"/><circle cx="1471.7" cy="337.7" r="5.6"/><circle cx="1472.2" cy="336.1" r="5.6"/><circle cx="1472.8" cy="329.3" r="5.6"/><circle cx="1473.4" cy="336.1" r="5.6"/><circle cx="1474.0" cy="329.2" r="5.6"/><circle cx="1474.6" cy="330.8" r="5.6"/><circle cx="1475.2" cy="335.9" r="5.6"/><circle cx="1475.8" cy="327.1" r="5.6"/><circle cx="1476.3" cy="332.3" r="5.6"/><circle cx="1476.9" cy="330.3" r="5.6"/><circle cx="1477.5" cy="328.6" r="5.6"/><circle cx="1478.1" cy="326.1" r="5.6"/><circle cx="1478.7" cy="329.5" r="5.6"/><circle cx="1479.3" cy="326.6" r="5.6"/><circle cx="1479.9" cy="330.6" r="5.6"/><circle cx="1480.5" cy="330.7" r="5.6"/><circle cx="1481.0" cy="322.7" r="5.6"/><circle cx="1481.6" cy="324.9" r="5.6"/><circle cx="1482.2" cy="325.0" r="5.6"/><circle cx="1482.8" cy="322.1" r="5.6"/><circle cx="1483.4" cy="321.9" r="5.6"/><circle cx="1484.0" cy="325.0" r="5.6"/><circle cx="1484.6" cy="323.8" r="5.6"/><circle cx="1485.1" cy="319.2" r="5.6"/><circle cx="1485.7" cy="322.0" r="5.6"/><circle cx="1486.3" cy="324.7" r="5.6"/><circle cx="1486.9" cy="319.3" r="5.6"/><circle cx="1487.5" cy="319.7" r="5.6"/><circle cx="1488.1" cy="326.6" r="5.6"/><circle cx="1488.7" cy="325.4" r="5.6"/><circle cx="1489.2" cy="316.5" r="5.6"/><circle cx="1489.8" cy="316.9" r="5.6"/><circle cx="1490.4" cy="321.5" r="5.6"/><circle cx="1491.0" cy="316.5" r="5.6"/><circle cx="1491.6" cy="318.8" r="5.6"/><circle cx="1492.2" cy="317.8" r="5.6"/><circle cx="1492.8" cy="320.4" r="5.6"/><circle cx="1493.4" cy="311.0" r="5.6"/><circle cx="1493.9" cy="311.5" r="5.6"/><circle cx="1494.5" cy="314.0" r="5.6"/><circle cx="1495.1" cy="320.0" r="5.6"/><circle cx="1495.7" cy="316.2" r="5.6"/><circle cx="1496.3" cy="311.3" r="5.6"/><circle cx="1496.9" cy="317.3" r="5.6"/><circle cx="1497.5" cy="317.5" r="5.6"/><circle cx="1498.0" cy="314.3" r="5.6"/><circle cx="1498.6" cy="313.7" r="5.6"/><circle cx="1499.2" cy="315.5" r="5.6"/><circle cx="1499.8" cy="317.3" r="5.6"/><circle cx="1500.4" cy="313.8" r="5.6"/><circle cx="1501.0" cy="314.5" r="5.6"/><circle cx="1501.6" cy="312.4" r="5.6"/><circle cx="1502.1" cy="311.0" r="5.6"/><circle cx="1502.7" cy="309.0" r="5.6"/><circle cx="1503.3" cy="312.0" r="5.6"/><circle cx="1503.9" cy="310.0" r="5.6"/><circle cx="1504.5" cy="309.7" r="5.6"/><circle cx="1505.1" cy="312.7" r="5.6"/><circle cx="1505.7" cy="311.0" r="5.6"/><circle cx="1506.3" cy="311.7" r="5.6"/><circle cx="1506.8" cy="304.2" r="5.6"/><circle cx="1507.4" cy="310.0" r="5.6"/><circle cx="1508.0" cy="306.2" r="5.6"/><circle cx="1508.6" cy="305.1" r="5.6"/><circle cx="1509.2" cy="304.6" r="5.6"/><circle cx="1509.8" cy="310.2" r="5.6"/><circle cx="1510.4" cy="308.6" r="5.6"/><circle cx="1510.9" cy="303.7" r="5.6"/><circle cx="1511.5" cy="302.1" r="5.6"/><circle cx="1512.1" cy="305.0" r="5.6"/><circle cx="1512.7" cy="303.2" r="5.6"/><circle cx="1513.3" cy="309.0" r="5.6"/><circle cx="1513.9" cy="299.5" r="5.6"/><circle cx="1514.5" cy="298.0" r="5.6"/><circle cx="1515.0" cy="302.2" r="5.6"/><circle cx="1515.6" cy="302.5" r="5.6"/><circle cx="1516.2" cy="302.4" r="5.6"/><circle cx="1516.8" cy="303.8" r="5.6"/><circle cx="1517.4" cy="307.2" r="5.6"/><circle cx="1518.0" cy="299.8" r="5.6"/><circle cx="1518.6" cy="298.8" r="5.6"/><circle cx="1519.2" cy="294.9" r="5.6"/><circle cx="1519.7" cy="300.3" r="5.6"/><circle cx="1520.3" cy="301.7" r="5.6"/><circle cx="1520.9" cy="298.0" r="5.6"/><circle cx="1521.5" cy="301.8" r="5.6"/><circle cx="1522.1" cy="298.1" r="5.6"/><circle cx="1522.7" cy="302.0" r="5.6"/><circle cx="1523.3" cy="298.1" r="5.6"/><circle cx="1523.8" cy="293.7" r="5.6"/><circle cx="1524.4" cy="294.5" r="5.6"/><circle cx="1525.0" cy="291.5" r="5.6"/><circle cx="1525.6" cy="290.5" r="5.6"/><circle cx="1526.2" cy="295.9" r="5.6"/><circle cx="1526.8" cy="297.3" r="5.6"/><circle cx="1527.4" cy="300.0" r="5.6"/><circle cx="1527.9" cy="293.8" r="5.6"/><circle cx="1528.5" cy="292.9" r="5.6"/><circle cx="1529.1" cy="290.0" r="5.6"/><circle cx="1529.7" cy="295.7" r="5.6"/><circle cx="1530.3" cy="293.6" r="5.6"/><circle cx="1530.9" cy="290.3" r="5.6"/><circle cx="1531.5" cy="293.7" r="5.6"/><circle cx="1532.1" cy="292.9" r="5.6"/><circle cx="1532.6" cy="285.5" r="5.6"/><circle cx="1533.2" cy="292.7" r="5.6"/><circle cx="1533.8" cy="290.6" r="5.6"/><circle cx="1534.4" cy="288.7" r="5.6"/><circle cx="1535.0" cy="288.2" r="5.6"/><circle cx="1535.6" cy="294.2" r="5.6"/><circle cx="1536.2" cy="293.2" r="5.6"/><circle cx="1536.7" cy="293.7" r="5.6"/><circle cx="1537.3" cy="284.7" r="5.6"/><circle cx="1537.9" cy="285.8" r="5.6"/><circle cx="1538.5" cy="289.9" r="5.6"/><circle cx="1539.1" cy="283.5" r="5.6"/><circle cx="1539.7" cy="284.5" r="5.6"/><circle cx="1540.3" cy="281.0" r="5.6"/><circle cx="1540.8" cy="291.3" r="5.6"/><circle cx="1541.4" cy="288.7" r="5.6"/><circle cx="1542.0" cy="286.6" r="5.6"/><circle cx="1542.6" cy="285.6" r="5.6"/><circle cx="1543.2" cy="283.4" r="5.6"/><circle cx="1543.8" cy="283.1" r="5.6"/><circle cx="1544.4" cy="285.7" r="5.6"/><circle cx="1545.0" cy="281.6" r="5.6"/><circle cx="1545.5" cy="286.9" r="5.6"/><circle cx="1546.1" cy="281.6" r="5.6"/><circle cx="1546.7" cy="280.2" r="5.6"/><circle cx="1547.3" cy="286.1" r="5.6"/><circle cx="1547.9" cy="281.7" r="5.6"/><circle cx="1548.5" cy="283.4" r="5.6"/><circle cx="1549.1" cy="280.3" r="5.6"/><circle cx="1549.6" cy="274.7" r="5.6"/><circle cx="1550.2" cy="282.5" r="5.6"/><circle cx="1550.8" cy="276.7" r="5.6"/><circle cx="1551.4" cy="283.5" r="5.6"/><circle cx="1552.0" cy="275.6" r="5.6"/><circle cx="1552.6" cy="274.4" r="5.6"/><circle cx="1553.2" cy="280.4" r="5.6"/><circle cx="1553.7" cy="280.5" r="5.6"/><circle cx="1554.3" cy="279.3" r="5.6"/><circle cx="1554.9" cy="275.2" r="5.6"/><circle cx="1555.5" cy="281.0" r="5.6"/><circle cx="1556.1" cy="274.0" r="5.6"/><circle cx="1556.7" cy="276.6" r="5.6"/><circle cx="1557.3" cy="275.4" r="5.6"/><circle cx="1557.9" cy="276.4" r="5.6"/><circle cx="1558.4" cy="279.7" r="5.6"/><circle cx="1559.0" cy="275.2" r="5.6"/><circle cx="1559.6" cy="278.4" r="5.6"/><circle cx="1560.2" cy="278.6" r="5.6"/><circle cx="1560.8" cy="271.4" r="5.6"/><circle cx="1561.4" cy="272.7" r="5.6"/><circle cx="1562.0" cy="274.8" r="5.6"/><circle cx="1562.5" cy="274.0" r="5.6"/><circle cx="1563.1" cy="276.4" r="5.6"/><circle cx="1563.7" cy="269.7" r="5.6"/><circle cx="1564.3" cy="277.2" r="5.6"/><circle cx="1564.9" cy="277.1" r="5.6"/><circle cx="1565.5" cy="274.3" r="5.6"/><circle cx="1566.1" cy="270.6" r="5.6"/><circle cx="1566.6" cy="274.4" r="5.6"/><circle cx="1567.2" cy="272.7" r="5.6"/><circle cx="1567.8" cy="275.7" r="5.6"/><circle cx="1568.4" cy="273.6" r="5.6"/><circle cx="1569.0" cy="275.8" r="5.6"/><circle cx="1569.6" cy="272.3" r="5.6"/><circle cx="1570.2" cy="277.6" r="5.6"/><circle cx="1570.8" cy="266.6" r="5.6"/><circle cx="1571.3" cy="270.2" r="5.6"/><circle cx="1571.9" cy="274.4" r="5.6"/><circle cx="1572.5" cy="268.5" r="5.6"/><circle cx="1573.1" cy="274.9" r="5.6"/><circle cx="1573.7" cy="269.1" r="5.6"/><circle cx="1574.3" cy="272.8" r="5.6"/><circle cx="1574.9" cy="269.8" r="5.6"/><circle cx="1575.4" cy="271.1" r="5.6"/><circle cx="1576.0" cy="272.7" r="5.6"/><circle cx="1576.6" cy="271.8" r="5.6"/><circle cx="1577.2" cy="270.9" r="5.6"/><circle cx="1577.8" cy="278.2" r="5.6"/><circle cx="1578.4" cy="271.9" r="5.6"/><circle cx="1579.0" cy="269.0" r="5.6"/><circle cx="1579.5" cy="274.4" r="5.6"/><circle cx="1580.1" cy="274.1" r="5.6"/><circle cx="1580.7" cy="275.2" r="5.6"/><circle cx="1581.3" cy="276.8" r="5.6"/><circle cx="1581.9" cy="268.8" r="5.6"/><circle cx="1582.5" cy="274.6" r="5.6"/><circle cx="1583.1" cy="274.8" r="5.6"/><circle cx="1583.7" cy="271.4" r="5.6"/><circle cx="1584.2" cy="272.1" r="5.6"/><circle cx="1584.8" cy="262.7" r="5.6"/><circle cx="1585.4" cy="269.7" r="5.6"/><circle cx="1586.0" cy="276.5" r="5.6"/><circle cx="1586.6" cy="266.2" r="5.6"/><circle cx="1587.2" cy="269.8" r="5.6"/><circle cx="1587.8" cy="272.2" r="5.6"/><circle cx="1588.3" cy="273.0" r="5.6"/><circle cx="1588.9" cy="276.1" r="5.6"/><circle cx="1589.5" cy="266.3" r="5.6"/><circle cx="1590.1" cy="271.6" r="5.6"/><circle cx="1590.7" cy="274.0" r="5.6"/><circle cx="1591.3" cy="267.7" r="5.6"/><circle cx="1591.9" cy="271.5" r="5.6"/><circle cx="1592.4" cy="277.1" r="5.6"/><circle cx="1593.0" cy="275.5" r="5.6"/><circle cx="1593.6" cy="273.3" r="5.6"/><circle cx="1594.2" cy="264.2" r="5.6"/><circle cx="1594.8" cy="271.5" r="5.6"/><circle cx="1595.4" cy="273.1" r="5.6"/><circle cx="1596.0" cy="271.2" r="5.6"/><circle cx="1596.6" cy="272.0" r="5.6"/><circle cx="1597.1" cy="281.2" r="5.6"/><circle cx="1597.7" cy="271.7" r="5.6"/><circle cx="1598.3" cy="269.6" r="5.6"/><circle cx="1598.9" cy="273.3" r="5.6"/><circle cx="1599.5" cy="271.8" r="5.6"/><circle cx="1600.1" cy="271.9" r="5.6"/><circle cx="1600.7" cy="272.7" r="5.6"/><circle cx="1601.2" cy="275.3" r="5.6"/><circle cx="1601.8" cy="273.9" r="5.6"/><circle cx="1602.4" cy="269.8" r="5.6"/><circle cx="1603.0" cy="272.9" r="5.6"/></g>
<polyline points="962.4,244.9 963.7,244.8 965.0,244.7 966.2,244.6 967.5,244.5 968.8,244.4 970.1,244.2 971.4,244.1 972.7,244.0 973.9,243.8 975.2,243.6 976.5,243.4 977.8,243.3 979.1,243.1 980.3,242.9 981.6,242.6 982.9,242.4 984.2,242.2 985.5,241.9 986.8,241.7 988.0,241.4 989.3,241.1 990.6,240.8 991.9,240.5 993.2,240.2 994.4,239.9 995.7,239.6 997.0,239.2 998.3,238.9 999.6,238.5 1000.9,238.1 1002.1,237.7 1003.4,237.4 1004.7,236.9 1006.0,236.5 1007.3,236.1 1008.5,235.7 1009.8,235.2 1011.1,234.8 1012.4,234.3 1013.7,233.8 1015.0,233.3 1016.2,232.8 1017.5,232.3 1018.8,231.8 1020.1,231.3 1021.4,230.7 1022.6,230.2 1023.9,229.6 1025.2,229.0 1026.5,228.4 1027.8,227.8 1029.1,227.2 1030.3,226.6 1031.6,226.0 1032.9,225.3 1034.2,224.7 1035.5,224.0 1036.7,223.3 1038.0,222.6 1039.3,221.9 1040.6,221.2 1041.9,220.5 1043.2,219.8 1044.4,219.0 1045.7,218.2 1047.0,217.5 1048.3,216.7 1049.6,215.9 1050.8,215.1 1052.1,214.3 1053.4,213.4 1054.7,212.6 1056.0,211.7 1057.3,210.9 1058.5,210.0 1059.8,209.1 1061.1,208.2 1062.4,207.3 1063.7,206.4 1064.9,205.4 1066.2,204.5 1067.5,203.5 1068.8,202.5 1070.1,201.6 1071.3,200.6 1072.6,199.5 1073.9,198.5 1075.2,197.5 1076.5,196.4 1077.8,195.4 1079.0,194.3 1080.3,193.2 1081.6,192.1 1082.9,191.0 1084.2,189.9 1085.4,188.8 1086.7,187.6 1088.0,186.4 1089.3,185.3 1090.6,184.1 1091.9,182.9 1093.1,181.7 1094.4,180.4 1095.7,179.2 1097.0,178.0 1098.3,176.7 1099.5,175.4 1100.8,174.1 1102.1,172.9 1103.4,171.6 1104.7,170.3 1106.0,169.0 1107.2,167.7 1108.5,166.3 1109.8,165.0 1111.1,163.7 1112.4,162.4 1113.6,161.1 1114.9,159.8 1116.2,158.5 1117.5,157.2 1118.8,156.0 1120.1,154.7 1121.3,153.4 1122.6,152.2 1123.9,151.0 1125.2,149.7 1126.5,148.5 1127.7,147.3 1129.0,146.2 1130.3,145.0 1131.6,143.9 1132.9,142.8 1134.2,141.7 1135.4,140.6 1136.7,139.6 1138.0,138.5 1139.3,137.6 1140.6,136.6 1141.8,135.7 1143.1,134.8 1144.4,133.9 1145.7,133.0 1147.0,132.2 1148.3,131.5 1149.5,130.7 1150.8,130.0 1152.1,129.4 1153.4,128.7 1154.7,128.2 1155.9,127.6 1157.2,127.1 1158.5,126.7 1159.8,126.3 1161.1,125.9 1162.4,125.6 1163.6,125.3 1164.9,125.1 1166.2,125.0 1167.5,124.9 1168.8,124.8 1170.0,124.8 1171.3,124.9 1172.6,125.0 1173.9,125.2 1175.2,125.4 1176.5,125.7 1177.7,126.0 1179.0,126.5 1180.3,126.9 1181.6,127.5 1182.9,128.1 1184.1,128.8 1185.4,129.5 1186.7,130.4 1188.0,131.3 1189.3,132.2 1190.6,133.3 1191.8,134.4 1193.1,135.6 1194.4,136.8 1195.7,138.2 1197.0,139.6 1198.2,141.1 1199.5,142.7 1200.8,144.4 1202.1,146.1 1203.4,147.9 1204.7,149.8 1205.9,151.8 1207.2,153.8 1208.5,155.9 1209.8,158.0 1211.1,160.1 1212.3,162.4 1213.6,164.6 1214.9,166.9 1216.2,169.3 1217.5,171.6 1218.8,174.0 1220.0,176.4 1221.3,178.9 1222.6,181.3 1223.9,183.8 1225.2,186.3 1226.4,188.8 1227.7,191.3 1229.0,193.8 1230.3,196.3 1231.6,198.8 1232.9,201.3 1234.1,203.7 1235.4,206.2 1236.7,208.6 1238.0,211.0 1239.3,213.4 1240.5,215.8 1241.8,218.1 1243.1,220.3 1244.4,222.6 1245.7,224.7 1247.0,226.9 1248.2,229.0 1249.5,231.0 1250.8,233.0 1252.1,234.9 1253.4,236.7 1254.6,238.5 1255.9,240.2 1257.2,241.9 1258.5,243.5 1259.8,245.1 1261.1,246.6 1262.3,248.0 1263.6,249.5 1264.9,250.8 1266.2,252.1 1267.5,253.4 1268.7,254.6 1270.0,255.8 1271.3,256.9 1272.6,258.0 1273.9,259.0 1275.2,260.0 1276.4,261.0 1277.7,261.9 1279.0,262.8 1280.3,263.6 1281.6,264.5 1282.8,265.2 1284.1,266.0 1285.4,266.7 1286.7,267.4 1288.0,268.1 1289.2,268.7 1290.5,269.3 1291.8,269.9 1293.1,270.4 1294.4,270.9 1295.7,271.4 1296.9,271.9 1298.2,272.4 1299.5,272.8 1300.8,273.3 1302.1,273.7 1303.3,274.1 1304.6,274.4 1305.9,274.8 1307.2,275.2 1308.5,275.5 1309.8,275.8 1311.0,276.1 1312.3,276.5 1313.6,276.8 1314.9,277.1 1316.2,277.4 1317.4,277.6 1318.7,277.9 1320.0,278.2 1321.3,278.5 1322.6,278.7 1323.9,279.0 1325.1,279.2 1326.4,279.5 1327.7,279.7 1329.0,279.9 1330.3,280.2 1331.5,280.4 1332.8,280.6 1334.1,280.8 1335.4,281.0 1336.7,281.2 1338.0,281.4 1339.2,281.6 1340.5,281.7 1341.8,281.9 1343.1,282.1 1344.4,282.2 1345.6,282.4 1346.9,282.5 1348.2,282.7 1349.5,282.8 1350.8,283.0 1352.1,283.1 1353.3,283.2 1354.6,283.3 1355.9,283.4 1357.2,283.6 1358.5,283.7 1359.7,283.8 1361.0,283.9 1362.3,283.9 1363.6,284.0 1364.9,284.1 1366.2,284.2 1367.4,284.3 1368.7,284.3 1370.0,284.4 1371.3,284.5 1372.6,284.5 1373.8,284.6 1375.1,284.6 1376.4,284.6 1377.7,284.7 1379.0,284.7 1380.3,284.7 1381.5,284.8 1382.8,284.8 1384.1,284.8 1385.4,284.8 1386.7,284.8 1387.9,284.8 1389.2,284.8 1390.5,284.8 1391.8,284.8 1393.1,284.8 1394.4,284.8 1395.6,284.8 1396.9,284.8 1398.2,284.8 1399.5,284.7 1400.8,284.7 1402.0,284.7 1403.3,284.6 1404.6,284.6 1405.9,284.6 1407.2,284.5 1408.5,284.5 1409.7,284.4 1411.0,284.4 1412.3,284.3 1413.6,284.3 1414.9,284.2 1416.1,284.1 1417.4,284.1 1418.7,284.0 1420.0,283.9 1421.3,283.9 1422.6,283.8 1423.8,283.7 1425.1,283.6 1426.4,283.5 1427.7,283.4 1429.0,283.4 1430.2,283.3 1431.5,283.2 1432.8,283.1 1434.1,283.0 1435.4,282.9 1436.7,282.8 1437.9,282.7 1439.2,282.6 1440.5,282.5 1441.8,282.4 1443.1,282.3 1444.3,282.2 1445.6,282.1 1446.9,281.9 1448.2,281.8 1449.5,281.7 1450.8,281.6 1452.0,281.5 1453.3,281.4 1454.6,281.3 1455.9,281.1 1457.2,281.0 1458.4,280.9 1459.7,280.8 1461.0,280.6 1462.3,280.5 1463.6,280.4 1464.9,280.3 1466.1,280.1 1467.4,280.0 1468.7,279.9 1470.0,279.8 1471.3,279.6 1472.5,279.5 1473.8,279.4 1475.1,279.2 1476.4,279.1 1477.7,279.0 1479.0,278.8 1480.2,278.7 1481.5,278.6 1482.8,278.4 1484.1,278.3 1485.4,278.2 1486.6,278.0 1487.9,277.9 1489.2,277.8 1490.5,277.7 1491.8,277.5 1493.1,277.4 1494.3,277.3 1495.6,277.1 1496.9,277.0 1498.2,276.9 1499.5,276.8 1500.7,276.6 1502.0,276.5 1503.3,276.4 1504.6,276.3 1505.9,276.1 1507.1,276.0 1508.4,275.9 1509.7,275.8 1511.0,275.6 1512.3,275.5 1513.6,275.4 1514.8,275.3 1516.1,275.2 1517.4,275.1 1518.7,275.0 1520.0,274.8 1521.2,274.7 1522.5,274.6 1523.8,274.5 1525.1,274.4 1526.4,274.3 1527.7,274.2 1528.9,274.1 1530.2,274.0 1531.5,273.9 1532.8,273.8 1534.1,273.7 1535.3,273.6 1536.6,273.6 1537.9,273.5 1539.2,273.4 1540.5,273.3 1541.8,273.2 1543.0,273.2 1544.3,273.1 1545.6,273.0 1546.9,272.9 1548.2,272.9 1549.4,272.8 1550.7,272.7 1552.0,272.7 1553.3,272.6 1554.6,272.6 1555.9,272.5 1557.1,272.5 1558.4,272.4 1559.7,272.4 1561.0,272.4 1562.3,272.3 1563.5,272.3 1564.8,272.3 1566.1,272.2 1567.4,272.2 1568.7,272.2 1570.0,272.2 1571.2,272.2 1572.5,272.2 1573.8,272.1 1575.1,272.1 1576.4,272.1 1577.6,272.2 1578.9,272.2 1580.2,272.2 1581.5,272.2 1582.8,272.2 1584.1,272.2 1585.3,272.3 1586.6,272.3 1587.9,272.3 1589.2,272.4 1590.5,272.4 1591.7,272.5 1593.0,272.5 1594.3,272.6 1595.6,272.6 1596.9,272.7 1598.2,272.8 1599.4,272.9 1600.7,272.9 1602.0,273.0" fill="none" stroke="#4d4d4d" stroke-width="8.6" stroke-linejoin="round" stroke-linecap="butt"/>
<polyline points="962.4,244.6 963.7,244.4 965.0,244.2 966.2,244.0 967.5,243.9 968.8,243.7 970.1,243.6 971.4,243.5 972.7,243.4 973.9,243.3 975.2,243.2 976.5,243.2 977.8,243.1 979.1,243.1 980.3,243.1 981.6,243.1 982.9,243.1 984.2,243.1 985.5,243.1 986.8,243.2 988.0,243.2 989.3,243.3 990.6,243.4 991.9,243.5 993.2,243.6 994.4,243.7 995.7,243.8 997.0,244.0 998.3,244.1 999.6,244.3 1000.9,244.5 1002.1,244.6 1003.4,244.8 1004.7,245.1 1006.0,245.3 1007.3,245.5 1008.5,245.8 1009.8,246.0 1011.1,246.3 1012.4,246.6 1013.7,246.9 1015.0,247.2 1016.2,247.5 1017.5,247.8 1018.8,248.2 1020.1,248.5 1021.4,248.9 1022.6,249.2 1023.9,249.6 1025.2,250.0 1026.5,250.4 1027.8,250.8 1029.1,251.3 1030.3,251.7 1031.6,252.2 1032.9,252.6 1034.2,253.1 1035.5,253.6 1036.7,254.1 1038.0,254.6 1039.3,255.1 1040.6,255.6 1041.9,256.1 1043.2,256.7 1044.4,257.2 1045.7,257.8 1047.0,258.4 1048.3,259.0 1049.6,259.5 1050.8,260.2 1052.1,260.8 1053.4,261.4 1054.7,262.0 1056.0,262.7 1057.3,263.3 1058.5,264.0 1059.8,264.7 1061.1,265.3 1062.4,266.0 1063.7,266.7 1064.9,267.5 1066.2,268.2 1067.5,268.9 1068.8,269.6 1070.1,270.4 1071.3,271.1 1072.6,271.9 1073.9,272.7 1075.2,273.5 1076.5,274.2 1077.8,275.0 1079.0,275.8 1080.3,276.6 1081.6,277.4 1082.9,278.2 1084.2,279.0 1085.4,279.9 1086.7,280.7 1088.0,281.5 1089.3,282.3 1090.6,283.1 1091.9,284.0 1093.1,284.8 1094.4,285.6 1095.7,286.5 1097.0,287.3 1098.3,288.1 1099.5,289.0 1100.8,289.8 1102.1,290.6 1103.4,291.5 1104.7,292.3 1106.0,293.1 1107.2,294.0 1108.5,294.8 1109.8,295.6 1111.1,296.4 1112.4,297.2 1113.6,298.0 1114.9,298.9 1116.2,299.7 1117.5,300.4 1118.8,301.2 1120.1,302.0 1121.3,302.8 1122.6,303.6 1123.9,304.3 1125.2,305.1 1126.5,305.8 1127.7,306.6 1129.0,307.3 1130.3,308.0 1131.6,308.8 1132.9,309.5 1134.2,310.2 1135.4,310.9 1136.7,311.5 1138.0,312.2 1139.3,312.9 1140.6,313.5 1141.8,314.2 1143.1,314.8 1144.4,315.4 1145.7,316.0 1147.0,316.6 1148.3,317.2 1149.5,317.8 1150.8,318.4 1152.1,318.9 1153.4,319.5 1154.7,320.0 1155.9,320.5 1157.2,321.0 1158.5,321.5 1159.8,322.0 1161.1,322.4 1162.4,322.9 1163.6,323.3 1164.9,323.7 1166.2,324.1 1167.5,324.5 1168.8,324.9 1170.0,325.3 1171.3,325.6 1172.6,326.0 1173.9,326.3 1175.2,326.6 1176.5,326.9 1177.7,327.1 1179.0,327.4 1180.3,327.6 1181.6,327.9 1182.9,328.1 1184.1,328.3 1185.4,328.4 1186.7,328.6 1188.0,328.8 1189.3,328.9 1190.6,329.0 1191.8,329.1 1193.1,329.2 1194.4,329.3 1195.7,329.4 1197.0,329.5 1198.2,329.5 1199.5,329.6 1200.8,329.6 1202.1,329.6 1203.4,329.7 1204.7,329.7 1205.9,329.7 1207.2,329.7 1208.5,329.6 1209.8,329.6 1211.1,329.6 1212.3,329.6 1213.6,329.5 1214.9,329.5 1216.2,329.4 1217.5,329.3 1218.8,329.3 1220.0,329.2 1221.3,329.1 1222.6,329.1 1223.9,329.0 1225.2,328.9 1226.4,328.8 1227.7,328.7 1229.0,328.6 1230.3,328.5 1231.6,328.5 1232.9,328.4 1234.1,328.3 1235.4,328.2 1236.7,328.1 1238.0,328.0 1239.3,327.9 1240.5,327.8 1241.8,327.7 1243.1,327.6 1244.4,327.6 1245.7,327.5 1247.0,327.4 1248.2,327.3 1249.5,327.2 1250.8,327.1 1252.1,327.1 1253.4,327.0 1254.6,326.9 1255.9,326.8 1257.2,326.8 1258.5,326.7 1259.8,326.6 1261.1,326.6 1262.3,326.5 1263.6,326.4 1264.9,326.4 1266.2,326.3 1267.5,326.2 1268.7,326.2 1270.0,326.1 1271.3,326.0 1272.6,326.0 1273.9,325.9 1275.2,325.9 1276.4,325.8 1277.7,325.7 1279.0,325.7 1280.3,325.6 1281.6,325.6 1282.8,325.5 1284.1,325.4 1285.4,325.4 1286.7,325.3 1288.0,325.3 1289.2,325.2 1290.5,325.1 1291.8,325.1 1293.1,325.0 1294.4,325.0 1295.7,324.9 1296.9,324.8 1298.2,324.8 1299.5,324.7 1300.8,324.7 1302.1,324.6 1303.3,324.5 1304.6,324.5 1305.9,324.4 1307.2,324.3 1308.5,324.3 1309.8,324.2 1311.0,324.2 1312.3,324.1 1313.6,324.0 1314.9,324.0 1316.2,323.9 1317.4,323.8 1318.7,323.8 1320.0,323.7 1321.3,323.6 1322.6,323.5 1323.9,323.5 1325.1,323.4 1326.4,323.3 1327.7,323.2 1329.0,323.2 1330.3,323.1 1331.5,323.0 1332.8,322.9 1334.1,322.8 1335.4,322.7 1336.7,322.7 1338.0,322.6 1339.2,322.5 1340.5,322.4 1341.8,322.3 1343.1,322.2 1344.4,322.1 1345.6,322.0 1346.9,321.9 1348.2,321.8 1349.5,321.7 1350.8,321.6 1352.1,321.5 1353.3,321.4 1354.6,321.3 1355.9,321.1 1357.2,321.0 1358.5,320.9 1359.7,320.8 1361.0,320.7 1362.3,320.5 1363.6,320.4 1364.9,320.3 1366.2,320.2 1367.4,320.0 1368.7,319.9 1370.0,319.7 1371.3,319.6 1372.6,319.4 1373.8,319.3 1375.1,319.1 1376.4,319.0 1377.7,318.8 1379.0,318.7 1380.3,318.5 1381.5,318.3 1382.8,318.2 1384.1,318.0 1385.4,317.8 1386.7,317.7 1387.9,317.5 1389.2,317.3 1390.5,317.1 1391.8,316.9 1393.1,316.7 1394.4,316.5 1395.6,316.3 1396.9,316.1 1398.2,315.9 1399.5,315.7 1400.8,315.5 1402.0,315.3 1403.3,315.0 1404.6,314.8 1405.9,314.6 1407.2,314.4 1408.5,314.1 1409.7,313.9 1411.0,313.6 1412.3,313.4 1413.6,313.1 1414.9,312.9 1416.1,312.6 1417.4,312.3 1418.7,312.1 1420.0,311.8 1421.3,311.5 1422.6,311.2 1423.8,311.0 1425.1,310.7 1426.4,310.4 1427.7,310.1 1429.0,309.8 1430.2,309.5 1431.5,309.1 1432.8,308.8 1434.1,308.5 1435.4,308.2 1436.7,307.8 1437.9,307.5 1439.2,307.2 1440.5,306.8 1441.8,306.5 1443.1,306.1 1444.3,305.8 1445.6,305.4 1446.9,305.0 1448.2,304.6 1449.5,304.3 1450.8,303.9 1452.0,303.5 1453.3,303.1 1454.6,302.7 1455.9,302.3 1457.2,301.9 1458.4,301.5 1459.7,301.1 1461.0,300.7 1462.3,300.3 1463.6,299.9 1464.9,299.5 1466.1,299.1 1467.4,298.6 1468.7,298.2 1470.0,297.8 1471.3,297.4 1472.5,296.9 1473.8,296.5 1475.1,296.1 1476.4,295.7 1477.7,295.2 1479.0,294.8 1480.2,294.4 1481.5,293.9 1482.8,293.5 1484.1,293.1 1485.4,292.7 1486.6,292.2 1487.9,291.8 1489.2,291.4 1490.5,290.9 1491.8,290.5 1493.1,290.1 1494.3,289.6 1495.6,289.2 1496.9,288.8 1498.2,288.4 1499.5,288.0 1500.7,287.5 1502.0,287.1 1503.3,286.7 1504.6,286.3 1505.9,285.9 1507.1,285.5 1508.4,285.1 1509.7,284.7 1511.0,284.3 1512.3,283.9 1513.6,283.5 1514.8,283.1 1516.1,282.7 1517.4,282.3 1518.7,281.9 1520.0,281.6 1521.2,281.2 1522.5,280.8 1523.8,280.5 1525.1,280.1 1526.4,279.8 1527.7,279.4 1528.9,279.1 1530.2,278.7 1531.5,278.4 1532.8,278.1 1534.1,277.7 1535.3,277.4 1536.6,277.1 1537.9,276.8 1539.2,276.5 1540.5,276.2 1541.8,275.9 1543.0,275.7 1544.3,275.4 1545.6,275.1 1546.9,274.9 1548.2,274.6 1549.4,274.4 1550.7,274.1 1552.0,273.9 1553.3,273.7 1554.6,273.5 1555.9,273.3 1557.1,273.1 1558.4,272.9 1559.7,272.7 1561.0,272.5 1562.3,272.4 1563.5,272.2 1564.8,272.1 1566.1,271.9 1567.4,271.8 1568.7,271.7 1570.0,271.6 1571.2,271.5 1572.5,271.4 1573.8,271.3 1575.1,271.3 1576.4,271.2 1577.6,271.2 1578.9,271.1 1580.2,271.1 1581.5,271.1 1582.8,271.1 1584.1,271.1 1585.3,271.1 1586.6,271.1 1587.9,271.2 1589.2,271.2 1590.5,271.3 1591.7,271.4 1593.0,271.5 1594.3,271.6 1595.6,271.7 1596.9,271.8 1598.2,272.0 1599.4,272.1 1600.7,272.3 1602.0,272.5" fill="none" stroke="#4d4d4d" stroke-width="8.6" stroke-linejoin="round" stroke-linecap="butt"/>
<polyline points="962.4,334.2 963.7,334.3 965.0,334.5 966.2,334.6 967.5,334.8 968.8,334.9 970.1,335.1 971.4,335.2 972.7,335.4 973.9,335.5 975.2,335.7 976.5,335.9 977.8,336.0 979.1,336.2 980.4,336.4 981.6,336.6 982.9,336.7 984.2,336.9 985.5,337.1 986.8,337.3 988.0,337.5 989.3,337.7 990.6,337.9 991.9,338.1 993.2,338.3 994.5,338.5 995.7,338.7 997.0,338.9 998.3,339.1 999.6,339.3 1000.9,339.5 1002.2,339.8 1003.4,340.0 1004.7,340.2 1006.0,340.4 1007.3,340.6 1008.6,340.9 1009.8,341.1 1011.1,341.3 1012.4,341.5 1013.7,341.8 1015.0,342.0 1016.3,342.2 1017.5,342.5 1018.8,342.7 1020.1,342.9 1021.4,343.2 1022.7,343.4 1024.0,343.6 1025.2,343.9 1026.5,344.1 1027.8,344.4 1029.1,344.6 1030.4,344.8 1031.6,345.1 1032.9,345.3 1034.2,345.6 1035.5,345.8 1036.8,346.1 1038.1,346.3 1039.3,346.5 1040.6,346.8 1041.9,347.0 1043.2,347.3 1044.5,347.5 1045.8,347.7 1047.0,348.0 1048.3,348.2 1049.6,348.5 1050.9,348.7 1052.2,348.9 1053.4,349.2 1054.7,349.4 1056.0,349.6 1057.3,349.9 1058.6,350.1 1059.9,350.3 1061.1,350.6 1062.4,350.8 1063.7,351.0 1065.0,351.3 1066.3,351.5 1067.6,351.7 1068.8,351.9 1070.1,352.2 1071.4,352.4 1072.7,352.6 1074.0,352.8 1075.2,353.0 1076.5,353.2 1077.8,353.5 1079.1,353.7 1080.4,353.9 1081.7,354.1 1082.9,354.3 1084.2,354.5 1085.5,354.7 1086.8,354.9 1088.1,355.1 1089.4,355.2 1090.6,355.4 1091.9,355.6 1093.2,355.8 1094.5,356.0 1095.8,356.2 1097.0,356.3 1098.3,356.5 1099.6,356.7 1100.9,356.8 1102.2,357.0 1103.5,357.2 1104.7,357.3 1106.0,357.5 1107.3,357.6 1108.6,357.7 1109.9,357.9 1111.2,358.0 1112.4,358.2 1113.7,358.3 1115.0,358.4 1116.3,358.5 1117.6,358.6 1118.8,358.8 1120.1,358.8 1121.4,358.9 1122.7,359.0 1124.0,359.1 1125.3,359.1 1126.5,359.1 1127.8,359.1 1129.1,359.1 1130.4,359.0 1131.7,358.9 1133.0,358.8 1134.2,358.6 1135.5,358.4 1136.8,358.1 1138.1,357.9 1139.4,357.6 1140.6,357.2 1141.9,356.9 1143.2,356.5 1144.5,356.0 1145.8,355.6 1147.1,355.1 1148.3,354.6 1149.6,354.0 1150.9,353.4 1152.2,352.8 1153.5,352.2 1154.8,351.5 1156.0,350.8 1157.3,350.0 1158.6,349.3 1159.9,348.5 1161.2,347.7 1162.4,346.9 1163.7,346.0 1165.0,345.1 1166.3,344.2 1167.6,343.3 1168.9,342.4 1170.1,341.5 1171.4,340.5 1172.7,339.5 1174.0,338.6 1175.3,337.6 1176.6,336.6 1177.8,335.5 1179.1,334.5 1180.4,333.4 1181.7,332.4 1183.0,331.3 1184.2,330.1 1185.5,329.0 1186.8,327.8 1188.1,326.6 1189.4,325.4 1190.7,324.1 1191.9,322.8 1193.2,321.5 1194.5,320.1 1195.8,318.7 1197.1,317.2 1198.4,315.7 1199.6,314.2 1200.9,312.6 1202.2,311.0 1203.5,309.3 1204.8,307.6 1206.0,305.8 1207.3,304.0 1208.6,302.1 1209.9,300.2 1211.2,298.2 1212.5,296.2 1213.7,294.1 1215.0,291.9 1216.3,289.8 1217.6,287.5 1218.9,285.3 1220.2,283.0 1221.4,280.7 1222.7,278.4 1224.0,276.0 1225.3,273.7 1226.6,271.4 1227.8,269.1 1229.1,266.8 1230.4,264.5 1231.7,262.2 1233.0,260.0 1234.3,257.7 1235.5,255.5 1236.8,253.3 1238.1,251.1 1239.4,248.9 1240.7,246.7 1242.0,244.6 1243.2,242.4 1244.5,240.4 1245.8,238.3 1247.1,236.3 1248.4,234.2 1249.6,232.3 1250.9,230.3 1252.2,228.4 1253.5,226.6 1254.8,224.7 1256.1,222.9 1257.3,221.2 1258.6,219.5 1259.9,217.8 1261.2,216.2 1262.5,214.6 1263.8,213.1 1265.0,211.6 1266.3,210.1 1267.6,208.7 1268.9,207.3 1270.2,206.0 1271.4,204.7 1272.7,203.5 1274.0,202.3 1275.3,201.2 1276.6,200.1 1277.9,199.0 1279.1,198.0 1280.4,197.0 1281.7,196.1 1283.0,195.2 1284.3,194.4 1285.6,193.6 1286.8,192.9 1288.1,192.2 1289.4,191.6 1290.7,191.0 1292.0,190.4 1293.3,189.9 1294.5,189.4 1295.8,188.9 1297.1,188.5 1298.4,188.1 1299.7,187.8 1300.9,187.4 1302.2,187.1 1303.5,186.8 1304.8,186.6 1306.1,186.3 1307.4,186.1 1308.6,185.9 1309.9,185.7 1311.2,185.6 1312.5,185.4 1313.8,185.2 1315.1,185.1 1316.3,185.0 1317.6,184.8 1318.9,184.7 1320.2,184.6 1321.5,184.5 1322.7,184.4 1324.0,184.4 1325.3,184.3 1326.6,184.2 1327.9,184.2 1329.2,184.2 1330.4,184.1 1331.7,184.1 1333.0,184.1 1334.3,184.1 1335.6,184.1 1336.9,184.1 1338.1,184.1 1339.4,184.2 1340.7,184.2 1342.0,184.3 1343.3,184.3 1344.5,184.4 1345.8,184.5 1347.1,184.5 1348.4,184.6 1349.7,184.7 1351.0,184.9 1352.2,185.0 1353.5,185.1 1354.8,185.2 1356.1,185.4 1357.4,185.5 1358.7,185.7 1359.9,185.9 1361.2,186.1 1362.5,186.3 1363.8,186.5 1365.1,186.7 1366.3,186.9 1367.6,187.1 1368.9,187.3 1370.2,187.6 1371.5,187.8 1372.8,188.1 1374.0,188.3 1375.3,188.6 1376.6,188.9 1377.9,189.1 1379.2,189.4 1380.5,189.7 1381.7,190.1 1383.0,190.4 1384.3,190.7 1385.6,191.0 1386.9,191.4 1388.1,191.7 1389.4,192.1 1390.7,192.4 1392.0,192.8 1393.3,193.2 1394.6,193.6 1395.8,194.0 1397.1,194.4 1398.4,194.8 1399.7,195.2 1401.0,195.6 1402.3,196.0 1403.5,196.5 1404.8,196.9 1406.1,197.3 1407.4,197.8 1408.7,198.3 1409.9,198.7 1411.2,199.2 1412.5,199.7 1413.8,200.2 1415.1,200.7 1416.4,201.2 1417.6,201.7 1418.9,202.2 1420.2,202.8 1421.5,203.3 1422.8,203.8 1424.1,204.4 1425.3,204.9 1426.6,205.5 1427.9,206.0 1429.2,206.6 1430.5,207.2 1431.7,207.8 1433.0,208.3 1434.3,208.9 1435.6,209.5 1436.9,210.1 1438.2,210.7 1439.4,211.4 1440.7,212.0 1442.0,212.6 1443.3,213.2 1444.6,213.8 1445.9,214.5 1447.1,215.1 1448.4,215.8 1449.7,216.4 1451.0,217.1 1452.3,217.7 1453.5,218.4 1454.8,219.0 1456.1,219.7 1457.4,220.4 1458.7,221.0 1460.0,221.7 1461.2,222.4 1462.5,223.1 1463.8,223.8 1465.1,224.4 1466.4,225.1 1467.7,225.8 1468.9,226.5 1470.2,227.2 1471.5,227.9 1472.8,228.6 1474.1,229.3 1475.3,230.0 1476.6,230.7 1477.9,231.4 1479.2,232.1 1480.5,232.8 1481.8,233.5 1483.0,234.2 1484.3,235.0 1485.6,235.7 1486.9,236.4 1488.2,237.1 1489.5,237.8 1490.7,238.5 1492.0,239.2 1493.3,239.9 1494.6,240.7 1495.9,241.4 1497.1,242.1 1498.4,242.8 1499.7,243.5 1501.0,244.2 1502.3,244.9 1503.6,245.6 1504.8,246.3 1506.1,247.0 1507.4,247.8 1508.7,248.5 1510.0,249.2 1511.3,249.9 1512.5,250.6 1513.8,251.3 1515.1,252.0 1516.4,252.6 1517.7,253.3 1518.9,254.0 1520.2,254.7 1521.5,255.4 1522.8,256.1 1524.1,256.8 1525.4,257.4 1526.6,258.1 1527.9,258.8 1529.2,259.4 1530.5,260.1 1531.8,260.7 1533.1,261.4 1534.3,262.0 1535.6,262.6 1536.9,263.2 1538.2,263.8 1539.5,264.4 1540.7,265.0 1542.0,265.5 1543.3,266.1 1544.6,266.6 1545.9,267.1 1547.2,267.5 1548.4,268.0 1549.7,268.4 1551.0,268.8 1552.3,269.2 1553.6,269.5 1554.9,269.8 1556.1,270.1 1557.4,270.4 1558.7,270.6 1560.0,270.8 1561.3,270.9 1562.5,271.0 1563.8,271.1 1565.1,271.2 1566.4,271.2 1567.7,271.1 1569.0,271.1 1570.2,270.9 1571.5,270.8 1572.8,270.6 1574.1,270.4 1575.4,270.2 1576.7,270.0 1577.9,269.8 1579.2,269.5 1580.5,269.3 1581.8,269.1 1583.1,268.9 1584.3,268.8 1585.6,268.6 1586.9,268.6 1588.2,268.5 1589.5,268.5 1590.8,268.6 1592.0,268.7 1593.3,268.9 1594.6,269.1 1595.9,269.5 1597.2,269.9 1598.5,270.4 1599.7,271.0 1601.0,271.7 1602.3,272.5" fill="none" stroke="#4d4d4d" stroke-width="8.6" stroke-linejoin="round" stroke-linecap="butt"/>
<polyline points="960.1,516.9 961.4,517.2 962.7,517.4 964.0,517.7 965.2,518.0 966.5,518.2 967.8,518.5 969.1,518.8 970.4,519.1 971.7,519.4 973.0,519.6 974.3,519.9 975.5,520.3 976.8,520.6 978.1,520.9 979.4,521.2 980.7,521.5 982.0,521.9 983.3,522.2 984.5,522.5 985.8,522.9 987.1,523.2 988.4,523.6 989.7,524.0 991.0,524.3 992.3,524.7 993.5,525.1 994.8,525.5 996.1,525.9 997.4,526.3 998.7,526.7 1000.0,527.2 1001.3,527.6 1002.6,528.0 1003.8,528.5 1005.1,528.9 1006.4,529.4 1007.7,529.8 1009.0,530.3 1010.3,530.8 1011.6,531.3 1012.8,531.8 1014.1,532.3 1015.4,532.8 1016.7,533.3 1018.0,533.8 1019.3,534.4 1020.6,534.9 1021.8,535.5 1023.1,536.0 1024.4,536.6 1025.7,537.2 1027.0,537.7 1028.3,538.3 1029.6,538.9 1030.9,539.6 1032.1,540.2 1033.4,540.8 1034.7,541.4 1036.0,542.1 1037.3,542.8 1038.6,543.4 1039.9,544.1 1041.1,544.8 1042.4,545.5 1043.7,546.2 1045.0,546.9 1046.3,547.6 1047.6,548.4 1048.9,549.1 1050.1,549.9 1051.4,550.6 1052.7,551.4 1054.0,552.2 1055.3,553.0 1056.6,553.8 1057.9,554.6 1059.2,555.4 1060.4,556.3 1061.7,557.1 1063.0,558.0 1064.3,558.9 1065.6,559.7 1066.9,560.6 1068.2,561.5 1069.4,562.5 1070.7,563.4 1072.0,564.3 1073.3,565.3 1074.6,566.2 1075.9,567.2 1077.2,568.2 1078.4,569.2 1079.7,570.2 1081.0,571.2 1082.3,572.3 1083.6,573.3 1084.9,574.3 1086.2,575.4 1087.5,576.4 1088.7,577.5 1090.0,578.6 1091.3,579.6 1092.6,580.7 1093.9,581.8 1095.2,582.9 1096.5,584.0 1097.7,585.0 1099.0,586.1 1100.3,587.2 1101.6,588.3 1102.9,589.3 1104.2,590.4 1105.5,591.5 1106.7,592.5 1108.0,593.6 1109.3,594.6 1110.6,595.7 1111.9,596.7 1113.2,597.7 1114.5,598.8 1115.8,599.8 1117.0,600.7 1118.3,601.7 1119.6,602.7 1120.9,603.7 1122.2,604.6 1123.5,605.5 1124.8,606.4 1126.0,607.3 1127.3,608.2 1128.6,609.1 1129.9,609.9 1131.2,610.7 1132.5,611.5 1133.8,612.3 1135.0,613.1 1136.3,613.8 1137.6,614.5 1138.9,615.2 1140.2,615.9 1141.5,616.5 1142.8,617.2 1144.1,617.7 1145.3,618.3 1146.6,618.8 1147.9,619.3 1149.2,619.8 1150.5,620.2 1151.8,620.6 1153.1,620.9 1154.3,621.2 1155.6,621.4 1156.9,621.6 1158.2,621.7 1159.5,621.8 1160.8,621.7 1162.1,621.7 1163.3,621.5 1164.6,621.3 1165.9,621.0 1167.2,620.6 1168.5,620.1 1169.8,619.6 1171.1,619.0 1172.4,618.4 1173.6,617.6 1174.9,616.8 1176.2,615.9 1177.5,615.0 1178.8,613.9 1180.1,612.8 1181.4,611.6 1182.6,610.3 1183.9,609.0 1185.2,607.5 1186.5,606.0 1187.8,604.4 1189.1,602.7 1190.4,600.9 1191.6,599.0 1192.9,597.1 1194.2,595.0 1195.5,592.9 1196.8,590.7 1198.1,588.4 1199.4,586.0 1200.7,583.5 1201.9,580.9 1203.2,578.3 1204.5,575.5 1205.8,572.7 1207.1,569.8 1208.4,566.9 1209.7,563.9 1210.9,560.8 1212.2,557.6 1213.5,554.4 1214.8,551.2 1216.1,547.9 1217.4,544.6 1218.7,541.2 1219.9,537.9 1221.2,534.4 1222.5,531.0 1223.8,527.5 1225.1,524.0 1226.4,520.5 1227.7,517.0 1229.0,513.5 1230.2,510.0 1231.5,506.5 1232.8,503.0 1234.1,499.5 1235.4,496.0 1236.7,492.5 1238.0,489.1 1239.2,485.6 1240.5,482.2 1241.8,478.8 1243.1,475.4 1244.4,472.0 1245.7,468.7 1247.0,465.4 1248.2,462.1 1249.5,458.9 1250.8,455.7 1252.1,452.6 1253.4,449.5 1254.7,446.4 1256.0,443.4 1257.3,440.5 1258.5,437.6 1259.8,434.8 1261.1,432.0 1262.4,429.3 1263.7,426.7 1265.0,424.1 1266.3,421.6 1267.5,419.2 1268.8,416.9 1270.1,414.6 1271.4,412.5 1272.7,410.4 1274.0,408.3 1275.3,406.4 1276.5,404.5 1277.8,402.8 1279.1,401.0 1280.4,399.4 1281.7,397.8 1283.0,396.3 1284.3,394.8 1285.6,393.4 1286.8,392.1 1288.1,390.8 1289.4,389.6 1290.7,388.4 1292.0,387.3 1293.3,386.2 1294.6,385.2 1295.8,384.2 1297.1,383.3 1298.4,382.4 1299.7,381.5 1301.0,380.7 1302.3,379.9 1303.6,379.2 1304.8,378.5 1306.1,377.8 1307.4,377.1 1308.7,376.5 1310.0,375.8 1311.3,375.2 1312.6,374.7 1313.9,374.1 1315.1,373.6 1316.4,373.0 1317.7,372.5 1319.0,372.0 1320.3,371.5 1321.6,371.1 1322.9,370.6 1324.1,370.2 1325.4,369.8 1326.7,369.3 1328.0,368.9 1329.3,368.6 1330.6,368.2 1331.9,367.8 1333.1,367.5 1334.4,367.1 1335.7,366.8 1337.0,366.5 1338.3,366.2 1339.6,365.9 1340.9,365.6 1342.2,365.3 1343.4,365.0 1344.7,364.8 1346.0,364.5 1347.3,364.3 1348.6,364.0 1349.9,363.8 1351.2,363.6 1352.4,363.3 1353.7,363.1 1355.0,362.9 1356.3,362.7 1357.6,362.5 1358.9,362.3 1360.2,362.1 1361.4,361.9 1362.7,361.8 1364.0,361.6 1365.3,361.4 1366.6,361.2 1367.9,361.0 1369.2,360.9 1370.5,360.7 1371.7,360.5 1373.0,360.4 1374.3,360.2 1375.6,360.0 1376.9,359.9 1378.2,359.7 1379.5,359.5 1380.7,359.3 1382.0,359.2 1383.3,359.0 1384.6,358.8 1385.9,358.6 1387.2,358.4 1388.5,358.3 1389.7,358.1 1391.0,357.9 1392.3,357.7 1393.6,357.5 1394.9,357.2 1396.2,357.0 1397.5,356.8 1398.8,356.6 1400.0,356.3 1401.3,356.1 1402.6,355.8 1403.9,355.6 1405.2,355.3 1406.5,355.0 1407.8,354.7 1409.0,354.4 1410.3,354.1 1411.6,353.8 1412.9,353.5 1414.2,353.1 1415.5,352.8 1416.8,352.4 1418.0,352.1 1419.3,351.7 1420.6,351.3 1421.9,350.9 1423.2,350.5 1424.5,350.0 1425.8,349.6 1427.1,349.1 1428.3,348.6 1429.6,348.1 1430.9,347.6 1432.2,347.1 1433.5,346.6 1434.8,346.0 1436.1,345.5 1437.3,344.9 1438.6,344.3 1439.9,343.7 1441.2,343.1 1442.5,342.4 1443.8,341.8 1445.1,341.1 1446.3,340.5 1447.6,339.8 1448.9,339.1 1450.2,338.4 1451.5,337.7 1452.8,337.0 1454.1,336.2 1455.4,335.5 1456.6,334.7 1457.9,334.0 1459.2,333.2 1460.5,332.4 1461.8,331.7 1463.1,330.9 1464.4,330.1 1465.6,329.3 1466.9,328.5 1468.2,327.7 1469.5,326.8 1470.8,326.0 1472.1,325.2 1473.4,324.4 1474.6,323.5 1475.9,322.7 1477.2,321.8 1478.5,321.0 1479.8,320.1 1481.1,319.3 1482.4,318.4 1483.7,317.6 1484.9,316.7 1486.2,315.8 1487.5,315.0 1488.8,314.1 1490.1,313.2 1491.4,312.4 1492.7,311.5 1493.9,310.6 1495.2,309.8 1496.5,308.9 1497.8,308.0 1499.1,307.2 1500.4,306.3 1501.7,305.5 1502.9,304.6 1504.2,303.8 1505.5,302.9 1506.8,302.1 1508.1,301.3 1509.4,300.4 1510.7,299.6 1512.0,298.8 1513.2,297.9 1514.5,297.1 1515.8,296.3 1517.1,295.5 1518.4,294.7 1519.7,293.9 1521.0,293.2 1522.2,292.4 1523.5,291.6 1524.8,290.9 1526.1,290.1 1527.4,289.4 1528.7,288.7 1530.0,287.9 1531.2,287.2 1532.5,286.5 1533.8,285.9 1535.1,285.2 1536.4,284.5 1537.7,283.9 1539.0,283.2 1540.3,282.6 1541.5,282.0 1542.8,281.4 1544.1,280.8 1545.4,280.2 1546.7,279.6 1548.0,279.1 1549.3,278.5 1550.5,278.0 1551.8,277.5 1553.1,277.0 1554.4,276.6 1555.7,276.1 1557.0,275.7 1558.3,275.2 1559.5,274.8 1560.8,274.4 1562.1,274.1 1563.4,273.7 1564.7,273.4 1566.0,273.0 1567.3,272.7 1568.6,272.5 1569.8,272.2 1571.1,272.0 1572.4,271.7 1573.7,271.5 1575.0,271.4 1576.3,271.2 1577.6,271.1 1578.8,271.0 1580.1,270.9 1581.4,270.8 1582.7,270.8 1584.0,270.7 1585.3,270.7 1586.6,270.8 1587.8,270.8 1589.1,270.9 1590.4,271.0 1591.7,271.1 1593.0,271.3 1594.3,271.4 1595.6,271.6 1596.9,271.9 1598.1,272.1 1599.4,272.4 1600.7,272.7 1602.0,273.1" fill="none" stroke="#4d4d4d" stroke-width="8.6" stroke-linejoin="round" stroke-linecap="butt"/>
<text x="804.40" y="62.70" font-size="91.00" font-family='"Liberation Sans", Arial, Helvetica, sans-serif'>B</text>
<text x="905.53" y="170.10" font-size="38.20" font-family='"Liberation Sans", Arial, Helvetica, sans-serif'>20</text>
<text x="922.13" y="284.70" font-size="38.20" font-family='"Liberation Sans", Arial, Helvetica, sans-serif'>0</text>
<text x="896.73" y="399.60" font-size="38.20" font-family='"Liberation Sans", Arial, Helvetica, sans-serif'>-20</text>
<text x="896.73" y="514.30" font-size="38.20" font-family='"Liberation Sans", Arial, Helvetica, sans-serif'>-40</text>
<text x="896.73" y="629.00" font-size="38.20" font-family='"Liberation Sans", Arial, Helvetica, sans-serif'>-60</text>
<text x="933.81" y="723.50" font-size="40.50" textLength="77.54" lengthAdjust="spacingAndGlyphs" font-family='"Liberation Sans", Arial, Helvetica, sans-serif'>0.01</text>
<text x="1063.98" y="723.50" font-size="40.50" textLength="52.73" lengthAdjust="spacingAndGlyphs" font-family='"Liberation Sans", Arial, Helvetica, sans-serif'>0.1</text>
<text x="1198.91" y="723.50" font-size="40.50" textLength="16.97" lengthAdjust="spacingAndGlyphs" font-family='"Liberation Sans", Arial, Helvetica, sans-serif'>1</text>
<text x="1317.22" y="723.50" font-size="40.50" textLength="44.27" lengthAdjust="spacingAndGlyphs" font-family='"Liberation Sans", Arial, Helvetica, sans-serif'>10</text>
<text x="1436.22" y="723.50" font-size="40.50" textLength="66.31" lengthAdjust="spacingAndGlyphs" font-family='"Liberation Sans", Arial, Helvetica, sans-serif'>100</text>
<text x="1553.77" y="723.50" font-size="40.50" font-family='"Liberation Sans", Arial, Helvetica, sans-serif'>1000</text>
<text x="1178.10" y="760.80" font-size="44.50" font-family='"Liberation Sans", Arial, Helvetica, sans-serif'>Time (msec)</text>
<text x="-614.84" y="887.00" font-size="44.00" font-family='"Liberation Sans", Arial, Helvetica, sans-serif' transform="rotate(-90)">Diff. Absorbance (mOD)</text>
<text x="959.82" y="144.70" font-size="52.00" textLength="160.71" lengthAdjust="spacingAndGlyphs" font-family='"Liberation Sans", Arial, Helvetica, sans-serif' fill="#6e00e6">405nm</text>
<text x="1065.73" y="252.50" font-size="52.00" font-family='"Liberation Sans", Arial, Helvetica, sans-serif' fill="#00a8ff">465nm</text>
<text x="1299.61" y="155.60" font-size="52.00" font-family='"Liberation Sans", Arial, Helvetica, sans-serif' fill="#ff0000">595nm</text>
<text x="970.32" y="662.10" font-size="52.00" font-family='"Liberation Sans", Arial, Helvetica, sans-serif' fill="#00e600">550nm</text>
<polyline points="533.7,928.2 537.1,929.7 540.3,931.3 543.6,932.9 546.8,934.6 550.1,936.3 553.3,938.0 556.4,939.8 559.6,941.7 562.7,943.6 565.8,945.5 568.8,947.5 571.9,949.6 574.9,951.6 577.8,953.7 580.8,955.9 583.7,958.1 586.5,960.4 589.4,962.6 592.2,965.0 594.9,967.3 597.7,969.8 600.4,972.2 603.1,974.7 605.7,977.2 608.3,979.8 610.8,982.4 613.3,985.0 615.8,987.7 618.3,990.4 620.7,993.2 623.0,995.9 625.3,998.7 627.6,1001.6 629.8,1004.5 632.0,1007.4 634.2,1010.3 636.3,1013.3 638.4,1016.3 640.4,1019.3 642.4,1022.4 644.3,1025.5 646.2,1028.6 648.0,1031.8 649.8,1034.9 651.6,1038.1 653.3,1041.4 654.9,1044.6 656.5,1047.9 658.1,1051.2 659.6,1054.5 661.1,1057.8 662.5,1061.2 663.8,1064.6 665.2,1068.0 666.4,1071.4 667.6,1074.8 668.8,1078.3 669.9,1081.8 671.0,1085.3" fill="none" stroke="#231815" stroke-width="5.0" stroke-linejoin="round" stroke-linecap="butt"/>
<polyline points="681.4,1217.4 680.8,1221.0 680.2,1224.6 679.5,1228.2 678.7,1231.8 677.9,1235.4 677.0,1238.9 676.1,1242.5 675.1,1246.0 674.1,1249.5 673.0,1253.0 671.9,1256.5 670.7,1260.0 669.5,1263.4 668.2,1266.9 666.9,1270.3 665.5,1273.7 664.1,1277.1 662.6,1280.4 661.1,1283.7 659.5,1287.0 657.9,1290.3 656.3,1293.6 654.6,1296.8 652.8,1300.0 651.0,1303.2 649.2,1306.4 647.3,1309.5 645.3,1312.6 643.3,1315.7 641.3,1318.8 639.2,1321.8 637.1,1324.8 635.0,1327.7 632.8,1330.7 630.5,1333.6 628.2,1336.4 625.9,1339.2 623.6,1342.0 621.2,1344.8 618.7,1347.5 616.2,1350.2 613.7,1352.9 611.1,1355.5 608.5,1358.1 605.9,1360.6 603.2,1363.1 600.5,1365.6 597.8,1368.0 595.0,1370.4 592.2,1372.7 589.3,1375.0 586.5,1377.3 583.6,1379.5 580.6,1381.7 577.6,1383.8 574.6,1385.9 571.6,1388.0 568.5,1390.0 565.4,1391.9" fill="none" stroke="#231815" stroke-width="5.0" stroke-linejoin="round" stroke-linecap="butt"/>
<polyline points="310.7,1424.5 307.0,1423.0 303.3,1421.4 299.6,1419.8 296.0,1418.1 292.4,1416.3 288.8,1414.5 285.2,1412.6 281.7,1410.7 278.1,1408.8 274.7,1406.7 271.2,1404.7 267.8,1402.5 264.4,1400.3 261.1,1398.1 257.8,1395.8 254.5,1393.5 251.2,1391.1 248.0,1388.6 244.9,1386.1 241.8,1383.6 238.7,1381.0 235.6,1378.4 232.6,1375.7 229.7,1373.0 226.7,1370.2 223.9,1367.4 221.0,1364.5 218.2,1361.6 215.5,1358.7 212.8,1355.7 210.1,1352.7 207.5,1349.6 205.0,1346.5 202.5,1343.4 200.0,1340.2 197.6,1336.9 195.2,1333.7 192.9,1330.4 190.7,1327.1 188.5,1323.7 186.3,1320.3 184.2,1316.9 182.2,1313.4 180.2,1309.9 178.2,1306.4 176.3,1302.8 174.5,1299.2 172.7,1295.6 171.0,1292.0 169.3,1288.3 167.7,1284.6 166.2,1280.9 164.7,1277.2 163.3,1273.4 161.9,1269.6 160.6,1265.8 159.3,1262.0 158.1,1258.2 157.0,1254.3" fill="none" stroke="#231815" stroke-width="5.0" stroke-linejoin="round" stroke-linecap="butt"/>
<polyline points="144.8,1127.1 145.3,1123.6 145.8,1120.2 146.4,1116.8 147.0,1113.4 147.7,1110.0 148.4,1106.6 149.2,1103.2 150.0,1099.8 150.8,1096.5 151.7,1093.1 152.7,1089.8 153.7,1086.5 154.7,1083.2 155.8,1079.9 156.9,1076.6 158.1,1073.3 159.3,1070.1 160.6,1066.8 161.9,1063.6 163.2,1060.4 164.6,1057.3 166.1,1054.1 167.6,1051.0 169.1,1047.9 170.7,1044.8 172.3,1041.7 173.9,1038.7 175.6,1035.7 177.4,1032.7 179.2,1029.7 181.0,1026.7 182.9,1023.8 184.8,1020.9 186.7,1018.1 188.7,1015.2 190.7,1012.4 192.8,1009.6 194.9,1006.9 197.0,1004.1 199.2,1001.4 201.4,998.8 203.7,996.1 206.0,993.5 208.3,991.0 210.7,988.4 213.1,985.9 215.5,983.5 218.0,981.0 220.5,978.6 223.0,976.3 225.6,973.9 228.2,971.6 230.8,969.4 233.5,967.1 236.2,965.0 238.9,962.8 241.6,960.7 244.4,958.6 247.2,956.6" fill="none" stroke="#231815" stroke-width="5.0" stroke-linejoin="round" stroke-linecap="butt"/>
<polygon points="681.5,1129.5 642.7,1078.5 672.2,1084.9 691.3,1064.9" fill="#231815"/>
<polygon points="528.1,1421.1 568.7,1369.3 569.6,1398.6 593.8,1412.4" fill="#231815"/>
<polygon points="142.4,1208.3 134.1,1273.8 152.4,1255.6 183.1,1260.6" fill="#231815"/>
<polygon points="288.5,929.5 224.0,943.0 245.5,954.2 252.6,984.5" fill="#231815"/>
<polyline points="123.5,1017.9 124.6,1017.7 125.8,1017.5 126.9,1017.3 128.0,1017.1 129.2,1016.9 130.3,1016.7 131.4,1016.5 132.5,1016.3 133.7,1016.1 134.8,1015.9 135.9,1015.7 137.0,1015.5 138.2,1015.2 139.3,1015.0 140.4,1014.8 141.5,1014.5 142.6,1014.3 143.7,1014.0 144.8,1013.8 145.9,1013.5 147.1,1013.2 148.2,1012.9 149.3,1012.6 150.3,1012.3 151.4,1012.0 152.5,1011.7 153.6,1011.4 154.7,1011.0 155.8,1010.7 156.9,1010.3 157.9,1010.0 159.0,1009.6 160.1,1009.2 161.1,1008.8 162.2,1008.3 163.2,1007.9 164.3,1007.5 165.3,1007.0 166.4,1006.6 167.4,1006.1 168.5,1005.6 169.5,1005.1 170.5,1004.6 171.5,1004.1 172.6,1003.6 173.6,1003.1 174.6,1002.6 175.6,1002.1 176.6,1001.5 177.6,1001.0 178.7,1000.5 179.7,999.9 180.7,999.4 181.7,998.8 182.7,998.3 183.7,997.7 184.7,997.1 185.6,996.6 186.6,996.0 187.6,995.4 188.6,994.9 189.6,994.3 190.6,993.7 191.5,993.1 192.5,992.5 193.5,991.9 194.5,991.4 195.4,990.8 196.4,990.2 197.4,989.6 198.3,988.9 199.3,988.3 200.3,987.7 201.2,987.1 202.2,986.5 203.1,985.9 204.1,985.2 205.0,984.6 206.0,984.0" fill="none" stroke="#ff0000" stroke-width="8.4" stroke-linejoin="round" stroke-linecap="butt"/>
<polygon points="235.1,966.9 186.5,982.1 204.0,986.1 210.4,1012.4" fill="#ff0000"/>
<polyline points="637.8,1323.5 637.4,1324.5 637.1,1325.6 636.7,1326.6 636.4,1327.6 636.0,1328.7 635.7,1329.7 635.3,1330.7 635.0,1331.8 634.6,1332.8 634.3,1333.8 634.0,1334.9 633.6,1335.9 633.3,1337.0 633.0,1338.0 632.7,1339.1 632.4,1340.1 632.2,1341.2 631.9,1342.2 631.7,1343.3 631.4,1344.3 631.2,1345.4 631.0,1346.4 630.8,1347.5 630.6,1348.6 630.4,1349.6 630.2,1350.7 630.1,1351.8 630.0,1352.9 629.8,1353.9 629.7,1355.0 629.6,1356.1 629.5,1357.2 629.5,1358.3 629.4,1359.4 629.3,1360.5 629.3,1361.6 629.2,1362.6 629.2,1363.7 629.2,1364.8 629.2,1365.9 629.1,1367.0 629.1,1368.1 629.1,1369.2 629.2,1370.3 629.2,1371.4 629.2,1372.5 629.2,1373.6 629.3,1374.7 629.3,1375.8 629.3,1376.9 629.4,1377.9 629.4,1379.0 629.5,1380.1 629.6,1381.2 629.6,1382.3 629.7,1383.4 629.8,1384.5 629.9,1385.6 630.0,1386.6 630.1,1387.7 630.3,1388.8 630.4,1389.9 630.5,1391.0 630.7,1392.0 630.8,1393.1 631.0,1394.2 631.2,1395.3 631.4,1396.3 631.6,1397.4 631.8,1398.5 632.0,1399.5 632.2,1400.6 632.5,1401.7 632.7,1402.7 633.0,1403.8 633.2,1404.8 633.5,1405.9 633.7,1406.9 634.0,1408.0" fill="none" stroke="#ff0000" stroke-width="7.0" stroke-linejoin="round" stroke-linecap="butt"/>
<polygon points="643.0,1444.4 610.2,1404.7 636.9,1409.0 648.2,1393.4" fill="#ff0000"/>
<polygon points="595.8,959.8 602.2,964.6 629.9,941.3 635.3,945.6 653.3,925.2 656.2,929.1 684.5,905.2 659.6,869.7 646.5,897.4 638.2,890.6 625.1,916.0 619.7,910.1" fill="#231815"/>
<polygon points="613.9,942.7 622.1,927.6 625.1,932.5 639.7,907.2 646.5,913.0 660.1,886.7 673.3,903.8 659.1,915.5 654.3,911.1 635.8,931.5 631.9,928.1" fill="#fff100"/>
<text x="0.51" y="876.50" font-size="90.50" textLength="63.35" lengthAdjust="spacingAndGlyphs" font-family='"Liberation Sans", Arial, Helvetica, sans-serif'>C</text>
<text x="306.90" y="926.10" font-size="75.50" textLength="148.31" lengthAdjust="spacingAndGlyphs" font-family='"Liberation Sans", Arial, Helvetica, sans-serif' font-weight="bold" fill="#231815">RxR</text>
<text x="455.68" y="941.00" font-size="50.00" textLength="75.72" lengthAdjust="spacingAndGlyphs" font-family='"Liberation Sans", Arial, Helvetica, sans-serif'>541</text>
<text x="625.27" y="1196.20" font-size="75.50" textLength="45.53" lengthAdjust="spacingAndGlyphs" font-family='"Liberation Sans", Arial, Helvetica, sans-serif' font-weight="bold" fill="#231815">L</text>
<text x="674.68" y="1202.60" font-size="50.00" textLength="82.85" lengthAdjust="spacingAndGlyphs" font-family='"Liberation Sans", Arial, Helvetica, sans-serif'>465</text>
<text x="87.37" y="1195.40" font-size="75.50" font-family='"Liberation Sans", Arial, Helvetica, sans-serif' font-weight="bold" fill="#231815">O</text>
<text x="146.51" y="1204.60" font-size="50.00" textLength="82.82" lengthAdjust="spacingAndGlyphs" font-family='"Liberation Sans", Arial, Helvetica, sans-serif'>595</text>
<text x="344.19" y="1465.40" font-size="75.50" textLength="61.88" lengthAdjust="spacingAndGlyphs" font-family='"Liberation Sans", Arial, Helvetica, sans-serif' font-weight="bold" fill="#231815">M</text>
<text x="413.28" y="1473.90" font-size="50.00" textLength="83.06" lengthAdjust="spacingAndGlyphs" font-family='"Liberation Sans", Arial, Helvetica, sans-serif'>405</text>
<text x="680.22" y="893.60" font-size="60.00" textLength="61.61" lengthAdjust="spacingAndGlyphs" font-family='"Liberation Serif", "Times New Roman", serif' font-style="italic">h&#957;</text>
<text x="55.37" y="1037.80" font-size="61.00" textLength="38.84" lengthAdjust="spacingAndGlyphs" font-family='"Liberation Sans", Arial, Helvetica, sans-serif' font-weight="bold">H</text>
<text x="94.38" y="1024.10" font-size="57.50" textLength="32.22" lengthAdjust="spacingAndGlyphs" font-family='"Liberation Sans", Arial, Helvetica, sans-serif'>+</text>
<text x="645.24" y="1486.30" font-size="61.00" textLength="38.11" lengthAdjust="spacingAndGlyphs" font-family='"Liberation Sans", Arial, Helvetica, sans-serif' font-weight="bold">H</text>
<text x="682.63" y="1472.80" font-size="57.50" textLength="32.82" lengthAdjust="spacingAndGlyphs" font-family='"Liberation Sans", Arial, Helvetica, sans-serif'>+</text>
<text x="0.81" y="1094.80" font-size="47.00" textLength="118.10" lengthAdjust="spacingAndGlyphs" font-family='"Liberation Sans", Arial, Helvetica, sans-serif'>0.208</text>
<text x="23.88" y="1126.70" font-size="47.00" textLength="74.49" lengthAdjust="spacingAndGlyphs" font-family='"Liberation Sans", Arial, Helvetica, sans-serif'>sec</text>
<text x="84.06" y="1372.80" font-size="48.00" textLength="91.79" lengthAdjust="spacingAndGlyphs" font-family='"Liberation Sans", Arial, Helvetica, sans-serif'>1.35</text>
<text x="72.25" y="1410.00" font-size="48.00" font-family='"Liberation Sans", Arial, Helvetica, sans-serif'>msec</text>
<text x="648.09" y="1338.70" font-size="46.00" textLength="119.54" lengthAdjust="spacingAndGlyphs" font-family='"Liberation Sans", Arial, Helvetica, sans-serif'>0.203</text>
<text x="649.73" y="1376.70" font-size="46.00" textLength="115.66" lengthAdjust="spacingAndGlyphs" font-family='"Liberation Sans", Arial, Helvetica, sans-serif'>msec</text>
<rect x="1006.1" y="909.6" width="611.1" height="492.19999999999993" fill="none" stroke="#1a1a1a" stroke-width="1.7"/>
<line x1="1006.10" y1="1401.80" x2="1014.60" y2="1401.80" stroke="#000" stroke-width="1.5" stroke-linecap="butt"/>
<line x1="1617.20" y1="1401.80" x2="1608.70" y2="1401.80" stroke="#000" stroke-width="1.5" stroke-linecap="butt"/>
<line x1="1006.10" y1="1375.77" x2="1010.60" y2="1375.77" stroke="#000" stroke-width="1.5" stroke-linecap="butt"/>
<line x1="1617.20" y1="1375.77" x2="1612.70" y2="1375.77" stroke="#000" stroke-width="1.5" stroke-linecap="butt"/>
<line x1="1006.10" y1="1360.54" x2="1010.60" y2="1360.54" stroke="#000" stroke-width="1.5" stroke-linecap="butt"/>
<line x1="1617.20" y1="1360.54" x2="1612.70" y2="1360.54" stroke="#000" stroke-width="1.5" stroke-linecap="butt"/>
<line x1="1006.10" y1="1349.73" x2="1010.60" y2="1349.73" stroke="#000" stroke-width="1.5" stroke-linecap="butt"/>
<line x1="1617.20" y1="1349.73" x2="1612.70" y2="1349.73" stroke="#000" stroke-width="1.5" stroke-linecap="butt"/>
<line x1="1006.10" y1="1341.35" x2="1010.60" y2="1341.35" stroke="#000" stroke-width="1.5" stroke-linecap="butt"/>
<line x1="1617.20" y1="1341.35" x2="1612.70" y2="1341.35" stroke="#000" stroke-width="1.5" stroke-linecap="butt"/>
<line x1="1006.10" y1="1334.51" x2="1010.60" y2="1334.51" stroke="#000" stroke-width="1.5" stroke-linecap="butt"/>
<line x1="1617.20" y1="1334.51" x2="1612.70" y2="1334.51" stroke="#000" stroke-width="1.5" stroke-linecap="butt"/>
<line x1="1006.10" y1="1328.72" x2="1010.60" y2="1328.72" stroke="#000" stroke-width="1.5" stroke-linecap="butt"/>
<line x1="1617.20" y1="1328.72" x2="1612.70" y2="1328.72" stroke="#000" stroke-width="1.5" stroke-linecap="butt"/>
<line x1="1006.10" y1="1323.70" x2="1010.60" y2="1323.70" stroke="#000" stroke-width="1.5" stroke-linecap="butt"/>
<line x1="1617.20" y1="1323.70" x2="1612.70" y2="1323.70" stroke="#000" stroke-width="1.5" stroke-linecap="butt"/>
<line x1="1006.10" y1="1319.28" x2="1010.60" y2="1319.28" stroke="#000" stroke-width="1.5" stroke-linecap="butt"/>
<line x1="1617.20" y1="1319.28" x2="1612.70" y2="1319.28" stroke="#000" stroke-width="1.5" stroke-linecap="butt"/>
<line x1="1006.10" y1="1315.32" x2="1014.60" y2="1315.32" stroke="#000" stroke-width="1.5" stroke-linecap="butt"/>
<line x1="1617.20" y1="1315.32" x2="1608.70" y2="1315.32" stroke="#000" stroke-width="1.5" stroke-linecap="butt"/>
<line x1="1006.10" y1="1289.29" x2="1010.60" y2="1289.29" stroke="#000" stroke-width="1.5" stroke-linecap="butt"/>
<line x1="1617.20" y1="1289.29" x2="1612.70" y2="1289.29" stroke="#000" stroke-width="1.5" stroke-linecap="butt"/>
<line x1="1006.10" y1="1274.06" x2="1010.60" y2="1274.06" stroke="#000" stroke-width="1.5" stroke-linecap="butt"/>
<line x1="1617.20" y1="1274.06" x2="1612.70" y2="1274.06" stroke="#000" stroke-width="1.5" stroke-linecap="butt"/>
<line x1="1006.10" y1="1263.25" x2="1010.60" y2="1263.25" stroke="#000" stroke-width="1.5" stroke-linecap="butt"/>
<line x1="1617.20" y1="1263.25" x2="1612.70" y2="1263.25" stroke="#000" stroke-width="1.5" stroke-linecap="butt"/>
<line x1="1006.10" y1="1254.87" x2="1010.60" y2="1254.87" stroke="#000" stroke-width="1.5" stroke-linecap="butt"/>
<line x1="1617.20" y1="1254.87" x2="1612.70" y2="1254.87" stroke="#000" stroke-width="1.5" stroke-linecap="butt"/>
<line x1="1006.10" y1="1248.03" x2="1010.60" y2="1248.03" stroke="#000" stroke-width="1.5" stroke-linecap="butt"/>
<line x1="1617.20" y1="1248.03" x2="1612.70" y2="1248.03" stroke="#000" stroke-width="1.5" stroke-linecap="butt"/>
<line x1="1006.10" y1="1242.24" x2="1010.60" y2="1242.24" stroke="#000" stroke-width="1.5" stroke-linecap="butt"/>
<line x1="1617.20" y1="1242.24" x2="1612.70" y2="1242.24" stroke="#000" stroke-width="1.5" stroke-linecap="butt"/>
<line x1="1006.10" y1="1237.22" x2="1010.60" y2="1237.22" stroke="#000" stroke-width="1.5" stroke-linecap="butt"/>
<line x1="1617.20" y1="1237.22" x2="1612.70" y2="1237.22" stroke="#000" stroke-width="1.5" stroke-linecap="butt"/>
<line x1="1006.10" y1="1232.80" x2="1010.60" y2="1232.80" stroke="#000" stroke-width="1.5" stroke-linecap="butt"/>
<line x1="1617.20" y1="1232.80" x2="1612.70" y2="1232.80" stroke="#000" stroke-width="1.5" stroke-linecap="butt"/>
<line x1="1006.10" y1="1228.84" x2="1014.60" y2="1228.84" stroke="#000" stroke-width="1.5" stroke-linecap="butt"/>
<line x1="1617.20" y1="1228.84" x2="1608.70" y2="1228.84" stroke="#000" stroke-width="1.5" stroke-linecap="butt"/>
<line x1="1006.10" y1="1202.81" x2="1010.60" y2="1202.81" stroke="#000" stroke-width="1.5" stroke-linecap="butt"/>
<line x1="1617.20" y1="1202.81" x2="1612.70" y2="1202.81" stroke="#000" stroke-width="1.5" stroke-linecap="butt"/>
<line x1="1006.10" y1="1187.58" x2="1010.60" y2="1187.58" stroke="#000" stroke-width="1.5" stroke-linecap="butt"/>
<line x1="1617.20" y1="1187.58" x2="1612.70" y2="1187.58" stroke="#000" stroke-width="1.5" stroke-linecap="butt"/>
<line x1="1006.10" y1="1176.77" x2="1010.60" y2="1176.77" stroke="#000" stroke-width="1.5" stroke-linecap="butt"/>
<line x1="1617.20" y1="1176.77" x2="1612.70" y2="1176.77" stroke="#000" stroke-width="1.5" stroke-linecap="butt"/>
<line x1="1006.10" y1="1168.39" x2="1010.60" y2="1168.39" stroke="#000" stroke-width="1.5" stroke-linecap="butt"/>
<line x1="1617.20" y1="1168.39" x2="1612.70" y2="1168.39" stroke="#000" stroke-width="1.5" stroke-linecap="butt"/>
<line x1="1006.10" y1="1161.55" x2="1010.60" y2="1161.55" stroke="#000" stroke-width="1.5" stroke-linecap="butt"/>
<line x1="1617.20" y1="1161.55" x2="1612.70" y2="1161.55" stroke="#000" stroke-width="1.5" stroke-linecap="butt"/>
<line x1="1006.10" y1="1155.76" x2="1010.60" y2="1155.76" stroke="#000" stroke-width="1.5" stroke-linecap="butt"/>
<line x1="1617.20" y1="1155.76" x2="1612.70" y2="1155.76" stroke="#000" stroke-width="1.5" stroke-linecap="butt"/>
<line x1="1006.10" y1="1150.74" x2="1010.60" y2="1150.74" stroke="#000" stroke-width="1.5" stroke-linecap="butt"/>
<line x1="1617.20" y1="1150.74" x2="1612.70" y2="1150.74" stroke="#000" stroke-width="1.5" stroke-linecap="butt"/>
<line x1="1006.10" y1="1146.32" x2="1010.60" y2="1146.32" stroke="#000" stroke-width="1.5" stroke-linecap="butt"/>
<line x1="1617.20" y1="1146.32" x2="1612.70" y2="1146.32" stroke="#000" stroke-width="1.5" stroke-linecap="butt"/>
<line x1="1006.10" y1="1142.36" x2="1014.60" y2="1142.36" stroke="#000" stroke-width="1.5" stroke-linecap="butt"/>
<line x1="1617.20" y1="1142.36" x2="1608.70" y2="1142.36" stroke="#000" stroke-width="1.5" stroke-linecap="butt"/>
<line x1="1006.10" y1="1116.33" x2="1010.60" y2="1116.33" stroke="#000" stroke-width="1.5" stroke-linecap="butt"/>
<line x1="1617.20" y1="1116.33" x2="1612.70" y2="1116.33" stroke="#000" stroke-width="1.5" stroke-linecap="butt"/>
<line x1="1006.10" y1="1101.10" x2="1010.60" y2="1101.10" stroke="#000" stroke-width="1.5" stroke-linecap="butt"/>
<line x1="1617.20" y1="1101.10" x2="1612.70" y2="1101.10" stroke="#000" stroke-width="1.5" stroke-linecap="butt"/>
<line x1="1006.10" y1="1090.29" x2="1010.60" y2="1090.29" stroke="#000" stroke-width="1.5" stroke-linecap="butt"/>
<line x1="1617.20" y1="1090.29" x2="1612.70" y2="1090.29" stroke="#000" stroke-width="1.5" stroke-linecap="butt"/>
<line x1="1006.10" y1="1081.91" x2="1010.60" y2="1081.91" stroke="#000" stroke-width="1.5" stroke-linecap="butt"/>
<line x1="1617.20" y1="1081.91" x2="1612.70" y2="1081.91" stroke="#000" stroke-width="1.5" stroke-linecap="butt"/>
<line x1="1006.10" y1="1075.07" x2="1010.60" y2="1075.07" stroke="#000" stroke-width="1.5" stroke-linecap="butt"/>
<line x1="1617.20" y1="1075.07" x2="1612.70" y2="1075.07" stroke="#000" stroke-width="1.5" stroke-linecap="butt"/>
<line x1="1006.10" y1="1069.28" x2="1010.60" y2="1069.28" stroke="#000" stroke-width="1.5" stroke-linecap="butt"/>
<line x1="1617.20" y1="1069.28" x2="1612.70" y2="1069.28" stroke="#000" stroke-width="1.5" stroke-linecap="butt"/>
<line x1="1006.10" y1="1064.26" x2="1010.60" y2="1064.26" stroke="#000" stroke-width="1.5" stroke-linecap="butt"/>
<line x1="1617.20" y1="1064.26" x2="1612.70" y2="1064.26" stroke="#000" stroke-width="1.5" stroke-linecap="butt"/>
<line x1="1006.10" y1="1059.84" x2="1010.60" y2="1059.84" stroke="#000" stroke-width="1.5" stroke-linecap="butt"/>
<line x1="1617.20" y1="1059.84" x2="1612.70" y2="1059.84" stroke="#000" stroke-width="1.5" stroke-linecap="butt"/>
<line x1="1006.10" y1="1055.88" x2="1014.60" y2="1055.88" stroke="#000" stroke-width="1.5" stroke-linecap="butt"/>
<line x1="1617.20" y1="1055.88" x2="1608.70" y2="1055.88" stroke="#000" stroke-width="1.5" stroke-linecap="butt"/>
<line x1="1006.10" y1="1029.85" x2="1010.60" y2="1029.85" stroke="#000" stroke-width="1.5" stroke-linecap="butt"/>
<line x1="1617.20" y1="1029.85" x2="1612.70" y2="1029.85" stroke="#000" stroke-width="1.5" stroke-linecap="butt"/>
<line x1="1006.10" y1="1014.62" x2="1010.60" y2="1014.62" stroke="#000" stroke-width="1.5" stroke-linecap="butt"/>
<line x1="1617.20" y1="1014.62" x2="1612.70" y2="1014.62" stroke="#000" stroke-width="1.5" stroke-linecap="butt"/>
<line x1="1006.10" y1="1003.81" x2="1010.60" y2="1003.81" stroke="#000" stroke-width="1.5" stroke-linecap="butt"/>
<line x1="1617.20" y1="1003.81" x2="1612.70" y2="1003.81" stroke="#000" stroke-width="1.5" stroke-linecap="butt"/>
<line x1="1006.10" y1="995.43" x2="1010.60" y2="995.43" stroke="#000" stroke-width="1.5" stroke-linecap="butt"/>
<line x1="1617.20" y1="995.43" x2="1612.70" y2="995.43" stroke="#000" stroke-width="1.5" stroke-linecap="butt"/>
<line x1="1006.10" y1="988.59" x2="1010.60" y2="988.59" stroke="#000" stroke-width="1.5" stroke-linecap="butt"/>
<line x1="1617.20" y1="988.59" x2="1612.70" y2="988.59" stroke="#000" stroke-width="1.5" stroke-linecap="butt"/>
<line x1="1006.10" y1="982.80" x2="1010.60" y2="982.80" stroke="#000" stroke-width="1.5" stroke-linecap="butt"/>
<line x1="1617.20" y1="982.80" x2="1612.70" y2="982.80" stroke="#000" stroke-width="1.5" stroke-linecap="butt"/>
<line x1="1006.10" y1="977.78" x2="1010.60" y2="977.78" stroke="#000" stroke-width="1.5" stroke-linecap="butt"/>
<line x1="1617.20" y1="977.78" x2="1612.70" y2="977.78" stroke="#000" stroke-width="1.5" stroke-linecap="butt"/>
<line x1="1006.10" y1="973.36" x2="1010.60" y2="973.36" stroke="#000" stroke-width="1.5" stroke-linecap="butt"/>
<line x1="1617.20" y1="973.36" x2="1612.70" y2="973.36" stroke="#000" stroke-width="1.5" stroke-linecap="butt"/>
<line x1="1006.10" y1="969.40" x2="1014.60" y2="969.40" stroke="#000" stroke-width="1.5" stroke-linecap="butt"/>
<line x1="1617.20" y1="969.40" x2="1608.70" y2="969.40" stroke="#000" stroke-width="1.5" stroke-linecap="butt"/>
<line x1="1006.10" y1="943.37" x2="1010.60" y2="943.37" stroke="#000" stroke-width="1.5" stroke-linecap="butt"/>
<line x1="1617.20" y1="943.37" x2="1612.70" y2="943.37" stroke="#000" stroke-width="1.5" stroke-linecap="butt"/>
<line x1="1006.10" y1="928.14" x2="1010.60" y2="928.14" stroke="#000" stroke-width="1.5" stroke-linecap="butt"/>
<line x1="1617.20" y1="928.14" x2="1612.70" y2="928.14" stroke="#000" stroke-width="1.5" stroke-linecap="butt"/>
<line x1="1006.10" y1="917.33" x2="1010.60" y2="917.33" stroke="#000" stroke-width="1.5" stroke-linecap="butt"/>
<line x1="1617.20" y1="917.33" x2="1612.70" y2="917.33" stroke="#000" stroke-width="1.5" stroke-linecap="butt"/>
<line x1="1027.30" y1="1401.80" x2="1027.30" y2="1397.30" stroke="#000" stroke-width="1.5" stroke-linecap="butt"/>
<line x1="1061.00" y1="1401.80" x2="1061.00" y2="1394.30" stroke="#000" stroke-width="1.5" stroke-linecap="butt"/>
<line x1="1094.70" y1="1401.80" x2="1094.70" y2="1397.30" stroke="#000" stroke-width="1.5" stroke-linecap="butt"/>
<line x1="1128.40" y1="1401.80" x2="1128.40" y2="1394.30" stroke="#000" stroke-width="1.5" stroke-linecap="butt"/>
<line x1="1162.10" y1="1401.80" x2="1162.10" y2="1397.30" stroke="#000" stroke-width="1.5" stroke-linecap="butt"/>
<line x1="1195.80" y1="1401.80" x2="1195.80" y2="1394.30" stroke="#000" stroke-width="1.5" stroke-linecap="butt"/>
<line x1="1229.50" y1="1401.80" x2="1229.50" y2="1397.30" stroke="#000" stroke-width="1.5" stroke-linecap="butt"/>
<line x1="1263.20" y1="1401.80" x2="1263.20" y2="1394.30" stroke="#000" stroke-width="1.5" stroke-linecap="butt"/>
<line x1="1296.90" y1="1401.80" x2="1296.90" y2="1397.30" stroke="#000" stroke-width="1.5" stroke-linecap="butt"/>
<line x1="1330.60" y1="1401.80" x2="1330.60" y2="1394.30" stroke="#000" stroke-width="1.5" stroke-linecap="butt"/>
<line x1="1364.30" y1="1401.80" x2="1364.30" y2="1397.30" stroke="#000" stroke-width="1.5" stroke-linecap="butt"/>
<line x1="1398.00" y1="1401.80" x2="1398.00" y2="1394.30" stroke="#000" stroke-width="1.5" stroke-linecap="butt"/>
<line x1="1431.70" y1="1401.80" x2="1431.70" y2="1397.30" stroke="#000" stroke-width="1.5" stroke-linecap="butt"/>
<line x1="1465.40" y1="1401.80" x2="1465.40" y2="1394.30" stroke="#000" stroke-width="1.5" stroke-linecap="butt"/>
<line x1="1499.10" y1="1401.80" x2="1499.10" y2="1397.30" stroke="#000" stroke-width="1.5" stroke-linecap="butt"/>
<line x1="1532.80" y1="1401.80" x2="1532.80" y2="1394.30" stroke="#000" stroke-width="1.5" stroke-linecap="butt"/>
<line x1="1566.50" y1="1401.80" x2="1566.50" y2="1397.30" stroke="#000" stroke-width="1.5" stroke-linecap="butt"/>
<line x1="1600.20" y1="1401.80" x2="1600.20" y2="1394.30" stroke="#000" stroke-width="1.5" stroke-linecap="butt"/>
<line x1="1065.23" y1="909.60" x2="1065.23" y2="918.10" stroke="#000" stroke-width="1.5" stroke-linecap="butt"/>
<line x1="1126.88" y1="909.60" x2="1126.88" y2="914.10" stroke="#000" stroke-width="1.5" stroke-linecap="butt"/>
<line x1="1190.44" y1="909.60" x2="1190.44" y2="918.10" stroke="#000" stroke-width="1.5" stroke-linecap="butt"/>
<line x1="1256.00" y1="909.60" x2="1256.00" y2="914.10" stroke="#000" stroke-width="1.5" stroke-linecap="butt"/>
<line x1="1323.65" y1="909.60" x2="1323.65" y2="918.10" stroke="#000" stroke-width="1.5" stroke-linecap="butt"/>
<line x1="1393.49" y1="909.60" x2="1393.49" y2="914.10" stroke="#000" stroke-width="1.5" stroke-linecap="butt"/>
<line x1="1465.64" y1="909.60" x2="1465.64" y2="918.10" stroke="#000" stroke-width="1.5" stroke-linecap="butt"/>
<line x1="1540.21" y1="909.60" x2="1540.21" y2="914.10" stroke="#000" stroke-width="1.5" stroke-linecap="butt"/>
<circle cx="1065" cy="944.0" r="14.6" fill="#ff0000"/>
<circle cx="1190" cy="967.8" r="14.6" fill="#ff0000"/>
<circle cx="1323.5" cy="1003.9" r="14.6" fill="#ff0000"/>
<circle cx="1465.3" cy="1046.4" r="14.6" fill="#ff0000"/>
<circle cx="1540.2" cy="1082.8" r="14.6" fill="#ff0000"/>
<line x1="1065.00" y1="943.90" x2="1540.20" y2="1048.80" stroke="#000" stroke-width="3.4" stroke-linecap="butt"/>
<circle cx="1065" cy="1029.7" r="14.6" fill="#0064ff"/>
<circle cx="1190" cy="1051.8" r="14.6" fill="#0064ff"/>
<circle cx="1323.5" cy="1081.5" r="14.6" fill="#0064ff"/>
<circle cx="1465.3" cy="1119.4" r="14.6" fill="#0064ff"/>
<circle cx="1540.2" cy="1155.8" r="14.6" fill="#0064ff"/>
<line x1="1065.00" y1="1029.70" x2="1540.20" y2="1125.80" stroke="#000" stroke-width="3.4" stroke-linecap="butt"/>
<circle cx="1065" cy="1285.5" r="14.6" fill="#009a44"/>
<circle cx="1190" cy="1304.1" r="14.6" fill="#009a44"/>
<circle cx="1323.5" cy="1329.2" r="14.6" fill="#009a44"/>
<circle cx="1465.5" cy="1361.9" r="14.6" fill="#009a44"/>
<circle cx="1540" cy="1343.6" r="14.6" fill="#009a44"/>
<line x1="1065.00" y1="1285.50" x2="1540.00" y2="1362.00" stroke="#000" stroke-width="3.4" stroke-linecap="butt"/>
<text x="815.26" y="876.70" font-size="91.00" textLength="63.38" lengthAdjust="spacingAndGlyphs" font-family='"Liberation Sans", Arial, Helvetica, sans-serif'>D</text>
<text x="1140.69" y="849.70" font-size="44.70" font-family='"Liberation Sans", Arial, Helvetica, sans-serif'>Temperature (&#176;C)</text>
<text x="1038.94" y="904.10" font-size="40.00" textLength="48.08" lengthAdjust="spacingAndGlyphs" font-family='"Liberation Sans", Arial, Helvetica, sans-serif'>60</text>
<text x="1166.63" y="904.10" font-size="40.00" textLength="46.43" lengthAdjust="spacingAndGlyphs" font-family='"Liberation Sans", Arial, Helvetica, sans-serif'>50</text>
<text x="1298.44" y="904.10" font-size="40.00" textLength="47.67" lengthAdjust="spacingAndGlyphs" font-family='"Liberation Sans", Arial, Helvetica, sans-serif'>40</text>
<text x="1440.70" y="904.10" font-size="40.00" textLength="47.50" lengthAdjust="spacingAndGlyphs" font-family='"Liberation Sans", Arial, Helvetica, sans-serif'>30</text>
<text x="1591.95" y="904.10" font-size="40.00" textLength="47.76" lengthAdjust="spacingAndGlyphs" font-family='"Liberation Sans", Arial, Helvetica, sans-serif'>20</text>
<text x="930.62" y="978.50" font-size="39.50" font-family='"Liberation Sans", Arial, Helvetica, sans-serif'>100</text>
<text x="951.94" y="1064.70" font-size="39.50" font-family='"Liberation Sans", Arial, Helvetica, sans-serif'>10</text>
<text x="970.95" y="1151.00" font-size="39.50" font-family='"Liberation Sans", Arial, Helvetica, sans-serif'>1</text>
<text x="940.97" y="1237.20" font-size="39.50" font-family='"Liberation Sans", Arial, Helvetica, sans-serif'>0.1</text>
<text x="919.05" y="1325.00" font-size="39.50" font-family='"Liberation Sans", Arial, Helvetica, sans-serif'>0.01</text>
<text x="897.03" y="1411.30" font-size="39.50" font-family='"Liberation Sans", Arial, Helvetica, sans-serif'>0.001</text>
<text x="1026.99" y="1433.00" font-size="36.00" textLength="67.97" lengthAdjust="spacingAndGlyphs" font-family='"Liberation Sans", Arial, Helvetica, sans-serif'>3.00</text>
<text x="1161.10" y="1433.00" font-size="36.00" textLength="67.24" lengthAdjust="spacingAndGlyphs" font-family='"Liberation Sans", Arial, Helvetica, sans-serif'>3.10</text>
<text x="1296.21" y="1433.00" font-size="36.00" textLength="67.13" lengthAdjust="spacingAndGlyphs" font-family='"Liberation Sans", Arial, Helvetica, sans-serif'>3.20</text>
<text x="1431.21" y="1433.00" font-size="36.00" textLength="67.13" lengthAdjust="spacingAndGlyphs" font-family='"Liberation Sans", Arial, Helvetica, sans-serif'>3.30</text>
<text x="1566.23" y="1433.00" font-size="36.00" textLength="65.99" lengthAdjust="spacingAndGlyphs" font-family='"Liberation Sans", Arial, Helvetica, sans-serif'>3.40</text>
<text x="993.78" y="1496.70" font-size="45.00" textLength="456.25" lengthAdjust="spacingAndGlyphs" font-family='"Liberation Sans", Arial, Helvetica, sans-serif'>Reciprocal temperature</text>
<text x="1454.30" y="1494.50" font-size="40.00" textLength="25.07" lengthAdjust="spacingAndGlyphs" font-family='"Liberation Sans", Arial, Helvetica, sans-serif'>&#215;</text>
<text x="1485.09" y="1496.50" font-size="45.00" textLength="46.17" lengthAdjust="spacingAndGlyphs" font-family='"Liberation Sans", Arial, Helvetica, sans-serif'>10</text>
<text x="1532.79" y="1479.00" font-size="23.50" textLength="11.94" lengthAdjust="spacingAndGlyphs" font-family='"Liberation Sans", Arial, Helvetica, sans-serif'>3</text>
<text x="1557.75" y="1496.70" font-size="45.00" textLength="44.00" lengthAdjust="spacingAndGlyphs" font-family='"Liberation Sans", Arial, Helvetica, sans-serif'>(K</text>
<text x="1601.63" y="1479.00" font-size="23.50" textLength="17.22" lengthAdjust="spacingAndGlyphs" font-family='"Liberation Sans", Arial, Helvetica, sans-serif'>-1</text>
<text x="1624.40" y="1496.70" font-size="45.00" textLength="13.19" lengthAdjust="spacingAndGlyphs" font-family='"Liberation Sans", Arial, Helvetica, sans-serif'>)</text>
<text x="-1385.93" y="874.50" font-size="44.50" textLength="403.17" lengthAdjust="spacingAndGlyphs" font-family='"Liberation Sans", Arial, Helvetica, sans-serif' transform="rotate(-90)">Rate constant (msec</text>
<text x="-979.71" y="857.50" font-size="24.70" textLength="17.90" lengthAdjust="spacingAndGlyphs" font-family='"Liberation Sans", Arial, Helvetica, sans-serif' transform="rotate(-90)">-1</text>
<text x="-955.78" y="874.70" font-size="44.50" textLength="12.57" lengthAdjust="spacingAndGlyphs" font-family='"Liberation Sans", Arial, Helvetica, sans-serif' transform="rotate(-90)">)</text>
<rect x="1325.5" y="387.6" width="271.5" height="232.79999999999995" fill="#fff" stroke="none"/>
<line x1="1325.50" y1="431.40" x2="1597.00" y2="431.40" stroke="#000" stroke-width="2.2" stroke-linecap="butt"/>
<polyline points="1326.7,420.5 1327.0,415.3 1327.2,424.3 1327.4,425.9 1327.7,412.8 1327.9,420.1 1328.2,429.5 1328.4,427.3 1328.6,418.5 1328.9,423.9 1329.1,415.4 1329.4,411.2 1329.6,422.4 1329.9,420.9 1330.1,422.5 1330.3,419.7 1330.6,421.8 1330.8,417.3 1331.1,422.9 1331.3,425.0 1331.6,420.3 1331.8,425.3 1332.0,411.1 1332.3,416.7 1332.5,429.3 1332.8,431.2 1333.0,422.9 1333.3,421.1 1333.5,414.8 1333.7,424.1 1334.0,426.6 1334.2,414.1 1334.5,427.0 1334.7,425.5 1335.0,425.4 1335.2,416.6 1335.4,426.3 1335.7,415.1 1335.9,432.0 1336.2,424.6 1336.4,416.8 1336.7,431.7 1336.9,430.8 1337.1,420.9 1337.4,437.1 1337.6,419.3 1337.9,426.9 1338.1,432.0 1338.4,412.8 1338.6,431.4 1338.8,425.6 1339.1,426.1 1339.3,420.3 1339.6,428.4 1339.8,420.5 1340.1,421.5 1340.3,424.7 1340.5,420.5 1340.8,436.5 1341.0,420.3 1341.3,423.8 1341.5,426.5 1341.7,428.5 1342.0,433.2 1342.2,444.6 1342.5,427.4 1342.7,427.2 1343.0,429.8 1343.2,434.5 1343.4,434.0 1343.7,427.4 1343.9,418.9 1344.2,445.0 1344.4,436.4 1344.7,432.8 1344.9,433.4 1345.1,428.8 1345.4,426.3 1345.6,430.4 1345.9,432.8 1346.1,429.2 1346.4,424.7 1346.6,431.5 1346.8,436.8 1347.1,431.0 1347.3,434.2 1347.6,422.5 1347.8,433.4 1348.1,434.1 1348.3,428.1 1348.5,425.5 1348.8,438.0 1349.0,431.3 1349.3,439.0 1349.5,434.1 1349.8,440.3 1350.0,435.1 1350.2,428.7 1350.5,437.1 1350.7,436.0 1351.0,442.0 1351.2,435.9 1351.5,436.5 1351.7,444.0 1351.9,446.1 1352.2,444.0 1352.4,445.9 1352.7,442.9 1352.9,445.0 1353.2,446.0 1353.4,443.5 1353.6,441.9 1353.9,442.7 1354.1,456.0 1354.4,442.6 1354.6,441.4 1354.8,441.0 1355.1,443.3 1355.3,445.2 1355.6,437.6 1355.8,433.0 1356.1,446.5 1356.3,435.8 1356.5,446.9 1356.8,446.6 1357.0,434.6 1357.3,456.1 1357.5,449.0 1357.8,444.0 1358.0,440.7 1358.2,443.3 1358.5,448.5 1358.7,436.6 1359.0,449.4 1359.2,449.2 1359.5,453.4 1359.7,448.1 1359.9,437.2 1360.2,446.5 1360.4,448.5 1360.7,441.2 1360.9,452.6 1361.2,461.3 1361.4,453.6 1361.6,455.2 1361.9,447.7 1362.1,462.2 1362.4,449.8 1362.6,459.3 1362.9,455.7 1363.1,449.8 1363.3,461.8 1363.6,456.0 1363.8,457.7 1364.1,459.7 1364.3,449.4 1364.6,455.7 1364.8,461.0 1365.0,456.4 1365.3,459.5 1365.5,455.7 1365.8,451.3 1366.0,456.5 1366.3,458.0 1366.5,461.4 1366.7,468.7 1367.0,452.2 1367.2,463.4 1367.5,450.0 1367.7,457.3 1367.9,461.0 1368.2,451.1 1368.4,453.9 1368.7,466.2 1368.9,466.2 1369.2,465.6 1369.4,462.0 1369.6,479.9 1369.9,466.7 1370.1,463.0 1370.4,478.5 1370.6,472.7 1370.9,467.4 1371.1,485.4 1371.3,471.4 1371.6,474.8 1371.8,472.9 1372.1,465.9 1372.3,478.2 1372.6,473.9 1372.8,467.5 1373.0,469.5 1373.3,480.2 1373.5,472.8 1373.8,475.8 1374.0,479.9 1374.3,477.3 1374.5,468.0 1374.7,481.4 1375.0,483.7 1375.2,483.8 1375.5,488.8 1375.7,481.8 1376.0,484.8 1376.2,490.2 1376.4,479.5 1376.7,492.2 1376.9,493.0 1377.2,487.6 1377.4,494.4 1377.7,489.0 1377.9,479.2 1378.1,491.8 1378.4,487.5 1378.6,488.6 1378.9,487.6 1379.1,495.4 1379.4,491.1 1379.6,484.2 1379.8,491.8 1380.1,493.8 1380.3,485.6 1380.6,487.9 1380.8,488.8 1381.0,488.0 1381.3,494.3 1381.5,498.9 1381.8,504.7 1382.0,501.1 1382.3,500.6 1382.5,501.9 1382.7,503.6 1383.0,493.9 1383.2,500.6 1383.5,499.2 1383.7,497.1 1384.0,495.7 1384.2,495.9 1384.4,497.9 1384.7,492.7 1384.9,503.8 1385.2,501.1 1385.4,502.4 1385.7,504.4 1385.9,507.3 1386.1,500.7 1386.4,503.4 1386.6,495.0 1386.9,491.9 1387.1,494.1 1387.4,515.6 1387.6,490.0 1387.8,510.3 1388.1,516.9 1388.3,505.9 1388.6,518.9 1388.8,520.8 1389.1,516.0 1389.3,525.1 1389.5,515.2 1389.8,507.6 1390.0,515.1 1390.3,510.5 1390.5,505.9 1390.8,506.6 1391.0,528.7 1391.2,512.1 1391.5,515.8 1391.7,520.4 1392.0,517.9 1392.2,516.2 1392.5,515.7 1392.7,511.5 1392.9,510.8 1393.2,515.4 1393.4,522.2 1393.7,533.4 1393.9,527.8 1394.1,533.0 1394.4,525.5 1394.6,522.6 1394.9,515.8 1395.1,524.3 1395.4,511.9 1395.6,523.5 1395.8,535.6 1396.1,528.4 1396.3,533.7 1396.6,525.2 1396.8,519.8 1397.1,525.7 1397.3,526.7 1397.5,536.8 1397.8,542.0 1398.0,526.2 1398.3,529.0 1398.5,530.8 1398.8,530.1 1399.0,525.3 1399.2,533.8 1399.5,535.9 1399.7,536.6 1400.0,527.5 1400.2,541.1 1400.5,525.3 1400.7,541.7 1400.9,530.6 1401.2,535.6 1401.4,525.9 1401.7,534.7 1401.9,532.4 1402.2,528.6 1402.4,550.1 1402.6,541.7 1402.9,542.2 1403.1,553.7 1403.4,541.0 1403.6,545.4 1403.9,542.6 1404.1,550.1 1404.3,546.4 1404.6,545.8 1404.8,542.8 1405.1,546.4 1405.3,552.2 1405.6,533.2 1405.8,545.3 1406.0,544.0 1406.3,545.1 1406.5,535.5 1406.8,552.2 1407.0,539.2 1407.2,547.3 1407.5,546.0 1407.7,539.4 1408.0,547.2 1408.2,539.2 1408.5,545.0 1408.7,549.1 1408.9,551.4 1409.2,552.1 1409.4,551.4 1409.7,565.4 1409.9,555.6 1410.2,546.0 1410.4,550.0 1410.6,550.1 1410.9,553.4 1411.1,551.2 1411.4,550.0 1411.6,565.4 1411.9,565.9 1412.1,554.2 1412.3,555.0 1412.6,555.6 1412.8,565.6 1413.1,560.4 1413.3,564.6 1413.6,539.5 1413.8,560.5 1414.0,565.2 1414.3,571.0 1414.5,561.5 1414.8,549.5 1415.0,563.7 1415.3,556.8 1415.5,550.0 1415.7,557.3 1416.0,567.7 1416.2,568.8 1416.5,566.2 1416.7,555.9 1417.0,577.6 1417.2,555.7 1417.4,562.6 1417.7,554.6 1417.9,571.5 1418.2,566.5 1418.4,569.4 1418.7,564.9 1418.9,564.2 1419.1,565.9 1419.4,553.8 1419.6,571.3 1419.9,571.1 1420.1,563.5 1420.3,566.0 1420.6,568.1 1420.8,575.9 1421.1,569.3 1421.3,567.2 1421.6,564.1 1421.8,558.4 1422.0,564.0 1422.3,568.2 1422.5,566.5 1422.8,568.6 1423.0,572.9 1423.3,571.2 1423.5,570.4 1423.7,576.7 1424.0,570.2 1424.2,569.1 1424.5,572.3 1424.7,559.3 1425.0,577.3 1425.2,562.3 1425.4,575.1 1425.7,570.4 1425.9,577.1 1426.2,570.8 1426.4,565.1 1426.7,577.3 1426.9,572.1 1427.1,571.8 1427.4,571.7 1427.5,577.3 1427.5,576.2 1427.6,572.7 1427.7,559.9 1427.8,569.0 1427.8,572.1 1427.9,582.3 1428.0,573.9 1428.0,571.0 1428.1,578.8 1428.2,571.0 1428.3,571.5 1428.3,572.7 1428.4,562.8 1428.5,577.5 1428.6,574.4 1428.6,570.2 1428.7,565.1 1428.8,573.2 1428.8,580.3 1428.9,568.2 1429.0,565.7 1429.1,574.6 1429.1,562.6 1429.2,558.9 1429.3,569.5 1429.4,568.1 1429.4,570.6 1429.5,569.0 1429.6,574.3 1429.7,578.7 1429.7,568.8 1429.8,569.6 1429.9,576.2 1429.9,578.1 1430.0,577.8 1430.1,576.6 1430.2,552.8 1430.2,566.5 1430.3,572.4 1430.4,574.6 1430.5,562.9 1430.5,581.1 1430.6,574.5 1430.7,569.0 1430.7,573.7 1430.8,570.6 1430.9,568.2 1431.0,575.8 1431.0,570.1 1431.1,564.4 1431.2,569.0 1431.3,572.2 1431.3,559.0 1431.4,580.4 1431.5,566.4 1431.6,583.4 1431.6,578.3 1431.7,567.3 1431.8,583.7 1431.8,580.1 1431.9,571.9 1432.0,565.9 1432.1,573.7 1432.1,585.0 1432.2,564.2 1432.3,576.4 1432.4,573.2 1432.4,572.4 1432.5,570.8 1432.6,571.3 1432.7,579.4 1432.7,576.8 1432.8,567.3 1432.9,582.5 1432.9,565.5 1433.0,577.2 1433.1,574.4 1433.2,580.5 1433.2,575.4 1433.3,579.6 1433.4,573.2 1433.5,579.2 1433.5,575.4 1433.6,586.2 1433.7,569.2 1433.7,580.5 1433.8,576.2 1433.9,574.5 1434.0,570.1 1434.0,576.1 1434.1,564.7 1434.2,565.3 1434.3,577.7 1434.3,564.2 1434.4,582.1 1434.5,571.9 1434.6,575.0 1434.6,574.0 1434.7,576.0 1434.8,571.9 1434.8,571.3 1434.9,572.8 1435.0,579.8 1435.1,580.3 1435.1,581.1 1435.2,575.7 1435.3,572.4 1435.4,563.6 1435.4,577.4 1435.5,578.6 1435.6,571.2 1435.7,578.4 1435.7,581.3 1435.8,574.2 1435.9,579.9 1435.9,575.4 1436.0,563.3 1436.1,570.8 1436.2,571.2 1436.2,576.7 1436.3,568.5 1436.4,571.0 1436.5,567.9 1436.5,573.4 1436.6,574.0 1436.7,579.4 1436.7,578.3 1436.8,574.6 1436.9,575.0 1437.0,574.2 1437.0,574.2 1437.1,582.8 1437.2,558.8 1437.3,572.5 1437.3,575.4 1437.4,580.3 1437.5,567.3 1437.6,569.6 1437.6,583.3 1437.7,570.9 1437.8,562.2 1437.8,571.4 1437.9,566.4 1438.0,577.4 1438.1,568.4 1438.1,584.1 1438.2,574.3 1438.3,568.7 1438.4,570.5 1438.4,567.0 1438.5,575.8 1438.6,593.8 1438.7,572.2 1438.7,578.9 1438.8,567.8 1438.9,575.3 1438.9,587.1 1439.0,565.0 1439.1,580.7 1439.2,580.4 1439.2,562.2 1439.3,564.8 1439.4,567.5 1439.5,579.1 1439.5,570.8 1439.6,572.3 1439.7,577.5 1439.7,574.0 1439.8,574.6 1439.9,571.4 1440.0,579.9 1440.0,568.6 1440.1,583.2 1440.2,571.2 1440.3,568.5 1440.3,577.0 1440.4,575.9 1440.5,561.4 1440.6,574.5 1440.6,565.1 1440.7,568.2 1440.8,577.8 1440.8,568.0 1440.9,575.2 1441.0,570.8 1441.1,584.5 1441.1,568.4 1441.2,566.0 1441.3,566.4 1441.4,567.6 1441.4,573.7 1441.5,572.9 1441.6,578.6 1441.7,573.9 1441.7,573.6 1441.8,574.7 1441.9,572.0 1441.9,574.5 1442.0,577.4 1442.1,577.4 1442.2,569.5 1442.2,562.2 1442.3,567.9 1442.4,574.3 1442.5,557.9 1442.5,569.8 1442.6,575.3 1442.7,569.2 1442.7,565.9 1442.8,582.9 1442.9,580.7 1443.0,570.9 1443.0,580.3 1443.1,580.1 1443.2,565.7 1443.3,588.3 1443.3,566.8 1443.4,570.8 1443.5,565.8 1443.6,572.7 1443.6,564.5 1443.7,572.2 1443.8,578.6 1443.8,573.4 1443.9,570.6 1444.0,581.3 1444.1,566.8 1444.1,577.8 1444.2,570.3 1444.3,573.3 1444.4,572.2 1444.4,572.7 1444.5,571.6 1444.6,567.3 1444.7,568.5 1444.7,574.5 1444.8,571.2 1444.9,564.9 1444.9,567.6 1445.0,567.6 1445.1,571.4 1445.2,572.7 1445.2,572.2 1445.3,567.7 1445.4,571.7 1445.5,563.4 1445.5,554.4 1445.6,571.2 1445.7,561.6 1445.7,565.8 1445.8,564.2 1445.9,575.1 1446.0,564.1 1446.0,572.9 1446.1,568.4 1446.2,563.9 1446.3,561.8 1446.3,573.9 1446.4,573.4 1446.5,575.7 1446.6,581.9 1446.6,572.6 1446.7,572.6 1446.8,570.2 1446.8,571.5 1446.9,568.8 1447.0,565.5 1447.1,582.6 1447.1,559.7 1447.2,572.2 1447.3,573.3 1447.4,571.5 1447.4,564.9 1447.5,569.4 1447.6,567.8 1447.7,564.1 1447.7,570.0 1447.8,568.0 1447.9,567.1 1447.9,574.4 1448.0,564.0 1448.1,572.9 1448.2,566.6 1448.2,572.7 1448.3,566.6 1448.4,571.5 1448.5,564.3 1448.5,565.5 1448.6,564.9 1448.7,571.0 1448.7,574.4 1448.8,576.3 1448.9,566.9 1449.0,570.3 1449.0,560.2 1449.1,556.6 1449.2,564.6 1449.3,565.7 1449.3,560.5 1449.4,559.1 1449.5,572.7 1449.6,564.8 1449.6,559.6 1449.7,583.2 1449.8,570.4 1449.8,567.5 1449.9,573.3 1450.0,564.8 1450.1,578.6 1450.1,560.1 1450.2,561.5 1450.3,568.3 1450.4,564.6 1450.4,577.4 1450.5,559.5 1450.6,564.6 1450.7,570.3 1450.7,572.2 1450.8,574.7 1450.9,570.8 1450.9,581.7 1451.0,565.9 1451.1,569.7 1451.2,573.7 1451.2,566.7 1451.3,566.8 1451.4,565.8 1451.5,564.7 1451.5,561.8 1451.6,565.1 1451.7,559.2 1451.7,570.5 1451.8,558.9 1451.9,580.4 1452.0,578.2 1452.0,571.7 1452.1,566.8 1452.2,564.6 1452.3,575.2 1452.3,569.0 1452.4,571.2 1452.5,563.7 1452.6,575.5 1452.6,563.1 1452.7,568.4 1452.8,557.5 1452.8,563.8 1452.9,570.6 1453.0,565.0 1453.1,564.9 1453.1,572.2 1453.2,567.1 1453.3,574.8 1453.4,553.2 1453.4,570.7 1453.5,570.3 1453.6,558.2 1453.7,559.6 1453.7,572.4 1453.8,560.9 1453.9,563.4 1453.9,570.6 1454.0,565.1 1454.1,569.8 1454.2,561.9 1454.2,568.7 1454.3,573.2 1454.4,568.8 1454.5,553.9 1454.5,570.6 1454.6,567.1 1454.7,561.4 1454.7,574.8 1454.8,556.4 1454.9,577.6 1455.0,562.8 1455.0,575.7 1455.1,566.2 1455.2,558.6 1455.3,566.9 1455.3,568.3 1455.4,569.5 1455.5,572.5 1455.6,560.9 1455.6,569.1 1455.7,570.5 1455.8,564.5 1455.8,560.5 1455.9,560.4 1456.0,570.4 1456.1,570.6 1456.1,561.0 1456.2,558.0 1456.3,573.1 1456.4,556.6 1456.4,566.7 1456.5,564.6 1456.6,555.3 1456.7,566.3 1456.7,564.4 1456.8,574.0 1456.9,578.8 1456.9,564.3 1457.0,571.4 1457.1,571.5 1457.2,562.5 1457.2,560.2 1457.3,574.7 1457.4,563.0 1457.5,570.5 1457.5,563.4 1457.6,564.3 1457.7,561.5 1457.7,569.4 1457.8,572.3 1457.9,562.7 1458.0,556.8 1458.0,565.1 1458.1,556.1 1458.2,561.0 1458.3,571.9 1458.3,578.3 1458.4,566.8 1458.5,558.3 1458.6,569.1 1458.6,551.3 1458.7,560.4 1458.8,573.4 1458.8,568.7 1458.9,556.2 1459.0,554.5 1459.1,569.3 1459.1,560.9 1459.2,560.7 1459.3,566.6 1459.4,560.7 1459.4,552.8 1459.5,568.8 1459.6,560.2 1459.7,558.1 1459.7,563.6 1459.8,565.3 1459.9,559.1 1459.9,567.4 1460.0,562.2 1460.1,570.0 1460.2,561.4 1460.2,559.8 1460.3,552.0 1460.4,557.1 1460.5,567.7 1460.5,581.3 1460.6,556.1 1460.7,557.3 1460.7,565.3 1460.8,566.1 1460.9,559.3 1461.0,563.7 1461.0,553.7 1461.1,561.4 1461.2,568.4 1461.3,572.6 1461.3,562.0 1461.4,561.4 1461.5,565.6 1461.6,569.4 1461.6,565.7 1461.7,558.4 1461.8,564.8 1461.8,568.4 1461.9,558.5 1462.0,554.8 1462.1,565.6 1462.1,564.7 1462.2,568.2 1462.3,563.0 1462.4,558.7 1462.4,559.8 1462.5,556.3 1462.6,556.8 1462.7,559.0 1462.7,559.4 1462.8,568.7 1462.9,555.0 1462.9,561.8 1463.0,558.6 1463.1,570.7 1463.2,563.5 1463.2,559.8 1463.3,566.7 1463.4,562.3 1463.5,559.1 1463.5,573.5 1463.6,565.9 1463.7,571.8 1463.7,568.5 1463.8,566.2 1463.9,562.4 1464.0,555.2 1464.0,565.7 1464.1,561.9 1464.2,565.4 1464.3,561.4 1464.3,557.4 1464.4,555.5 1464.5,565.4 1464.6,568.8 1464.6,559.6 1464.7,563.8 1464.8,569.2 1464.8,556.2 1464.9,559.1 1465.0,554.5 1465.1,567.9 1465.1,562.5 1465.2,558.2 1465.3,551.2 1465.4,559.8 1465.4,566.6 1465.5,559.0 1465.6,558.3 1465.7,564.4 1465.7,553.5 1465.8,560.9 1465.9,564.1 1465.9,556.0 1466.0,555.7 1466.1,561.9 1466.2,559.8 1466.2,559.0 1466.3,561.6 1466.4,561.6 1466.5,554.9 1466.5,551.6 1466.6,562.8 1466.7,566.7 1466.7,568.0 1466.8,555.1 1466.9,566.4 1467.0,564.4 1467.0,559.8 1467.1,562.8 1467.2,564.7 1467.3,570.3 1467.3,553.7 1467.4,563.3 1467.5,558.9 1467.6,558.5 1467.6,566.3 1467.7,564.4 1467.8,553.7 1467.8,557.9 1467.9,560.8 1468.0,551.3 1468.1,564.5 1468.1,559.0 1468.2,560.3 1468.3,561.3 1468.4,569.8 1468.4,559.5 1468.5,557.1 1468.6,569.3 1468.7,556.2 1468.7,556.1 1468.8,551.0 1468.9,565.3 1468.9,548.1 1469.0,561.7 1469.1,559.9 1469.2,552.1 1469.2,554.3 1469.3,554.3 1469.4,561.3 1469.5,559.4 1469.5,568.2 1469.6,554.2 1469.7,555.8 1469.7,552.7 1469.8,566.5 1469.9,551.4 1470.0,562.9 1470.0,566.8 1470.1,557.6 1470.2,562.6 1470.3,546.0 1470.3,556.0 1470.4,549.4 1470.5,559.2 1470.6,558.2 1470.6,553.7 1470.7,563.6 1470.8,560.1 1470.8,555.0 1470.9,555.0 1471.0,549.4 1471.1,556.8 1471.1,570.1 1471.2,553.7 1471.3,560.2 1471.4,554.6 1471.4,562.4 1471.5,560.2 1471.6,556.3 1471.6,547.3 1471.7,554.6 1471.8,549.2 1471.9,556.1 1471.9,561.1 1472.0,554.7 1472.1,540.2 1472.2,559.8 1472.2,559.2 1472.3,553.9 1472.4,555.1 1472.5,558.9 1472.5,553.8 1472.6,559.1 1472.7,555.9 1472.7,543.4 1472.8,556.2 1472.9,553.5 1473.0,552.1 1473.0,559.3 1473.1,554.1 1473.2,560.0 1473.3,563.2 1473.3,557.6 1473.4,547.8 1473.5,552.5 1473.6,562.0 1473.6,555.2 1473.7,551.9 1473.8,556.1 1473.8,559.5 1473.9,558.0 1474.0,560.2 1474.1,551.7 1474.1,554.8 1474.2,554.9 1474.3,556.2 1474.4,544.2 1474.4,554.9 1474.5,548.5 1474.6,564.2 1474.6,565.2 1474.7,565.8 1474.8,560.8 1474.9,553.3 1474.9,561.6 1475.0,551.0 1475.1,559.5 1475.2,550.7 1475.2,552.5 1475.3,558.5 1475.4,566.1 1475.5,555.6 1475.5,568.8 1475.6,571.7 1475.7,548.3 1475.7,552.9 1475.8,550.1 1475.9,554.8 1476.0,552.5 1476.0,555.1 1476.1,561.1 1476.2,560.9 1476.3,556.9 1476.3,555.4 1476.4,556.0 1476.5,556.1 1476.6,558.6 1476.6,555.3 1476.7,558.1 1476.8,547.6 1476.8,559.7 1476.9,565.2 1477.0,556.2 1477.1,546.9 1477.1,562.8 1477.2,553.1 1477.3,548.9 1477.4,553.7 1477.4,558.4 1477.5,557.1 1477.6,562.0 1477.6,558.4 1477.7,555.5 1477.8,543.3 1477.9,548.3 1477.9,555.7 1478.0,558.5 1478.1,572.3 1478.2,551.0 1478.2,557.2 1478.3,543.5 1478.4,543.2 1478.5,553.1 1478.5,555.9 1478.6,551.6 1478.7,541.1 1478.7,554.4 1478.8,541.1 1478.9,558.0 1479.0,553.6 1479.0,555.7 1479.1,557.8 1479.2,551.1 1479.3,540.3 1479.3,561.2 1479.4,556.3 1479.5,561.7 1479.6,550.3 1479.6,559.2 1479.7,555.4 1479.8,548.2 1479.8,553.4 1479.9,550.7 1480.0,550.6 1480.1,554.2 1480.1,559.8 1480.2,551.8 1480.3,554.4 1480.4,545.1 1480.4,554.2 1480.5,560.2 1480.6,558.2 1480.6,556.2 1480.7,550.4 1480.8,547.8 1480.9,552.8 1480.9,545.6 1481.0,546.2 1481.1,558.7 1481.2,548.0 1481.2,563.6 1481.3,544.9 1481.4,555.6 1481.5,546.4 1481.5,554.1 1481.6,536.2 1481.7,553.3 1481.7,551.7 1481.8,550.4 1481.9,555.9 1482.0,561.6 1482.0,549.5 1482.1,557.9 1482.2,553.3 1482.3,552.6 1482.3,565.4 1482.4,540.2 1482.5,548.8 1482.6,542.2 1482.6,550.8 1482.7,551.3 1482.8,574.5 1482.8,569.1 1482.9,562.9 1483.0,560.0 1483.1,549.9 1483.1,555.2 1483.2,562.0 1483.3,553.3 1483.4,553.5 1483.4,555.2 1483.5,543.6 1483.6,547.5 1483.6,554.1 1483.7,555.3 1483.8,546.8 1483.9,550.2 1483.9,551.4 1484.0,551.2 1484.1,556.0 1484.2,564.3 1484.2,552.9 1484.3,543.7 1484.4,545.8 1484.5,553.7 1484.5,542.6 1484.6,553.3 1484.7,547.9 1484.7,547.0 1484.8,543.0 1484.9,547.7 1485.0,546.7 1485.0,547.7 1485.1,551.9 1485.2,567.4 1485.3,539.3 1485.3,551.3 1485.4,550.0 1485.5,559.7 1485.6,549.2 1485.6,537.1 1485.7,559.0 1485.8,545.0 1485.8,550.9 1485.9,543.3 1486.0,544.8 1486.1,548.3 1486.1,556.1 1486.2,555.9 1486.3,547.6 1486.4,553.9 1486.4,552.5 1486.5,551.6 1486.6,551.8 1486.6,554.5 1486.7,547.3 1486.8,550.1 1486.9,552.0 1486.9,551.3 1487.0,546.1 1487.1,560.6 1487.2,548.0 1487.2,555.0 1487.3,551.8 1487.4,557.6 1487.5,537.9 1487.5,562.3 1487.6,549.2 1487.7,543.3 1487.7,551.2 1487.8,563.4 1487.9,553.3 1488.0,543.2 1488.0,547.6 1488.1,558.0 1488.2,542.1 1488.3,549.2 1488.3,548.5 1488.4,562.6 1488.5,551.2 1488.6,557.7 1488.6,546.1 1488.7,545.4 1488.8,555.8 1488.8,553.6 1488.9,540.0 1489.0,553.6 1489.1,553.6 1489.1,546.3 1489.2,551.1 1489.3,551.3 1489.4,546.9 1489.4,546.3 1489.5,545.8 1489.6,548.1 1489.6,542.0 1489.7,549.4 1489.8,540.9 1489.9,550.0 1489.9,549.0 1490.0,543.5 1490.1,554.4 1490.2,560.6 1490.2,557.0 1490.3,541.5 1490.4,556.7 1490.5,550.6 1490.5,549.0 1490.6,545.8 1490.7,549.2 1490.7,557.2 1490.8,552.3 1490.9,546.7 1491.0,545.2 1491.0,546.7 1491.1,552.4 1491.2,559.8 1491.3,542.9 1491.3,548.9 1491.4,546.7 1491.5,544.5 1491.6,551.1 1491.6,552.0 1491.7,540.6 1491.8,542.8 1491.8,555.6 1491.9,550.5 1492.0,551.7 1492.1,545.8 1492.1,546.4 1492.2,554.6 1492.3,545.7 1492.4,542.2 1492.4,548.5 1492.5,553.7 1492.6,542.5 1492.6,554.5 1492.7,550.8 1492.8,543.4 1492.9,548.4 1492.9,548.1 1493.0,551.9 1493.1,552.1 1493.2,540.7 1493.2,540.4 1493.3,554.1 1493.4,548.8 1493.5,550.5 1493.5,550.0 1493.6,556.8 1493.7,541.1 1493.7,554.2 1493.8,543.3 1493.9,552.1 1494.0,555.6 1494.0,539.9 1494.1,550.1 1494.2,546.2 1494.3,546.1 1494.3,548.0 1494.4,541.7 1494.5,542.2 1494.6,551.4 1494.6,552.5 1494.7,544.3 1494.8,539.2 1494.8,560.8 1494.9,553.8 1495.0,549.5 1495.1,541.5 1495.1,544.1 1495.2,548.8 1495.3,541.9 1495.4,556.5 1495.4,548.1 1495.5,549.5 1495.6,541.4 1495.6,542.0 1495.7,542.7 1495.8,548.7 1495.9,545.6 1495.9,545.4 1496.0,548.9 1496.1,548.3 1496.2,555.5 1496.2,534.9 1496.3,541.2 1496.4,546.8 1496.5,555.2 1496.5,543.7 1496.6,547.1 1496.7,544.7 1496.7,549.1 1496.8,548.2 1496.9,542.1 1497.0,545.4 1497.0,550.1 1497.1,552.8 1497.2,551.8 1497.3,551.5 1497.3,544.6 1497.4,544.4 1497.5,551.7 1497.6,539.8 1497.6,546.1 1497.7,530.0 1497.8,544.2 1497.8,542.3 1497.9,539.4 1498.0,549.5 1498.1,542.0 1498.1,544.1 1498.2,544.7 1498.3,541.9 1498.4,554.2 1498.4,543.2 1498.5,547.1 1498.6,538.6 1498.6,543.3 1498.7,544.1 1498.8,544.2 1498.9,542.5 1498.9,546.7 1499.0,554.7 1499.1,545.0 1499.2,545.0 1499.2,543.5 1499.3,560.1 1499.4,554.8 1499.5,548.8 1499.5,549.6 1499.6,541.5 1499.7,544.7 1499.7,546.7 1499.8,546.1 1499.9,540.6 1500.0,541.0 1500.0,548.3 1500.1,547.1 1500.2,533.4 1500.3,545.8 1500.3,552.4 1500.4,541.5 1500.5,546.5 1500.6,536.9 1500.6,549.8 1500.7,538.8 1500.8,538.0 1500.8,543.2 1500.9,558.4 1501.0,541.5 1501.1,537.8 1501.1,547.5 1501.2,546.1 1501.3,554.2 1501.4,537.6 1501.4,535.7 1501.5,542.9 1501.6,544.5 1501.6,546.7 1501.7,550.8 1501.8,536.1 1501.9,539.9 1501.9,543.8 1502.0,549.2 1502.1,547.1 1502.2,542.0 1502.2,538.6 1502.3,549.3 1502.4,549.7 1502.5,559.6 1502.5,543.2 1502.6,553.4 1502.7,537.3 1502.7,541.1 1502.8,531.7 1502.9,541.4 1503.0,539.1 1503.0,540.9 1503.1,543.7 1503.2,541.4 1503.3,547.6 1503.3,543.4 1503.4,549.4 1503.5,552.1 1503.6,545.5 1503.6,544.6 1503.7,543.6 1503.8,556.2 1503.8,546.9 1503.9,539.0 1504.0,550.0 1504.1,552.4 1504.1,550.0 1504.2,540.7 1504.3,534.4 1504.4,540.9 1504.4,544.2 1504.5,548.0 1504.6,542.2 1504.6,541.5 1504.7,551.8 1504.8,539.4 1504.9,549.1 1504.9,548.2 1505.0,535.5 1505.1,544.6 1505.2,539.8 1505.2,537.6 1505.3,532.4 1505.4,534.0 1505.5,545.2 1505.5,540.6 1505.6,544.3 1505.7,536.7 1505.7,540.9 1505.8,541.1 1505.9,533.9 1506.0,533.2 1506.0,545.0 1506.1,547.2 1506.2,537.2 1506.3,541.8 1506.3,546.1 1506.4,552.7 1506.5,537.3 1506.6,545.7 1506.6,554.2 1506.7,542.5 1506.8,550.4 1506.8,527.5 1506.9,550.2 1507.0,541.9 1507.1,531.4 1507.1,546.3 1507.2,547.8 1507.3,548.7 1507.4,548.6 1507.4,541.6 1507.5,537.5 1507.6,539.1 1507.6,541.4 1507.7,543.9 1507.8,538.8 1507.9,541.8 1507.9,546.4 1508.0,552.8 1508.1,554.3 1508.2,553.5 1508.2,534.8 1508.3,538.1 1508.4,533.8 1508.5,534.6 1508.5,544.2 1508.6,535.5 1508.7,535.2 1508.7,539.5 1508.8,545.5 1508.9,538.9 1509.0,538.9 1509.0,546.0 1509.1,543.5 1509.2,543.3 1509.3,546.1 1509.3,535.0 1509.4,541.9 1509.5,537.0 1509.5,548.9 1509.6,545.1 1509.7,534.6 1509.8,548.0 1509.8,533.8 1509.9,546.9 1510.0,541.5 1510.1,535.3 1510.1,533.9 1510.2,538.4 1510.3,540.0 1510.4,536.1 1510.4,543.2 1510.5,532.1 1510.6,539.9 1510.6,539.9 1510.7,518.3 1510.8,541.5 1510.9,532.6 1510.9,525.6 1511.0,536.2 1511.1,538.3 1511.2,544.7 1511.2,536.8 1511.3,547.8 1511.4,534.2 1511.5,545.6 1511.5,546.8 1511.6,541.3 1511.7,536.1 1511.7,542.9 1511.8,544.6 1511.9,540.5 1512.0,537.7 1512.0,530.1 1512.1,542.8 1512.2,540.9 1512.3,520.7 1512.3,538.9 1512.4,542.9 1512.5,538.1 1512.5,543.1 1512.6,542.9 1512.7,530.2 1512.8,536.8 1512.8,541.2 1512.9,543.6 1513.0,546.4 1513.1,527.5 1513.1,537.9 1513.2,542.3 1513.3,545.1 1513.4,547.7 1513.4,532.8 1513.5,535.9 1513.6,532.0 1513.6,542.6 1513.7,530.4 1513.8,544.5 1513.9,543.1 1513.9,540.5 1514.0,525.4 1514.1,533.8 1514.2,541.8 1514.2,529.5 1514.3,536.1 1514.4,536.8 1514.5,542.4 1514.5,538.9 1514.6,538.8 1514.7,534.7 1514.7,537.2 1514.8,536.3 1514.9,541.2 1515.0,536.0 1515.0,542.8 1515.1,527.3 1515.2,543.6 1515.3,535.8 1515.3,543.1 1515.4,537.1 1515.5,541.5 1515.5,545.0 1515.6,533.4 1515.7,536.9 1515.8,535.4 1515.8,537.5 1515.9,527.1 1516.0,535.3 1516.1,534.8 1516.1,531.7 1516.2,535.0 1516.3,527.3 1516.4,543.9 1516.4,538.4 1516.5,546.5 1516.6,530.8 1516.6,529.1 1516.7,537.3 1516.8,526.2 1516.9,536.8 1516.9,531.5 1517.0,533.5 1517.1,536.8 1517.2,535.6 1517.2,532.1 1517.3,538.8 1517.4,527.8 1517.5,540.6 1517.5,527.4 1517.6,535.4 1517.7,521.9 1517.7,530.2 1517.8,542.2 1517.9,531.6 1518.0,531.0 1518.0,531.4 1518.1,532.8 1518.2,542.6 1518.3,527.7 1518.3,527.4 1518.4,537.6 1518.5,525.2 1518.5,532.1 1518.6,540.5 1518.7,534.0 1518.8,531.3 1518.8,529.9 1518.9,528.7 1519.0,530.4 1519.1,534.5 1519.1,540.7 1519.2,539.1 1519.3,530.3 1519.4,529.3 1519.4,537.3 1519.5,523.1 1519.6,530.8 1519.6,535.5 1519.7,526.8 1519.8,527.4 1519.9,535.0 1519.9,523.6 1520.0,527.7 1520.1,529.1 1520.2,533.2 1520.2,524.9 1520.3,538.7 1520.4,530.8 1520.5,531.0 1520.5,530.3 1520.6,528.5 1520.7,526.7 1520.7,538.6 1520.8,533.2 1520.9,531.4 1521.0,537.6 1521.0,527.9 1521.1,535.4 1521.2,531.9 1521.3,520.0 1521.3,535.9 1521.4,523.1 1521.5,535.1 1521.5,526.4 1521.6,533.6 1521.7,539.0 1521.8,534.4 1521.8,527.7 1521.9,530.9 1522.0,524.9 1522.1,524.3 1522.1,524.6 1522.2,535.0 1522.3,533.7 1522.4,520.6 1522.4,530.1 1522.5,533.3 1522.6,531.0 1522.6,524.6 1522.7,536.0 1522.8,523.3 1522.9,533.7 1522.9,539.0 1523.0,518.4 1523.1,531.3 1523.2,531.5 1523.2,531.0 1523.3,525.3 1523.4,527.8 1523.5,521.6 1523.5,530.1 1523.6,532.3 1523.7,525.5 1523.7,524.0 1523.8,526.4 1523.9,529.0 1524.0,529.3 1524.0,528.3 1524.1,529.2 1524.2,521.4 1524.3,513.3 1524.3,532.0 1524.4,536.5 1524.5,513.6 1524.5,524.6 1524.6,529.9 1524.7,533.5 1524.8,531.7 1524.8,535.2 1524.9,527.6 1525.0,530.2 1525.1,529.9 1525.1,525.3 1525.2,534.4 1525.3,531.1 1525.4,533.0 1525.4,525.2 1525.5,533.1 1525.6,521.4 1525.6,529.4 1525.7,512.5 1525.8,530.3 1525.9,531.1 1525.9,524.3 1526.0,527.8 1526.1,517.6 1526.2,535.3 1526.2,529.9 1526.3,526.3 1526.4,528.7 1526.5,528.1 1526.5,534.1 1526.6,527.4 1526.7,517.9 1526.7,524.6 1526.8,533.1 1526.9,529.0 1527.0,523.4 1527.0,529.1 1527.1,526.3 1527.2,528.9 1527.3,516.6 1527.3,520.4 1527.4,529.0 1527.5,524.0 1527.5,527.1 1527.6,536.0 1527.7,510.9 1527.8,526.2 1527.8,521.7 1527.9,521.2 1528.0,524.2 1528.1,516.5 1528.1,512.7 1528.2,532.0 1528.3,523.7 1528.4,530.5 1528.4,524.8 1528.5,531.7 1528.6,527.7 1528.6,527.9 1528.7,517.1 1528.8,530.4 1528.9,518.2 1528.9,524.7 1529.0,537.7 1529.1,523.8 1529.2,532.6 1529.2,521.3 1529.3,526.6 1529.4,523.3 1529.5,525.3 1529.5,518.1 1529.6,517.7 1529.7,524.6 1529.7,513.9 1529.8,517.8 1529.9,526.0 1530.0,518.9 1530.0,517.3 1530.1,512.1 1530.2,522.9 1530.3,520.0 1530.3,522.8 1530.4,520.8 1530.5,532.1 1530.5,519.2 1530.6,510.7 1530.7,522.1 1530.8,521.4 1530.8,522.2 1530.9,512.3 1531.0,527.4 1531.1,520.9 1531.1,520.7 1531.2,512.1 1531.3,523.4 1531.4,520.3 1531.4,528.1 1531.5,518.2 1531.6,513.6 1531.6,521.1 1531.7,515.2 1531.8,522.5 1531.9,514.1 1531.9,519.3 1532.0,518.6 1532.1,519.6 1532.2,516.9 1532.2,515.1 1532.3,519.2 1532.4,516.2 1532.5,520.2 1532.5,517.8 1532.6,506.7 1532.7,518.7 1532.7,526.7 1532.8,520.6 1532.9,522.1 1533.0,521.2 1533.0,516.0 1533.1,518.4 1533.2,522.9 1533.3,524.1 1533.3,521.4 1533.4,520.5 1533.5,520.2 1533.5,517.8 1533.6,519.4 1533.7,517.8 1533.8,519.5 1533.8,512.4 1533.9,514.0 1534.0,520.5 1534.1,515.4 1534.1,503.9 1534.2,517.8 1534.3,504.5 1534.4,527.4 1534.4,520.8 1534.5,520.4 1534.6,513.0 1534.6,510.4 1534.7,515.3 1534.8,516.5 1534.9,512.0 1534.9,517.0 1535.0,519.8 1535.1,519.2 1535.2,510.2 1535.2,504.0 1535.3,515.7 1535.4,512.0 1535.5,522.5 1535.5,524.4 1535.6,524.2 1535.7,516.8 1535.7,521.2 1535.8,524.0 1535.9,515.2 1536.0,516.3 1536.0,519.4 1536.1,514.4 1536.2,511.8 1536.3,510.4 1536.3,514.4 1536.4,510.9 1536.5,518.5 1536.5,512.2 1536.6,521.9 1536.7,520.4 1536.8,507.0 1536.8,519.5 1536.9,511.4 1537.0,520.9 1537.1,516.2 1537.1,513.0 1537.2,516.8 1537.3,510.1 1537.4,514.8 1537.4,515.0 1537.5,512.0 1537.6,514.8 1537.6,507.2 1537.7,515.5 1537.8,505.8 1537.9,515.7 1537.9,514.7 1538.0,515.9 1538.1,509.0 1538.2,528.3 1538.2,510.6 1538.3,512.5 1538.4,507.5 1538.5,519.2 1538.5,508.9 1538.6,520.1 1538.7,506.1 1538.7,512.8 1538.8,509.0 1538.9,515.9 1539.0,509.2 1539.0,506.0 1539.1,513.0 1539.2,504.1 1539.3,505.2 1539.3,514.4 1539.4,500.1 1539.5,514.2 1539.5,507.8 1539.6,505.0 1539.7,511.1 1539.8,504.6 1539.8,506.4 1539.9,508.5 1540.0,513.7 1540.1,513.3 1540.1,508.9 1540.2,504.9 1540.3,503.9 1540.4,505.7 1540.4,512.4 1540.5,511.8 1540.6,510.2 1540.6,515.9 1540.7,506.7 1540.8,506.0 1540.9,506.1 1540.9,518.3 1541.0,496.9 1541.1,509.4 1541.2,510.1 1541.2,508.0 1541.3,520.0 1541.4,513.7 1541.5,501.7 1541.5,496.6 1541.6,509.8 1541.7,505.0 1541.7,507.1 1541.8,507.8 1541.9,504.1 1542.0,509.9 1542.0,515.2 1542.1,511.9 1542.2,507.4 1542.3,495.8 1542.3,511.8 1542.4,511.7 1542.5,504.8 1542.5,503.2 1542.6,509.1 1542.7,501.2 1542.8,509.6 1542.8,499.5 1542.9,500.3 1543.0,505.1 1543.1,497.2 1543.1,514.6 1543.2,507.6 1543.3,497.6 1543.4,509.4 1543.4,501.4 1543.5,507.2 1543.6,505.3 1543.6,501.6 1543.7,501.2 1543.8,494.8 1543.9,500.0 1543.9,499.5 1544.0,512.2 1544.1,508.8 1544.2,496.0 1544.2,507.4 1544.3,504.2 1544.4,500.9 1544.5,505.3 1544.5,506.9 1544.6,499.6 1544.7,501.0 1544.7,503.3 1544.8,497.0 1544.9,503.1 1545.0,501.6 1545.0,498.3 1545.1,497.3 1545.2,503.3 1545.3,506.2 1545.3,503.2 1545.4,482.3 1545.5,505.2 1545.5,502.0 1545.6,504.1 1545.7,507.0 1545.8,496.0 1545.8,499.9 1545.9,497.4 1546.0,495.8 1546.1,510.9 1546.1,505.1 1546.2,490.7 1546.3,502.2 1546.4,496.9 1546.4,505.8 1546.5,500.0 1546.6,498.6 1546.6,500.1 1546.7,501.3 1546.8,499.3 1546.9,497.8 1546.9,498.2 1547.0,501.5 1547.1,492.7 1547.2,498.5 1547.2,497.8 1547.3,495.7 1547.4,502.1 1547.5,491.3 1547.5,496.0 1547.6,493.3 1547.7,500.6 1547.7,495.1 1547.8,497.7 1547.9,499.4 1548.0,494.1 1548.0,499.5 1548.1,493.1 1548.2,495.5 1548.3,496.2 1548.3,500.9 1548.4,500.4 1548.5,505.7 1548.5,497.2 1548.6,493.6 1548.7,493.4 1548.8,495.6 1548.8,504.2 1548.9,497.5 1549.0,496.4 1549.1,496.9 1549.1,496.7 1549.2,495.4 1549.3,491.2 1549.4,481.6 1549.4,492.0 1549.5,491.7 1549.6,495.7 1549.6,482.8 1549.7,501.7 1549.8,484.5 1549.9,504.6 1549.9,495.0 1550.0,487.5 1550.1,498.0 1550.2,489.5 1550.2,496.5 1550.3,493.5 1550.4,487.1 1550.4,496.6 1550.5,486.0 1550.6,500.0 1550.7,493.1 1550.7,487.2 1550.8,483.0 1550.9,500.9 1551.0,499.9 1551.0,485.6 1551.1,500.7 1551.2,492.8 1551.3,490.6 1551.3,491.2 1551.4,490.2 1551.5,499.0 1551.5,492.1 1551.6,481.5 1551.7,502.1 1551.8,495.6 1551.8,485.1 1551.9,488.8 1552.0,485.8 1552.1,490.7 1552.1,492.4 1552.2,491.5 1552.3,487.0 1552.4,485.8 1552.4,494.3 1552.5,489.2 1552.6,501.4 1552.6,485.2 1552.7,493.5 1552.8,489.5 1552.9,485.1 1552.9,496.2 1553.0,489.5 1553.1,484.1 1553.2,487.0 1553.2,493.9 1553.3,481.9 1553.4,482.0 1553.4,491.7 1553.5,486.6 1553.6,495.0 1553.7,497.0 1553.7,490.8 1553.8,488.4 1553.9,497.1 1554.0,495.2 1554.0,482.3 1554.1,486.4 1554.2,485.8 1554.3,484.6 1554.3,478.8 1554.4,491.3 1554.5,486.9 1554.5,486.8 1554.6,493.6 1554.7,483.1 1554.8,485.6 1554.8,487.3 1554.9,483.4 1555.0,485.0 1555.1,489.5 1555.1,485.3 1555.2,492.2 1555.3,481.1 1555.4,486.0 1555.4,477.3 1555.5,484.1 1555.6,480.9 1555.6,491.6 1555.7,488.3 1555.8,486.9 1555.9,493.8 1555.9,491.6 1556.0,487.6 1556.1,480.1 1556.2,476.0 1556.2,483.3 1556.3,481.5 1556.4,479.8 1556.4,481.6 1556.5,474.2 1556.6,490.7 1556.7,476.7 1556.7,479.1 1556.8,485.5 1556.9,473.7 1557.0,479.3 1557.0,487.1 1557.1,480.3 1557.2,476.2 1557.3,479.2 1557.3,471.8 1557.4,488.9 1557.5,481.7 1557.5,477.4 1557.6,476.3 1557.7,484.1 1557.8,488.9 1557.8,474.0 1557.9,477.6 1558.0,471.2 1558.1,484.0 1558.1,481.1 1558.2,492.1 1558.3,479.4 1558.4,477.6 1558.4,476.0 1558.5,484.2 1558.6,470.9 1558.6,483.4 1558.7,480.6 1558.8,476.5 1558.9,474.3 1558.9,484.5 1559.0,488.7 1559.1,476.3 1559.2,481.4 1559.2,487.7 1559.3,475.0 1559.4,476.9 1559.4,471.6 1559.5,477.2 1559.6,477.4 1559.7,475.5 1559.7,473.6 1559.8,469.0 1559.9,470.2 1560.0,472.0 1560.0,480.5 1560.1,474.3 1560.2,472.3 1560.3,480.2 1560.3,479.6 1560.4,472.5 1560.5,473.0 1560.5,479.8 1560.6,478.1 1560.7,460.5 1560.8,477.2 1560.8,475.6 1560.9,481.6 1561.0,470.9 1561.1,480.1 1561.1,477.6 1561.2,469.8 1561.3,480.7 1561.4,479.8 1561.4,467.7 1561.5,485.2 1561.6,468.4 1561.6,469.5 1561.7,472.6 1561.8,478.3 1561.9,477.2 1561.9,477.8 1562.0,481.1 1562.1,475.9 1562.2,481.0 1562.2,488.5 1562.3,474.4 1562.4,459.4 1562.4,470.7 1562.5,467.2 1562.6,473.6 1562.7,473.2 1562.7,466.0 1562.8,466.3 1562.9,470.9 1563.0,471.2 1563.0,458.1 1563.1,484.5 1563.2,472.0 1563.3,471.7 1563.3,473.2 1563.4,461.7 1563.5,471.1 1563.5,476.9 1563.6,477.0 1563.7,473.5 1563.8,469.4 1563.8,466.3 1563.9,477.8 1564.0,473.4 1564.1,468.1 1564.1,458.5 1564.2,465.5 1564.3,459.6 1564.4,476.7 1564.4,470.9 1564.5,465.7 1564.6,468.1 1564.6,483.6 1564.7,476.0 1564.8,461.9 1564.9,468.4 1564.9,462.3 1565.0,459.5 1565.1,469.7 1565.2,481.8 1565.2,477.1 1565.3,468.6 1565.4,466.2 1565.4,469.3 1565.5,473.7 1565.6,459.9 1565.7,457.6 1565.7,478.0 1565.8,469.1 1565.9,476.3 1566.0,445.8 1566.0,475.3 1566.1,463.7 1566.2,469.7 1566.3,475.4 1566.3,472.4 1566.4,464.1 1566.5,471.4 1566.5,458.1 1566.6,458.4 1566.7,469.0 1566.8,473.8 1566.8,470.6 1566.9,458.9 1567.0,470.5 1567.1,469.3 1567.1,462.9 1567.2,451.6 1567.3,462.0 1567.4,470.0 1567.4,467.7 1567.5,455.3 1567.6,456.5 1567.6,470.2 1567.7,469.0 1567.8,467.1 1567.9,462.9 1567.9,466.4 1568.0,461.1 1568.1,462.2 1568.2,459.0 1568.2,465.1 1568.3,461.3 1568.4,468.8 1568.4,467.4 1568.5,458.7 1568.6,473.3 1568.7,456.8 1568.7,456.4 1568.8,468.8 1568.9,469.8 1569.0,450.3 1569.0,468.0 1569.1,469.1 1569.2,470.2 1569.3,449.7 1569.3,458.2 1569.4,461.3 1569.5,459.3 1569.5,469.1 1569.6,457.8 1569.7,468.3 1569.8,464.4 1569.8,453.1 1569.9,455.5 1570.0,458.3 1570.1,461.4 1570.1,466.3 1570.2,459.6 1570.3,465.6 1570.4,451.6 1570.4,443.3 1570.5,458.3 1570.6,462.6 1570.6,457.9 1570.7,454.2 1570.8,462.1 1570.9,470.4 1570.9,458.9 1571.0,455.3 1571.1,454.6 1571.2,470.1 1571.2,458.8 1571.3,462.4 1571.4,465.6 1571.4,464.7 1571.5,453.5 1571.6,463.8 1571.7,463.1 1571.7,461.0 1571.8,463.8 1571.9,454.9 1572.0,457.5 1572.0,454.9 1572.1,462.0 1572.2,454.0 1572.3,459.7 1572.3,451.3 1572.4,456.6 1572.5,455.2 1572.5,456.4 1572.6,457.7 1572.7,455.8 1572.8,455.5 1572.8,445.1 1572.9,462.7 1573.0,452.9 1573.1,454.9 1573.1,451.6 1573.2,461.7 1573.3,450.9 1573.4,458.7 1573.4,462.3 1573.5,464.8 1573.6,462.2 1573.6,458.9 1573.7,448.7 1573.8,462.4 1573.9,461.7 1573.9,451.9 1574.0,459.4 1574.1,455.2 1574.2,451.8 1574.2,460.6 1574.3,461.6 1574.4,448.6 1574.4,459.4 1574.5,455.6 1574.6,459.0 1574.7,455.5 1574.7,460.1 1574.8,459.5 1574.9,458.6 1575.0,445.9 1575.0,458.1 1575.1,453.7 1575.2,447.0 1575.3,457.1 1575.3,445.5 1575.4,457.9 1575.5,462.3 1575.5,450.0 1575.6,457.8 1575.7,455.1 1575.8,456.1 1575.8,444.9 1575.9,455.7 1576.0,452.9 1576.1,456.2 1576.1,452.0 1576.2,457.9 1576.3,453.3 1576.4,455.4 1576.4,459.1 1576.5,452.5 1576.6,456.9 1576.6,452.5 1576.7,454.1 1576.8,448.2 1576.9,455.3 1576.9,457.7 1577.0,450.4 1577.1,455.1 1577.2,453.0 1577.2,444.4 1577.3,452.4 1577.4,457.6 1577.4,447.6 1577.5,440.3 1577.6,451.1 1577.7,446.4 1577.7,460.2 1577.8,449.5 1577.9,449.6 1578.0,446.1 1578.0,450.8 1578.1,446.3 1578.2,444.3 1578.3,448.8 1578.3,444.6 1578.4,456.2 1578.5,442.5 1578.5,448.4 1578.6,444.9 1578.7,441.0 1578.8,457.6 1578.8,436.9 1578.9,456.2 1579.0,440.5 1579.1,448.6 1579.1,460.4 1579.2,436.3 1579.3,440.3 1579.4,454.9 1579.4,448.6 1579.5,444.5 1579.6,447.3 1579.6,442.1 1579.7,447.9 1579.8,446.8 1579.9,445.0 1579.9,447.7 1580.0,453.4 1580.1,457.6 1580.2,443.5 1580.2,448.2 1580.3,443.4 1580.4,442.9 1580.4,444.1 1580.5,442.8 1580.6,436.7 1580.7,435.2 1580.7,442.0 1580.8,446.6 1580.9,452.4 1581.0,442.8 1581.0,444.7 1581.1,449.1 1581.2,449.4 1581.3,444.7 1581.3,444.9 1581.4,455.3 1581.5,443.2 1581.5,442.3 1581.6,436.0 1581.7,447.1 1581.8,443.3 1581.8,455.0 1581.9,442.7 1582.0,448.8 1582.1,449.4 1582.1,453.2 1582.2,437.0 1582.3,452.6 1582.4,444.1 1582.4,443.3 1582.5,442.1 1582.6,441.6 1582.6,441.8 1582.7,430.9 1582.8,446.2 1582.9,443.7 1582.9,438.1 1583.0,442.9 1583.1,455.6 1583.2,445.1 1583.2,440.9 1583.3,452.2 1583.4,438.5 1583.4,441.9 1583.5,439.6 1583.6,441.3 1583.7,446.4 1583.7,445.1 1583.8,438.3 1583.9,441.5 1584.0,442.6 1584.0,439.8 1584.1,441.8 1584.2,438.0 1584.3,437.8 1584.3,442.0 1584.4,436.1 1584.5,443.8 1584.5,438.8 1584.6,436.4 1584.7,438.0 1584.8,438.7 1584.8,440.3 1584.9,441.7 1585.0,439.9 1585.1,436.2 1585.1,448.6 1585.2,445.7 1585.3,441.3 1585.4,445.7 1585.4,442.3 1585.5,439.1 1585.6,440.8 1585.6,454.7 1585.7,445.6 1585.8,445.8 1585.9,438.0 1585.9,443.2 1586.0,452.1 1586.1,442.2 1586.2,445.6 1586.2,453.6 1586.3,443.1 1586.4,448.0 1586.4,440.7 1586.5,442.1 1586.6,436.0 1586.7,453.4 1586.7,440.8 1586.8,439.7 1586.9,446.5 1587.0,436.4 1587.0,438.9 1587.1,434.6 1587.2,438.9 1587.3,436.6 1587.3,441.5 1587.4,437.9 1587.5,435.3 1587.5,436.8 1587.6,437.7 1587.7,435.5 1587.8,443.2 1587.8,441.7 1587.9,438.9 1588.0,426.6 1588.1,440.7 1588.1,431.0 1588.2,438.8 1588.3,438.0 1588.3,434.5 1588.4,433.2 1588.5,433.8 1588.6,448.5 1588.6,436.0 1588.7,436.2 1588.8,442.4 1588.9,445.2 1588.9,442.8 1589.0,430.5 1589.1,431.2 1589.2,454.7 1589.2,436.7 1589.3,435.3 1589.4,437.6 1589.4,442.0 1589.5,430.3 1589.6,438.1 1589.7,436.4 1589.7,440.1 1589.8,437.3 1589.9,433.5 1590.0,431.7 1590.0,423.2 1590.1,441.4 1590.2,428.3 1590.3,433.9 1590.3,444.9 1590.4,433.7 1590.5,439.1 1590.5,434.7 1590.6,439.5 1590.7,435.9 1590.8,432.9 1590.8,442.8 1590.9,434.1 1591.0,422.5 1591.1,433.7 1591.1,438.2 1591.2,429.4 1591.3,439.4 1591.3,439.3 1591.4,446.4 1591.5,436.8 1591.6,438.6 1591.6,426.1 1591.7,432.7 1591.8,435.5 1591.9,437.0 1591.9,434.5 1592.0,434.3 1592.1,431.4 1592.2,432.3 1592.2,420.0 1592.3,437.5 1592.4,437.9 1592.4,439.7 1592.5,440.7 1592.6,424.8 1592.7,431.5 1592.7,433.4 1592.8,430.8 1592.9,439.7 1593.0,438.1 1593.0,433.5 1593.1,434.7 1593.2,440.7 1593.3,432.1 1593.3,432.2 1593.4,438.6 1593.5,436.3 1593.5,441.3 1593.6,435.7 1593.7,417.6 1593.8,430.7 1593.8,428.6 1593.9,433.5 1594.0,419.5 1594.1,435.6 1594.1,438.6 1594.2,433.8 1594.3,432.2 1594.3,439.0 1594.4,433.0 1594.5,438.4 1594.6,444.8 1594.6,437.0 1594.7,438.1 1594.8,435.7 1594.9,434.4 1594.9,434.5 1595.0,433.3 1595.1,438.6 1595.2,424.4 1595.2,431.4 1595.3,436.3 1595.4,428.3 1595.4,432.2 1595.5,429.1 1595.6,435.0 1595.7,437.3 1595.7,440.4 1595.8,435.4 1595.9,428.9 1596.0,434.1" fill="none" stroke="#009944" stroke-width="1.4" stroke-linejoin="round" stroke-linejoin="bevel"/>
<polyline points="1327.0,417.9 1327.3,418.1 1327.7,418.2 1328.0,418.4 1328.3,418.6 1328.7,418.8 1329.0,419.0 1329.4,419.2 1329.7,419.4 1330.0,419.6 1330.4,419.8 1330.7,420.0 1331.0,420.2 1331.4,420.5 1331.7,420.7 1332.0,420.9 1332.4,421.1 1332.7,421.3 1333.0,421.6 1333.4,421.8 1333.7,422.0 1334.1,422.3 1334.4,422.5 1334.7,422.8 1335.1,423.0 1335.4,423.2 1335.7,423.5 1336.1,423.7 1336.4,424.0 1336.7,424.3 1337.1,424.5 1337.4,424.8 1337.8,425.1 1338.1,425.3 1338.4,425.6 1338.8,425.9 1339.1,426.2 1339.4,426.4 1339.8,426.7 1340.1,427.0 1340.4,427.3 1340.8,427.6 1341.1,427.9 1341.4,428.2 1341.8,428.5 1342.1,428.8 1342.5,429.1 1342.8,429.5 1343.1,429.8 1343.5,430.1 1343.8,430.4 1344.1,430.7 1344.5,431.1 1344.8,431.4 1345.1,431.8 1345.5,432.1 1345.8,432.4 1346.2,432.8 1346.5,433.1 1346.8,433.5 1347.2,433.9 1347.5,434.2 1347.8,434.6 1348.2,435.0 1348.5,435.3 1348.8,435.7 1349.2,436.1 1349.5,436.5 1349.9,436.9 1350.2,437.3 1350.5,437.7 1350.9,438.1 1351.2,438.5 1351.5,438.9 1351.9,439.3 1352.2,439.7 1352.5,440.1 1352.9,440.6 1353.2,441.0 1353.5,441.4 1353.9,441.8 1354.2,442.3 1354.6,442.7 1354.9,443.2 1355.2,443.6 1355.6,444.1 1355.9,444.5 1356.2,445.0 1356.6,445.5 1356.9,446.0 1357.2,446.4 1357.6,446.9 1357.9,447.4 1358.3,447.9 1358.6,448.4 1358.9,448.9 1359.3,449.4 1359.6,449.9 1359.9,450.4 1360.3,450.9 1360.6,451.4 1360.9,452.0 1361.3,452.5 1361.6,453.0 1361.9,453.6 1362.3,454.1 1362.6,454.6 1363.0,455.2 1363.3,455.8 1363.6,456.3 1364.0,456.9 1364.3,457.4 1364.6,458.0 1365.0,458.6 1365.3,459.2 1365.6,459.8 1366.0,460.4 1366.3,461.0 1366.7,461.6 1367.0,462.2 1367.3,462.8 1367.7,463.4 1368.0,464.0 1368.3,464.7 1368.7,465.3 1369.0,465.9 1369.3,466.6 1369.7,467.2 1370.0,467.9 1370.3,468.5 1370.7,469.2 1371.0,469.8 1371.4,470.5 1371.7,471.2 1372.0,471.9 1372.4,472.6 1372.7,473.2 1373.0,473.9 1373.4,474.6 1373.7,475.3 1374.0,476.0 1374.4,476.8 1374.7,477.5 1375.1,478.2 1375.4,478.9 1375.7,479.6 1376.1,480.4 1376.4,481.1 1376.7,481.8 1377.1,482.6 1377.4,483.3 1377.7,484.1 1378.1,484.8 1378.4,485.6 1378.8,486.3 1379.1,487.1 1379.4,487.8 1379.8,488.6 1380.1,489.3 1380.4,490.1 1380.8,490.9 1381.1,491.6 1381.4,492.4 1381.8,493.1 1382.1,493.9 1382.4,494.7 1382.8,495.4 1383.1,496.2 1383.5,497.0 1383.8,497.8 1384.1,498.5 1384.5,499.3 1384.8,500.1 1385.1,500.8 1385.5,501.6 1385.8,502.4 1386.1,503.1 1386.5,503.9 1386.8,504.7 1387.2,505.5 1387.5,506.2 1387.8,507.0 1388.2,507.7 1388.5,508.5 1388.8,509.3 1389.2,510.0 1389.5,510.8 1389.8,511.5 1390.2,512.3 1390.5,513.0 1390.8,513.8 1391.2,514.5 1391.5,515.3 1391.9,516.0 1392.2,516.8 1392.5,517.5 1392.9,518.2 1393.2,519.0 1393.5,519.7 1393.9,520.4 1394.2,521.1 1394.5,521.8 1394.9,522.6 1395.2,523.3 1395.6,524.0 1395.9,524.7 1396.2,525.4 1396.6,526.1 1396.9,526.7 1397.2,527.4 1397.6,528.1 1397.9,528.8 1398.2,529.4 1398.6,530.1 1398.9,530.8 1399.2,531.4 1399.6,532.1 1399.9,532.7 1400.3,533.3 1400.6,534.0 1400.9,534.6 1401.3,535.2 1401.6,535.8 1401.9,536.4 1402.3,537.0 1402.6,537.6 1402.9,538.2 1403.3,538.7 1403.6,539.3 1404.0,539.9 1404.3,540.4 1404.6,541.0 1405.0,541.5 1405.3,542.0 1405.6,542.6 1406.0,543.1 1406.3,543.6 1406.6,544.1 1407.0,544.6 1407.3,545.1 1407.7,545.6 1408.0,546.0 1408.3,546.5 1408.7,546.9 1409.0,547.4 1409.3,547.8 1409.7,548.3 1410.0,548.7 1410.3,549.1 1410.7,549.5 1411.0,549.9 1411.3,550.3 1411.7,550.7 1412.0,551.1 1412.4,551.5 1412.7,551.9 1413.0,552.2 1413.4,552.6 1413.7,552.9 1414.0,553.3 1414.4,553.6 1414.7,554.0 1415.0,554.3 1415.4,554.6 1415.7,554.9 1416.1,555.3 1416.4,555.6 1416.7,555.9 1417.1,556.2 1417.4,556.4 1417.7,556.7 1418.1,557.0 1418.4,557.3 1418.7,557.5 1419.1,557.8 1419.4,558.1 1419.7,558.3 1420.1,558.6 1420.4,558.8 1420.8,559.0 1421.1,559.3 1421.4,559.5 1421.8,559.7 1422.1,559.9 1422.4,560.1 1422.8,560.3 1423.1,560.5 1423.4,560.7 1423.8,560.9 1424.1,561.1 1424.5,561.3 1424.8,561.5 1425.1,561.7 1425.5,561.8 1425.8,562.0 1426.1,562.2 1426.5,562.3 1426.8,562.5 1427.1,562.6 1427.5,562.8 1427.8,562.9 1428.1,563.1 1428.5,563.2 1428.8,563.3 1429.2,563.4 1429.5,563.6 1429.8,563.7 1430.2,563.8 1430.5,563.9 1430.8,564.0 1431.2,564.1 1431.5,564.3 1431.8,564.4 1432.2,564.5 1432.5,564.6 1432.9,564.6 1433.2,564.7 1433.5,564.8 1433.9,564.9 1434.2,565.0 1434.5,565.1 1434.9,565.1 1435.2,565.2 1435.5,565.3 1435.9,565.4 1436.2,565.4 1436.6,565.5 1436.9,565.6 1437.2,565.6 1437.6,565.7 1437.9,565.7 1438.2,565.8 1438.6,565.9 1438.9,565.9 1439.2,566.0 1439.6,566.0 1439.9,566.1 1440.2,566.1 1440.6,566.1 1440.9,566.2 1441.3,566.2 1441.6,566.3 1441.9,566.3 1442.3,566.3 1442.6,566.4 1442.9,566.4 1443.3,566.4 1443.6,566.5 1443.9,566.5 1444.3,566.5 1444.6,566.5 1445.0,566.6 1445.3,566.6 1445.6,566.6 1446.0,566.6 1446.3,566.7 1446.6,566.7 1447.0,566.7 1447.3,566.7 1447.6,566.7 1448.0,566.7 1448.3,566.7 1448.6,566.7 1449.0,566.7 1449.3,566.7 1449.7,566.7 1450.0,566.7 1450.3,566.7 1450.7,566.7 1451.0,566.7 1451.3,566.7 1451.7,566.7 1452.0,566.7 1452.3,566.7 1452.7,566.7 1453.0,566.7 1453.4,566.7 1453.7,566.7 1454.0,566.7 1454.4,566.6 1454.7,566.6 1455.0,566.6 1455.4,566.6 1455.7,566.6 1456.0,566.5 1456.4,566.5 1456.7,566.5 1457.0,566.5 1457.4,566.4 1457.7,566.4 1458.1,566.4 1458.4,566.4 1458.7,566.3 1459.1,566.3 1459.4,566.3 1459.7,566.2 1460.1,566.2 1460.4,566.1 1460.7,566.1 1461.1,566.1 1461.4,566.0 1461.8,566.0 1462.1,565.9 1462.4,565.9 1462.8,565.8 1463.1,565.8 1463.4,565.7 1463.8,565.7 1464.1,565.6 1464.4,565.6 1464.8,565.5 1465.1,565.5 1465.5,565.4 1465.8,565.4 1466.1,565.3 1466.5,565.3 1466.8,565.2 1467.1,565.1 1467.5,565.1 1467.8,565.0 1468.1,565.0 1468.5,564.9 1468.8,564.8 1469.1,564.8 1469.5,564.7 1469.8,564.6 1470.2,564.6 1470.5,564.5 1470.8,564.4 1471.2,564.4 1471.5,564.3 1471.8,564.2 1472.2,564.1 1472.5,564.1 1472.8,564.0 1473.2,563.9 1473.5,563.8 1473.9,563.7 1474.2,563.7 1474.5,563.6 1474.9,563.5 1475.2,563.4 1475.5,563.3 1475.9,563.3 1476.2,563.2 1476.5,563.1 1476.9,563.0 1477.2,562.9 1477.5,562.8 1477.9,562.7 1478.2,562.6 1478.6,562.5 1478.9,562.5 1479.2,562.4 1479.6,562.3 1479.9,562.2 1480.2,562.1 1480.6,562.0 1480.9,561.9 1481.2,561.8 1481.6,561.7 1481.9,561.6 1482.3,561.5 1482.6,561.4 1482.9,561.2 1483.3,561.1 1483.6,561.0 1483.9,560.9 1484.3,560.8 1484.6,560.7 1484.9,560.6 1485.3,560.5 1485.6,560.3 1485.9,560.2 1486.3,560.1 1486.6,560.0 1487.0,559.9 1487.3,559.7 1487.6,559.6 1488.0,559.5 1488.3,559.4 1488.6,559.2 1489.0,559.1 1489.3,559.0 1489.6,558.8 1490.0,558.7 1490.3,558.6 1490.7,558.4 1491.0,558.3 1491.3,558.1 1491.7,558.0 1492.0,557.8 1492.3,557.7 1492.7,557.5 1493.0,557.4 1493.3,557.2 1493.7,557.1 1494.0,556.9 1494.4,556.8 1494.7,556.6 1495.0,556.5 1495.4,556.3 1495.7,556.1 1496.0,556.0 1496.4,555.8 1496.7,555.6 1497.0,555.5 1497.4,555.3 1497.7,555.1 1498.0,555.0 1498.4,554.8 1498.7,554.6 1499.1,554.4 1499.4,554.2 1499.7,554.0 1500.1,553.9 1500.4,553.7 1500.7,553.5 1501.1,553.3 1501.4,553.1 1501.7,552.9 1502.1,552.7 1502.4,552.5 1502.8,552.3 1503.1,552.1 1503.4,551.9 1503.8,551.7 1504.1,551.5 1504.4,551.3 1504.8,551.0 1505.1,550.8 1505.4,550.6 1505.8,550.4 1506.1,550.2 1506.4,549.9 1506.8,549.7 1507.1,549.5 1507.5,549.3 1507.8,549.0 1508.1,548.8 1508.5,548.5 1508.8,548.3 1509.1,548.1 1509.5,547.8 1509.8,547.6 1510.1,547.3 1510.5,547.1 1510.8,546.8 1511.2,546.6 1511.5,546.3 1511.8,546.0 1512.2,545.8 1512.5,545.5 1512.8,545.2 1513.2,545.0 1513.5,544.7 1513.8,544.4 1514.2,544.2 1514.5,543.9 1514.8,543.6 1515.2,543.3 1515.5,543.0 1515.9,542.7 1516.2,542.4 1516.5,542.1 1516.9,541.8 1517.2,541.5 1517.5,541.2 1517.9,540.9 1518.2,540.6 1518.5,540.3 1518.9,540.0 1519.2,539.7 1519.6,539.4 1519.9,539.1 1520.2,538.7 1520.6,538.4 1520.9,538.1 1521.2,537.7 1521.6,537.4 1521.9,537.1 1522.2,536.7 1522.6,536.4 1522.9,536.0 1523.3,535.7 1523.6,535.3 1523.9,535.0 1524.3,534.6 1524.6,534.3 1524.9,533.9 1525.3,533.6 1525.6,533.2 1525.9,532.8 1526.3,532.4 1526.6,532.1 1526.9,531.7 1527.3,531.3 1527.6,530.9 1528.0,530.5 1528.3,530.1 1528.6,529.7 1529.0,529.3 1529.3,528.9 1529.6,528.5 1530.0,528.1 1530.3,527.7 1530.6,527.3 1531.0,526.9 1531.3,526.5 1531.7,526.1 1532.0,525.6 1532.3,525.2 1532.7,524.8 1533.0,524.3 1533.3,523.9 1533.7,523.5 1534.0,523.0 1534.3,522.6 1534.7,522.1 1535.0,521.7 1535.3,521.2 1535.7,520.8 1536.0,520.3 1536.4,519.8 1536.7,519.4 1537.0,518.9 1537.4,518.4 1537.7,517.9 1538.0,517.4 1538.4,517.0 1538.7,516.5 1539.0,516.0 1539.4,515.5 1539.7,515.0 1540.1,514.5 1540.4,514.0 1540.7,513.5 1541.1,512.9 1541.4,512.4 1541.7,511.9 1542.1,511.4 1542.4,510.9 1542.7,510.3 1543.1,509.8 1543.4,509.2 1543.7,508.7 1544.1,508.2 1544.4,507.6 1544.8,507.1 1545.1,506.5 1545.4,506.0 1545.8,505.4 1546.1,504.8 1546.4,504.3 1546.8,503.7 1547.1,503.2 1547.4,502.6 1547.8,502.0 1548.1,501.4 1548.5,500.9 1548.8,500.3 1549.1,499.7 1549.5,499.1 1549.8,498.5 1550.1,497.9 1550.5,497.4 1550.8,496.8 1551.1,496.2 1551.5,495.6 1551.8,495.0 1552.2,494.4 1552.5,493.8 1552.8,493.2 1553.2,492.6 1553.5,492.0 1553.8,491.4 1554.2,490.8 1554.5,490.2 1554.8,489.6 1555.2,489.0 1555.5,488.4 1555.8,487.8 1556.2,487.2 1556.5,486.6 1556.9,486.0 1557.2,485.4 1557.5,484.8 1557.9,484.2 1558.2,483.6 1558.5,483.0 1558.9,482.3 1559.2,481.7 1559.5,481.1 1559.9,480.5 1560.2,479.9 1560.6,479.3 1560.9,478.7 1561.2,478.1 1561.6,477.5 1561.9,476.9 1562.2,476.3 1562.6,475.7 1562.9,475.1 1563.2,474.5 1563.6,473.9 1563.9,473.3 1564.2,472.7 1564.6,472.1 1564.9,471.5 1565.3,471.0 1565.6,470.4 1565.9,469.8 1566.3,469.2 1566.6,468.6 1566.9,468.0 1567.3,467.4 1567.6,466.9 1567.9,466.3 1568.3,465.7 1568.6,465.1 1569.0,464.6 1569.3,464.0 1569.6,463.4 1570.0,462.9 1570.3,462.3 1570.6,461.8 1571.0,461.2 1571.3,460.7 1571.6,460.1 1572.0,459.6 1572.3,459.0 1572.6,458.5 1573.0,457.9 1573.3,457.4 1573.7,456.9 1574.0,456.3 1574.3,455.8 1574.7,455.3 1575.0,454.8 1575.3,454.3 1575.7,453.8 1576.0,453.3 1576.3,452.8 1576.7,452.3 1577.0,451.8 1577.4,451.3 1577.7,450.8 1578.0,450.3 1578.4,449.8 1578.7,449.4 1579.0,448.9 1579.4,448.4 1579.7,448.0 1580.0,447.5 1580.4,447.1 1580.7,446.6 1581.1,446.2 1581.4,445.7 1581.7,445.3 1582.1,444.9 1582.4,444.5 1582.7,444.0 1583.1,443.6 1583.4,443.2 1583.7,442.8 1584.1,442.4 1584.4,442.0 1584.7,441.6 1585.1,441.3 1585.4,440.9 1585.8,440.5 1586.1,440.2 1586.4,439.8 1586.8,439.5 1587.1,439.1 1587.4,438.8 1587.8,438.5 1588.1,438.1 1588.4,437.8 1588.8,437.5 1589.1,437.2 1589.5,436.9 1589.8,436.6 1590.1,436.3 1590.5,436.0 1590.8,435.8 1591.1,435.5 1591.5,435.3 1591.8,435.0 1592.1,434.8 1592.5,434.5 1592.8,434.3 1593.1,434.1 1593.5,433.9 1593.8,433.7 1594.2,433.5 1594.5,433.3 1594.8,433.1 1595.2,432.9 1595.5,432.7" fill="none" stroke="#4d4d4d" stroke-width="7.0" stroke-linejoin="round" />
<rect x="1325.5" y="387.6" width="271.5" height="232.79999999999995" fill="none" stroke="#000" stroke-width="2.2"/>
<line x1="1597.00" y1="387.60" x2="1597.00" y2="620.40" stroke="#000" stroke-width="3.2" stroke-linecap="butt"/>
<line x1="1346.20" y1="387.60" x2="1346.20" y2="400.10" stroke="#000" stroke-width="2.2" stroke-linecap="butt"/>
<line x1="1346.20" y1="620.40" x2="1346.20" y2="607.90" stroke="#000" stroke-width="2.2" stroke-linecap="butt"/>
<line x1="1408.60" y1="387.60" x2="1408.60" y2="400.10" stroke="#000" stroke-width="2.2" stroke-linecap="butt"/>
<line x1="1408.60" y1="620.40" x2="1408.60" y2="607.90" stroke="#000" stroke-width="2.2" stroke-linecap="butt"/>
<line x1="1471.00" y1="387.60" x2="1471.00" y2="400.10" stroke="#000" stroke-width="2.2" stroke-linecap="butt"/>
<line x1="1471.00" y1="620.40" x2="1471.00" y2="607.90" stroke="#000" stroke-width="2.2" stroke-linecap="butt"/>
<line x1="1533.40" y1="387.60" x2="1533.40" y2="400.10" stroke="#000" stroke-width="2.2" stroke-linecap="butt"/>
<line x1="1533.40" y1="620.40" x2="1533.40" y2="607.90" stroke="#000" stroke-width="2.2" stroke-linecap="butt"/>
<line x1="1595.80" y1="387.60" x2="1595.80" y2="400.10" stroke="#000" stroke-width="2.2" stroke-linecap="butt"/>
<line x1="1595.80" y1="620.40" x2="1595.80" y2="607.90" stroke="#000" stroke-width="2.2" stroke-linecap="butt"/>
<line x1="1325.50" y1="431.40" x2="1336.50" y2="431.40" stroke="#000" stroke-width="2.2" stroke-linecap="butt"/>
<line x1="1597.00" y1="431.40" x2="1586.00" y2="431.40" stroke="#000" stroke-width="2.2" stroke-linecap="butt"/>
<line x1="1325.50" y1="513.80" x2="1336.50" y2="513.80" stroke="#000" stroke-width="2.2" stroke-linecap="butt"/>
<line x1="1597.00" y1="513.80" x2="1586.00" y2="513.80" stroke="#000" stroke-width="2.2" stroke-linecap="butt"/>
<line x1="1325.50" y1="596.20" x2="1336.50" y2="596.20" stroke="#000" stroke-width="2.2" stroke-linecap="butt"/>
<line x1="1597.00" y1="596.20" x2="1586.00" y2="596.20" stroke="#000" stroke-width="2.2" stroke-linecap="butt"/>
<text x="1381.26" y="427.10" font-size="41.50" textLength="164.49" lengthAdjust="spacingAndGlyphs" font-family='"Liberation Sans", Arial, Helvetica, sans-serif' fill="#009944">Pyranine</text>
<text x="1304.66" y="437.00" font-size="22.50" textLength="14.44" lengthAdjust="spacingAndGlyphs" font-family='"Liberation Sans", Arial, Helvetica, sans-serif'>0</text>
<text x="1297.77" y="521.00" font-size="22.50" textLength="24.24" lengthAdjust="spacingAndGlyphs" font-family='"Liberation Sans", Arial, Helvetica, sans-serif'>-2</text>
<text x="1297.81" y="603.80" font-size="22.50" textLength="23.57" lengthAdjust="spacingAndGlyphs" font-family='"Liberation Sans", Arial, Helvetica, sans-serif'>-4</text>
<text x="1319.07" y="644.80" font-size="25.50" textLength="35.76" lengthAdjust="spacingAndGlyphs" font-family='"Liberation Sans", Arial, Helvetica, sans-serif'>0.1</text>
<text x="1391.50" y="644.80" font-size="25.50" textLength="10.42" lengthAdjust="spacingAndGlyphs" font-family='"Liberation Sans", Arial, Helvetica, sans-serif'>1</text>
<text x="1446.96" y="644.80" font-size="25.50" textLength="27.32" lengthAdjust="spacingAndGlyphs" font-family='"Liberation Sans", Arial, Helvetica, sans-serif'>10</text>
<text x="1505.14" y="644.80" font-size="25.50" textLength="41.31" lengthAdjust="spacingAndGlyphs" font-family='"Liberation Sans", Arial, Helvetica, sans-serif'>100</text>
<text x="1555.21" y="644.80" font-size="25.50" textLength="59.04" lengthAdjust="spacingAndGlyphs" font-family='"Liberation Sans", Arial, Helvetica, sans-serif'>1000</text>
<text x="1384.68" y="669.90" font-size="31.00" textLength="177.58" lengthAdjust="spacingAndGlyphs" font-family='"Liberation Sans", Arial, Helvetica, sans-serif'>Time (msec)</text>
<text x="-648.89" y="1292.60" font-size="32.60" font-family='"Liberation Sans", Arial, Helvetica, sans-serif' transform="rotate(-90)">Diff. Abs. (mOD)</text>
</svg></body></html>
